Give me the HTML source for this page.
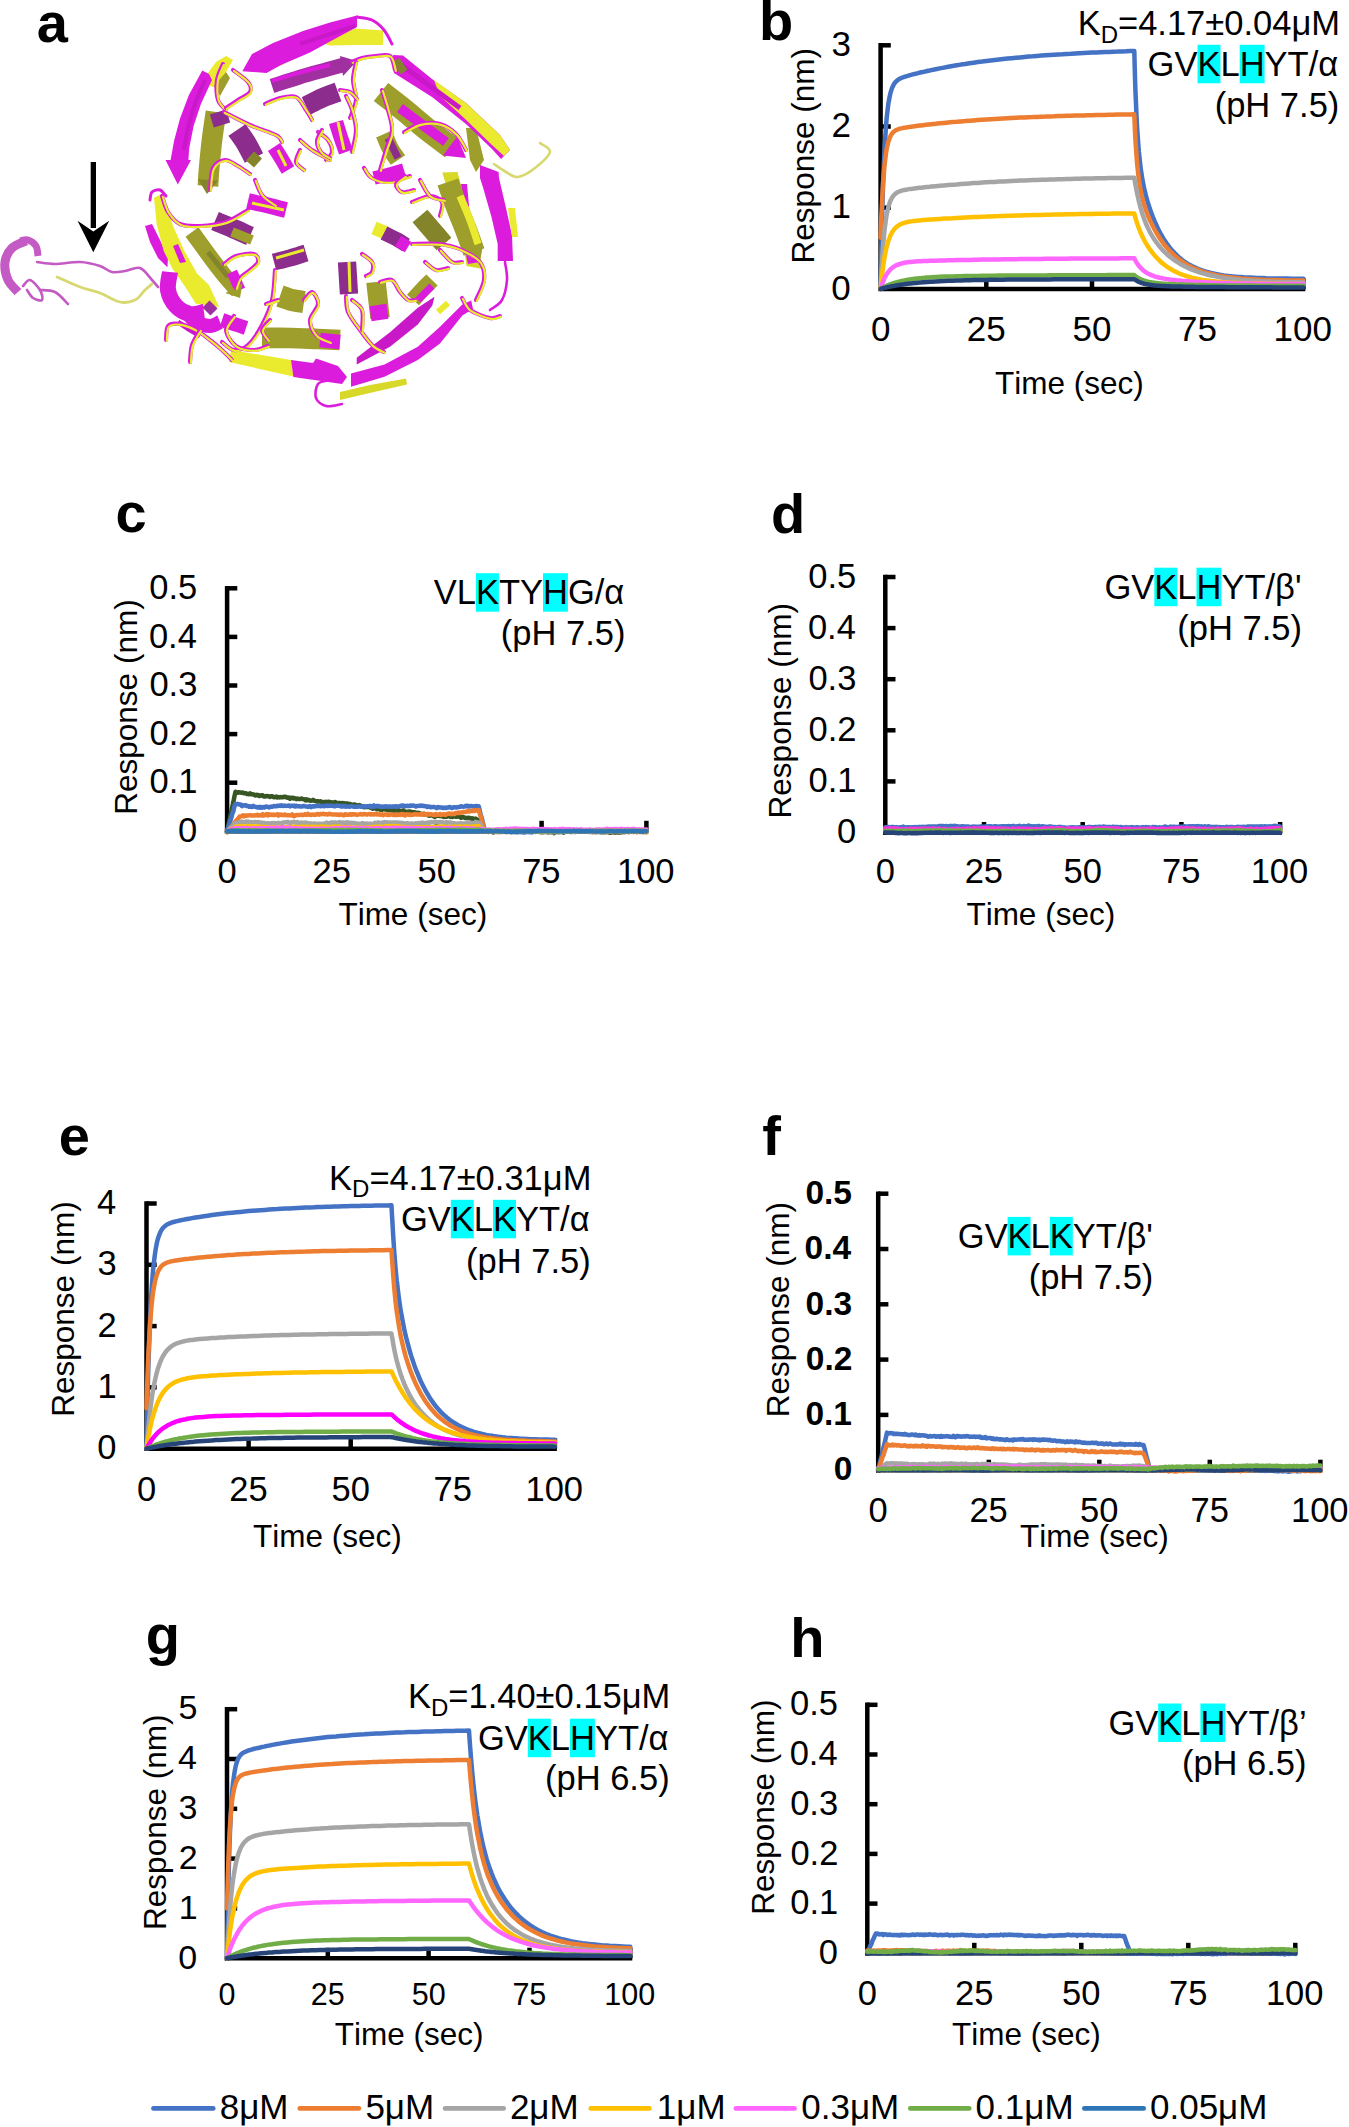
<!DOCTYPE html>
<html><head><meta charset="utf-8"><title>Figure</title>
<style>
html,body{margin:0;padding:0;background:#fff;}
body{width:1349px;height:2127px;overflow:hidden;}
svg{display:block;}
svg text{font-family:"Liberation Sans", sans-serif;font-kerning:none;}
</style></head><body>
<svg width="1349" height="2127" viewBox="0 0 1349 2127">
<rect width="1349" height="2127" fill="#fff"/>
<path d="M26 241 C23.7 242.2 15.5 244.5 12 248 C8.5 251.5 5.7 256.7 5 262 C4.3 267.3 5.8 275 8 280 C10.2 285 16.3 290 18 292" fill="none" stroke="#C45AC4" stroke-width="9" stroke-linecap="butt" stroke-linejoin="round"/>
<path d="M20 241 C21.3 240.8 25.3 239.2 28 240 C30.7 240.8 34.3 243.3 36 246 C37.7 248.7 37.7 254.3 38 256" fill="none" stroke="#C45AC4" stroke-width="7" stroke-linecap="butt" stroke-linejoin="round"/>
<path d="M37 262 C40 262.3 47.8 264 55 264 C62.2 264 72.5 261.7 80 262 C87.5 262.3 94.7 264.3 100 266 C105.3 267.7 107.8 271.2 112 272 C116.2 272.8 120.3 271.7 125 271 C129.7 270.3 135.5 266.5 140 268 C144.5 269.5 149 276.8 152 280 C155 283.2 157 285.8 158 287" fill="none" stroke="#C45AC4" stroke-width="2.6" stroke-linecap="round" stroke-linejoin="round"/>
<path d="M57 277 C60.8 278.7 72.8 284.3 80 287 C87.2 289.7 93.3 290.5 100 293 C106.7 295.5 114.2 300.8 120 302 C125.8 303.2 130.8 302 135 300 C139.2 298 142.2 292.7 145 290 C147.8 287.3 150.8 285 152 284" fill="none" stroke="#D8D870" stroke-width="2.8" stroke-linecap="round" stroke-linejoin="round"/>
<path d="M23 286 C24.2 285 27.2 279.3 30 280 C32.8 280.7 38 286.7 40 290 C42 293.3 43.2 298.7 42 300 C40.8 301.3 35.5 299.7 33 298 C30.5 296.3 28 291.3 27 290" fill="none" stroke="#C45AC4" stroke-width="2.6" stroke-linecap="round" stroke-linejoin="round"/>
<path d="M40 290 C42.5 290.3 50.3 289.7 55 292 C59.7 294.3 65.8 302 68 304" fill="none" stroke="#C45AC4" stroke-width="2.6" stroke-linecap="round" stroke-linejoin="round"/>
<rect x="90.7" y="162" width="5.3" height="66" fill="#000"/>
<polygon points="77.5,220.7 93.3,231.4 109.2,220.7 93.3,252.2" fill="#000"/>
<polygon points="383,30.5 356,28.5 330,36.5 316,41.5 330,45.5 356,45 383,45" fill="#EAEA2E"/>
<polygon points="265,62 281,58 283,65 268,67.5" fill="#EAEA2E"/>
<polygon points="357,15.5 330,22.5 303,31 273,43 252,54 242.3,71.2 266.5,73 281,65 310,52.5 330,41.5 357,27" fill="#DC1CDC"/>
<path d="M300 44 C305 42.3 320.8 37 330 34 C339.2 31 350.8 27.3 355 26" fill="none" stroke="#C818C8" stroke-width="4" stroke-linecap="butt" stroke-linejoin="round"/>
<path d="M357 17 C359.5 17.5 367.5 17.8 372 20 C376.5 22.2 380.7 26 384 30 C387.3 34 390.7 41.7 392 44" fill="none" stroke="#DC1CDC" stroke-width="3" stroke-linecap="round" stroke-linejoin="round"/>
<polygon points="208,73 216,62 226,56 233,60 226,72 216,88 210,86" fill="#EAEA2E"/>
<polygon points="214,86 226,72 230,78 220,96" fill="#9E9E2C"/>
<polygon points="202.3,70.5 188.9,94.9 180,118.6 174.1,140.8 170.6,160.1 165.5,160.1 177.8,184.5 191,160.1 188.4,160.1 189.2,148.3 193.6,126 201,103.8 212,80.1 209,74" fill="#DC1CDC"/>
<path d="M205 80 C203.3 84 197.8 96 195 104 C192.2 112 189.8 120.3 188 128 C186.2 135.7 184.7 146.3 184 150" fill="none" stroke="#C818C8" stroke-width="4" stroke-linecap="butt" stroke-linejoin="round"/>
<polygon points="145,226 152,224 160,240 168,258 167.4,267.2 158,258 150,242" fill="#DC1CDC"/>
<polygon points="154,197.8 156.7,224.5 163.8,251.2 172.7,269 185.2,286.8 195.8,303.7 219,307 209,285 197,273.4 184.5,251.2 173,226 167,205 161,194.2" fill="#EAEA2E"/>
<polygon points="173,246 178,244 186,262 180,263" fill="#DC1CDC"/>
<path d="M150 200 C150.3 198.7 150.3 193.7 152 192 C153.7 190.3 157.7 189.3 160 190 C162.3 190.7 165 195 166 196" fill="none" stroke="#DC1CDC" stroke-width="3" stroke-linecap="round" stroke-linejoin="round"/>
<path d="M170 272 C169.7 275 167 284.3 168 290 C169 295.7 172.3 302 176 306 C179.7 310 185.3 313 190 314 C194.7 315 201.7 312.3 204 312" fill="none" stroke="#DC1CDC" stroke-width="16" stroke-linecap="butt" stroke-linejoin="round"/>
<path d="M184 310 C186 312 191.7 319.3 196 322 C200.3 324.7 206 326 210 326 C214 326 218.3 322.7 220 322" fill="none" stroke="#DC1CDC" stroke-width="14" stroke-linecap="butt" stroke-linejoin="round"/>
<path d="M206 304 L214 312" fill="none" stroke="#A030A0" stroke-width="10" stroke-linecap="butt" stroke-linejoin="round"/>
<path d="M222 320 C224 320.7 230 322.7 234 324 C238 325.3 244 327.3 246 328" fill="none" stroke="#DC1CDC" stroke-width="14" stroke-linecap="butt" stroke-linejoin="round"/>
<path d="M178 322 C180 323.3 186.3 327.7 190 330 C193.7 332.3 198.3 335 200 336" fill="none" stroke="#C818C8" stroke-width="5" stroke-linecap="butt" stroke-linejoin="round"/>
<polygon points="231,350 291,360 293.4,376.5 229,362" fill="#EAEA2E"/>
<polygon points="291,360 313,363 316,358.5 338,366 347,377 342,384 293.4,377" fill="#DC1CDC"/>
<path d="M330 380 C328 380.7 320.3 381 318 384 C315.7 387 314.7 394.3 316 398 C317.3 401.7 321.7 405 326 406 C330.3 407 339.3 404.3 342 404" fill="none" stroke="#DC1CDC" stroke-width="2.6" stroke-linecap="round" stroke-linejoin="round"/>
<polygon points="351,373.4 384.5,364.5 417.8,346.7 440,326.7 462.3,304.5 471.2,300.5 473,309 462.3,315.6 440,343.4 417.8,360 384.5,376.7 351,386.7" fill="#DC1CDC"/>
<polygon points="356.7,357.8 390,332.3 417.8,307.8 434.5,296.7 432.3,305.6 417.8,324.5 390,346.7 356.7,364.5" fill="#C818C8"/>
<polygon points="340,392 370,385 406,378.5 407,384.5 372,392.5 340,400" fill="#D8D828"/>
<path d="M438 312 L448 303" fill="none" stroke="#EAEA2E" stroke-width="6" stroke-linecap="butt" stroke-linejoin="round"/>
<polygon points="442.3,172.6 457.5,172 466,205 476,235 482.6,269 466.5,266 462,236 452,205" fill="#D8D828"/>
<polygon points="461,234 474,232 480,262 468,264" fill="#DC1CDC"/>
<polygon points="461,184 467,184 470,217 465,217" fill="#DC1CDC"/>
<polygon points="466,128 476,128 484,160 476,172 470,160" fill="#9E9E2C"/>
<polygon points="480,165 498.6,172 499,178 506,208 512,235 513,261 497.7,261 497.7,244 491.5,217 482.6,186 480,178" fill="#DC1CDC"/>
<polygon points="508,208 515,208 518,237 512,237" fill="#EAEA2E"/>
<polygon points="393,55 403,55.5 432,79 466,103 500,135 510,150 501,159 492,149 466,124 432,97 394,73" fill="#DC1CDC"/>
<polygon points="434,80 466,103 500,135 510,150 504,156 492,145 463,117 440,96" fill="#EAEA2E"/>
<path d="M400 64 C405 67.7 420 78.7 430 86 C440 93.3 455 104.3 460 108" fill="none" stroke="#C818C8" stroke-width="5" stroke-linecap="butt" stroke-linejoin="round"/>
<path d="M396 60 L404 72" fill="none" stroke="#84842A" stroke-width="8" stroke-linecap="butt" stroke-linejoin="round"/>
<path d="M494 164 C496 165.3 502 169.8 506 172 C510 174.2 513.2 177.7 518 177 C522.8 176.3 529.7 172.2 535 168 C540.3 163.8 549.2 156.2 550 152 C550.8 147.8 541.7 144.5 540 143" fill="none" stroke="#D8D870" stroke-width="2.6" stroke-linecap="round" stroke-linejoin="round"/>
<path d="M505 262 C505.3 265 507.5 273.7 507 280 C506.5 286.3 504.8 295 502 300 C499.2 305 492 308.3 490 310" fill="none" stroke="#DC1CDC" stroke-width="2.6" stroke-linecap="round" stroke-linejoin="round"/>
<path d="M216 112 C215.3 116.7 213.2 130.3 212 140 C210.8 149.7 209.7 162.3 209 170 C208.3 177.7 208.2 183.3 208 186" fill="none" stroke="#9E9E2C" stroke-width="20.7" stroke-linecap="butt" stroke-linejoin="round"/>
<path d="M218 112 L222 125" fill="none" stroke="#8C2C8C" stroke-width="17.1" stroke-linecap="butt" stroke-linejoin="round"/>
<polygon points="198,179.3 207,194 218,180.7" fill="#84842A"/>
<path d="M237 130 C238.5 132.2 243.2 138.3 246 143 C248.8 147.7 252.7 155.5 254 158" fill="none" stroke="#8C2C8C" stroke-width="20.7" stroke-linecap="butt" stroke-linejoin="round"/>
<path d="M250 156 L258 163" fill="none" stroke="#84842A" stroke-width="12.2" stroke-linecap="butt" stroke-linejoin="round"/>
<path d="M274 147 C275.2 148.8 278.7 154.2 281 158 C283.3 161.8 286.8 168 288 170" fill="none" stroke="#DC1CDC" stroke-width="14.6" stroke-linecap="butt" stroke-linejoin="round"/>
<path d="M278 150 L286 166" fill="none" stroke="#EAEA2E" stroke-width="3" stroke-linecap="butt" stroke-linejoin="round"/>
<path d="M223 64 C222 66.7 217.8 74 217 80 C216.2 86 216.5 95 218 100 C219.5 105 224.7 108.3 226 110" fill="none" stroke="#DC1CDC" stroke-width="4.1" stroke-linecap="round" stroke-linejoin="round"/>
<path d="M223.9 64.9 C222.9 67.6 218.7 74.9 217.9 80.9 C217.1 86.9 217.4 95.9 218.9 100.9 C220.4 105.9 225.6 109.2 226.9 110.9" fill="none" stroke="#EAEA2E" stroke-width="2.2" stroke-linecap="round" stroke-linejoin="round"/>
<path d="M224 112 C228.3 114.2 241.3 121.2 250 125 C258.7 128.8 270.7 132.2 276 135 C281.3 137.8 281 140.8 282 142" fill="none" stroke="#DC1CDC" stroke-width="4.1" stroke-linecap="round" stroke-linejoin="round"/>
<path d="M224.9 112.9 C229.2 115.1 242.2 122.1 250.9 125.9 C259.6 129.7 271.6 133.1 276.9 135.9 C282.2 138.7 281.9 141.7 282.9 142.9" fill="none" stroke="#EAEA2E" stroke-width="2.2" stroke-linecap="round" stroke-linejoin="round"/>
<path d="M210 190 C210.5 186.3 210.5 173 213 168 C215.5 163 220.8 160.3 225 160 C229.2 159.7 233.8 163.7 238 166 C242.2 168.3 248 172.7 250 174" fill="none" stroke="#DC1CDC" stroke-width="4.1" stroke-linecap="round" stroke-linejoin="round"/>
<path d="M210.9 190.9 C211.4 187.2 211.4 173.9 213.9 168.9 C216.4 163.9 221.7 161.2 225.9 160.9 C230.1 160.6 234.7 164.6 238.9 166.9 C243.1 169.2 248.9 173.6 250.9 174.9" fill="none" stroke="#EAEA2E" stroke-width="2.2" stroke-linecap="round" stroke-linejoin="round"/>
<path d="M233 70 C235.5 72 245.2 78.3 248 82 C250.8 85.7 251.7 89 250 92 C248.3 95 242 97.3 238 100 C234 102.7 228 106.7 226 108" fill="none" stroke="#DC1CDC" stroke-width="4.1" stroke-linecap="round" stroke-linejoin="round"/>
<path d="M233.9 70.9 C236.4 72.9 246.1 79.2 248.9 82.9 C251.7 86.6 252.6 89.9 250.9 92.9 C249.2 95.9 242.9 98.2 238.9 100.9 C234.9 103.6 228.9 107.6 226.9 108.9" fill="none" stroke="#EAEA2E" stroke-width="2.2" stroke-linecap="round" stroke-linejoin="round"/>
<path d="M272 86 C276.7 84.5 291.2 79.7 300 77 C308.8 74.3 317.8 72 325 70 C332.2 68 340 65.8 343 65" fill="none" stroke="#A030A0" stroke-width="14.6" stroke-linecap="butt" stroke-linejoin="round"/>
<path d="M272 81 C276.7 79.6 290.3 75.2 300 72.5 C309.7 69.8 325 66.2 330 65" fill="none" stroke="#DC1CDC" stroke-width="4" stroke-linecap="butt" stroke-linejoin="round"/>
<polygon points="340,56 357,61 343,76" fill="#A030A0"/>
<path d="M306 106 C308.7 104.7 316.7 100.3 322 98 C327.3 95.7 335.3 93 338 92" fill="none" stroke="#8C2C8C" stroke-width="19.5" stroke-linecap="butt" stroke-linejoin="round"/>
<path d="M336 122 C336.8 124.7 339.3 133 341 138 C342.7 143 345.2 149.7 346 152" fill="none" stroke="#DC1CDC" stroke-width="14.6" stroke-linecap="butt" stroke-linejoin="round"/>
<path d="M338 122 L344 150" fill="none" stroke="#EAEA2E" stroke-width="3" stroke-linecap="butt" stroke-linejoin="round"/>
<path d="M265 104 C267.5 103 274.8 99.2 280 98 C285.2 96.8 291.7 95 296 97 C300.3 99 303.3 106.2 306 110 C308.7 113.8 311 118.3 312 120" fill="none" stroke="#DC1CDC" stroke-width="4.1" stroke-linecap="round" stroke-linejoin="round"/>
<path d="M265.9 104.9 C268.4 103.9 275.7 100.1 280.9 98.9 C286.1 97.7 292.6 95.9 296.9 97.9 C301.2 99.9 304.2 107.1 306.9 110.9 C309.6 114.7 311.9 119.2 312.9 120.9" fill="none" stroke="#EAEA2E" stroke-width="2.2" stroke-linecap="round" stroke-linejoin="round"/>
<path d="M352 62 C353.7 61.3 358 59 362 58 C366 57 371.3 56.3 376 56 C380.7 55.7 386.8 53.7 390 56 C393.2 58.3 394.2 67.7 395 70" fill="none" stroke="#DC1CDC" stroke-width="4.1" stroke-linecap="round" stroke-linejoin="round"/>
<path d="M352.9 62.9 C354.6 62.2 358.9 59.9 362.9 58.9 C366.9 57.9 372.2 57.2 376.9 56.9 C381.6 56.6 387.7 54.6 390.9 56.9 C394.1 59.2 395.1 68.6 395.9 70.9" fill="none" stroke="#EAEA2E" stroke-width="2.2" stroke-linecap="round" stroke-linejoin="round"/>
<path d="M356 62 C355.5 65 353 73.7 353 80 C353 86.3 356.5 93.7 356 100 C355.5 106.3 351 115 350 118" fill="none" stroke="#DC1CDC" stroke-width="4.1" stroke-linecap="round" stroke-linejoin="round"/>
<path d="M356.9 62.9 C356.4 65.9 353.9 74.6 353.9 80.9 C353.9 87.2 357.4 94.6 356.9 100.9 C356.4 107.2 351.9 115.9 350.9 118.9" fill="none" stroke="#EAEA2E" stroke-width="2.2" stroke-linecap="round" stroke-linejoin="round"/>
<path d="M352 152 C352.7 148.3 356 137 356 130 C356 123 353.7 115.7 352 110 C350.3 104.3 347 98.3 346 96" fill="none" stroke="#DC1CDC" stroke-width="4.1" stroke-linecap="round" stroke-linejoin="round"/>
<path d="M352.9 152.9 C353.6 149.2 356.9 137.9 356.9 130.9 C356.9 123.9 354.6 116.6 352.9 110.9 C351.2 105.2 347.9 99.2 346.9 96.9" fill="none" stroke="#EAEA2E" stroke-width="2.2" stroke-linecap="round" stroke-linejoin="round"/>
<path d="M381 92 C384.8 95 396.2 103.7 404 110 C411.8 116.3 420 123.7 428 130 C436 136.3 448 145 452 148" fill="none" stroke="#9E9E2C" stroke-width="23.2" stroke-linecap="butt" stroke-linejoin="round"/>
<path d="M400 108 C404 111 416.3 120.3 424 126 C431.7 131.7 442.3 139.3 446 142" fill="none" stroke="#DC1CDC" stroke-width="9.8" stroke-linecap="butt" stroke-linejoin="round"/>
<polygon points="442.8,155.6 466,158 457.2,136.4" fill="#DC1CDC"/>
<path d="M384 134 C385 136.3 387.7 143.7 390 148 C392.3 152.3 396.7 158 398 160" fill="none" stroke="#9E9E2C" stroke-width="17.1" stroke-linecap="butt" stroke-linejoin="round"/>
<path d="M388 138 L398 158" fill="none" stroke="#8C2C8C" stroke-width="7.3" stroke-linecap="butt" stroke-linejoin="round"/>
<path d="M374 178 C376.7 177.3 385 175.3 390 174 C395 172.7 401.7 170.7 404 170" fill="none" stroke="#DC1CDC" stroke-width="13.4" stroke-linecap="butt" stroke-linejoin="round"/>
<path d="M382 90 C383 93.3 386.3 103.3 388 110 C389.7 116.7 392.3 123.3 392 130 C391.7 136.7 388 143.3 386 150 C384 156.7 381 166.7 380 170" fill="none" stroke="#DC1CDC" stroke-width="4.1" stroke-linecap="round" stroke-linejoin="round"/>
<path d="M382.9 90.9 C383.9 94.2 387.2 104.2 388.9 110.9 C390.6 117.6 393.2 124.2 392.9 130.9 C392.6 137.6 388.9 144.2 386.9 150.9 C384.9 157.6 381.9 167.6 380.9 170.9" fill="none" stroke="#EAEA2E" stroke-width="2.2" stroke-linecap="round" stroke-linejoin="round"/>
<path d="M404 132 C406.7 130.7 414 125.3 420 124 C426 122.7 434 122.3 440 124 C446 125.7 451.7 129.7 456 134 C460.3 138.3 464.3 147.3 466 150" fill="none" stroke="#DC1CDC" stroke-width="4.1" stroke-linecap="round" stroke-linejoin="round"/>
<path d="M404.9 132.9 C407.6 131.6 414.9 126.2 420.9 124.9 C426.9 123.6 434.9 123.2 440.9 124.9 C446.9 126.6 452.6 130.6 456.9 134.9 C461.2 139.2 465.2 148.2 466.9 150.9" fill="none" stroke="#EAEA2E" stroke-width="2.2" stroke-linecap="round" stroke-linejoin="round"/>
<path d="M364 168 C365.3 169.7 367.7 175.7 372 178 C376.3 180.3 383.7 182.3 390 182 C396.3 181.7 406.7 177 410 176" fill="none" stroke="#DC1CDC" stroke-width="4.1" stroke-linecap="round" stroke-linejoin="round"/>
<path d="M364.9 168.9 C366.2 170.6 368.6 176.6 372.9 178.9 C377.2 181.2 384.6 183.2 390.9 182.9 C397.2 182.6 407.6 177.9 410.9 176.9" fill="none" stroke="#EAEA2E" stroke-width="2.2" stroke-linecap="round" stroke-linejoin="round"/>
<path d="M448 182 C449.3 185.8 453 197 456 205 C459 213 463 222.2 466 230 C469 237.8 472.7 248.3 474 252" fill="none" stroke="#9E9E2C" stroke-width="22" stroke-linecap="butt" stroke-linejoin="round"/>
<path d="M460 196 C461.7 200 467 212 470 220 C473 228 476.7 240 478 244" fill="none" stroke="#EAEA2E" stroke-width="7.3" stroke-linecap="butt" stroke-linejoin="round"/>
<polygon points="465.1,254.5 480,262 482.9,245.5" fill="#9E9E2C"/>
<path d="M420 216 C422 218.3 428 225.3 432 230 C436 234.7 442 241.7 444 244" fill="none" stroke="#84842A" stroke-width="19.5" stroke-linecap="butt" stroke-linejoin="round"/>
<path d="M374 228 L386 233" fill="none" stroke="#EAEA2E" stroke-width="13.4" stroke-linecap="butt" stroke-linejoin="round"/>
<path d="M384 233 C386.3 234.2 394.3 238 398 240 C401.7 242 404.7 244.2 406 245" fill="none" stroke="#8C2C8C" stroke-width="14.6" stroke-linecap="butt" stroke-linejoin="round"/>
<path d="M398 241 L408 247" fill="none" stroke="#DC1CDC" stroke-width="12.2" stroke-linecap="butt" stroke-linejoin="round"/>
<path d="M412 244 C416.7 244 431.7 243 440 244 C448.3 245 455.3 247 462 250 C468.7 253 476.3 257 480 262 C483.7 267 484.7 273.7 484 280 C483.3 286.3 477.3 296.7 476 300" fill="none" stroke="#DC1CDC" stroke-width="4.1" stroke-linecap="round" stroke-linejoin="round"/>
<path d="M412.9 244.9 C417.6 244.9 432.6 243.9 440.9 244.9 C449.2 245.9 456.2 247.9 462.9 250.9 C469.6 253.9 477.2 257.9 480.9 262.9 C484.6 267.9 485.6 274.6 484.9 280.9 C484.2 287.2 478.2 297.6 476.9 300.9" fill="none" stroke="#EAEA2E" stroke-width="2.2" stroke-linecap="round" stroke-linejoin="round"/>
<path d="M412 202 C415 201 425 196 430 196 C435 196 440.3 198.7 442 202 C443.7 205.3 440.3 213.7 440 216" fill="none" stroke="#DC1CDC" stroke-width="4.1" stroke-linecap="round" stroke-linejoin="round"/>
<path d="M412.9 202.9 C415.9 201.9 425.9 196.9 430.9 196.9 C435.9 196.9 441.2 199.6 442.9 202.9 C444.6 206.2 441.2 214.6 440.9 216.9" fill="none" stroke="#EAEA2E" stroke-width="2.2" stroke-linecap="round" stroke-linejoin="round"/>
<path d="M347 262 C347.2 264.7 347.7 272.7 348 278 C348.3 283.3 348.8 291.3 349 294" fill="none" stroke="#8C2C8C" stroke-width="18.3" stroke-linecap="butt" stroke-linejoin="round"/>
<path d="M349 262 L350 292" fill="none" stroke="#EAEA2E" stroke-width="3" stroke-linecap="butt" stroke-linejoin="round"/>
<path d="M376 282 C376.3 285 377.3 294 378 300 C378.7 306 379.7 315 380 318" fill="none" stroke="#9E9E2C" stroke-width="19.5" stroke-linecap="butt" stroke-linejoin="round"/>
<path d="M378 305 L380 320" fill="none" stroke="#DC1CDC" stroke-width="17.1" stroke-linecap="butt" stroke-linejoin="round"/>
<path d="M413 300 C414.5 298.3 418.8 293.3 422 290 C425.2 286.7 430.3 281.7 432 280" fill="none" stroke="#9E9E2C" stroke-width="15.9" stroke-linecap="butt" stroke-linejoin="round"/>
<path d="M418 300 L432 286" fill="none" stroke="#DC1CDC" stroke-width="7.3" stroke-linecap="butt" stroke-linejoin="round"/>
<path d="M346 296 C346.3 298.7 345.7 306.3 348 312 C350.3 317.7 356 324.5 360 330 C364 335.5 368 341.3 372 345 C376 348.7 382 350.8 384 352" fill="none" stroke="#DC1CDC" stroke-width="4.1" stroke-linecap="round" stroke-linejoin="round"/>
<path d="M346.9 296.9 C347.2 299.6 346.6 307.2 348.9 312.9 C351.2 318.6 356.9 325.4 360.9 330.9 C364.9 336.4 368.9 342.2 372.9 345.9 C376.9 349.6 382.9 351.7 384.9 352.9" fill="none" stroke="#EAEA2E" stroke-width="2.2" stroke-linecap="round" stroke-linejoin="round"/>
<path d="M380 282 C382 281.7 388.7 278.3 392 280 C395.3 281.7 397.3 288.7 400 292 C402.7 295.3 405.5 298.7 408 300 C410.5 301.3 413.8 300 415 300" fill="none" stroke="#DC1CDC" stroke-width="4.1" stroke-linecap="round" stroke-linejoin="round"/>
<path d="M380.9 282.9 C382.9 282.6 389.6 279.2 392.9 280.9 C396.2 282.6 398.2 289.6 400.9 292.9 C403.6 296.2 406.4 299.6 408.9 300.9 C411.4 302.2 414.7 300.9 415.9 300.9" fill="none" stroke="#EAEA2E" stroke-width="2.2" stroke-linecap="round" stroke-linejoin="round"/>
<path d="M362 254 C363.7 255.3 370.3 259 372 262 C373.7 265 373 269.7 372 272 C371 274.3 367 275.3 366 276" fill="none" stroke="#DC1CDC" stroke-width="4.1" stroke-linecap="round" stroke-linejoin="round"/>
<path d="M362.9 254.9 C364.6 256.2 371.2 259.9 372.9 262.9 C374.6 265.9 373.9 270.6 372.9 272.9 C371.9 275.2 367.9 276.2 366.9 276.9" fill="none" stroke="#EAEA2E" stroke-width="2.2" stroke-linecap="round" stroke-linejoin="round"/>
<path d="M262 338 C266.7 338 280.7 337.8 290 338 C299.3 338.2 309.7 338.7 318 339 C326.3 339.3 336.3 339.8 340 340" fill="none" stroke="#9E9E2C" stroke-width="20.7" stroke-linecap="butt" stroke-linejoin="round"/>
<path d="M320 340 L340 342" fill="none" stroke="#DC1CDC" stroke-width="14.6" stroke-linecap="butt" stroke-linejoin="round"/>
<path d="M280 296 C282 296.7 288 299 292 300 C296 301 302 301.7 304 302" fill="none" stroke="#9E9E2C" stroke-width="22" stroke-linecap="butt" stroke-linejoin="round"/>
<path d="M274 262 C276.7 261.3 284.7 259.5 290 258 C295.3 256.5 303.3 253.8 306 253" fill="none" stroke="#8C2C8C" stroke-width="17.1" stroke-linecap="butt" stroke-linejoin="round"/>
<path d="M276 258 L304 250" fill="none" stroke="#EAEA2E" stroke-width="3" stroke-linecap="butt" stroke-linejoin="round"/>
<path d="M275 270 C274.5 275 274.2 290.8 272 300 C269.8 309.2 266 317.5 262 325 C258 332.5 252.7 340.8 248 345 C243.3 349.2 238.3 350.5 234 350 C229.7 349.5 224 343.3 222 342" fill="none" stroke="#DC1CDC" stroke-width="4.1" stroke-linecap="round" stroke-linejoin="round"/>
<path d="M275.9 270.9 C275.4 275.9 275.1 291.7 272.9 300.9 C270.7 310.1 266.9 318.4 262.9 325.9 C258.9 333.4 253.6 341.7 248.9 345.9 C244.2 350.1 239.2 351.4 234.9 350.9 C230.6 350.4 224.9 344.2 222.9 342.9" fill="none" stroke="#EAEA2E" stroke-width="2.2" stroke-linecap="round" stroke-linejoin="round"/>
<path d="M304 300 C305.3 298.7 309.7 291.3 312 292 C314.3 292.7 318.3 299.3 318 304 C317.7 308.7 310.3 314.8 310 320 C309.7 325.2 312.7 331.3 316 335 C319.3 338.7 327.7 340.8 330 342" fill="none" stroke="#DC1CDC" stroke-width="4.1" stroke-linecap="round" stroke-linejoin="round"/>
<path d="M304.9 300.9 C306.2 299.6 310.6 292.2 312.9 292.9 C315.2 293.6 319.2 300.2 318.9 304.9 C318.6 309.6 311.2 315.7 310.9 320.9 C310.6 326.1 313.6 332.2 316.9 335.9 C320.2 339.6 328.6 341.7 330.9 342.9" fill="none" stroke="#EAEA2E" stroke-width="2.2" stroke-linecap="round" stroke-linejoin="round"/>
<path d="M278 300 L266 304" fill="none" stroke="#DC1CDC" stroke-width="4.1" stroke-linecap="round" stroke-linejoin="round"/>
<path d="M278.9 300.9 L266.9 304.9" fill="none" stroke="#EAEA2E" stroke-width="2.2" stroke-linecap="round" stroke-linejoin="round"/>
<path d="M192 232 C194.7 235.7 202.7 246.8 208 254 C213.3 261.2 219 268.8 224 275 C229 281.2 235.7 288.3 238 291" fill="none" stroke="#9E9E2C" stroke-width="15.9" stroke-linecap="butt" stroke-linejoin="round"/>
<path d="M208 252 L228 277" fill="none" stroke="#84842A" stroke-width="5" stroke-linecap="butt" stroke-linejoin="round"/>
<path d="M232 272 L240 290" fill="none" stroke="#DC1CDC" stroke-width="11" stroke-linecap="butt" stroke-linejoin="round"/>
<polygon points="225.4,293.1 240,298 242.6,282.9" fill="#9E9E2C"/>
<path d="M215 221 C217.8 222.2 226.2 225.5 232 228 C237.8 230.5 247 234.7 250 236" fill="none" stroke="#8C2C8C" stroke-width="19.5" stroke-linecap="butt" stroke-linejoin="round"/>
<path d="M232 232 L252 240" fill="none" stroke="#9E9E2C" stroke-width="9.8" stroke-linecap="butt" stroke-linejoin="round"/>
<path d="M248 201 C251 201.7 259.7 203.5 266 205 C272.3 206.5 282.7 209.2 286 210" fill="none" stroke="#DC1CDC" stroke-width="15.9" stroke-linecap="butt" stroke-linejoin="round"/>
<path d="M252 203 L284 210" fill="none" stroke="#EAEA2E" stroke-width="3" stroke-linecap="butt" stroke-linejoin="round"/>
<path d="M162 196 C163 198.7 165 207.3 168 212 C171 216.7 174.7 221.7 180 224 C185.3 226.3 192.3 226.3 200 226 C207.7 225.7 218 224.7 226 222 C234 219.3 244.3 212 248 210" fill="none" stroke="#DC1CDC" stroke-width="4.1" stroke-linecap="round" stroke-linejoin="round"/>
<path d="M162.9 196.9 C163.9 199.6 165.9 208.2 168.9 212.9 C171.9 217.6 175.6 222.6 180.9 224.9 C186.2 227.2 193.2 227.2 200.9 226.9 C208.6 226.6 218.9 225.6 226.9 222.9 C234.9 220.2 245.2 212.9 248.9 210.9" fill="none" stroke="#EAEA2E" stroke-width="2.2" stroke-linecap="round" stroke-linejoin="round"/>
<path d="M224 264 C226 262.7 231 257.7 236 256 C241 254.3 250.3 253 254 254 C257.7 255 258.7 259.3 258 262 C257.3 264.7 253 267.3 250 270 C247 272.7 242.3 275 240 278 C237.7 281 236.7 286.3 236 288" fill="none" stroke="#DC1CDC" stroke-width="4.1" stroke-linecap="round" stroke-linejoin="round"/>
<path d="M224.9 264.9 C226.9 263.6 231.9 258.6 236.9 256.9 C241.9 255.2 251.2 253.9 254.9 254.9 C258.6 255.9 259.6 260.2 258.9 262.9 C258.2 265.6 253.9 268.2 250.9 270.9 C247.9 273.6 243.2 275.9 240.9 278.9 C238.6 281.9 237.6 287.2 236.9 288.9" fill="none" stroke="#EAEA2E" stroke-width="2.2" stroke-linecap="round" stroke-linejoin="round"/>
<path d="M166 340 C166.3 337.7 165.7 328.7 168 326 C170.3 323.3 175.3 323.3 180 324 C184.7 324.7 191 327.3 196 330 C201 332.7 205.7 336.7 210 340 C214.3 343.3 218.3 346.7 222 350 C225.7 353.3 230.3 358.3 232 360" fill="none" stroke="#DC1CDC" stroke-width="4.1" stroke-linecap="round" stroke-linejoin="round"/>
<path d="M166.9 340.9 C167.2 338.6 166.6 329.6 168.9 326.9 C171.2 324.2 176.2 324.2 180.9 324.9 C185.6 325.6 191.9 328.2 196.9 330.9 C201.9 333.6 206.6 337.6 210.9 340.9 C215.2 344.2 219.2 347.6 222.9 350.9 C226.6 354.2 231.2 359.2 232.9 360.9" fill="none" stroke="#EAEA2E" stroke-width="2.2" stroke-linecap="round" stroke-linejoin="round"/>
<path d="M234 316 C232.7 318.3 225.7 325 226 330 C226.3 335 231.3 342.7 236 346 C240.7 349.3 248.7 350 254 350 C259.3 350 265.7 346.7 268 346" fill="none" stroke="#DC1CDC" stroke-width="4.1" stroke-linecap="round" stroke-linejoin="round"/>
<path d="M234.9 316.9 C233.6 319.2 226.6 325.9 226.9 330.9 C227.2 335.9 232.2 343.6 236.9 346.9 C241.6 350.2 249.6 350.9 254.9 350.9 C260.2 350.9 266.6 347.6 268.9 346.9" fill="none" stroke="#EAEA2E" stroke-width="2.2" stroke-linecap="round" stroke-linejoin="round"/>
<path d="M190 362 C190.3 359.2 190.3 350.3 192 345 C193.7 339.7 198.7 332.5 200 330" fill="none" stroke="#DC1CDC" stroke-width="4.1" stroke-linecap="round" stroke-linejoin="round"/>
<path d="M190.9 362.9 C191.2 360.1 191.2 351.2 192.9 345.9 C194.6 340.6 199.6 333.4 200.9 330.9" fill="none" stroke="#EAEA2E" stroke-width="2.2" stroke-linecap="round" stroke-linejoin="round"/>
<path d="M318 132 C319.7 133.3 325.7 136.7 328 140 C330.3 143.3 332.3 148.7 332 152 C331.7 155.3 327 158.7 326 160" fill="none" stroke="#DC1CDC" stroke-width="4.1" stroke-linecap="round" stroke-linejoin="round"/>
<path d="M318.9 132.9 C320.6 134.2 326.6 137.6 328.9 140.9 C331.2 144.2 333.2 149.6 332.9 152.9 C332.6 156.2 327.9 159.6 326.9 160.9" fill="none" stroke="#EAEA2E" stroke-width="2.2" stroke-linecap="round" stroke-linejoin="round"/>
<path d="M300 140 C302 141.7 307 146.7 312 150 C317 153.3 327 158.3 330 160" fill="none" stroke="#DC1CDC" stroke-width="4.1" stroke-linecap="round" stroke-linejoin="round"/>
<path d="M300.9 140.9 C302.9 142.6 307.9 147.6 312.9 150.9 C317.9 154.2 327.9 159.2 330.9 160.9" fill="none" stroke="#EAEA2E" stroke-width="2.2" stroke-linecap="round" stroke-linejoin="round"/>
<path d="M462 298 C463.3 300 465.3 306.7 470 310 C474.7 313.3 485 317 490 318 C495 319 498.3 316.3 500 316" fill="none" stroke="#DC1CDC" stroke-width="4.1" stroke-linecap="round" stroke-linejoin="round"/>
<path d="M462.9 298.9 C464.2 300.9 466.2 307.6 470.9 310.9 C475.6 314.2 485.9 317.9 490.9 318.9 C495.9 319.9 499.2 317.2 500.9 316.9" fill="none" stroke="#EAEA2E" stroke-width="2.2" stroke-linecap="round" stroke-linejoin="round"/>
<path d="M352 300 C353.7 301.7 360.3 305 362 310 C363.7 315 362 326.7 362 330" fill="none" stroke="#DC1CDC" stroke-width="4.1" stroke-linecap="round" stroke-linejoin="round"/>
<path d="M352.9 300.9 C354.6 302.6 361.2 305.9 362.9 310.9 C364.6 315.9 362.9 327.6 362.9 330.9" fill="none" stroke="#EAEA2E" stroke-width="2.2" stroke-linecap="round" stroke-linejoin="round"/>
<path d="M255 180 C256.2 182.5 258.7 190.8 262 195 C265.3 199.2 272.8 203.3 275 205" fill="none" stroke="#DC1CDC" stroke-width="4.1" stroke-linecap="round" stroke-linejoin="round"/>
<path d="M255.9 180.9 C257.1 183.4 259.6 191.7 262.9 195.9 C266.2 200.1 273.7 204.2 275.9 205.9" fill="none" stroke="#EAEA2E" stroke-width="2.2" stroke-linecap="round" stroke-linejoin="round"/>
<path d="M420 180 C421.7 182.7 426 192.7 430 196 C434 199.3 441.7 199.3 444 200" fill="none" stroke="#DC1CDC" stroke-width="4.1" stroke-linecap="round" stroke-linejoin="round"/>
<path d="M420.9 180.9 C422.6 183.6 426.9 193.6 430.9 196.9 C434.9 200.2 442.6 200.2 444.9 200.9" fill="none" stroke="#EAEA2E" stroke-width="2.2" stroke-linecap="round" stroke-linejoin="round"/>
<path d="M440 250 C442 252 448.3 260 452 262 C455.7 264 460.3 262 462 262" fill="none" stroke="#DC1CDC" stroke-width="4.1" stroke-linecap="round" stroke-linejoin="round"/>
<path d="M440.9 250.9 C442.9 252.9 449.2 260.9 452.9 262.9 C456.6 264.9 461.2 262.9 462.9 262.9" fill="none" stroke="#EAEA2E" stroke-width="2.2" stroke-linecap="round" stroke-linejoin="round"/>
<path d="M322 130 C321.2 131.8 317.2 137.3 317 141 C316.8 144.7 318.8 149.2 321 152 C323.2 154.8 328.5 157 330 158" fill="none" stroke="#DC1CDC" stroke-width="4.1" stroke-linecap="round" stroke-linejoin="round"/>
<path d="M322.9 130.9 C322.1 132.7 318.1 138.2 317.9 141.9 C317.7 145.6 319.7 150.1 321.9 152.9 C324.1 155.7 329.4 157.9 330.9 158.9" fill="none" stroke="#EAEA2E" stroke-width="2.2" stroke-linecap="round" stroke-linejoin="round"/>
<path d="M340 90 C341.7 90.3 347.2 90.5 350 92 C352.8 93.5 355.8 97.8 357 99" fill="none" stroke="#DC1CDC" stroke-width="4.1" stroke-linecap="round" stroke-linejoin="round"/>
<path d="M340.9 90.9 C342.6 91.2 348.1 91.4 350.9 92.9 C353.7 94.4 356.7 98.7 357.9 99.9" fill="none" stroke="#EAEA2E" stroke-width="2.2" stroke-linecap="round" stroke-linejoin="round"/>
<path d="M300 150 C299.3 152 295.3 158.7 296 162 C296.7 165.3 302.7 168.7 304 170" fill="none" stroke="#DC1CDC" stroke-width="4.1" stroke-linecap="round" stroke-linejoin="round"/>
<path d="M300.9 150.9 C300.2 152.9 296.2 159.6 296.9 162.9 C297.6 166.2 303.6 169.6 304.9 170.9" fill="none" stroke="#EAEA2E" stroke-width="2.2" stroke-linecap="round" stroke-linejoin="round"/>
<path d="M405 176 C403.5 177.3 396.5 181.3 396 184 C395.5 186.7 399 191 402 192 C405 193 412 190.3 414 190" fill="none" stroke="#DC1CDC" stroke-width="4.1" stroke-linecap="round" stroke-linejoin="round"/>
<path d="M405.9 176.9 C404.4 178.2 397.4 182.2 396.9 184.9 C396.4 187.6 399.9 191.9 402.9 192.9 C405.9 193.9 412.9 191.2 414.9 190.9" fill="none" stroke="#EAEA2E" stroke-width="2.2" stroke-linecap="round" stroke-linejoin="round"/>
<path d="M425 262 C426.8 263.3 432.2 269 436 270 C439.8 271 446 268.3 448 268" fill="none" stroke="#DC1CDC" stroke-width="4.1" stroke-linecap="round" stroke-linejoin="round"/>
<path d="M425.9 262.9 C427.7 264.2 433.1 269.9 436.9 270.9 C440.7 271.9 446.9 269.2 448.9 268.9" fill="none" stroke="#EAEA2E" stroke-width="2.2" stroke-linecap="round" stroke-linejoin="round"/>
<path d="M270 320 C268.7 321.7 262.3 326.7 262 330 C261.7 333.3 267 338.3 268 340" fill="none" stroke="#DC1CDC" stroke-width="4.1" stroke-linecap="round" stroke-linejoin="round"/>
<path d="M270.9 320.9 C269.6 322.6 263.2 327.6 262.9 330.9 C262.6 334.2 267.9 339.2 268.9 340.9" fill="none" stroke="#EAEA2E" stroke-width="2.2" stroke-linecap="round" stroke-linejoin="round"/>
<text x="36.8" y="42.3" font-size="56" font-weight="bold" fill="#000">a</text>
<text x="759.1" y="40" font-size="56" font-weight="bold" fill="#000">b</text>
<text x="115.6" y="531.6" font-size="56" font-weight="bold" fill="#000">c</text>
<text x="771" y="532.8" font-size="56" font-weight="bold" fill="#000">d</text>
<text x="58.8" y="1155.2" font-size="56" font-weight="bold" fill="#000">e</text>
<text x="762.2" y="1154.5" font-size="56" font-weight="bold" fill="#000">f</text>
<text x="145.8" y="1653.5" font-size="56" font-weight="bold" fill="#000">g</text>
<text x="790.3" y="1656.5" font-size="56" font-weight="bold" fill="#000">h</text>
<line x1="880.6" y1="43.1" x2="880.6" y2="291.1" stroke="#000" stroke-width="4.5" stroke-linecap="butt"/>
<line x1="880.6" y1="207.7" x2="890.8" y2="207.7" stroke="#000" stroke-width="4.5" stroke-linecap="butt"/>
<line x1="880.6" y1="126.5" x2="890.8" y2="126.5" stroke="#000" stroke-width="4.5" stroke-linecap="butt"/>
<line x1="880.6" y1="45.3" x2="890.8" y2="45.3" stroke="#000" stroke-width="4.5" stroke-linecap="butt"/>
<line x1="878.4" y1="288.9" x2="1305.4" y2="288.9" stroke="#000" stroke-width="4.5" stroke-linecap="butt"/>
<line x1="986.3" y1="288.9" x2="986.3" y2="278.4" stroke="#000" stroke-width="4.5" stroke-linecap="butt"/>
<line x1="1092" y1="288.9" x2="1092" y2="278.4" stroke="#000" stroke-width="4.5" stroke-linecap="butt"/>
<line x1="1197.7" y1="288.9" x2="1197.7" y2="278.4" stroke="#000" stroke-width="4.5" stroke-linecap="butt"/>
<line x1="1303.4" y1="288.9" x2="1303.4" y2="278.4" stroke="#000" stroke-width="4.5" stroke-linecap="butt"/>
<path d="M880.6 288.9 L881 265.6 L881.4 244.9 L881.9 226.5 L882.3 210.2 L882.7 195.7 L883.1 182.8 L883.6 171.4 L884 161.2 L884.4 152.2 L884.8 144.2 L885.3 137.1 L885.7 130.8 L886.1 125.1 L886.5 120.1 L886.9 115.7 L887.4 111.7 L887.8 108.2 L888.2 105 L888.6 102.2 L889.1 99.7 L889.5 97.5 L889.9 95.5 L890.3 93.7 L890.7 92.1 L891.2 90.6 L891.6 89.4 L892 88.2 L892.4 87.2 L892.9 86.2 L893.3 85.4 L893.7 84.6 L894.1 83.9 L894.6 83.3 L895 82.7 L895.4 82.2 L895.8 81.8 L896.2 81.3 L896.7 80.9 L897.1 80.6 L897.5 80.2 L899.2 79.1 L900.9 78.2 L902.6 77.5 L904.3 76.9 L906 76.3 L907.7 75.8 L909.4 75.3 L911 74.9 L912.7 74.4 L914.4 74 L916.1 73.6 L917.8 73.2 L919.5 72.7 L921.2 72.3 L922.9 72 L924.6 71.6 L926.3 71.2 L928 70.8 L929.6 70.5 L931.3 70.1 L935.6 69.2 L939.8 68.4 L944 67.6 L948.2 66.8 L952.5 66 L956.7 65.3 L960.9 64.6 L965.2 64 L969.4 63.3 L973.6 62.7 L977.8 62.1 L982.1 61.6 L986.3 61 L990.5 60.5 L994.8 60 L999 59.5 L1003.2 59 L1007.4 58.6 L1011.7 58.2 L1015.9 57.8 L1020.1 57.4 L1024.4 57 L1028.6 56.6 L1032.8 56.3 L1037 55.9 L1041.3 55.6 L1045.5 55.3 L1049.7 55 L1053.9 54.7 L1058.2 54.4 L1062.4 54.2 L1066.6 53.9 L1070.9 53.7 L1075.1 53.4 L1079.3 53.2 L1083.5 53 L1087.8 52.8 L1092 52.6 L1096.2 52.4 L1100.5 52.2 L1104.7 52 L1108.9 51.9 L1113.1 51.7 L1117.4 51.6 L1121.6 51.4 L1125.8 51.3 L1130.1 51.1 L1134.3 51 L1134.7 66.8 L1135.1 80.6 L1135.5 92.8 L1136 103.6 L1136.4 113.1 L1136.8 121.5 L1137.2 129 L1137.7 135.7 L1138.1 141.7 L1138.5 147.1 L1138.9 152 L1139.4 156.5 L1139.8 160.5 L1140.2 164.2 L1140.6 167.6 L1141 170.7 L1141.5 173.6 L1141.9 176.3 L1142.3 178.9 L1142.7 181.3 L1143.2 183.5 L1143.6 185.6 L1144 187.6 L1144.4 189.5 L1144.8 191.4 L1145.3 193.1 L1145.7 194.8 L1146.1 196.4 L1146.5 198 L1147 199.5 L1147.4 201 L1147.8 202.4 L1148.2 203.8 L1148.7 205.2 L1149.1 206.5 L1149.5 207.8 L1149.9 209 L1150.3 210.2 L1150.8 211.4 L1151.2 212.6 L1152.9 217.1 L1154.6 221.2 L1156.3 225 L1158 228.6 L1159.6 231.9 L1161.3 235 L1163 237.9 L1164.7 240.6 L1166.4 243.1 L1168.1 245.4 L1169.8 247.6 L1171.5 249.7 L1173.2 251.6 L1174.9 253.4 L1176.6 255.1 L1178.3 256.7 L1179.9 258.1 L1181.6 259.5 L1183.3 260.8 L1185 262 L1186.7 263.1 L1188.4 264.1 L1190.1 265.1 L1191.8 266 L1193.5 266.8 L1195.2 267.6 L1196.9 268.4 L1198.5 269.1 L1202.8 270.6 L1207 271.9 L1211.2 273 L1215.5 273.9 L1219.7 274.7 L1223.9 275.4 L1228.1 275.9 L1232.4 276.4 L1236.6 276.8 L1240.8 277.1 L1245.1 277.4 L1249.3 277.6 L1253.5 277.8 L1257.7 278 L1262 278.1 L1266.2 278.3 L1270.4 278.4 L1274.6 278.4 L1278.9 278.5 L1283.1 278.6 L1287.3 278.6 L1291.6 278.7 L1295.8 278.7 L1300 278.7 L1303.4 278.8" fill="none" stroke="#4472C4" stroke-width="4.5" stroke-linejoin="round" stroke-linecap="round"/>
<path d="M880.6 237.7 L881 225.6 L881.4 214.9 L881.9 205.4 L882.3 196.9 L882.7 189.4 L883.1 182.7 L883.6 176.8 L884 171.5 L884.4 166.8 L884.8 162.7 L885.3 159 L885.7 155.7 L886.1 152.8 L886.5 150.2 L886.9 147.9 L887.4 145.8 L887.8 144 L888.2 142.3 L888.6 140.9 L889.1 139.6 L889.5 138.4 L889.9 137.4 L890.3 136.5 L890.7 135.6 L891.2 134.9 L891.6 134.2 L892 133.6 L892.4 133.1 L892.9 132.6 L893.3 132.2 L893.7 131.8 L894.1 131.4 L894.6 131.1 L895 130.8 L895.4 130.5 L895.8 130.3 L896.2 130.1 L896.7 129.9 L897.1 129.7 L897.5 129.5 L899.2 128.9 L900.9 128.4 L902.6 128.1 L904.3 127.7 L906 127.5 L907.7 127.2 L909.4 126.9 L911 126.7 L912.7 126.5 L914.4 126.3 L916.1 126 L917.8 125.8 L919.5 125.6 L921.2 125.4 L922.9 125.2 L924.6 125 L926.3 124.8 L928 124.6 L929.6 124.4 L931.3 124.2 L935.6 123.8 L939.8 123.3 L944 122.9 L948.2 122.5 L952.5 122.1 L956.7 121.8 L960.9 121.4 L965.2 121.1 L969.4 120.7 L973.6 120.4 L977.8 120.1 L982.1 119.8 L986.3 119.5 L990.5 119.3 L994.8 119 L999 118.7 L1003.2 118.5 L1007.4 118.3 L1011.7 118 L1015.9 117.8 L1020.1 117.6 L1024.4 117.4 L1028.6 117.2 L1032.8 117.1 L1037 116.9 L1041.3 116.7 L1045.5 116.6 L1049.7 116.4 L1053.9 116.3 L1058.2 116.1 L1062.4 116 L1066.6 115.8 L1070.9 115.7 L1075.1 115.6 L1079.3 115.5 L1083.5 115.4 L1087.8 115.3 L1092 115.2 L1096.2 115.1 L1100.5 115 L1104.7 114.9 L1108.9 114.8 L1113.1 114.7 L1117.4 114.6 L1121.6 114.5 L1125.8 114.5 L1130.1 114.4 L1134.3 114.3 L1134.7 124.4 L1135.1 133.3 L1135.5 141.1 L1136 148 L1136.4 154.2 L1136.8 159.7 L1137.2 164.6 L1137.7 168.9 L1138.1 172.9 L1138.5 176.5 L1138.9 179.7 L1139.4 182.7 L1139.8 185.4 L1140.2 187.9 L1140.6 190.2 L1141 192.4 L1141.5 194.4 L1141.9 196.3 L1142.3 198 L1142.7 199.7 L1143.2 201.3 L1143.6 202.8 L1144 204.3 L1144.4 205.6 L1144.8 207 L1145.3 208.2 L1145.7 209.5 L1146.1 210.7 L1146.5 211.8 L1147 213 L1147.4 214.1 L1147.8 215.1 L1148.2 216.2 L1148.7 217.2 L1149.1 218.2 L1149.5 219.1 L1149.9 220.1 L1150.3 221 L1150.8 221.9 L1151.2 222.8 L1152.9 226.3 L1154.6 229.5 L1156.3 232.5 L1158 235.3 L1159.6 238 L1161.3 240.5 L1163 242.8 L1164.7 245.1 L1166.4 247.1 L1168.1 249.1 L1169.8 251 L1171.5 252.7 L1173.2 254.3 L1174.9 255.9 L1176.6 257.3 L1178.3 258.7 L1179.9 260 L1181.6 261.2 L1183.3 262.4 L1185 263.4 L1186.7 264.5 L1188.4 265.4 L1190.1 266.3 L1191.8 267.2 L1193.5 268 L1195.2 268.7 L1196.9 269.4 L1198.5 270.1 L1202.8 271.6 L1207 272.9 L1211.2 274 L1215.5 275 L1219.7 275.8 L1223.9 276.5 L1228.1 277.1 L1232.4 277.6 L1236.6 278.1 L1240.8 278.5 L1245.1 278.8 L1249.3 279.1 L1253.5 279.3 L1257.7 279.5 L1262 279.7 L1266.2 279.9 L1270.4 280 L1274.6 280.1 L1278.9 280.2 L1283.1 280.3 L1287.3 280.4 L1291.6 280.5 L1295.8 280.5 L1300 280.6 L1303.4 280.6" fill="none" stroke="#ED7D31" stroke-width="4.5" stroke-linejoin="round" stroke-linecap="round"/>
<path d="M880.6 288.9 L881 279.7 L881.4 271.4 L881.9 263.9 L882.3 257 L882.7 250.8 L883.1 245.2 L883.6 240.2 L884 235.6 L884.4 231.4 L884.8 227.6 L885.3 224.2 L885.7 221.1 L886.1 218.3 L886.5 215.8 L886.9 213.4 L887.4 211.3 L887.8 209.4 L888.2 207.7 L888.6 206.1 L889.1 204.7 L889.5 203.4 L889.9 202.2 L890.3 201.2 L890.7 200.2 L891.2 199.3 L891.6 198.5 L892 197.7 L892.4 197.1 L892.9 196.5 L893.3 195.9 L893.7 195.4 L894.1 194.9 L894.6 194.5 L895 194.1 L895.4 193.7 L895.8 193.4 L896.2 193.1 L896.7 192.8 L897.1 192.5 L897.5 192.3 L899.2 191.5 L900.9 190.9 L902.6 190.4 L904.3 190 L906 189.7 L907.7 189.4 L909.4 189.1 L911 188.9 L912.7 188.7 L914.4 188.4 L916.1 188.2 L917.8 188 L919.5 187.8 L921.2 187.7 L922.9 187.5 L924.6 187.3 L926.3 187.1 L928 186.9 L929.6 186.8 L931.3 186.6 L935.6 186.2 L939.8 185.8 L944 185.4 L948.2 185 L952.5 184.7 L956.7 184.4 L960.9 184 L965.2 183.7 L969.4 183.4 L973.6 183.1 L977.8 182.9 L982.1 182.6 L986.3 182.3 L990.5 182.1 L994.8 181.9 L999 181.6 L1003.2 181.4 L1007.4 181.2 L1011.7 181 L1015.9 180.8 L1020.1 180.6 L1024.4 180.5 L1028.6 180.3 L1032.8 180.1 L1037 180 L1041.3 179.8 L1045.5 179.7 L1049.7 179.5 L1053.9 179.4 L1058.2 179.3 L1062.4 179.2 L1066.6 179 L1070.9 178.9 L1075.1 178.8 L1079.3 178.7 L1083.5 178.6 L1087.8 178.5 L1092 178.4 L1096.2 178.3 L1100.5 178.2 L1104.7 178.2 L1108.9 178.1 L1113.1 178 L1117.4 177.9 L1121.6 177.9 L1125.8 177.8 L1130.1 177.7 L1134.3 177.7 L1134.7 180.3 L1135.1 182.8 L1135.5 185.2 L1136 187.5 L1136.4 189.7 L1136.8 191.9 L1137.2 193.9 L1137.7 195.9 L1138.1 197.8 L1138.5 199.6 L1138.9 201.4 L1139.4 203.1 L1139.8 204.7 L1140.2 206.3 L1140.6 207.9 L1141 209.3 L1141.5 210.8 L1141.9 212.2 L1142.3 213.5 L1142.7 214.8 L1143.2 216 L1143.6 217.3 L1144 218.5 L1144.4 219.6 L1144.8 220.7 L1145.3 221.8 L1145.7 222.8 L1146.1 223.9 L1146.5 224.9 L1147 225.8 L1147.4 226.8 L1147.8 227.7 L1148.2 228.6 L1148.7 229.5 L1149.1 230.3 L1149.5 231.2 L1149.9 232 L1150.3 232.8 L1150.8 233.5 L1151.2 234.3 L1152.9 237.2 L1154.6 239.8 L1156.3 242.2 L1158 244.5 L1159.6 246.6 L1161.3 248.5 L1163 250.4 L1164.7 252.1 L1166.4 253.7 L1168.1 255.2 L1169.8 256.7 L1171.5 258 L1173.2 259.3 L1174.9 260.5 L1176.6 261.6 L1178.3 262.7 L1179.9 263.7 L1181.6 264.7 L1183.3 265.6 L1185 266.5 L1186.7 267.3 L1188.4 268.1 L1190.1 268.9 L1191.8 269.6 L1193.5 270.2 L1195.2 270.9 L1196.9 271.5 L1198.5 272.1 L1202.8 273.4 L1207 274.5 L1211.2 275.5 L1215.5 276.4 L1219.7 277.2 L1223.9 277.9 L1228.1 278.5 L1232.4 279 L1236.6 279.5 L1240.8 279.9 L1245.1 280.2 L1249.3 280.5 L1253.5 280.8 L1257.7 281 L1262 281.3 L1266.2 281.4 L1270.4 281.6 L1274.6 281.7 L1278.9 281.9 L1283.1 282 L1287.3 282.1 L1291.6 282.2 L1295.8 282.2 L1300 282.3 L1303.4 282.4" fill="none" stroke="#A5A5A5" stroke-width="4.5" stroke-linejoin="round" stroke-linecap="round"/>
<path d="M880.6 288.9 L881 284.5 L881.4 280.3 L881.9 276.4 L882.3 272.8 L882.7 269.5 L883.1 266.3 L883.6 263.4 L884 260.6 L884.4 258.1 L884.8 255.7 L885.3 253.5 L885.7 251.4 L886.1 249.4 L886.5 247.6 L886.9 245.9 L887.4 244.3 L887.8 242.9 L888.2 241.5 L888.6 240.2 L889.1 239 L889.5 237.9 L889.9 236.8 L890.3 235.8 L890.7 234.9 L891.2 234 L891.6 233.2 L892 232.5 L892.4 231.8 L892.9 231.1 L893.3 230.5 L893.7 229.9 L894.1 229.4 L894.6 228.9 L895 228.4 L895.4 227.9 L895.8 227.5 L896.2 227.1 L896.7 226.8 L897.1 226.4 L897.5 226.1 L899.2 225 L900.9 224.1 L902.6 223.4 L904.3 222.8 L906 222.4 L907.7 222 L909.4 221.6 L911 221.4 L912.7 221.1 L914.4 220.9 L916.1 220.7 L917.8 220.6 L919.5 220.4 L921.2 220.2 L922.9 220.1 L924.6 220 L926.3 219.8 L928 219.7 L929.6 219.6 L931.3 219.5 L935.6 219.2 L939.8 218.9 L944 218.6 L948.2 218.4 L952.5 218.2 L956.7 217.9 L960.9 217.7 L965.2 217.5 L969.4 217.3 L973.6 217.1 L977.8 216.9 L982.1 216.7 L986.3 216.6 L990.5 216.4 L994.8 216.2 L999 216.1 L1003.2 215.9 L1007.4 215.8 L1011.7 215.7 L1015.9 215.5 L1020.1 215.4 L1024.4 215.3 L1028.6 215.2 L1032.8 215.1 L1037 215 L1041.3 214.9 L1045.5 214.8 L1049.7 214.7 L1053.9 214.6 L1058.2 214.5 L1062.4 214.4 L1066.6 214.3 L1070.9 214.2 L1075.1 214.2 L1079.3 214.1 L1083.5 214 L1087.8 214 L1092 213.9 L1096.2 213.8 L1100.5 213.8 L1104.7 213.7 L1108.9 213.7 L1113.1 213.6 L1117.4 213.6 L1121.6 213.5 L1125.8 213.5 L1130.1 213.4 L1134.3 213.4 L1134.7 215 L1135.1 216.6 L1135.5 218.2 L1136 219.6 L1136.4 221 L1136.8 222.4 L1137.2 223.7 L1137.7 224.9 L1138.1 226.1 L1138.5 227.3 L1138.9 228.4 L1139.4 229.5 L1139.8 230.6 L1140.2 231.6 L1140.6 232.6 L1141 233.6 L1141.5 234.5 L1141.9 235.4 L1142.3 236.3 L1142.7 237.2 L1143.2 238.1 L1143.6 238.9 L1144 239.7 L1144.4 240.5 L1144.8 241.3 L1145.3 242 L1145.7 242.8 L1146.1 243.5 L1146.5 244.2 L1147 244.9 L1147.4 245.6 L1147.8 246.3 L1148.2 246.9 L1148.7 247.6 L1149.1 248.2 L1149.5 248.8 L1149.9 249.4 L1150.3 250 L1150.8 250.6 L1151.2 251.2 L1152.9 253.4 L1154.6 255.4 L1156.3 257.3 L1158 259 L1159.6 260.7 L1161.3 262.2 L1163 263.7 L1164.7 265 L1166.4 266.3 L1168.1 267.4 L1169.8 268.5 L1171.5 269.5 L1173.2 270.5 L1174.9 271.4 L1176.6 272.2 L1178.3 273 L1179.9 273.7 L1181.6 274.4 L1183.3 275 L1185 275.6 L1186.7 276.1 L1188.4 276.7 L1190.1 277.1 L1191.8 277.6 L1193.5 278 L1195.2 278.4 L1196.9 278.8 L1198.5 279.1 L1202.8 279.9 L1207 280.5 L1211.2 281.1 L1215.5 281.5 L1219.7 281.9 L1223.9 282.2 L1228.1 282.5 L1232.4 282.7 L1236.6 282.9 L1240.8 283.1 L1245.1 283.2 L1249.3 283.4 L1253.5 283.5 L1257.7 283.5 L1262 283.6 L1266.2 283.7 L1270.4 283.7 L1274.6 283.8 L1278.9 283.8 L1283.1 283.8 L1287.3 283.9 L1291.6 283.9 L1295.8 283.9 L1300 283.9 L1303.4 283.9" fill="none" stroke="#FFC000" stroke-width="4.5" stroke-linejoin="round" stroke-linecap="round"/>
<path d="M880.6 288.9 L881 287.5 L881.4 286.1 L881.9 284.8 L882.3 283.6 L882.7 282.5 L883.1 281.4 L883.6 280.3 L884 279.4 L884.4 278.4 L884.8 277.6 L885.3 276.7 L885.7 275.9 L886.1 275.2 L886.5 274.5 L886.9 273.8 L887.4 273.2 L887.8 272.6 L888.2 272 L888.6 271.5 L889.1 270.9 L889.5 270.5 L889.9 270 L890.3 269.6 L890.7 269.1 L891.2 268.7 L891.6 268.4 L892 268 L892.4 267.7 L892.9 267.4 L893.3 267.1 L893.7 266.8 L894.1 266.5 L894.6 266.2 L895 266 L895.4 265.8 L895.8 265.5 L896.2 265.3 L896.7 265.1 L897.1 264.9 L897.5 264.8 L899.2 264.1 L900.9 263.6 L902.6 263.2 L904.3 262.8 L906 262.5 L907.7 262.2 L909.4 262 L911 261.9 L912.7 261.7 L914.4 261.6 L916.1 261.5 L917.8 261.3 L919.5 261.3 L921.2 261.2 L922.9 261.1 L924.6 261 L926.3 261 L928 260.9 L929.6 260.8 L931.3 260.8 L935.6 260.7 L939.8 260.5 L944 260.4 L948.2 260.3 L952.5 260.2 L956.7 260.1 L960.9 260 L965.2 260 L969.4 259.9 L973.6 259.8 L977.8 259.7 L982.1 259.6 L986.3 259.6 L990.5 259.5 L994.8 259.4 L999 259.4 L1003.2 259.3 L1007.4 259.3 L1011.7 259.2 L1015.9 259.2 L1020.1 259.1 L1024.4 259.1 L1028.6 259 L1032.8 259 L1037 258.9 L1041.3 258.9 L1045.5 258.8 L1049.7 258.8 L1053.9 258.8 L1058.2 258.7 L1062.4 258.7 L1066.6 258.7 L1070.9 258.6 L1075.1 258.6 L1079.3 258.6 L1083.5 258.5 L1087.8 258.5 L1092 258.5 L1096.2 258.5 L1100.5 258.4 L1104.7 258.4 L1108.9 258.4 L1113.1 258.4 L1117.4 258.4 L1121.6 258.3 L1125.8 258.3 L1130.1 258.3 L1134.3 258.3 L1134.7 259.1 L1135.1 260 L1135.5 260.7 L1136 261.5 L1136.4 262.2 L1136.8 262.9 L1137.2 263.5 L1137.7 264.2 L1138.1 264.8 L1138.5 265.3 L1138.9 265.9 L1139.4 266.4 L1139.8 266.9 L1140.2 267.4 L1140.6 267.9 L1141 268.3 L1141.5 268.7 L1141.9 269.1 L1142.3 269.5 L1142.7 269.9 L1143.2 270.3 L1143.6 270.6 L1144 270.9 L1144.4 271.3 L1144.8 271.6 L1145.3 271.9 L1145.7 272.2 L1146.1 272.4 L1146.5 272.7 L1147 273 L1147.4 273.2 L1147.8 273.4 L1148.2 273.7 L1148.7 273.9 L1149.1 274.1 L1149.5 274.3 L1149.9 274.5 L1150.3 274.7 L1150.8 274.9 L1151.2 275.1 L1152.9 275.7 L1154.6 276.3 L1156.3 276.8 L1158 277.3 L1159.6 277.7 L1161.3 278 L1163 278.4 L1164.7 278.7 L1166.4 279 L1168.1 279.2 L1169.8 279.5 L1171.5 279.7 L1173.2 279.9 L1174.9 280.1 L1176.6 280.3 L1178.3 280.4 L1179.9 280.6 L1181.6 280.8 L1183.3 280.9 L1185 281 L1186.7 281.2 L1188.4 281.3 L1190.1 281.4 L1191.8 281.5 L1193.5 281.7 L1195.2 281.8 L1196.9 281.9 L1198.5 282 L1202.8 282.2 L1207 282.4 L1211.2 282.6 L1215.5 282.7 L1219.7 282.9 L1223.9 283 L1228.1 283.1 L1232.4 283.3 L1236.6 283.4 L1240.8 283.4 L1245.1 283.5 L1249.3 283.6 L1253.5 283.7 L1257.7 283.7 L1262 283.8 L1266.2 283.8 L1270.4 283.9 L1274.6 283.9 L1278.9 284 L1283.1 284 L1287.3 284 L1291.6 284 L1295.8 284.1 L1300 284.1 L1303.4 284.1" fill="none" stroke="#FF66FF" stroke-width="4.5" stroke-linejoin="round" stroke-linecap="round"/>
<path d="M880.6 288.9 L881 288.7 L881.4 288.4 L881.9 288.2 L882.3 288 L882.7 287.7 L883.1 287.5 L883.6 287.3 L884 287.1 L884.4 286.9 L884.8 286.7 L885.3 286.5 L885.7 286.3 L886.1 286.1 L886.5 285.9 L886.9 285.7 L887.4 285.5 L887.8 285.3 L888.2 285.2 L888.6 285 L889.1 284.8 L889.5 284.7 L889.9 284.5 L890.3 284.3 L890.7 284.2 L891.2 284 L891.6 283.9 L892 283.7 L892.4 283.6 L892.9 283.4 L893.3 283.3 L893.7 283.2 L894.1 283 L894.6 282.9 L895 282.8 L895.4 282.6 L895.8 282.5 L896.2 282.4 L896.7 282.3 L897.1 282.2 L897.5 282 L899.2 281.6 L900.9 281.2 L902.6 280.8 L904.3 280.5 L906 280.1 L907.7 279.8 L909.4 279.6 L911 279.3 L912.7 279.1 L914.4 278.8 L916.1 278.6 L917.8 278.4 L919.5 278.2 L921.2 278.1 L922.9 277.9 L924.6 277.8 L926.3 277.6 L928 277.5 L929.6 277.4 L931.3 277.3 L935.6 277 L939.8 276.8 L944 276.6 L948.2 276.5 L952.5 276.4 L956.7 276.3 L960.9 276.2 L965.2 276.1 L969.4 276 L973.6 275.9 L977.8 275.9 L982.1 275.8 L986.3 275.8 L990.5 275.7 L994.8 275.7 L999 275.6 L1003.2 275.6 L1007.4 275.6 L1011.7 275.5 L1015.9 275.5 L1020.1 275.5 L1024.4 275.5 L1028.6 275.4 L1032.8 275.4 L1037 275.4 L1041.3 275.4 L1045.5 275.4 L1049.7 275.3 L1053.9 275.3 L1058.2 275.3 L1062.4 275.3 L1066.6 275.3 L1070.9 275.3 L1075.1 275.2 L1079.3 275.2 L1083.5 275.2 L1087.8 275.2 L1092 275.2 L1096.2 275.2 L1100.5 275.2 L1104.7 275.2 L1108.9 275.1 L1113.1 275.1 L1117.4 275.1 L1121.6 275.1 L1125.8 275.1 L1130.1 275.1 L1134.3 275.1 L1134.7 275.5 L1135.1 275.8 L1135.5 276.2 L1136 276.5 L1136.4 276.8 L1136.8 277.1 L1137.2 277.4 L1137.7 277.7 L1138.1 277.9 L1138.5 278.2 L1138.9 278.4 L1139.4 278.6 L1139.8 278.9 L1140.2 279.1 L1140.6 279.3 L1141 279.5 L1141.5 279.7 L1141.9 279.8 L1142.3 280 L1142.7 280.2 L1143.2 280.3 L1143.6 280.5 L1144 280.6 L1144.4 280.7 L1144.8 280.9 L1145.3 281 L1145.7 281.1 L1146.1 281.2 L1146.5 281.4 L1147 281.5 L1147.4 281.6 L1147.8 281.7 L1148.2 281.8 L1148.7 281.9 L1149.1 281.9 L1149.5 282 L1149.9 282.1 L1150.3 282.2 L1150.8 282.3 L1151.2 282.3 L1152.9 282.6 L1154.6 282.8 L1156.3 283.1 L1158 283.2 L1159.6 283.4 L1161.3 283.5 L1163 283.7 L1164.7 283.8 L1166.4 283.9 L1168.1 284 L1169.8 284.1 L1171.5 284.2 L1173.2 284.3 L1174.9 284.3 L1176.6 284.4 L1178.3 284.5 L1179.9 284.5 L1181.6 284.6 L1183.3 284.6 L1185 284.7 L1186.7 284.7 L1188.4 284.8 L1190.1 284.8 L1191.8 284.9 L1193.5 284.9 L1195.2 284.9 L1196.9 285 L1198.5 285 L1202.8 285.1 L1207 285.2 L1211.2 285.2 L1215.5 285.3 L1219.7 285.4 L1223.9 285.4 L1228.1 285.4 L1232.4 285.5 L1236.6 285.5 L1240.8 285.6 L1245.1 285.6 L1249.3 285.6 L1253.5 285.6 L1257.7 285.7 L1262 285.7 L1266.2 285.7 L1270.4 285.7 L1274.6 285.7 L1278.9 285.7 L1283.1 285.7 L1287.3 285.8 L1291.6 285.8 L1295.8 285.8 L1300 285.8 L1303.4 285.8" fill="none" stroke="#70AD47" stroke-width="4.5" stroke-linejoin="round" stroke-linecap="round"/>
<path d="M880.6 288.9 L881 288.8 L881.4 288.7 L881.9 288.6 L882.3 288.5 L882.7 288.3 L883.1 288.2 L883.6 288.1 L884 288 L884.4 287.9 L884.8 287.8 L885.3 287.7 L885.7 287.6 L886.1 287.5 L886.5 287.4 L886.9 287.3 L887.4 287.2 L887.8 287.1 L888.2 287 L888.6 287 L889.1 286.9 L889.5 286.8 L889.9 286.7 L890.3 286.6 L890.7 286.5 L891.2 286.4 L891.6 286.3 L892 286.3 L892.4 286.2 L892.9 286.1 L893.3 286 L893.7 285.9 L894.1 285.9 L894.6 285.8 L895 285.7 L895.4 285.6 L895.8 285.6 L896.2 285.5 L896.7 285.4 L897.1 285.3 L897.5 285.3 L899.2 285 L900.9 284.7 L902.6 284.5 L904.3 284.3 L906 284 L907.7 283.8 L909.4 283.6 L911 283.4 L912.7 283.2 L914.4 283.1 L916.1 282.9 L917.8 282.7 L919.5 282.6 L921.2 282.4 L922.9 282.3 L924.6 282.2 L926.3 282 L928 281.9 L929.6 281.8 L931.3 281.7 L935.6 281.4 L939.8 281.2 L944 281 L948.2 280.8 L952.5 280.7 L956.7 280.5 L960.9 280.4 L965.2 280.3 L969.4 280.2 L973.6 280.1 L977.8 280 L982.1 280 L986.3 279.9 L990.5 279.8 L994.8 279.8 L999 279.7 L1003.2 279.7 L1007.4 279.6 L1011.7 279.6 L1015.9 279.6 L1020.1 279.5 L1024.4 279.5 L1028.6 279.5 L1032.8 279.4 L1037 279.4 L1041.3 279.4 L1045.5 279.4 L1049.7 279.4 L1053.9 279.3 L1058.2 279.3 L1062.4 279.3 L1066.6 279.3 L1070.9 279.3 L1075.1 279.3 L1079.3 279.3 L1083.5 279.3 L1087.8 279.2 L1092 279.2 L1096.2 279.2 L1100.5 279.2 L1104.7 279.2 L1108.9 279.2 L1113.1 279.2 L1117.4 279.2 L1121.6 279.2 L1125.8 279.2 L1130.1 279.2 L1134.3 279.2 L1134.7 279.5 L1135.1 279.8 L1135.5 280 L1136 280.3 L1136.4 280.6 L1136.8 280.8 L1137.2 281 L1137.7 281.3 L1138.1 281.5 L1138.5 281.7 L1138.9 281.9 L1139.4 282.1 L1139.8 282.2 L1140.2 282.4 L1140.6 282.6 L1141 282.7 L1141.5 282.9 L1141.9 283 L1142.3 283.2 L1142.7 283.3 L1143.2 283.4 L1143.6 283.5 L1144 283.7 L1144.4 283.8 L1144.8 283.9 L1145.3 284 L1145.7 284.1 L1146.1 284.2 L1146.5 284.2 L1147 284.3 L1147.4 284.4 L1147.8 284.5 L1148.2 284.6 L1148.7 284.6 L1149.1 284.7 L1149.5 284.8 L1149.9 284.8 L1150.3 284.9 L1150.8 285 L1151.2 285 L1152.9 285.2 L1154.6 285.4 L1156.3 285.6 L1158 285.7 L1159.6 285.8 L1161.3 285.9 L1163 286 L1164.7 286.1 L1166.4 286.2 L1168.1 286.2 L1169.8 286.3 L1171.5 286.4 L1173.2 286.4 L1174.9 286.5 L1176.6 286.5 L1178.3 286.5 L1179.9 286.6 L1181.6 286.6 L1183.3 286.7 L1185 286.7 L1186.7 286.7 L1188.4 286.8 L1190.1 286.8 L1191.8 286.8 L1193.5 286.8 L1195.2 286.9 L1196.9 286.9 L1198.5 286.9 L1202.8 287 L1207 287 L1211.2 287 L1215.5 287.1 L1219.7 287.1 L1223.9 287.1 L1228.1 287.2 L1232.4 287.2 L1236.6 287.2 L1240.8 287.2 L1245.1 287.3 L1249.3 287.3 L1253.5 287.3 L1257.7 287.3 L1262 287.3 L1266.2 287.3 L1270.4 287.3 L1274.6 287.4 L1278.9 287.4 L1283.1 287.4 L1287.3 287.4 L1291.6 287.4 L1295.8 287.4 L1300 287.4 L1303.4 287.4" fill="none" stroke="#264478" stroke-width="4.5" stroke-linejoin="round" stroke-linecap="round"/>
<text x="831.2" y="299.6" font-size="35" fill="#000">0</text>
<text x="831.5" y="218.4" font-size="35" fill="#000">1</text>
<text x="831.6" y="137.4" font-size="35" fill="#000">2</text>
<text x="831.4" y="56" font-size="35" fill="#000">3</text>
<text x="870.9" y="340.6" font-size="35" fill="#000">0</text>
<text x="966.7" y="340.6" font-size="35" fill="#000">25</text>
<text x="1072.5" y="340.6" font-size="35" fill="#000">50</text>
<text x="1178.1" y="340.6" font-size="35" fill="#000">75</text>
<text x="1273.6" y="340.6" font-size="35" fill="#000">100</text>
<text x="995.1" y="393.6" font-size="31.5" fill="#000">Time (sec)</text>
<text transform="translate(814.3,155.4) rotate(-90)" x="-108" y="0" font-size="31.5">Response (nm)</text>
<text x="1077.7" y="35.3" font-size="34.5" fill="#000">K</text>
<text x="1100.7" y="42.8" font-size="24" fill="#000">D</text>
<text x="1118" y="35.3" font-size="34.5" fill="#000">=4.17±0.04μM</text>
<rect x="1197.5" y="44.8" width="23" height="38.5" fill="#00FFFF"/>
<rect x="1239.7" y="44.8" width="24.9" height="38.5" fill="#00FFFF"/>
<text x="1147.6" y="76" font-size="34.5" fill="#000">GV</text>
<text x="1197.5" y="76" font-size="34.5" fill="#000">K</text>
<text x="1220.5" y="76" font-size="34.5" fill="#000">L</text>
<text x="1239.7" y="76" font-size="34.5" fill="#000">H</text>
<text x="1264.6" y="76" font-size="34.5" fill="#000">YT/α</text>
<text x="1214.7" y="116.8" font-size="34.5" fill="#000">(pH 7.5)</text>
<line x1="227.1" y1="586" x2="227.1" y2="833.5" stroke="#000" stroke-width="4.5" stroke-linecap="butt"/>
<line x1="227.1" y1="782.7" x2="237.3" y2="782.7" stroke="#000" stroke-width="4.5" stroke-linecap="butt"/>
<line x1="227.1" y1="734.1" x2="237.3" y2="734.1" stroke="#000" stroke-width="4.5" stroke-linecap="butt"/>
<line x1="227.1" y1="685.5" x2="237.3" y2="685.5" stroke="#000" stroke-width="4.5" stroke-linecap="butt"/>
<line x1="227.1" y1="636.9" x2="237.3" y2="636.9" stroke="#000" stroke-width="4.5" stroke-linecap="butt"/>
<line x1="227.1" y1="588.3" x2="237.3" y2="588.3" stroke="#000" stroke-width="4.5" stroke-linecap="butt"/>
<line x1="224.9" y1="831.3" x2="648.4" y2="831.3" stroke="#000" stroke-width="4.5" stroke-linecap="butt"/>
<line x1="331.9" y1="831.3" x2="331.9" y2="820.8" stroke="#000" stroke-width="4.5" stroke-linecap="butt"/>
<line x1="436.8" y1="831.3" x2="436.8" y2="820.8" stroke="#000" stroke-width="4.5" stroke-linecap="butt"/>
<line x1="541.6" y1="831.3" x2="541.6" y2="820.8" stroke="#000" stroke-width="4.5" stroke-linecap="butt"/>
<line x1="646.4" y1="831.3" x2="646.4" y2="820.8" stroke="#000" stroke-width="4.5" stroke-linecap="butt"/>
<path d="M227.1 831.5 L228.1 826.6 L229.2 821.2 L230.2 816.6 L231.3 811.4 L232.3 806.9 L233.4 801.8 L234.4 796.6 L235.5 791.8 L236.5 792.1 L237.6 792.7 L238.6 792.2 L239.7 792.5 L240.7 792.4 L241.8 792.8 L242.8 792.6 L243.9 793.2 L244.9 793.2 L246 793.2 L247 794.1 L248.1 794 L249.1 794.2 L250.2 793.4 L251.2 794.3 L252.3 794.2 L253.3 794.4 L254.4 794.9 L255.4 795.5 L256.5 794.7 L257.5 795.4 L258.5 795.1 L259.6 796 L260.6 795.8 L261.7 795.3 L262.7 795.3 L263.8 796.5 L264.8 796.6 L265.9 796.2 L266.9 796 L268 796.3 L269 796.3 L270.1 796.9 L271.1 796.3 L272.2 796.2 L273.2 796.9 L274.3 797.3 L275.3 797.1 L276.4 796.6 L277.4 797.5 L278.5 797 L279.5 797.4 L280.6 797.1 L281.6 797.2 L282.7 797.2 L283.7 796.7 L284.8 797.1 L285.8 796.8 L286.9 797.5 L287.9 797.7 L288.9 797.4 L290 798.7 L291 797.8 L292.1 797.8 L293.1 798.4 L294.2 797.9 L295.2 798.4 L296.3 799.2 L297.3 798.5 L298.4 798.9 L299.4 798.9 L300.5 798.9 L301.5 798.5 L302.6 799.1 L303.6 799.3 L304.7 799.3 L305.7 800.3 L306.8 799.3 L307.8 800.3 L308.9 799.9 L309.9 800.6 L311 800.7 L312 800.6 L313.1 799.9 L314.1 800.5 L315.2 801.1 L316.2 801.2 L317.2 801.6 L318.3 801.3 L319.3 801.6 L320.4 801.3 L321.4 802.2 L322.5 801.9 L323.5 802.2 L324.6 802.2 L325.6 801.8 L326.7 802.1 L327.7 802 L328.8 801.8 L329.8 801.9 L330.9 802.9 L331.9 802.3 L333 803.2 L334 802.7 L335.1 802 L336.1 802.9 L337.2 803 L338.2 802.9 L339.3 803 L340.3 803.1 L341.4 803.5 L342.4 802.9 L343.5 803.1 L344.5 803.6 L345.6 803.5 L346.6 803.5 L347.6 803.5 L348.7 803.9 L349.7 803.9 L350.8 804.4 L351.8 804.9 L352.9 804.8 L353.9 804.4 L355 804.6 L356 805.1 L357.1 805.6 L358.1 805.4 L359.2 805.1 L360.2 805.4 L361.3 806.4 L362.3 806.4 L363.4 807.1 L364.4 807.2 L365.5 806.9 L366.5 807.1 L367.6 807 L368.6 807.1 L369.7 807.4 L370.7 807.4 L371.8 808.3 L372.8 808.7 L373.9 808.2 L374.9 807.6 L376 808.6 L377 809.3 L378 808.9 L379.1 808.6 L380.1 809.6 L381.2 809.1 L382.2 809.7 L383.3 809.1 L384.3 809.4 L385.4 809.6 L386.4 809.1 L387.5 810.1 L388.5 810.2 L389.6 809.4 L390.6 810.4 L391.7 809.4 L392.7 810.3 L393.8 810.7 L394.8 810.4 L395.9 810.4 L396.9 810.5 L398 810.7 L399 810.3 L400.1 811.7 L401.1 811.1 L402.2 811.1 L403.2 810.4 L404.3 812 L405.3 811.5 L406.4 811.9 L407.4 811.9 L408.4 811.5 L409.5 811.8 L410.5 811.5 L411.6 812.5 L412.6 812.3 L413.7 812.1 L414.7 812.4 L415.8 813.1 L416.8 812.7 L417.9 813.6 L418.9 812.8 L420 813.6 L421 813.9 L422.1 813.9 L423.1 813.9 L424.2 813.7 L425.2 814.6 L426.3 814.9 L427.3 814.7 L428.4 815.4 L429.4 815.8 L430.5 815 L431.5 815.6 L432.6 815.2 L433.6 816.1 L434.7 816.9 L435.7 815.8 L436.8 815.9 L437.8 815.5 L438.8 815.9 L439.9 816.1 L440.9 816 L442 816.4 L443 816.3 L444.1 816.9 L445.1 816.2 L446.2 816.8 L447.2 816.6 L448.3 816.2 L449.3 816.2 L450.4 816.9 L451.4 815.8 L452.5 816.9 L453.5 816.4 L454.6 816.4 L455.6 816.7 L456.7 816.8 L457.7 816.2 L458.8 816.6 L459.8 816.9 L460.9 817.8 L461.9 817.5 L463 816.9 L464 817.4 L465.1 817.9 L466.1 817.9 L467.1 818 L468.2 817.7 L469.2 818 L470.3 817.9 L471.3 818.8 L472.4 818.3 L473.4 819.1 L474.5 819.2 L475.5 818.6 L476.6 819.4 L477.6 819.7 L478.7 819.9 L479.7 821.9 L480.8 823.2 L481.8 825.2 L482.9 827.3 L483.9 829.5 L485 831.1 L486 831.6 L487.1 831.4 L488.1 831.5 L489.2 831.6 L490.2 831.1 L491.3 831 L492.3 831.2 L493.4 832.4 L494.4 831 L495.5 831.4 L496.5 831.8 L497.5 831.6 L498.6 831.2 L499.6 831.1 L500.7 831.2 L501.7 831.4 L502.8 831.3 L503.8 831 L504.9 831.2 L505.9 831.5 L507 831.3 L508 831 L509.1 830.8 L510.1 830 L511.2 831.3 L512.2 830.5 L513.3 830.7 L514.3 830.5 L515.4 830 L516.4 830 L517.5 830.5 L518.5 830.7 L519.6 830.9 L520.6 830.5 L521.7 830 L522.7 830.6 L523.8 830.2 L524.8 830.3 L525.9 830.4 L526.9 830.2 L527.9 830.7 L529 831.1 L530 831.3 L531.1 830.6 L532.1 831.2 L533.2 831.2 L534.2 830.9 L535.3 831.6 L536.3 830.7 L537.4 831.3 L538.4 831.8 L539.5 831.9 L540.5 831.4 L541.6 832.3 L542.6 832.2 L543.7 832 L544.7 832 L545.8 832.1 L546.8 832 L547.9 832.4 L548.9 832.3 L550 831.8 L551 832 L552.1 832.4 L553.1 831.6 L554.2 833 L555.2 832.2 L556.3 831.9 L557.3 831.7 L558.3 832 L559.4 832.1 L560.4 831.7 L561.5 831.9 L562.5 831.6 L563.6 832.7 L564.6 831.4 L565.7 831.8 L566.7 831 L567.8 831 L568.8 830.9 L569.9 831.3 L570.9 830.9 L572 831.1 L573 830.8 L574.1 830.9 L575.1 831.1 L576.2 830 L577.2 830.5 L578.3 831.5 L579.3 830.4 L580.4 831.2 L581.4 830.8 L582.5 830.9 L583.5 830.9 L584.6 830.7 L585.6 830.9 L586.6 831.4 L587.7 830.9 L588.7 830.9 L589.8 830.4 L590.8 831.3 L591.9 831.7 L592.9 831.5 L594 831.2 L595 831.8 L596.1 831.9 L597.1 831.5 L598.2 831.8 L599.2 831.8 L600.3 832.2 L601.3 832.3 L602.4 832.2 L603.4 832.2 L604.5 832.3 L605.5 832.1 L606.6 832.1 L607.6 832.1 L608.7 832.2 L609.7 832.7 L610.8 832.8 L611.8 832.1 L612.9 832.3 L613.9 832.3 L615 832.7 L616 832.3 L617 832.4 L618.1 832.4 L619.1 832.3 L620.2 832.6 L621.2 831.9 L622.3 831.4 L623.3 832 L624.4 831.7 L625.4 832 L626.5 831.3 L627.5 830.8 L628.6 831.9 L629.6 831.4 L630.7 830.7 L631.7 831.1 L632.8 831.1 L633.8 831.9 L634.9 831.1 L635.9 830.7 L637 830.5 L638 830.8 L639.1 831.3 L640.1 831.3 L641.2 831.7 L642.2 831.5 L643.3 830.7 L644.3 831.2 L645.4 831.7 L646.4 830.8" fill="none" stroke="#375623" stroke-width="4.5" stroke-linejoin="round" stroke-linecap="round"/>
<path d="M227.1 831.6 L228.1 827.8 L229.2 824.3 L230.2 820.9 L231.3 817.7 L232.3 813.9 L233.4 811 L234.4 806.5 L235.5 804 L236.5 803.9 L237.6 804 L238.6 804.2 L239.7 804.6 L240.7 804.5 L241.8 806.1 L242.8 805.2 L243.9 805.4 L244.9 805.6 L246 805.2 L247 806.1 L248.1 806 L249.1 806.8 L250.2 806.2 L251.2 806.9 L252.3 807.1 L253.3 805.9 L254.4 806.5 L255.4 806.9 L256.5 806.9 L257.5 807.5 L258.5 807.4 L259.6 806.9 L260.6 807.8 L261.7 807 L262.7 807.7 L263.8 807 L264.8 807.4 L265.9 806.4 L266.9 806.6 L268 807 L269 807.4 L270.1 806.9 L271.1 806.6 L272.2 806.8 L273.2 806.3 L274.3 806 L275.3 806.2 L276.4 806.3 L277.4 805.8 L278.5 806 L279.5 805.6 L280.6 805.9 L281.6 805.2 L282.7 805.8 L283.7 806 L284.8 805.6 L285.8 805.8 L286.9 805.9 L287.9 805.7 L288.9 805.4 L290 806.4 L291 805.7 L292.1 805.8 L293.1 805.9 L294.2 805.6 L295.2 806.4 L296.3 805.8 L297.3 806.2 L298.4 806.2 L299.4 806.3 L300.5 806.5 L301.5 806.6 L302.6 806.3 L303.6 805.9 L304.7 806.2 L305.7 806.4 L306.8 806.5 L307.8 806.9 L308.9 806.5 L309.9 806 L311 807.1 L312 806.4 L313.1 806.3 L314.1 806.5 L315.2 806.3 L316.2 806.1 L317.2 805.8 L318.3 806 L319.3 805.8 L320.4 806.2 L321.4 806 L322.5 806.1 L323.5 806 L324.6 806.2 L325.6 805.8 L326.7 805.5 L327.7 806 L328.8 805.8 L329.8 805.7 L330.9 805.9 L331.9 805.6 L333 805.8 L334 806.3 L335.1 806.2 L336.1 805.7 L337.2 805.7 L338.2 805.6 L339.3 805.9 L340.3 806 L341.4 806.6 L342.4 805.7 L343.5 806.5 L344.5 805.9 L345.6 806.7 L346.6 806.6 L347.6 806.4 L348.7 806.6 L349.7 806.7 L350.8 806.2 L351.8 806.3 L352.9 806.4 L353.9 806.7 L355 806.9 L356 806.7 L357.1 806.8 L358.1 806.6 L359.2 806.3 L360.2 806.6 L361.3 806.8 L362.3 806.7 L363.4 806.1 L364.4 806.4 L365.5 806.4 L366.5 806.3 L367.6 806.2 L368.6 806.3 L369.7 806 L370.7 806.1 L371.8 807.2 L372.8 806.4 L373.9 805.4 L374.9 806.7 L376 806.3 L377 806 L378 806.3 L379.1 805.9 L380.1 806.8 L381.2 806.8 L382.2 806.5 L383.3 806.7 L384.3 806.8 L385.4 806.3 L386.4 806.4 L387.5 806.5 L388.5 806.7 L389.6 806.5 L390.6 806.6 L391.7 806.8 L392.7 806.4 L393.8 806.4 L394.8 806.5 L395.9 806.2 L396.9 806.8 L398 806.4 L399 806.5 L400.1 805.9 L401.1 806.1 L402.2 805.5 L403.2 805.6 L404.3 806.2 L405.3 806.3 L406.4 805.8 L407.4 806 L408.4 805.9 L409.5 806.1 L410.5 805.6 L411.6 805.7 L412.6 805.6 L413.7 805.6 L414.7 806 L415.8 806.5 L416.8 805.9 L417.9 806 L418.9 806 L420 805.6 L421 806 L422.1 805.6 L423.1 806.1 L424.2 806.1 L425.2 806.2 L426.3 806.2 L427.3 807 L428.4 806.4 L429.4 806.8 L430.5 807.3 L431.5 806.9 L432.6 807.1 L433.6 806.9 L434.7 807.2 L435.7 807.4 L436.8 808.1 L437.8 807.1 L438.8 807.2 L439.9 807.5 L440.9 807.6 L442 807.4 L443 808.1 L444.1 807.6 L445.1 807.8 L446.2 808.1 L447.2 807.6 L448.3 807.5 L449.3 807 L450.4 807.2 L451.4 807.9 L452.5 808 L453.5 807.3 L454.6 807.2 L455.6 807.4 L456.7 807.4 L457.7 806.9 L458.8 807.1 L459.8 806.9 L460.9 806.3 L461.9 806.4 L463 806.7 L464 806.7 L465.1 806.4 L466.1 805.7 L467.1 806.4 L468.2 805.7 L469.2 806.5 L470.3 806.3 L471.3 806 L472.4 806.4 L473.4 806.2 L474.5 806.7 L475.5 806 L476.6 805.9 L477.6 806.5 L478.7 806.3 L479.7 810.6 L480.8 815.4 L481.8 818 L482.9 822.8 L483.9 826.9 L485 831.2 L486 831.3 L487.1 830.6 L488.1 832 L489.2 831.5 L490.2 831.6 L491.3 831.5 L492.3 831.2 L493.4 831.7 L494.4 831.9 L495.5 831.8 L496.5 831.3 L497.5 831.2 L498.6 831.2 L499.6 831 L500.7 831.6 L501.7 831.2 L502.8 831.3 L503.8 831.5 L504.9 831.7 L505.9 831.2 L507 831.8 L508 831.6 L509.1 831.9 L510.1 831 L511.2 831.6 L512.2 831.8 L513.3 831.8 L514.3 831.8 L515.4 831.7 L516.4 832.3 L517.5 832.2 L518.5 831.7 L519.6 831.5 L520.6 832.2 L521.7 831.8 L522.7 832.1 L523.8 832.6 L524.8 832 L525.9 832.2 L526.9 831.6 L527.9 831.9 L529 831.9 L530 832.3 L531.1 831.7 L532.1 832.4 L533.2 831.6 L534.2 831.2 L535.3 832 L536.3 831.2 L537.4 831 L538.4 831.5 L539.5 831 L540.5 831.2 L541.6 831.4 L542.6 831.8 L543.7 831.4 L544.7 831.5 L545.8 830.2 L546.8 830.9 L547.9 831 L548.9 831.3 L550 830.3 L551 831.3 L552.1 830.4 L553.1 830.6 L554.2 830.9 L555.2 831.2 L556.3 831 L557.3 831.4 L558.3 830.8 L559.4 830.5 L560.4 830.8 L561.5 830.8 L562.5 831.4 L563.6 831.2 L564.6 831.6 L565.7 831.5 L566.7 831.2 L567.8 830.6 L568.8 831.4 L569.9 831.5 L570.9 832.1 L572 831.4 L573 831.8 L574.1 831.9 L575.1 831.9 L576.2 831.4 L577.2 831.5 L578.3 831.1 L579.3 831.4 L580.4 831.2 L581.4 830.7 L582.5 830.9 L583.5 830.8 L584.6 830.5 L585.6 830.8 L586.6 831.2 L587.7 831 L588.7 831.2 L589.8 830.5 L590.8 830.7 L591.9 830.4 L592.9 830.2 L594 830.7 L595 830.4 L596.1 830 L597.1 830.4 L598.2 830.1 L599.2 830.4 L600.3 830.7 L601.3 830.5 L602.4 831.1 L603.4 830.3 L604.5 830.7 L605.5 830.2 L606.6 831 L607.6 830.7 L608.7 830.7 L609.7 830.9 L610.8 830.8 L611.8 831.2 L612.9 831.4 L613.9 831.6 L615 831.4 L616 831.5 L617 831.2 L618.1 831.5 L619.1 831.6 L620.2 831.7 L621.2 832.1 L622.3 831.6 L623.3 831.4 L624.4 832 L625.4 831.6 L626.5 831.3 L627.5 831.8 L628.6 831.5 L629.6 831.7 L630.7 830.7 L631.7 831.1 L632.8 831.1 L633.8 831.7 L634.9 831.2 L635.9 831.5 L637 831.3 L638 831.6 L639.1 831.3 L640.1 831.6 L641.2 831.2 L642.2 830.7 L643.3 831.7 L644.3 831.7 L645.4 831.1 L646.4 830.9" fill="none" stroke="#4472C4" stroke-width="4.5" stroke-linejoin="round" stroke-linecap="round"/>
<path d="M227.1 832.4 L228.1 830.6 L229.2 829.3 L230.2 828.1 L231.3 826.7 L232.3 825.8 L233.4 824.1 L234.4 822.7 L235.5 821.3 L236.5 820.5 L237.6 819 L238.6 818.2 L239.7 816.4 L240.7 816.4 L241.8 816.2 L242.8 815.3 L243.9 816.4 L244.9 815.4 L246 815.5 L247 815.7 L248.1 815.4 L249.1 815.3 L250.2 815.1 L251.2 815.5 L252.3 815.5 L253.3 815.5 L254.4 815.5 L255.4 815.2 L256.5 815.4 L257.5 814.7 L258.5 815.6 L259.6 815.3 L260.6 815.2 L261.7 815.5 L262.7 814.2 L263.8 815.5 L264.8 814.8 L265.9 814.9 L266.9 814.2 L268 815.3 L269 814.3 L270.1 814.9 L271.1 814.7 L272.2 814.9 L273.2 814.5 L274.3 815.1 L275.3 814.8 L276.4 814.7 L277.4 814.2 L278.5 815.6 L279.5 814.4 L280.6 814.6 L281.6 815.1 L282.7 814.9 L283.7 815.2 L284.8 814.5 L285.8 815 L286.9 815.2 L287.9 815.2 L288.9 815.2 L290 815.2 L291 815.4 L292.1 814.5 L293.1 815.8 L294.2 816.3 L295.2 815.2 L296.3 815.2 L297.3 815 L298.4 815.1 L299.4 815.1 L300.5 814.9 L301.5 814.7 L302.6 815.1 L303.6 815 L304.7 814.2 L305.7 814.6 L306.8 815 L307.8 813.9 L308.9 814.4 L309.9 814.8 L311 814.9 L312 814.4 L313.1 814.7 L314.1 814.7 L315.2 814.8 L316.2 814.5 L317.2 813.9 L318.3 814.4 L319.3 814.7 L320.4 814 L321.4 814.2 L322.5 813.9 L323.5 813.8 L324.6 814.2 L325.6 814.2 L326.7 814.2 L327.7 814.6 L328.8 814 L329.8 813.8 L330.9 814.2 L331.9 814.4 L333 814.4 L334 814.6 L335.1 814.6 L336.1 814.5 L337.2 814.7 L338.2 814.6 L339.3 815 L340.3 814.4 L341.4 814.5 L342.4 814.9 L343.5 815.3 L344.5 814.6 L345.6 814.2 L346.6 814.8 L347.6 814.7 L348.7 814.7 L349.7 814.3 L350.8 814.8 L351.8 814.2 L352.9 814.6 L353.9 814.2 L355 814.4 L356 814.5 L357.1 814.9 L358.1 814.6 L359.2 814.4 L360.2 814.1 L361.3 814.2 L362.3 814.5 L363.4 814.2 L364.4 814 L365.5 814.3 L366.5 814.4 L367.6 814.4 L368.6 814 L369.7 814.1 L370.7 814.6 L371.8 814.2 L372.8 814.4 L373.9 814.6 L374.9 813.9 L376 814.1 L377 814.6 L378 814.4 L379.1 814.3 L380.1 814.7 L381.2 814.6 L382.2 814.3 L383.3 815.2 L384.3 814.5 L385.4 814.4 L386.4 814.5 L387.5 815.1 L388.5 814.6 L389.6 815 L390.6 814.6 L391.7 814.6 L392.7 814.7 L393.8 815.1 L394.8 815 L395.9 814.5 L396.9 815.1 L398 814.6 L399 814.6 L400.1 814.9 L401.1 814 L402.2 814.7 L403.2 814 L404.3 815.3 L405.3 815.4 L406.4 814.3 L407.4 814.4 L408.4 814.7 L409.5 814.5 L410.5 815.1 L411.6 814.7 L412.6 814.8 L413.7 814.5 L414.7 814.1 L415.8 814.4 L416.8 814.3 L417.9 814.6 L418.9 814.5 L420 814.3 L421 814.5 L422.1 814 L423.1 814.7 L424.2 813.8 L425.2 814.7 L426.3 814.1 L427.3 814.7 L428.4 813.9 L429.4 814.4 L430.5 814.3 L431.5 814.2 L432.6 814.7 L433.6 814.8 L434.7 815.2 L435.7 814.1 L436.8 814.7 L437.8 814.7 L438.8 814.5 L439.9 813.9 L440.9 815 L442 814.4 L443 814.5 L444.1 814.2 L445.1 814.9 L446.2 814.4 L447.2 813.9 L448.3 813.6 L449.3 813.5 L450.4 814.2 L451.4 813.8 L452.5 813.8 L453.5 814.1 L454.6 814 L455.6 813.1 L456.7 813.1 L457.7 813.1 L458.8 812.5 L459.8 813.1 L460.9 812.5 L461.9 812.5 L463 812.3 L464 812 L465.1 811.9 L466.1 811.8 L467.1 811.6 L468.2 810.9 L469.2 811.5 L470.3 810.9 L471.3 810.9 L472.4 811 L473.4 810.5 L474.5 810.9 L475.5 810.1 L476.6 810.6 L477.6 810.4 L478.7 810 L479.7 813.4 L480.8 816.8 L481.8 820.4 L482.9 824.2 L483.9 828 L485 831 L486 831.2 L487.1 831.6 L488.1 831 L489.2 831.3 L490.2 831.7 L491.3 831.3 L492.3 831.9 L493.4 831.8 L494.4 831.4 L495.5 832.1 L496.5 831.6 L497.5 832.1 L498.6 831.4 L499.6 831.9 L500.7 831.6 L501.7 832.1 L502.8 831.7 L503.8 831.3 L504.9 831.5 L505.9 832.2 L507 831.3 L508 831.2 L509.1 831.6 L510.1 831 L511.2 831.7 L512.2 831.4 L513.3 830.9 L514.3 830.8 L515.4 830.8 L516.4 831.5 L517.5 831.7 L518.5 830.9 L519.6 831.5 L520.6 831 L521.7 831.3 L522.7 830.6 L523.8 830.6 L524.8 830.7 L525.9 830.8 L526.9 830.8 L527.9 830.9 L529 830.7 L530 830.7 L531.1 830.7 L532.1 830.9 L533.2 830.2 L534.2 830.7 L535.3 830.4 L536.3 830.4 L537.4 831.2 L538.4 831.5 L539.5 830.5 L540.5 831.1 L541.6 831 L542.6 831.1 L543.7 831 L544.7 831.4 L545.8 831.1 L546.8 831.3 L547.9 831.1 L548.9 831.9 L550 830.9 L551 831 L552.1 831.7 L553.1 831.4 L554.2 831.1 L555.2 830.9 L556.3 831.1 L557.3 830.7 L558.3 831.1 L559.4 831.4 L560.4 831.3 L561.5 830.8 L562.5 831.2 L563.6 830.7 L564.6 830.7 L565.7 830.8 L566.7 830.6 L567.8 831 L568.8 830.9 L569.9 831.1 L570.9 831.1 L572 831.4 L573 831.1 L574.1 831.2 L575.1 831.4 L576.2 830.9 L577.2 830.8 L578.3 831.1 L579.3 830.5 L580.4 830.7 L581.4 830.7 L582.5 831.2 L583.5 831.6 L584.6 830.9 L585.6 831.1 L586.6 831 L587.7 831.1 L588.7 830.9 L589.8 831.4 L590.8 831.2 L591.9 831.7 L592.9 832.2 L594 831.6 L595 831 L596.1 832.1 L597.1 831.3 L598.2 831.8 L599.2 831.8 L600.3 831.6 L601.3 831.6 L602.4 832 L603.4 831.6 L604.5 831.5 L605.5 831.4 L606.6 831.9 L607.6 831.2 L608.7 831 L609.7 830.9 L610.8 832 L611.8 831.5 L612.9 832.2 L613.9 831.4 L615 831.3 L616 831.9 L617 832 L618.1 831.4 L619.1 831.2 L620.2 831.7 L621.2 831.5 L622.3 832.2 L623.3 831.6 L624.4 831.4 L625.4 831.4 L626.5 830.9 L627.5 831.8 L628.6 832.2 L629.6 831.4 L630.7 831.7 L631.7 831.5 L632.8 831.4 L633.8 831.5 L634.9 831.2 L635.9 831.3 L637 832.3 L638 831.9 L639.1 831.3 L640.1 832.1 L641.2 831.7 L642.2 832.1 L643.3 832.3 L644.3 831.7 L645.4 831.9 L646.4 832.3" fill="none" stroke="#ED7D31" stroke-width="4.5" stroke-linejoin="round" stroke-linecap="round"/>
<path d="M227.1 831.5 L228.1 830.7 L229.2 829.6 L230.2 827.9 L231.3 827.3 L232.3 826.7 L233.4 824.9 L234.4 823.9 L235.5 823.1 L236.5 822.9 L237.6 822.7 L238.6 822.4 L239.7 822.5 L240.7 822.2 L241.8 821.6 L242.8 822.4 L243.9 822.3 L244.9 822.1 L246 821.6 L247 822.2 L248.1 821.5 L249.1 822.4 L250.2 822.3 L251.2 822.1 L252.3 822.4 L253.3 822.3 L254.4 822.1 L255.4 822.1 L256.5 822.3 L257.5 822.5 L258.5 822.1 L259.6 822.5 L260.6 822.8 L261.7 822.4 L262.7 823.2 L263.8 823 L264.8 822.9 L265.9 823.2 L266.9 823.4 L268 823.2 L269 823.5 L270.1 823.5 L271.1 823.7 L272.2 823 L273.2 823.5 L274.3 823 L275.3 823.2 L276.4 823.4 L277.4 823 L278.5 823.1 L279.5 823.1 L280.6 823.5 L281.6 822.9 L282.7 822.6 L283.7 822.7 L284.8 822.4 L285.8 822.2 L286.9 822.5 L287.9 821.9 L288.9 823 L290 822.5 L291 823.2 L292.1 822.1 L293.1 822.3 L294.2 821.8 L295.2 822.5 L296.3 823 L297.3 822 L298.4 822.9 L299.4 822.9 L300.5 822.7 L301.5 822.5 L302.6 822.9 L303.6 822.8 L304.7 823.6 L305.7 822.5 L306.8 823.2 L307.8 823.2 L308.9 823.2 L309.9 823.4 L311 823.5 L312 823.9 L313.1 823.7 L314.1 823.6 L315.2 823.5 L316.2 823.9 L317.2 823.9 L318.3 823.8 L319.3 823.7 L320.4 823.8 L321.4 824 L322.5 824 L323.5 823.5 L324.6 823.7 L325.6 823.7 L326.7 822.5 L327.7 823.3 L328.8 823.2 L329.8 823.3 L330.9 823.6 L331.9 822.8 L333 823.2 L334 823 L335.1 822.6 L336.1 822.6 L337.2 822.8 L338.2 822.8 L339.3 822.1 L340.3 822.5 L341.4 823 L342.4 822.5 L343.5 822.7 L344.5 822.7 L345.6 822.6 L346.6 822.7 L347.6 822.2 L348.7 822.9 L349.7 822.9 L350.8 822.7 L351.8 823.3 L352.9 822.9 L353.9 823.3 L355 823 L356 823.8 L357.1 823.4 L358.1 824.1 L359.2 823.8 L360.2 823.8 L361.3 823.6 L362.3 823.2 L363.4 823.3 L364.4 824.3 L365.5 824.1 L366.5 823.5 L367.6 823.7 L368.6 824.3 L369.7 823.6 L370.7 824.1 L371.8 823.9 L372.8 824 L373.9 823.6 L374.9 822.7 L376 823.2 L377 823.2 L378 822.3 L379.1 823.2 L380.1 823 L381.2 822.9 L382.2 822.6 L383.3 822.8 L384.3 822.1 L385.4 822.6 L386.4 822.3 L387.5 822.4 L388.5 822.7 L389.6 822.7 L390.6 822.4 L391.7 823.2 L392.7 822.5 L393.8 822.5 L394.8 822.5 L395.9 822.6 L396.9 822.5 L398 822.8 L399 822.6 L400.1 823.4 L401.1 822.7 L402.2 823.3 L403.2 823 L404.3 823.4 L405.3 823.4 L406.4 823.6 L407.4 823 L408.4 823.8 L409.5 823.9 L410.5 823.5 L411.6 823.5 L412.6 823.5 L413.7 823.9 L414.7 823.7 L415.8 823.2 L416.8 823.8 L417.9 823.2 L418.9 823.1 L420 823.2 L421 823.6 L422.1 822.5 L423.1 823 L424.2 822.9 L425.2 823 L426.3 823.1 L427.3 822.7 L428.4 822.5 L429.4 822.8 L430.5 822.4 L431.5 822 L432.6 822.2 L433.6 822.3 L434.7 821.9 L435.7 821.9 L436.8 821.9 L437.8 822.5 L438.8 822.8 L439.9 822 L440.9 822.3 L442 822.5 L443 822.3 L444.1 822.6 L445.1 822.8 L446.2 822.1 L447.2 823.2 L448.3 822.5 L449.3 822.6 L450.4 822.4 L451.4 823 L452.5 823 L453.5 823.5 L454.6 823.3 L455.6 824 L456.7 823.6 L457.7 823.4 L458.8 823.5 L459.8 823.6 L460.9 823.1 L461.9 824 L463 823.4 L464 823.5 L465.1 823.4 L466.1 823.3 L467.1 822.6 L468.2 823.5 L469.2 822.7 L470.3 822.6 L471.3 823 L472.4 823 L473.4 823.2 L474.5 823 L475.5 821.9 L476.6 823.2 L477.6 822.3 L478.7 822.6 L479.7 823.1 L480.8 825 L481.8 826.8 L482.9 827.9 L483.9 829.1 L485 830.5 L486 830.9 L487.1 830.7 L488.1 830.8 L489.2 830.5 L490.2 830.7 L491.3 830.8 L492.3 831.1 L493.4 830.8 L494.4 831.3 L495.5 831.5 L496.5 831.4 L497.5 831.5 L498.6 831.6 L499.6 832.2 L500.7 831.2 L501.7 831.5 L502.8 831.3 L503.8 831.9 L504.9 831.6 L505.9 831.8 L507 831.9 L508 831.3 L509.1 832.1 L510.1 831.7 L511.2 832.4 L512.2 831.6 L513.3 831.8 L514.3 832 L515.4 831.8 L516.4 832.3 L517.5 831.9 L518.5 831.4 L519.6 832.2 L520.6 830.9 L521.7 830.9 L522.7 831.4 L523.8 831.5 L524.8 831.4 L525.9 831.3 L526.9 831.1 L527.9 830.2 L529 831.2 L530 830.6 L531.1 830.4 L532.1 831.1 L533.2 831 L534.2 830.7 L535.3 831.2 L536.3 830.6 L537.4 830.4 L538.4 831.2 L539.5 831.5 L540.5 831.1 L541.6 831.3 L542.6 831.7 L543.7 831.6 L544.7 831.7 L545.8 831.6 L546.8 831.5 L547.9 832.1 L548.9 832.4 L550 832.6 L551 831.5 L552.1 832.3 L553.1 832.3 L554.2 831.4 L555.2 831.9 L556.3 831.5 L557.3 832.3 L558.3 832.4 L559.4 832.3 L560.4 831.9 L561.5 831.9 L562.5 831.8 L563.6 831.1 L564.6 831.3 L565.7 832 L566.7 831.5 L567.8 831.3 L568.8 831.7 L569.9 830.6 L570.9 831 L572 830.7 L573 831.3 L574.1 831.5 L575.1 830.8 L576.2 831.1 L577.2 831.2 L578.3 831 L579.3 830.9 L580.4 830.9 L581.4 831.1 L582.5 830.9 L583.5 830.1 L584.6 830.7 L585.6 831.3 L586.6 830.6 L587.7 831.5 L588.7 831.9 L589.8 831.9 L590.8 832.2 L591.9 831.2 L592.9 832 L594 832.2 L595 832 L596.1 831.9 L597.1 832.3 L598.2 832.1 L599.2 832 L600.3 831.8 L601.3 832.3 L602.4 831.8 L603.4 831.9 L604.5 831.7 L605.5 832.1 L606.6 832.2 L607.6 831.4 L608.7 831.5 L609.7 831.8 L610.8 831.8 L611.8 831.2 L612.9 830.7 L613.9 831.1 L615 830.3 L616 830.9 L617 830.8 L618.1 830.7 L619.1 830.4 L620.2 831.1 L621.2 830.5 L622.3 830.1 L623.3 831 L624.4 830.4 L625.4 830.2 L626.5 829.9 L627.5 829.9 L628.6 830.4 L629.6 829.8 L630.7 830.9 L631.7 831 L632.8 830.2 L633.8 830.4 L634.9 831.1 L635.9 830.4 L637 830.6 L638 830.7 L639.1 831.2 L640.1 831.5 L641.2 831.7 L642.2 831.3 L643.3 831.3 L644.3 831.5 L645.4 831.6 L646.4 831.1" fill="none" stroke="#A5A5A5" stroke-width="4.5" stroke-linejoin="round" stroke-linecap="round"/>
<path d="M227.1 831.6 L228.1 830.5 L229.2 830.4 L230.2 830 L231.3 829.2 L232.3 828.8 L233.4 828.2 L234.4 827.6 L235.5 826.5 L236.5 826.9 L237.6 826.8 L238.6 826.7 L239.7 826.3 L240.7 826.8 L241.8 826.8 L242.8 826.1 L243.9 826.9 L244.9 826.6 L246 826.4 L247 826 L248.1 826.7 L249.1 827 L250.2 826.3 L251.2 826.6 L252.3 826.6 L253.3 826.4 L254.4 826.5 L255.4 826.5 L256.5 826.7 L257.5 826.4 L258.5 826.4 L259.6 826.7 L260.6 826.9 L261.7 826.7 L262.7 826.8 L263.8 827.2 L264.8 827.1 L265.9 826.9 L266.9 827.2 L268 827.3 L269 827.2 L270.1 827.3 L271.1 827.4 L272.2 827.8 L273.2 827.1 L274.3 827.4 L275.3 827.7 L276.4 827.3 L277.4 827.5 L278.5 827.5 L279.5 827.3 L280.6 827.1 L281.6 827.4 L282.7 827.2 L283.7 827 L284.8 827.7 L285.8 827.5 L286.9 827.2 L287.9 827.7 L288.9 827.4 L290 827 L291 827 L292.1 827.1 L293.1 827.6 L294.2 826.6 L295.2 827 L296.3 826.9 L297.3 826.9 L298.4 827.4 L299.4 827.3 L300.5 827.2 L301.5 826.5 L302.6 827.1 L303.6 826.9 L304.7 826.9 L305.7 826.8 L306.8 826.8 L307.8 826.8 L308.9 827.1 L309.9 827.5 L311 826.8 L312 826.8 L313.1 826.6 L314.1 826.9 L315.2 827 L316.2 826.8 L317.2 827.2 L318.3 827.1 L319.3 827.1 L320.4 826.8 L321.4 826.5 L322.5 826.7 L323.5 826.7 L324.6 826.9 L325.6 826.8 L326.7 827 L327.7 827 L328.8 827.4 L329.8 827.2 L330.9 827.2 L331.9 826.7 L333 826.8 L334 826.7 L335.1 826.6 L336.1 827 L337.2 826.8 L338.2 826.6 L339.3 827 L340.3 826.8 L341.4 827.1 L342.4 827.5 L343.5 827.1 L344.5 827.4 L345.6 827.2 L346.6 827.4 L347.6 827.2 L348.7 827.8 L349.7 827 L350.8 827.2 L351.8 827.6 L352.9 827.7 L353.9 827.6 L355 827.5 L356 827.5 L357.1 827.6 L358.1 828.1 L359.2 827.9 L360.2 827.4 L361.3 827.7 L362.3 828 L363.4 827.9 L364.4 828 L365.5 827.9 L366.5 827.4 L367.6 827.6 L368.6 827.3 L369.7 827.5 L370.7 827.8 L371.8 827.5 L372.8 826.8 L373.9 827.4 L374.9 827.4 L376 826.8 L377 827 L378 827 L379.1 826.6 L380.1 827.2 L381.2 826.7 L382.2 826.9 L383.3 826.9 L384.3 826.8 L385.4 826.3 L386.4 826.5 L387.5 826.9 L388.5 826.7 L389.6 826.1 L390.6 826.2 L391.7 826.7 L392.7 825.9 L393.8 826.5 L394.8 826.7 L395.9 826.5 L396.9 826.3 L398 826.2 L399 826.4 L400.1 826.8 L401.1 826.8 L402.2 827.1 L403.2 826.9 L404.3 827 L405.3 826.9 L406.4 827.3 L407.4 827.2 L408.4 827.3 L409.5 827.4 L410.5 827.5 L411.6 827.5 L412.6 827.6 L413.7 827.2 L414.7 827.3 L415.8 827.7 L416.8 827.3 L417.9 827.3 L418.9 827.1 L420 827.4 L421 827.4 L422.1 827.5 L423.1 827.3 L424.2 827.2 L425.2 827.3 L426.3 827.4 L427.3 827.1 L428.4 827.2 L429.4 827.2 L430.5 827.4 L431.5 827.1 L432.6 827.3 L433.6 827.3 L434.7 827 L435.7 826.6 L436.8 826.8 L437.8 827 L438.8 827 L439.9 826.7 L440.9 826.6 L442 826.6 L443 826.9 L444.1 826.8 L445.1 827 L446.2 826.9 L447.2 827.1 L448.3 826.9 L449.3 827.3 L450.4 827.1 L451.4 826.8 L452.5 827.1 L453.5 826.7 L454.6 827.1 L455.6 826.9 L456.7 826.8 L457.7 827.1 L458.8 827 L459.8 826.3 L460.9 826.9 L461.9 826.9 L463 826.9 L464 826.7 L465.1 826.7 L466.1 826.5 L467.1 826.5 L468.2 826.8 L469.2 826.7 L470.3 826.9 L471.3 826.9 L472.4 826.8 L473.4 826.4 L474.5 826.5 L475.5 826.4 L476.6 826.3 L477.6 826.6 L478.7 826.1 L479.7 827.4 L480.8 828.2 L481.8 828.9 L482.9 829.3 L483.9 830.3 L485 831.2 L486 830.9 L487.1 830.8 L488.1 831.1 L489.2 831.2 L490.2 830.9 L491.3 831 L492.3 831 L493.4 831.4 L494.4 831.2 L495.5 831.3 L496.5 831.8 L497.5 831.1 L498.6 831.4 L499.6 831.5 L500.7 831 L501.7 831.4 L502.8 831.6 L503.8 831.5 L504.9 831.3 L505.9 831.3 L507 831.4 L508 831.6 L509.1 831.5 L510.1 831.5 L511.2 831.5 L512.2 831.3 L513.3 831.3 L514.3 831.2 L515.4 831.3 L516.4 831.3 L517.5 831.1 L518.5 831.1 L519.6 830.7 L520.6 831.1 L521.7 830.8 L522.7 830.9 L523.8 831.1 L524.8 830.6 L525.9 830.7 L526.9 831.2 L527.9 830.6 L529 830.6 L530 830.9 L531.1 830.4 L532.1 830.8 L533.2 831.1 L534.2 830.7 L535.3 831 L536.3 831.2 L537.4 831.4 L538.4 830.9 L539.5 831.2 L540.5 830.9 L541.6 831 L542.6 831.3 L543.7 831.3 L544.7 830.9 L545.8 830.9 L546.8 831.1 L547.9 831.4 L548.9 831.6 L550 831.5 L551 831 L552.1 831.3 L553.1 831.5 L554.2 831.7 L555.2 831.4 L556.3 831.6 L557.3 831.4 L558.3 831.2 L559.4 831.1 L560.4 831.3 L561.5 831.3 L562.5 831.2 L563.6 830.8 L564.6 831.1 L565.7 831.4 L566.7 830.7 L567.8 831 L568.8 830.2 L569.9 831.1 L570.9 831 L572 831 L573 830.8 L574.1 831 L575.1 831.2 L576.2 831.2 L577.2 830.8 L578.3 830.9 L579.3 830.9 L580.4 830.4 L581.4 830.7 L582.5 830.6 L583.5 831 L584.6 830.8 L585.6 831 L586.6 831 L587.7 830.8 L588.7 830.9 L589.8 831 L590.8 831 L591.9 831.4 L592.9 831.3 L594 831.1 L595 831.3 L596.1 831.4 L597.1 831.1 L598.2 831.4 L599.2 831.4 L600.3 831.1 L601.3 831.4 L602.4 831 L603.4 831.2 L604.5 831.1 L605.5 831.1 L606.6 831.8 L607.6 831.3 L608.7 831.6 L609.7 831.4 L610.8 831.3 L611.8 831 L612.9 831.3 L613.9 830.9 L615 831.4 L616 831.3 L617 831.2 L618.1 831 L619.1 831.3 L620.2 831.4 L621.2 831.3 L622.3 831.6 L623.3 831 L624.4 831.1 L625.4 831.2 L626.5 831.3 L627.5 831.5 L628.6 831.5 L629.6 831.2 L630.7 831.6 L631.7 831.6 L632.8 831.1 L633.8 831.1 L634.9 831.4 L635.9 831.4 L637 831.5 L638 831.2 L639.1 831.6 L640.1 831.5 L641.2 831.4 L642.2 831.2 L643.3 831.6 L644.3 831.4 L645.4 831.6 L646.4 831.6" fill="none" stroke="#FFC000" stroke-width="4.5" stroke-linejoin="round" stroke-linecap="round"/>
<path d="M227.1 831.1 L228.1 830.9 L229.2 830.3 L230.2 830.3 L231.3 829.6 L232.3 829.5 L233.4 828.6 L234.4 828.4 L235.5 828.2 L236.5 828.5 L237.6 828.2 L238.6 828.2 L239.7 828.4 L240.7 828.5 L241.8 828.1 L242.8 828.5 L243.9 828.3 L244.9 828.1 L246 828.7 L247 828 L248.1 828.2 L249.1 828.6 L250.2 828.7 L251.2 828.7 L252.3 828.3 L253.3 829 L254.4 828.2 L255.4 828.4 L256.5 828.6 L257.5 828.5 L258.5 828.5 L259.6 828.4 L260.6 828.2 L261.7 828.5 L262.7 828.1 L263.8 828.1 L264.8 828.3 L265.9 828.1 L266.9 828.3 L268 828.2 L269 828 L270.1 827.7 L271.1 828.1 L272.2 828.1 L273.2 828 L274.3 828 L275.3 828.2 L276.4 827.6 L277.4 828.1 L278.5 828.1 L279.5 828.1 L280.6 827.8 L281.6 827.3 L282.7 827.3 L283.7 827.7 L284.8 827.9 L285.8 828 L286.9 828.2 L287.9 827.9 L288.9 828.1 L290 827.6 L291 828.2 L292.1 828.4 L293.1 828.6 L294.2 828.6 L295.2 828.1 L296.3 828.3 L297.3 828.6 L298.4 828.8 L299.4 828.4 L300.5 828.6 L301.5 828.5 L302.6 828.6 L303.6 828.8 L304.7 829.1 L305.7 828.7 L306.8 828.8 L307.8 828.8 L308.9 828.6 L309.9 828.7 L311 829 L312 828.8 L313.1 829.4 L314.1 828.8 L315.2 828.9 L316.2 828.7 L317.2 828.7 L318.3 829.1 L319.3 828.9 L320.4 828.7 L321.4 829 L322.5 828.8 L323.5 828.9 L324.6 828.7 L325.6 828.7 L326.7 828.9 L327.7 829 L328.8 829.1 L329.8 828.4 L330.9 828.6 L331.9 828.7 L333 828.6 L334 828.6 L335.1 828.2 L336.1 828.2 L337.2 828.8 L338.2 828.3 L339.3 828.2 L340.3 828.3 L341.4 828.2 L342.4 827.8 L343.5 828.1 L344.5 827.9 L345.6 827.9 L346.6 828.5 L347.6 827.7 L348.7 828.1 L349.7 828.2 L350.8 828 L351.8 827.7 L352.9 828.3 L353.9 828.3 L355 828.1 L356 828.6 L357.1 828.5 L358.1 828.3 L359.2 828.1 L360.2 828.2 L361.3 828.2 L362.3 828.1 L363.4 828.5 L364.4 828.5 L365.5 828.5 L366.5 828.5 L367.6 828.2 L368.6 828.3 L369.7 829 L370.7 828.4 L371.8 828.8 L372.8 828.8 L373.9 828.3 L374.9 828.3 L376 828.3 L377 828.4 L378 828.1 L379.1 828.8 L380.1 828.3 L381.2 828.6 L382.2 828.6 L383.3 828.8 L384.3 828.1 L385.4 828 L386.4 828.2 L387.5 828.5 L388.5 828.3 L389.6 828.5 L390.6 828.3 L391.7 827.9 L392.7 827.8 L393.8 828 L394.8 828 L395.9 828.2 L396.9 828 L398 828.1 L399 828 L400.1 828.2 L401.1 827.9 L402.2 828.1 L403.2 828 L404.3 828.1 L405.3 827.8 L406.4 827.9 L407.4 828.3 L408.4 828.3 L409.5 828 L410.5 828.2 L411.6 828.2 L412.6 828.2 L413.7 827.9 L414.7 828.3 L415.8 828 L416.8 828.4 L417.9 828.4 L418.9 828.3 L420 828.4 L421 828.5 L422.1 828.7 L423.1 828.5 L424.2 828.5 L425.2 828.5 L426.3 828.3 L427.3 828.4 L428.4 828.2 L429.4 828.5 L430.5 828.4 L431.5 828.4 L432.6 828.3 L433.6 828.3 L434.7 828.6 L435.7 828.4 L436.8 828.4 L437.8 828.2 L438.8 828.2 L439.9 828.5 L440.9 828.3 L442 828.2 L443 828.3 L444.1 828.1 L445.1 828.3 L446.2 828.6 L447.2 828.2 L448.3 828.1 L449.3 828.5 L450.4 828.1 L451.4 828.9 L452.5 827.8 L453.5 828.6 L454.6 828.4 L455.6 828.4 L456.7 828.6 L457.7 828.2 L458.8 828.5 L459.8 828.6 L460.9 828.9 L461.9 828.2 L463 828.2 L464 828.5 L465.1 828.4 L466.1 828.2 L467.1 828.4 L468.2 828.3 L469.2 828.4 L470.3 828.5 L471.3 828.5 L472.4 828.4 L473.4 828.7 L474.5 828.7 L475.5 828.9 L476.6 829.2 L477.6 829 L478.7 828.9 L479.7 828.7 L480.8 829.2 L481.8 829.7 L482.9 829.3 L483.9 829.4 L485 829.7 L486 829.7 L487.1 829.7 L488.1 829.7 L489.2 829.4 L490.2 829.9 L491.3 829.8 L492.3 829.9 L493.4 829.7 L494.4 829.7 L495.5 829.6 L496.5 829.4 L497.5 829.2 L498.6 829.7 L499.6 829.3 L500.7 829.4 L501.7 829.4 L502.8 829.3 L503.8 829.1 L504.9 829.5 L505.9 828.8 L507 829.1 L508 829.2 L509.1 829.4 L510.1 828.8 L511.2 828.8 L512.2 828.8 L513.3 828.9 L514.3 828.6 L515.4 828.6 L516.4 828.5 L517.5 828.9 L518.5 828.8 L519.6 829.1 L520.6 829 L521.7 829.1 L522.7 829 L523.8 829 L524.8 829.1 L525.9 829.1 L526.9 829.1 L527.9 829.2 L529 829.3 L530 829.3 L531.1 829.1 L532.1 829.1 L533.2 829 L534.2 828.7 L535.3 829.5 L536.3 829.1 L537.4 829.6 L538.4 829.4 L539.5 829.5 L540.5 829.3 L541.6 829 L542.6 829 L543.7 829.2 L544.7 829.1 L545.8 829.2 L546.8 829.6 L547.9 828.9 L548.9 829.4 L550 829.4 L551 829.3 L552.1 829.5 L553.1 829.4 L554.2 829.1 L555.2 829.4 L556.3 829.3 L557.3 829.6 L558.3 829.6 L559.4 829.1 L560.4 829.1 L561.5 829.3 L562.5 828.8 L563.6 829.4 L564.6 829.1 L565.7 829.4 L566.7 829.3 L567.8 829.2 L568.8 829.6 L569.9 829 L570.9 829.4 L572 829.4 L573 829.4 L574.1 829.3 L575.1 829.7 L576.2 829.7 L577.2 829.4 L578.3 829.6 L579.3 829.7 L580.4 829.5 L581.4 829.3 L582.5 829.9 L583.5 830.2 L584.6 829.8 L585.6 830.1 L586.6 829.8 L587.7 830 L588.7 829.8 L589.8 829.4 L590.8 829.8 L591.9 830.1 L592.9 830 L594 830 L595 830 L596.1 829.6 L597.1 829.6 L598.2 829.4 L599.2 829.4 L600.3 829.6 L601.3 829.7 L602.4 829.6 L603.4 829.5 L604.5 829.6 L605.5 829.7 L606.6 828.8 L607.6 829 L608.7 829.3 L609.7 829.3 L610.8 829.3 L611.8 829.1 L612.9 829.2 L613.9 829.6 L615 829 L616 828.9 L617 829.3 L618.1 829.3 L619.1 829.1 L620.2 829.3 L621.2 828.8 L622.3 828.9 L623.3 829.4 L624.4 829 L625.4 829.4 L626.5 829.3 L627.5 828.9 L628.6 829.3 L629.6 829.1 L630.7 829.4 L631.7 828.9 L632.8 829.4 L633.8 828.7 L634.9 829.3 L635.9 829.6 L637 829.5 L638 829.6 L639.1 829.3 L640.1 829.9 L641.2 829.5 L642.2 829.4 L643.3 829.5 L644.3 830 L645.4 829.5 L646.4 829.6" fill="none" stroke="#FF66FF" stroke-width="4.5" stroke-linejoin="round" stroke-linecap="round"/>
<path d="M227.1 831.5 L228.1 831.3 L229.2 831.1 L230.2 831 L231.3 830.8 L232.3 830.9 L233.4 830.6 L234.4 830.5 L235.5 830.5 L236.5 830.1 L237.6 830.3 L238.6 830.2 L239.7 830.5 L240.7 830.5 L241.8 830.4 L242.8 830.4 L243.9 830.3 L244.9 830.4 L246 830.5 L247 830.5 L248.1 830.5 L249.1 830.2 L250.2 830.5 L251.2 830.4 L252.3 830.3 L253.3 830.7 L254.4 830.4 L255.4 830.2 L256.5 830.8 L257.5 830.5 L258.5 830.5 L259.6 830.6 L260.6 830.4 L261.7 830.5 L262.7 830.7 L263.8 830.4 L264.8 830.4 L265.9 830.4 L266.9 830.3 L268 830.5 L269 830.5 L270.1 830.8 L271.1 830.5 L272.2 830.7 L273.2 830.7 L274.3 830.8 L275.3 830.8 L276.4 830.7 L277.4 830.4 L278.5 831 L279.5 830.9 L280.6 830.6 L281.6 830.4 L282.7 830.6 L283.7 831 L284.8 831.1 L285.8 830.6 L286.9 830.8 L287.9 830.9 L288.9 830.5 L290 830.5 L291 830.7 L292.1 830.7 L293.1 830.6 L294.2 830.4 L295.2 830.6 L296.3 830.6 L297.3 830.6 L298.4 830.9 L299.4 830.5 L300.5 830.5 L301.5 830.6 L302.6 831 L303.6 830.7 L304.7 830.5 L305.7 830.9 L306.8 830.6 L307.8 830.4 L308.9 830.8 L309.9 830.3 L311 830.4 L312 830.5 L313.1 830.4 L314.1 830.4 L315.2 830.4 L316.2 830.2 L317.2 830.5 L318.3 830.5 L319.3 830.2 L320.4 830.4 L321.4 830.5 L322.5 830.2 L323.5 830.1 L324.6 830.4 L325.6 830.5 L326.7 830.3 L327.7 830.2 L328.8 830.3 L329.8 830 L330.9 830.3 L331.9 830 L333 830.3 L334 830.3 L335.1 830 L336.1 829.9 L337.2 830 L338.2 830 L339.3 830.1 L340.3 830 L341.4 830 L342.4 830.1 L343.5 830 L344.5 830 L345.6 830 L346.6 829.9 L347.6 830 L348.7 829.7 L349.7 830 L350.8 830.1 L351.8 830.1 L352.9 830.1 L353.9 829.9 L355 830.1 L356 830 L357.1 829.8 L358.1 830.5 L359.2 830.3 L360.2 830.1 L361.3 830.1 L362.3 830.1 L363.4 830.3 L364.4 830.1 L365.5 830.2 L366.5 830.3 L367.6 829.9 L368.6 830.2 L369.7 830.4 L370.7 830.3 L371.8 830.4 L372.8 830.4 L373.9 830.8 L374.9 830.5 L376 830.3 L377 830.6 L378 830.5 L379.1 830.3 L380.1 830.3 L381.2 830.3 L382.2 830.8 L383.3 830.6 L384.3 830.6 L385.4 830.5 L386.4 830.4 L387.5 831 L388.5 830.4 L389.6 830.8 L390.6 830.5 L391.7 830.9 L392.7 830.6 L393.8 830.5 L394.8 830.7 L395.9 830.6 L396.9 830.5 L398 830.6 L399 830.7 L400.1 830.4 L401.1 830.5 L402.2 830.7 L403.2 830.2 L404.3 830.8 L405.3 830.5 L406.4 830.7 L407.4 830.6 L408.4 830.5 L409.5 830.6 L410.5 830.5 L411.6 830.8 L412.6 830.8 L413.7 830.4 L414.7 830.7 L415.8 830.7 L416.8 830.7 L417.9 830.3 L418.9 830.3 L420 830.2 L421 830.6 L422.1 830.4 L423.1 830.5 L424.2 830.2 L425.2 830.1 L426.3 830.4 L427.3 830 L428.4 830.1 L429.4 830.3 L430.5 830.5 L431.5 830 L432.6 830.2 L433.6 830.2 L434.7 830.1 L435.7 830 L436.8 829.8 L437.8 830.2 L438.8 829.9 L439.9 829.8 L440.9 829.8 L442 830 L443 830.1 L444.1 829.8 L445.1 829.9 L446.2 829.9 L447.2 829.7 L448.3 829.9 L449.3 830.3 L450.4 829.9 L451.4 830.2 L452.5 829.7 L453.5 829.8 L454.6 829.9 L455.6 829.8 L456.7 829.7 L457.7 829.8 L458.8 829.6 L459.8 829.8 L460.9 829.6 L461.9 829.6 L463 829.6 L464 829.9 L465.1 829.7 L466.1 830.1 L467.1 830 L468.2 830.1 L469.2 829.7 L470.3 830 L471.3 829.9 L472.4 829.9 L473.4 829.9 L474.5 830 L475.5 829.9 L476.6 829.6 L477.6 829.9 L478.7 829.8 L479.7 829.9 L480.8 830.1 L481.8 830.4 L482.9 830.4 L483.9 830.2 L485 830.7 L486 830.6 L487.1 830.4 L488.1 830.4 L489.2 830.5 L490.2 830.4 L491.3 830.5 L492.3 830.8 L493.4 830.9 L494.4 830.7 L495.5 830.5 L496.5 830.7 L497.5 830.8 L498.6 830.8 L499.6 830.9 L500.7 830.7 L501.7 830.9 L502.8 830.7 L503.8 831.1 L504.9 830.7 L505.9 830.9 L507 831.1 L508 830.7 L509.1 830.9 L510.1 831.2 L511.2 831 L512.2 830.8 L513.3 830.9 L514.3 830.8 L515.4 830.8 L516.4 830.8 L517.5 830.9 L518.5 830.7 L519.6 830.8 L520.6 830.9 L521.7 831.3 L522.7 830.8 L523.8 830.8 L524.8 831 L525.9 831.1 L526.9 830.7 L527.9 831.3 L529 831 L530 830.7 L531.1 831.2 L532.1 831 L533.2 830.8 L534.2 831.1 L535.3 831 L536.3 830.9 L537.4 831.2 L538.4 831.1 L539.5 831.1 L540.5 831 L541.6 831.1 L542.6 831.2 L543.7 831.3 L544.7 831.2 L545.8 831 L546.8 831.1 L547.9 831.3 L548.9 831.3 L550 830.7 L551 831 L552.1 831 L553.1 831.6 L554.2 831 L555.2 831.1 L556.3 830.9 L557.3 831.1 L558.3 831.1 L559.4 831 L560.4 831.4 L561.5 831 L562.5 831.1 L563.6 831.2 L564.6 830.9 L565.7 830.8 L566.7 831.3 L567.8 831.2 L568.8 831 L569.9 831 L570.9 831.1 L572 831.2 L573 830.7 L574.1 830.9 L575.1 831.2 L576.2 831.2 L577.2 830.7 L578.3 830.8 L579.3 830.7 L580.4 830.9 L581.4 831.1 L582.5 830.9 L583.5 831.3 L584.6 831.1 L585.6 830.9 L586.6 830.8 L587.7 831 L588.7 830.9 L589.8 830.8 L590.8 830.8 L591.9 830.8 L592.9 830.8 L594 830.9 L595 830.7 L596.1 830.8 L597.1 830.9 L598.2 830.9 L599.2 830.8 L600.3 830.8 L601.3 830.8 L602.4 830.8 L603.4 830.7 L604.5 830.8 L605.5 831 L606.6 830.7 L607.6 830.6 L608.7 830.7 L609.7 830.8 L610.8 830.7 L611.8 830.9 L612.9 831 L613.9 830.7 L615 830.9 L616 830.6 L617 830.9 L618.1 831.2 L619.1 830.9 L620.2 830.5 L621.2 830.8 L622.3 831 L623.3 830.9 L624.4 830.7 L625.4 830.7 L626.5 830.7 L627.5 830.5 L628.6 830.7 L629.6 830.8 L630.7 830.7 L631.7 830.5 L632.8 830.7 L633.8 830.7 L634.9 831 L635.9 830.9 L637 830.7 L638 830.9 L639.1 830.7 L640.1 830.8 L641.2 830.7 L642.2 830.9 L643.3 830.5 L644.3 830.7 L645.4 830.9 L646.4 830.9" fill="none" stroke="#70AD47" stroke-width="4.5" stroke-linejoin="round" stroke-linecap="round"/>
<path d="M227.1 831.4 L228.1 831 L229.2 831.2 L230.2 831.1 L231.3 831.1 L232.3 830.7 L233.4 831 L234.4 831.1 L235.5 831.3 L236.5 831 L237.6 831.3 L238.6 831.1 L239.7 831.4 L240.7 831.3 L241.8 831.2 L242.8 831.4 L243.9 831.3 L244.9 831.3 L246 831.2 L247 831.4 L248.1 831.3 L249.1 831.1 L250.2 831.6 L251.2 831.5 L252.3 831.4 L253.3 831.5 L254.4 831.6 L255.4 831.2 L256.5 831.3 L257.5 831.2 L258.5 831.2 L259.6 831.2 L260.6 831.4 L261.7 831.6 L262.7 831.2 L263.8 831.4 L264.8 831.2 L265.9 831.1 L266.9 831.3 L268 831.2 L269 830.9 L270.1 831 L271.1 831.3 L272.2 831.1 L273.2 831 L274.3 830.9 L275.3 830.9 L276.4 831 L277.4 831 L278.5 830.9 L279.5 831.2 L280.6 830.9 L281.6 831 L282.7 831.1 L283.7 831.1 L284.8 831 L285.8 831.2 L286.9 831.4 L287.9 831 L288.9 830.9 L290 831.1 L291 831.1 L292.1 831.1 L293.1 831.2 L294.2 831 L295.2 831 L296.3 831.1 L297.3 831 L298.4 831.2 L299.4 831.1 L300.5 831.2 L301.5 831.2 L302.6 831.1 L303.6 831.1 L304.7 831 L305.7 831 L306.8 831.3 L307.8 830.9 L308.9 831.3 L309.9 831.1 L311 831.1 L312 831.1 L313.1 831.1 L314.1 831.2 L315.2 831.3 L316.2 831.1 L317.2 831.2 L318.3 831.4 L319.3 831.3 L320.4 831.3 L321.4 831.3 L322.5 831.5 L323.5 831.4 L324.6 831.5 L325.6 831.3 L326.7 831.6 L327.7 831.4 L328.8 831.6 L329.8 831.5 L330.9 831.4 L331.9 831.7 L333 831.7 L334 831.8 L335.1 831.8 L336.1 831.8 L337.2 831.7 L338.2 831.6 L339.3 831.6 L340.3 831.8 L341.4 831.7 L342.4 831.9 L343.5 831.6 L344.5 831.7 L345.6 831.8 L346.6 831.7 L347.6 831.5 L348.7 831.5 L349.7 831.4 L350.8 831.5 L351.8 831.4 L352.9 831.4 L353.9 831.6 L355 831.4 L356 831.3 L357.1 831.4 L358.1 831.2 L359.2 831 L360.2 831.1 L361.3 831.2 L362.3 831.4 L363.4 831.2 L364.4 831.3 L365.5 831.2 L366.5 831.1 L367.6 831.3 L368.6 831.4 L369.7 831.1 L370.7 831.3 L371.8 831.1 L372.8 831.4 L373.9 831 L374.9 831.5 L376 831.4 L377 831.3 L378 831.7 L379.1 831.5 L380.1 831.6 L381.2 831.2 L382.2 831.3 L383.3 831.5 L384.3 831.6 L385.4 831.6 L386.4 831.4 L387.5 831.5 L388.5 831.3 L389.6 831.4 L390.6 831.5 L391.7 831.1 L392.7 831.2 L393.8 831.3 L394.8 831.3 L395.9 831 L396.9 831 L398 831.3 L399 830.9 L400.1 831.2 L401.1 831 L402.2 831.2 L403.2 831.1 L404.3 830.9 L405.3 831.2 L406.4 831 L407.4 831 L408.4 831.1 L409.5 830.9 L410.5 831 L411.6 831.1 L412.6 831 L413.7 830.9 L414.7 831 L415.8 831.2 L416.8 831.1 L417.9 831.2 L418.9 831.4 L420 831.3 L421 831 L422.1 831.4 L423.1 831.3 L424.2 831.1 L425.2 831.4 L426.3 831.4 L427.3 831.5 L428.4 831.3 L429.4 831.5 L430.5 831.3 L431.5 831.5 L432.6 831.3 L433.6 831.6 L434.7 831.5 L435.7 831.2 L436.8 831.3 L437.8 831.7 L438.8 831.1 L439.9 831.4 L440.9 831.1 L442 831.1 L443 831.3 L444.1 831.3 L445.1 831.5 L446.2 831.1 L447.2 830.9 L448.3 831.3 L449.3 831 L450.4 831.1 L451.4 831.1 L452.5 831.3 L453.5 831.2 L454.6 831.2 L455.6 831 L456.7 831.3 L457.7 831.3 L458.8 831.3 L459.8 831.1 L460.9 831.5 L461.9 831.3 L463 831.4 L464 831.3 L465.1 831.2 L466.1 831.4 L467.1 831.2 L468.2 831.4 L469.2 831.3 L470.3 831.3 L471.3 831.4 L472.4 831.2 L473.4 831.2 L474.5 831.4 L475.5 831.2 L476.6 831.3 L477.6 831.3 L478.7 831.2 L479.7 831.1 L480.8 831.1 L481.8 831 L482.9 831.2 L483.9 831.2 L485 831.4 L486 831.3 L487.1 831.1 L488.1 831.4 L489.2 831.3 L490.2 831 L491.3 831.3 L492.3 831.4 L493.4 831.6 L494.4 831.4 L495.5 831 L496.5 831.4 L497.5 831.3 L498.6 831.3 L499.6 831.5 L500.7 831.4 L501.7 831.5 L502.8 831.6 L503.8 831.5 L504.9 831.7 L505.9 831.7 L507 831.8 L508 831.5 L509.1 831.8 L510.1 831.5 L511.2 831.9 L512.2 831.9 L513.3 832.1 L514.3 831.8 L515.4 831.7 L516.4 831.6 L517.5 831.8 L518.5 831.7 L519.6 831.4 L520.6 831.6 L521.7 831.5 L522.7 831.4 L523.8 831.6 L524.8 831.3 L525.9 831.4 L526.9 831.2 L527.9 831.3 L529 831.2 L530 831.1 L531.1 831.2 L532.1 831.4 L533.2 831.2 L534.2 831.2 L535.3 831.1 L536.3 831 L537.4 831.3 L538.4 830.8 L539.5 831.1 L540.5 830.9 L541.6 831.1 L542.6 831.1 L543.7 831.1 L544.7 831.1 L545.8 831 L546.8 830.9 L547.9 830.9 L548.9 830.9 L550 831.3 L551 831.1 L552.1 831.1 L553.1 831.2 L554.2 831.2 L555.2 831.2 L556.3 831.4 L557.3 831.4 L558.3 831.2 L559.4 831.3 L560.4 831.1 L561.5 831.3 L562.5 831.4 L563.6 831.3 L564.6 831.3 L565.7 831.1 L566.7 831.3 L567.8 831.1 L568.8 831.2 L569.9 831.3 L570.9 831.2 L572 831.2 L573 831 L574.1 831 L575.1 831.1 L576.2 831.2 L577.2 831 L578.3 831.1 L579.3 831.2 L580.4 831 L581.4 831.2 L582.5 831.2 L583.5 831.3 L584.6 831.3 L585.6 831.1 L586.6 831.4 L587.7 831.3 L588.7 831.3 L589.8 831.2 L590.8 831.4 L591.9 831.2 L592.9 831.4 L594 831.4 L595 831.5 L596.1 831.4 L597.1 831.5 L598.2 831.6 L599.2 831.5 L600.3 831.6 L601.3 831.3 L602.4 831.6 L603.4 831.4 L604.5 831.6 L605.5 831.4 L606.6 831.5 L607.6 831.6 L608.7 831.3 L609.7 831.3 L610.8 831.3 L611.8 831.3 L612.9 831.4 L613.9 831.5 L615 831.5 L616 831.5 L617 831.3 L618.1 831.4 L619.1 831.3 L620.2 831.3 L621.2 831.3 L622.3 831.4 L623.3 831.4 L624.4 831 L625.4 831.3 L626.5 831.5 L627.5 831.5 L628.6 831.4 L629.6 831.1 L630.7 831.3 L631.7 831.4 L632.8 831.1 L633.8 831.6 L634.9 831.2 L635.9 831 L637 831.4 L638 831.2 L639.1 831.3 L640.1 831.8 L641.2 831.3 L642.2 831.5 L643.3 831.7 L644.3 831.3 L645.4 831.5 L646.4 831.3" fill="none" stroke="#2E75B6" stroke-width="4.5" stroke-linejoin="round" stroke-linecap="round"/>
<text x="178" y="841.9" font-size="34.5" fill="#000">0</text>
<text x="149.5" y="793.3" font-size="34.5" fill="#000">0.1</text>
<text x="149.6" y="744.7" font-size="34.5" fill="#000">0.2</text>
<text x="149.4" y="696.1" font-size="34.5" fill="#000">0.3</text>
<text x="148.9" y="647.5" font-size="34.5" fill="#000">0.4</text>
<text x="149.3" y="598.9" font-size="34.5" fill="#000">0.5</text>
<text x="217.5" y="882.8" font-size="34.5" fill="#000">0</text>
<text x="312.6" y="882.8" font-size="34.5" fill="#000">25</text>
<text x="417.5" y="882.8" font-size="34.5" fill="#000">50</text>
<text x="522.2" y="882.8" font-size="34.5" fill="#000">75</text>
<text x="617" y="882.8" font-size="34.5" fill="#000">100</text>
<text x="338.4" y="924.7" font-size="31.5" fill="#000">Time (sec)</text>
<text transform="translate(136.5,706.7) rotate(-90)" x="-108" y="0" font-size="31.5">Response (nm)</text>
<rect x="475.9" y="573.2" width="23" height="38.5" fill="#00FFFF"/>
<rect x="543" y="573.2" width="24.9" height="38.5" fill="#00FFFF"/>
<text x="433.7" y="604.4" font-size="34.5" fill="#000">VL</text>
<text x="475.9" y="604.4" font-size="34.5" fill="#000">K</text>
<text x="498.9" y="604.4" font-size="34.5" fill="#000">TY</text>
<text x="543" y="604.4" font-size="34.5" fill="#000">H</text>
<text x="567.9" y="604.4" font-size="34.5" fill="#000">G/α</text>
<text x="500.8" y="645.1" font-size="34.5" fill="#000">(pH 7.5)</text>
<line x1="885.3" y1="574.8" x2="885.3" y2="834.7" stroke="#000" stroke-width="4.5" stroke-linecap="butt"/>
<line x1="885.3" y1="781.4" x2="895.5" y2="781.4" stroke="#000" stroke-width="4.5" stroke-linecap="butt"/>
<line x1="885.3" y1="730.3" x2="895.5" y2="730.3" stroke="#000" stroke-width="4.5" stroke-linecap="butt"/>
<line x1="885.3" y1="679.2" x2="895.5" y2="679.2" stroke="#000" stroke-width="4.5" stroke-linecap="butt"/>
<line x1="885.3" y1="628.1" x2="895.5" y2="628.1" stroke="#000" stroke-width="4.5" stroke-linecap="butt"/>
<line x1="885.3" y1="577" x2="895.5" y2="577" stroke="#000" stroke-width="4.5" stroke-linecap="butt"/>
<line x1="883.1" y1="832.5" x2="1282.1" y2="832.5" stroke="#000" stroke-width="4.5" stroke-linecap="butt"/>
<line x1="984" y1="832.5" x2="984" y2="822" stroke="#000" stroke-width="4.5" stroke-linecap="butt"/>
<line x1="1082.7" y1="832.5" x2="1082.7" y2="822" stroke="#000" stroke-width="4.5" stroke-linecap="butt"/>
<line x1="1181.4" y1="832.5" x2="1181.4" y2="822" stroke="#000" stroke-width="4.5" stroke-linecap="butt"/>
<line x1="1280.1" y1="832.5" x2="1280.1" y2="822" stroke="#000" stroke-width="4.5" stroke-linecap="butt"/>
<path d="M885.3 827.3 L886.3 827.4 L887.3 827.1 L888.3 827.1 L889.2 827.2 L890.2 827.2 L891.2 827.1 L892.2 827.1 L893.2 827 L894.2 827.2 L895.2 827.7 L896.2 827.1 L897.1 827.6 L898.1 827.4 L899.1 827.7 L900.1 827.3 L901.1 827.5 L902.1 827.3 L903.1 826.6 L904.1 827.4 L905 827.2 L906 827.7 L907 827.5 L908 827.3 L909 827.4 L910 827.3 L911 827.4 L911.9 827.6 L912.9 827.2 L913.9 827.5 L914.9 826.9 L915.9 827.4 L916.9 827.1 L917.9 827.3 L918.9 827 L919.8 827.3 L920.8 826.9 L921.8 827.1 L922.8 826.8 L923.8 826.9 L924.8 827 L925.8 827.1 L926.8 826.7 L927.7 826.8 L928.7 826.4 L929.7 826.9 L930.7 826.6 L931.7 826.6 L932.7 826.6 L933.7 826.5 L934.6 826.5 L935.6 826.6 L936.6 826.7 L937.6 826.5 L938.6 826.3 L939.6 826 L940.6 826.1 L941.6 826.1 L942.5 826.1 L943.5 826.1 L944.5 826.3 L945.5 826.1 L946.5 825.9 L947.5 826.4 L948.5 826.4 L949.5 825.9 L950.4 826.2 L951.4 826.1 L952.4 826.1 L953.4 826.6 L954.4 825.8 L955.4 826 L956.4 826.4 L957.4 826.3 L958.3 826.4 L959.3 826.7 L960.3 826.6 L961.3 826.5 L962.3 826.3 L963.3 826.5 L964.3 826.6 L965.2 826.4 L966.2 826.9 L967.2 826.5 L968.2 826.5 L969.2 826.8 L970.2 827.2 L971.2 827 L972.2 826.7 L973.1 826.7 L974.1 826.5 L975.1 827 L976.1 826.8 L977.1 826.7 L978.1 826.8 L979.1 827.3 L980.1 826.6 L981 826.3 L982 826.5 L983 827 L984 826.8 L985 826.7 L986 826.1 L987 826.5 L987.9 826.6 L988.9 826.3 L989.9 826.6 L990.9 826.2 L991.9 826.7 L992.9 826.7 L993.9 826.4 L994.9 826.2 L995.8 826.3 L996.8 826.4 L997.8 826.9 L998.8 826.6 L999.8 826.6 L1000.8 826.5 L1001.8 826.3 L1002.8 826.4 L1003.7 826.2 L1004.7 826.3 L1005.7 826.4 L1006.7 826.3 L1007.7 826.2 L1008.7 826.1 L1009.7 826.4 L1010.6 826.3 L1011.6 826.6 L1012.6 825.9 L1013.6 825.9 L1014.6 826.3 L1015.6 826.4 L1016.6 826.5 L1017.6 826.2 L1018.5 826.2 L1019.5 825.8 L1020.5 826.2 L1021.5 826.4 L1022.5 826.8 L1023.5 825.9 L1024.5 826.2 L1025.5 826.6 L1026.4 826.2 L1027.4 826.6 L1028.4 825.5 L1029.4 826 L1030.4 826.1 L1031.4 826.3 L1032.4 826.8 L1033.3 826.3 L1034.3 826.7 L1035.3 826.2 L1036.3 826.8 L1037.3 826.6 L1038.3 826.1 L1039.3 826 L1040.3 826.7 L1041.2 826.8 L1042.2 826.3 L1043.2 826.3 L1044.2 826.8 L1045.2 826.8 L1046.2 826.8 L1047.2 827 L1048.2 826.9 L1049.1 826.5 L1050.1 826.7 L1051.1 826.4 L1052.1 826.9 L1053.1 827 L1054.1 827.2 L1055.1 827.1 L1056.1 827.4 L1057 827.6 L1058 827 L1059 826.9 L1060 827.1 L1061 827 L1062 827.3 L1063 827.6 L1063.9 827.4 L1064.9 827.5 L1065.9 827.7 L1066.9 827.9 L1067.9 827.9 L1068.9 827.5 L1069.9 827.5 L1070.9 827.7 L1071.8 827.2 L1072.8 827.5 L1073.8 827.4 L1074.8 827.3 L1075.8 827.7 L1076.8 828 L1077.8 827.3 L1078.8 827.6 L1079.7 827.2 L1080.7 827.4 L1081.7 827.2 L1082.7 827.2 L1083.7 827.8 L1084.7 827.2 L1085.7 827.4 L1086.6 827.4 L1087.6 827.3 L1088.6 827 L1089.6 827 L1090.6 826.9 L1091.6 827.5 L1092.6 827.2 L1093.6 827.6 L1094.5 827 L1095.5 826.9 L1096.5 827.1 L1097.5 826.9 L1098.5 826.9 L1099.5 826.7 L1100.5 827.1 L1101.5 827.1 L1102.4 827.1 L1103.4 826.5 L1104.4 826.7 L1105.4 826.9 L1106.4 826.9 L1107.4 826.9 L1108.4 826.9 L1109.3 827 L1110.3 827 L1111.3 827.3 L1112.3 827.1 L1113.3 826.7 L1114.3 826.9 L1115.3 827.1 L1116.3 827.1 L1117.2 827.1 L1118.2 827.1 L1119.2 827.3 L1120.2 827.1 L1121.2 827.1 L1122.2 827.4 L1123.2 827.4 L1124.2 827.5 L1125.1 827.5 L1126.1 827.1 L1127.1 827.8 L1128.1 827.4 L1129.1 827.5 L1130.1 827.5 L1131.1 827.3 L1132 827.1 L1133 827.4 L1134 827.4 L1135 827.5 L1136 827.4 L1137 827.2 L1138 827.5 L1139 827.6 L1139.9 827.7 L1140.9 827.6 L1141.9 827.7 L1142.9 827.1 L1143.9 827.3 L1144.9 827.4 L1145.9 827 L1146.9 827.5 L1147.8 827.2 L1148.8 827.2 L1149.8 827.7 L1150.8 827.7 L1151.8 827.5 L1152.8 827.1 L1153.8 827 L1154.8 827.6 L1155.7 827.1 L1156.7 827.4 L1157.7 827.4 L1158.7 827.4 L1159.7 827.3 L1160.7 827.7 L1161.7 827.5 L1162.6 827.5 L1163.6 827.1 L1164.6 826.7 L1165.6 826.5 L1166.6 827.2 L1167.6 827.5 L1168.6 827.2 L1169.6 827.3 L1170.5 826.6 L1171.5 826.9 L1172.5 827.1 L1173.5 826.7 L1174.5 826.8 L1175.5 827.3 L1176.5 827 L1177.5 826.9 L1178.4 826.8 L1179.4 826.7 L1180.4 826.8 L1181.4 826.6 L1182.4 826.8 L1183.4 826.8 L1184.4 826.3 L1185.3 826.5 L1186.3 826.4 L1187.3 826.9 L1188.3 826.5 L1189.3 826.3 L1190.3 826.8 L1191.3 826.2 L1192.3 826.5 L1193.2 826.3 L1194.2 826.5 L1195.2 826.4 L1196.2 826.2 L1197.2 826.5 L1198.2 826.1 L1199.2 826.6 L1200.2 826.7 L1201.1 826.3 L1202.1 826.8 L1203.1 826.6 L1204.1 826.4 L1205.1 826.3 L1206.1 827 L1207.1 826.6 L1208 826.3 L1209 826.5 L1210 826.8 L1211 827 L1212 826.9 L1213 827.2 L1214 827 L1215 827 L1215.9 827.1 L1216.9 826.8 L1217.9 827.1 L1218.9 827.5 L1219.9 826.9 L1220.9 827.4 L1221.9 827.3 L1222.9 827.3 L1223.8 827.3 L1224.8 827.5 L1225.8 827.3 L1226.8 826.8 L1227.8 827.4 L1228.8 827.3 L1229.8 827 L1230.8 827.1 L1231.7 827.1 L1232.7 827.1 L1233.7 827.7 L1234.7 827.4 L1235.7 827.2 L1236.7 827.1 L1237.7 826.8 L1238.6 827 L1239.6 827.1 L1240.6 827 L1241.6 827.1 L1242.6 826.9 L1243.6 826.8 L1244.6 827 L1245.6 827.1 L1246.5 827 L1247.5 826.6 L1248.5 826.5 L1249.5 826.5 L1250.5 826.5 L1251.5 826.5 L1252.5 826.7 L1253.5 826.5 L1254.4 826.9 L1255.4 826.6 L1256.4 826.7 L1257.4 826.4 L1258.4 826.7 L1259.4 826.6 L1260.4 826.4 L1261.3 826.2 L1262.3 826.7 L1263.3 826.7 L1264.3 826.3 L1265.3 826.7 L1266.3 826.4 L1267.3 826.6 L1268.3 826.5 L1269.2 826.9 L1270.2 826.3 L1271.2 826.6 L1272.2 826.7 L1273.2 826 L1274.2 826.3 L1275.2 825.7 L1276.2 826.4 L1277.1 826.6 L1278.1 826.5 L1279.1 826.1 L1280.1 826.5" fill="none" stroke="#4472C4" stroke-width="4.5" stroke-linejoin="round" stroke-linecap="round"/>
<path d="M885.3 829.4 L886.3 829.5 L887.3 829.8 L888.3 829.5 L889.2 829.7 L890.2 829.7 L891.2 829.2 L892.2 829.5 L893.2 829.8 L894.2 829.7 L895.2 829.1 L896.2 829.7 L897.1 829.5 L898.1 829.5 L899.1 829.5 L900.1 829.5 L901.1 829.8 L902.1 829.7 L903.1 829.7 L904.1 829.7 L905 829.5 L906 829.3 L907 829.8 L908 829.5 L909 829.8 L910 829.7 L911 829.6 L911.9 829.5 L912.9 829.6 L913.9 830.1 L914.9 829.1 L915.9 829.5 L916.9 829.5 L917.9 829.2 L918.9 829.4 L919.8 829.6 L920.8 829.1 L921.8 829.1 L922.8 829.3 L923.8 828.9 L924.8 830.5 L925.8 830.7 L926.8 830 L927.7 830.3 L928.7 830.6 L929.7 830.2 L930.7 830.3 L931.7 830 L932.7 830.5 L933.7 830 L934.6 830 L935.6 830 L936.6 830.1 L937.6 829.9 L938.6 830.1 L939.6 830.2 L940.6 830.5 L941.6 830 L942.5 830.1 L943.5 830.3 L944.5 830.4 L945.5 830.3 L946.5 831.1 L947.5 830.5 L948.5 831.2 L949.5 830.7 L950.4 830.6 L951.4 830.4 L952.4 831.1 L953.4 830.9 L954.4 831.1 L955.4 831.6 L956.4 831 L957.4 831.2 L958.3 831.3 L959.3 831.5 L960.3 831.4 L961.3 831.4 L962.3 831.1 L963.3 831.4 L964.3 830.7 L965.2 831.5 L966.2 831.5 L967.2 831.5 L968.2 831.6 L969.2 831.1 L970.2 831.2 L971.2 831.7 L972.2 831.3 L973.1 831 L974.1 831.6 L975.1 831.2 L976.1 831.2 L977.1 830.6 L978.1 831 L979.1 831.2 L980.1 831.2 L981 830.6 L982 831.1 L983 830.4 L984 831.3 L985 831 L986 831 L987 831.1 L987.9 830.9 L988.9 830.7 L989.9 831 L990.9 831.2 L991.9 830.6 L992.9 830.6 L993.9 831.1 L994.9 830.9 L995.8 831.5 L996.8 830.7 L997.8 831.3 L998.8 831.2 L999.8 830.6 L1000.8 831.4 L1001.8 831.1 L1002.8 831.3 L1003.7 831.5 L1004.7 831.4 L1005.7 831.1 L1006.7 831.5 L1007.7 831.3 L1008.7 831 L1009.7 831.2 L1010.6 831.5 L1011.6 830.8 L1012.6 831.1 L1013.6 830.8 L1014.6 831.4 L1015.6 830.7 L1016.6 831.4 L1017.6 831.5 L1018.5 831.2 L1019.5 831.1 L1020.5 831 L1021.5 831.2 L1022.5 830.9 L1023.5 830.7 L1024.5 831.1 L1025.5 831.3 L1026.4 831.1 L1027.4 830.8 L1028.4 830.8 L1029.4 831 L1030.4 831.2 L1031.4 831 L1032.4 830.7 L1033.3 831.1 L1034.3 830.7 L1035.3 830.9 L1036.3 830.9 L1037.3 831.2 L1038.3 830.7 L1039.3 831 L1040.3 831.4 L1041.2 830.9 L1042.2 831.2 L1043.2 830.9 L1044.2 831.1 L1045.2 831.3 L1046.2 831.1 L1047.2 831.2 L1048.2 831.3 L1049.1 831.1 L1050.1 830.9 L1051.1 831.1 L1052.1 831.1 L1053.1 831.2 L1054.1 830.9 L1055.1 830.9 L1056.1 830.8 L1057 830.9 L1058 830.4 L1059 831.2 L1060 830.8 L1061 830.7 L1062 830.5 L1063 831.1 L1063.9 831 L1064.9 830.6 L1065.9 830.4 L1066.9 830.3 L1067.9 830.9 L1068.9 830.5 L1069.9 830.2 L1070.9 830.5 L1071.8 830.7 L1072.8 830.6 L1073.8 830.8 L1074.8 830.2 L1075.8 830.5 L1076.8 830.6 L1077.8 830.7 L1078.8 830.6 L1079.7 830.8 L1080.7 830.8 L1081.7 830.6 L1082.7 830.7 L1083.7 830.6 L1084.7 830.7 L1085.7 830.5 L1086.6 830.8 L1087.6 830.8 L1088.6 830.9 L1089.6 831.1 L1090.6 830.7 L1091.6 831.1 L1092.6 831.4 L1093.6 830.8 L1094.5 831 L1095.5 831.3 L1096.5 830.9 L1097.5 830.9 L1098.5 831 L1099.5 831.4 L1100.5 831.1 L1101.5 831.4 L1102.4 831.3 L1103.4 831.2 L1104.4 831.3 L1105.4 831 L1106.4 831.2 L1107.4 830.9 L1108.4 831 L1109.3 831.1 L1110.3 830.9 L1111.3 830.8 L1112.3 830.7 L1113.3 831 L1114.3 830.5 L1115.3 830.7 L1116.3 830.6 L1117.2 831.1 L1118.2 831.1 L1119.2 830.6 L1120.2 830.9 L1121.2 830.7 L1122.2 830.6 L1123.2 831.2 L1124.2 830.8 L1125.1 830.5 L1126.1 830.8 L1127.1 831 L1128.1 830.9 L1129.1 831 L1130.1 830.9 L1131.1 830.8 L1132 831.2 L1133 831.1 L1134 831.2 L1135 831.1 L1136 831.1 L1137 831.6 L1138 831.1 L1139 831.2 L1139.9 831.6 L1140.9 831.5 L1141.9 831.7 L1142.9 831.5 L1143.9 831.3 L1144.9 831.7 L1145.9 831.6 L1146.9 831.6 L1147.8 831.5 L1148.8 831.5 L1149.8 831.5 L1150.8 831.1 L1151.8 831.3 L1152.8 831.4 L1153.8 830.9 L1154.8 831.2 L1155.7 830.8 L1156.7 831.3 L1157.7 830.6 L1158.7 831 L1159.7 831.1 L1160.7 830.7 L1161.7 831.1 L1162.6 831 L1163.6 830.7 L1164.6 830.8 L1165.6 830.6 L1166.6 830.6 L1167.6 830.6 L1168.6 830.6 L1169.6 830.4 L1170.5 830.6 L1171.5 830.3 L1172.5 830.4 L1173.5 831 L1174.5 831 L1175.5 830.2 L1176.5 830.7 L1177.5 830.6 L1178.4 830.7 L1179.4 830.6 L1180.4 830.2 L1181.4 830.9 L1182.4 830.7 L1183.4 830.7 L1184.4 831 L1185.3 831 L1186.3 830.8 L1187.3 830.8 L1188.3 830.7 L1189.3 831.3 L1190.3 831.2 L1191.3 830.4 L1192.3 830.9 L1193.2 830.6 L1194.2 830.9 L1195.2 831 L1196.2 830.4 L1197.2 831.1 L1198.2 831 L1199.2 830.7 L1200.2 830.8 L1201.1 831.2 L1202.1 830.8 L1203.1 830.7 L1204.1 831.2 L1205.1 831 L1206.1 830.7 L1207.1 830.5 L1208 831.4 L1209 831.1 L1210 831 L1211 831.2 L1212 831.2 L1213 831.2 L1214 831 L1215 831.4 L1215.9 831 L1216.9 831 L1217.9 831 L1218.9 830.9 L1219.9 831.4 L1220.9 831.3 L1221.9 831.1 L1222.9 831.1 L1223.8 831.2 L1224.8 831.5 L1225.8 831.6 L1226.8 831.8 L1227.8 831.6 L1228.8 831.7 L1229.8 831.6 L1230.8 831.6 L1231.7 831.3 L1232.7 831.2 L1233.7 831.4 L1234.7 831.6 L1235.7 831.4 L1236.7 831.2 L1237.7 831.1 L1238.6 831.2 L1239.6 831 L1240.6 831.3 L1241.6 830.9 L1242.6 830.9 L1243.6 831 L1244.6 831.1 L1245.6 830.6 L1246.5 831 L1247.5 830.6 L1248.5 830.8 L1249.5 830.8 L1250.5 830.7 L1251.5 830.7 L1252.5 830.6 L1253.5 830.2 L1254.4 830.2 L1255.4 830.6 L1256.4 830.4 L1257.4 830.4 L1258.4 830.7 L1259.4 830.2 L1260.4 830.6 L1261.3 830.5 L1262.3 830.9 L1263.3 831 L1264.3 831 L1265.3 830.9 L1266.3 830.6 L1267.3 831 L1268.3 830.7 L1269.2 831.1 L1270.2 831.3 L1271.2 831.1 L1272.2 831.2 L1273.2 831.6 L1274.2 831.2 L1275.2 831 L1276.2 831.3 L1277.1 831.6 L1278.1 831.5 L1279.1 831.6 L1280.1 831.4" fill="none" stroke="#ED7D31" stroke-width="4.5" stroke-linejoin="round" stroke-linecap="round"/>
<path d="M885.3 830 L886.3 829.9 L887.3 830.1 L888.3 830.6 L889.2 830.1 L890.2 830.6 L891.2 829.9 L892.2 830.4 L893.2 830.3 L894.2 829.9 L895.2 830.7 L896.2 830.3 L897.1 830.6 L898.1 830.5 L899.1 830.6 L900.1 830.3 L901.1 830.5 L902.1 830.4 L903.1 830.4 L904.1 831 L905 830.3 L906 830.7 L907 831 L908 830.8 L909 830.5 L910 830.5 L911 830.9 L911.9 830.7 L912.9 830.7 L913.9 830.6 L914.9 830.8 L915.9 830.6 L916.9 831 L917.9 831 L918.9 830.7 L919.8 830.7 L920.8 830.8 L921.8 830.7 L922.8 830.8 L923.8 830.6 L924.8 830.5 L925.8 830.7 L926.8 830.6 L927.7 830.8 L928.7 830.9 L929.7 831.3 L930.7 830.6 L931.7 830.7 L932.7 830.5 L933.7 831.1 L934.6 830.7 L935.6 830.8 L936.6 831 L937.6 830.4 L938.6 830.3 L939.6 830.9 L940.6 830.5 L941.6 830.1 L942.5 830.8 L943.5 830.3 L944.5 830.1 L945.5 830.1 L946.5 830.8 L947.5 830.7 L948.5 830.4 L949.5 830.2 L950.4 830.7 L951.4 830.6 L952.4 830.7 L953.4 830.2 L954.4 830.5 L955.4 830.3 L956.4 830.2 L957.4 830.1 L958.3 830.3 L959.3 830.3 L960.3 830.1 L961.3 830.2 L962.3 830.6 L963.3 830.4 L964.3 830.1 L965.2 830.2 L966.2 830.3 L967.2 830.2 L968.2 829.5 L969.2 830.2 L970.2 830.1 L971.2 830.1 L972.2 830.3 L973.1 829.9 L974.1 830 L975.1 830.1 L976.1 830.5 L977.1 829.9 L978.1 830 L979.1 830.2 L980.1 830.8 L981 830.2 L982 830.5 L983 830.3 L984 830.4 L985 830.5 L986 830.1 L987 830.3 L987.9 830.1 L988.9 830.6 L989.9 830.4 L990.9 830.1 L991.9 830.4 L992.9 830.7 L993.9 830.7 L994.9 830.7 L995.8 830.6 L996.8 830.5 L997.8 830.6 L998.8 830.5 L999.8 830.5 L1000.8 830.7 L1001.8 830.4 L1002.8 830.6 L1003.7 830.8 L1004.7 830.8 L1005.7 830.8 L1006.7 831 L1007.7 831.1 L1008.7 830.8 L1009.7 830.9 L1010.6 830.7 L1011.6 830.9 L1012.6 830.8 L1013.6 830.7 L1014.6 830.9 L1015.6 830.7 L1016.6 830.9 L1017.6 830.8 L1018.5 830.5 L1019.5 830.6 L1020.5 830.6 L1021.5 830.8 L1022.5 830.4 L1023.5 830.1 L1024.5 831.1 L1025.5 830.3 L1026.4 830.5 L1027.4 830.3 L1028.4 830.2 L1029.4 830.7 L1030.4 830.1 L1031.4 830.6 L1032.4 830.5 L1033.3 830.3 L1034.3 830.5 L1035.3 830.4 L1036.3 830.6 L1037.3 830.7 L1038.3 830.5 L1039.3 830.7 L1040.3 830.2 L1041.2 830.5 L1042.2 830.2 L1043.2 830.8 L1044.2 831 L1045.2 831.1 L1046.2 830.7 L1047.2 830.9 L1048.2 830.5 L1049.1 830.9 L1050.1 830.9 L1051.1 830.5 L1052.1 830.7 L1053.1 830.4 L1054.1 830.4 L1055.1 830.5 L1056.1 830.8 L1057 830.7 L1058 830 L1059 830.6 L1060 830.4 L1061 830.4 L1062 830.4 L1063 830.4 L1063.9 830.5 L1064.9 830.4 L1065.9 830.7 L1066.9 829.8 L1067.9 830.2 L1068.9 830.4 L1069.9 830 L1070.9 829.9 L1071.8 830.3 L1072.8 830.1 L1073.8 829.6 L1074.8 829.8 L1075.8 829.8 L1076.8 829.6 L1077.8 829.8 L1078.8 829.8 L1079.7 829.4 L1080.7 829.8 L1081.7 829.7 L1082.7 829.5 L1083.7 829.7 L1084.7 830 L1085.7 829.2 L1086.6 829.7 L1087.6 829.3 L1088.6 829.6 L1089.6 829.9 L1090.6 829.3 L1091.6 829.7 L1092.6 829.9 L1093.6 829.8 L1094.5 830.3 L1095.5 829.7 L1096.5 830 L1097.5 829.9 L1098.5 830.1 L1099.5 829.8 L1100.5 829.9 L1101.5 829.7 L1102.4 829.6 L1103.4 830 L1104.4 830 L1105.4 830 L1106.4 830.3 L1107.4 830.3 L1108.4 830 L1109.3 830.4 L1110.3 830.7 L1111.3 830.3 L1112.3 830.2 L1113.3 830 L1114.3 830.5 L1115.3 830.6 L1116.3 830.4 L1117.2 830.4 L1118.2 830.4 L1119.2 830.6 L1120.2 830.4 L1121.2 830.6 L1122.2 830.3 L1123.2 830.5 L1124.2 830.4 L1125.1 830.7 L1126.1 830.9 L1127.1 830.6 L1128.1 830.7 L1129.1 830.4 L1130.1 830.5 L1131.1 830.8 L1132 830.8 L1133 831 L1134 830.8 L1135 830.8 L1136 831 L1137 831.2 L1138 830.6 L1139 831.2 L1139.9 830.6 L1140.9 830.7 L1141.9 830.7 L1142.9 831.2 L1143.9 830.9 L1144.9 831.4 L1145.9 831.2 L1146.9 831.5 L1147.8 831.3 L1148.8 831.2 L1149.8 830.9 L1150.8 830.9 L1151.8 831.2 L1152.8 831.2 L1153.8 831.4 L1154.8 831.4 L1155.7 831.5 L1156.7 831.2 L1157.7 831 L1158.7 831.3 L1159.7 831 L1160.7 831.3 L1161.7 831.3 L1162.6 831.1 L1163.6 830.8 L1164.6 831.1 L1165.6 830.8 L1166.6 831 L1167.6 831.2 L1168.6 831.3 L1169.6 831 L1170.5 831.1 L1171.5 830.6 L1172.5 830.7 L1173.5 831.2 L1174.5 830.6 L1175.5 830.7 L1176.5 831.4 L1177.5 831 L1178.4 830.7 L1179.4 831.1 L1180.4 830.9 L1181.4 830.6 L1182.4 830.7 L1183.4 830.6 L1184.4 830.6 L1185.3 830.9 L1186.3 830.1 L1187.3 830.6 L1188.3 830.2 L1189.3 830.7 L1190.3 830.5 L1191.3 830.6 L1192.3 830.6 L1193.2 830.5 L1194.2 830.5 L1195.2 830.4 L1196.2 830.5 L1197.2 830.5 L1198.2 830.4 L1199.2 830.1 L1200.2 830.4 L1201.1 830.2 L1202.1 830.3 L1203.1 830.7 L1204.1 830.5 L1205.1 830.4 L1206.1 830.5 L1207.1 830.3 L1208 830.5 L1209 830 L1210 830.1 L1211 829.7 L1212 829.8 L1213 830.2 L1214 829.9 L1215 829.8 L1215.9 829.9 L1216.9 829.8 L1217.9 830 L1218.9 829.9 L1219.9 829.6 L1220.9 829.8 L1221.9 829.4 L1222.9 830.1 L1223.8 829.8 L1224.8 829.8 L1225.8 829.3 L1226.8 829.4 L1227.8 829.5 L1228.8 829.5 L1229.8 829.4 L1230.8 829.6 L1231.7 829.9 L1232.7 829.8 L1233.7 830 L1234.7 830 L1235.7 829.9 L1236.7 830.1 L1237.7 830 L1238.6 830.2 L1239.6 830.4 L1240.6 830.5 L1241.6 830.1 L1242.6 830.2 L1243.6 830.1 L1244.6 830.3 L1245.6 830.4 L1246.5 830.3 L1247.5 830.5 L1248.5 830.1 L1249.5 830.2 L1250.5 830.4 L1251.5 830.7 L1252.5 830.6 L1253.5 830.5 L1254.4 830.3 L1255.4 830.6 L1256.4 830.6 L1257.4 830.4 L1258.4 830.5 L1259.4 830.6 L1260.4 830.8 L1261.3 830.3 L1262.3 830.6 L1263.3 830.7 L1264.3 830.6 L1265.3 830.8 L1266.3 830.9 L1267.3 830.9 L1268.3 830.4 L1269.2 830.8 L1270.2 830.5 L1271.2 830.7 L1272.2 830.9 L1273.2 830.6 L1274.2 830.6 L1275.2 830.6 L1276.2 830.1 L1277.1 830.4 L1278.1 830.6 L1279.1 830.3 L1280.1 830.6" fill="none" stroke="#FFC000" stroke-width="4.5" stroke-linejoin="round" stroke-linecap="round"/>
<path d="M885.3 828.5 L886.3 828.5 L887.3 828.9 L888.3 828.7 L889.2 828.3 L890.2 828.2 L891.2 828.4 L892.2 828.5 L893.2 828.6 L894.2 828.7 L895.2 828.6 L896.2 829 L897.1 828.6 L898.1 829.1 L899.1 829.6 L900.1 829.6 L901.1 829.2 L902.1 829.3 L903.1 829.6 L904.1 829.5 L905 829.2 L906 829.1 L907 829 L908 829.5 L909 829.1 L910 828.9 L911 829.1 L911.9 828.6 L912.9 829.3 L913.9 829.1 L914.9 829 L915.9 829.2 L916.9 829 L917.9 828.9 L918.9 828.9 L919.8 829 L920.8 829 L921.8 828.8 L922.8 829.3 L923.8 828.7 L924.8 829.1 L925.8 828.8 L926.8 829.1 L927.7 828.7 L928.7 828.9 L929.7 828.9 L930.7 829 L931.7 828.8 L932.7 828.3 L933.7 829.5 L934.6 828.8 L935.6 828.9 L936.6 829.1 L937.6 829.5 L938.6 828.6 L939.6 829.1 L940.6 828.9 L941.6 829.4 L942.5 829.5 L943.5 829 L944.5 829.1 L945.5 829.5 L946.5 829.5 L947.5 829.3 L948.5 829.7 L949.5 829.8 L950.4 829.5 L951.4 829.2 L952.4 829.2 L953.4 829.4 L954.4 829 L955.4 829.5 L956.4 829.6 L957.4 828.6 L958.3 829.5 L959.3 829.1 L960.3 829.1 L961.3 829.2 L962.3 829.1 L963.3 828.9 L964.3 828.9 L965.2 829.2 L966.2 828.9 L967.2 828.4 L968.2 828.6 L969.2 828.9 L970.2 828.7 L971.2 829 L972.2 829.1 L973.1 828.8 L974.1 828.1 L975.1 828.8 L976.1 829.2 L977.1 828.6 L978.1 828.7 L979.1 828.3 L980.1 828.1 L981 828.6 L982 828.5 L983 828.8 L984 828.1 L985 828.8 L986 828.6 L987 827.8 L987.9 828.9 L988.9 828.6 L989.9 828.7 L990.9 828.5 L991.9 828.6 L992.9 828.3 L993.9 828.6 L994.9 828.6 L995.8 829.2 L996.8 828.7 L997.8 829.3 L998.8 828.5 L999.8 828.9 L1000.8 828.6 L1001.8 829.1 L1002.8 828.8 L1003.7 828.9 L1004.7 828.8 L1005.7 829 L1006.7 829.1 L1007.7 829.1 L1008.7 829.2 L1009.7 829.3 L1010.6 829.4 L1011.6 829.5 L1012.6 828.4 L1013.6 829.3 L1014.6 829.4 L1015.6 828.7 L1016.6 829 L1017.6 829.1 L1018.5 828.7 L1019.5 828.5 L1020.5 829.4 L1021.5 828.7 L1022.5 829 L1023.5 828.8 L1024.5 829.4 L1025.5 828.7 L1026.4 828.9 L1027.4 830.1 L1028.4 828.9 L1029.4 828.8 L1030.4 829.7 L1031.4 829.2 L1032.4 829.4 L1033.3 829.2 L1034.3 829.6 L1035.3 829.1 L1036.3 829 L1037.3 829.3 L1038.3 829.2 L1039.3 829.8 L1040.3 829 L1041.2 829.6 L1042.2 829.1 L1043.2 829.3 L1044.2 828.2 L1045.2 829 L1046.2 828.5 L1047.2 828.9 L1048.2 828.9 L1049.1 828.6 L1050.1 828.8 L1051.1 828 L1052.1 828.8 L1053.1 828.2 L1054.1 829.1 L1055.1 829 L1056.1 828.4 L1057 829.1 L1058 828 L1059 828.4 L1060 828.6 L1061 828 L1062 828.8 L1063 828.8 L1063.9 829.5 L1064.9 829.3 L1065.9 828.7 L1066.9 829.3 L1067.9 828.4 L1068.9 828.3 L1069.9 828.5 L1070.9 829.2 L1071.8 829 L1072.8 829.2 L1073.8 828.5 L1074.8 828.4 L1075.8 828.8 L1076.8 828.8 L1077.8 828.7 L1078.8 828.5 L1079.7 829.1 L1080.7 829.1 L1081.7 828.5 L1082.7 828.6 L1083.7 828.6 L1084.7 828.7 L1085.7 828.4 L1086.6 828.5 L1087.6 828.9 L1088.6 828.1 L1089.6 828.2 L1090.6 828.7 L1091.6 828.6 L1092.6 828.8 L1093.6 829 L1094.5 828.8 L1095.5 828.9 L1096.5 828.7 L1097.5 828.3 L1098.5 828.4 L1099.5 828.9 L1100.5 828.5 L1101.5 828.6 L1102.4 828.8 L1103.4 828.1 L1104.4 828.8 L1105.4 828.2 L1106.4 829.1 L1107.4 828.4 L1108.4 828.8 L1109.3 828.3 L1110.3 828.5 L1111.3 828.9 L1112.3 828.5 L1113.3 828.4 L1114.3 828.4 L1115.3 828.4 L1116.3 829 L1117.2 828.3 L1118.2 829.2 L1119.2 829.1 L1120.2 829.6 L1121.2 829.2 L1122.2 829.7 L1123.2 829.2 L1124.2 829.9 L1125.1 828.7 L1126.1 829.1 L1127.1 828.8 L1128.1 829 L1129.1 829.3 L1130.1 829.2 L1131.1 829.3 L1132 830 L1133 829.8 L1134 829.5 L1135 829.1 L1136 829.8 L1137 829.3 L1138 829.5 L1139 829.1 L1139.9 829 L1140.9 829.6 L1141.9 829.6 L1142.9 828.8 L1143.9 828.9 L1144.9 829.2 L1145.9 828.9 L1146.9 829.2 L1147.8 829 L1148.8 829.3 L1149.8 829 L1150.8 828.6 L1151.8 828.7 L1152.8 828.7 L1153.8 829.1 L1154.8 828.8 L1155.7 829.3 L1156.7 829.2 L1157.7 829.1 L1158.7 829.5 L1159.7 829 L1160.7 829.7 L1161.7 828.5 L1162.6 828.8 L1163.6 828.9 L1164.6 829.3 L1165.6 829.2 L1166.6 829.1 L1167.6 829.5 L1168.6 829.1 L1169.6 829.2 L1170.5 828.6 L1171.5 828.4 L1172.5 828.4 L1173.5 829.3 L1174.5 829.3 L1175.5 828.3 L1176.5 828.5 L1177.5 828.4 L1178.4 828.5 L1179.4 828.6 L1180.4 828 L1181.4 828.4 L1182.4 828.4 L1183.4 829 L1184.4 828.6 L1185.3 828.2 L1186.3 828.4 L1187.3 828.3 L1188.3 828.7 L1189.3 828.4 L1190.3 828.9 L1191.3 828.8 L1192.3 828.4 L1193.2 828.2 L1194.2 828.9 L1195.2 828.9 L1196.2 829 L1197.2 829 L1198.2 829 L1199.2 828.7 L1200.2 828.9 L1201.1 829.1 L1202.1 829 L1203.1 829.8 L1204.1 829.3 L1205.1 828.6 L1206.1 829.6 L1207.1 829.5 L1208 829.2 L1209 829 L1210 829.4 L1211 829.7 L1212 828.8 L1213 830.1 L1214 829.6 L1215 829.6 L1215.9 830.1 L1216.9 828.8 L1217.9 828.6 L1218.9 829.7 L1219.9 829.3 L1220.9 829.2 L1221.9 828.9 L1222.9 829.2 L1223.8 828.9 L1224.8 828.9 L1225.8 829 L1226.8 828.9 L1227.8 828.5 L1228.8 828.8 L1229.8 828.7 L1230.8 828.9 L1231.7 828.6 L1232.7 828.3 L1233.7 828.8 L1234.7 829 L1235.7 829.1 L1236.7 828.5 L1237.7 829.1 L1238.6 828.7 L1239.6 828.1 L1240.6 828.9 L1241.6 828.4 L1242.6 829 L1243.6 829.1 L1244.6 828.9 L1245.6 829.4 L1246.5 829.9 L1247.5 829.2 L1248.5 829.4 L1249.5 829.1 L1250.5 828.6 L1251.5 829 L1252.5 829.8 L1253.5 829.1 L1254.4 829.9 L1255.4 830 L1256.4 828.6 L1257.4 829.6 L1258.4 830 L1259.4 829.2 L1260.4 829.3 L1261.3 829 L1262.3 829.2 L1263.3 829.1 L1264.3 828.7 L1265.3 829 L1266.3 829.1 L1267.3 828.7 L1268.3 829 L1269.2 828.3 L1270.2 828.6 L1271.2 828.6 L1272.2 828.7 L1273.2 828.2 L1274.2 828 L1275.2 828.4 L1276.2 829 L1277.1 828 L1278.1 828.4 L1279.1 827.9 L1280.1 828.3" fill="none" stroke="#FF33DD" stroke-width="4.5" stroke-linejoin="round" stroke-linecap="round"/>
<path d="M885.3 831 L886.3 831.2 L887.3 830.8 L888.3 831.1 L889.2 831 L890.2 830.7 L891.2 831 L892.2 830.9 L893.2 831.1 L894.2 831 L895.2 831.4 L896.2 831.1 L897.1 831.1 L898.1 831.1 L899.1 830.5 L900.1 831.5 L901.1 831.5 L902.1 830.9 L903.1 830.8 L904.1 831 L905 830.7 L906 830.5 L907 831.1 L908 831.3 L909 831.1 L910 830.7 L911 830.9 L911.9 831.1 L912.9 830.9 L913.9 830.9 L914.9 831.4 L915.9 830.9 L916.9 831.1 L917.9 831 L918.9 831 L919.8 830.9 L920.8 830.6 L921.8 830.9 L922.8 830.8 L923.8 830.6 L924.8 830.6 L925.8 830.9 L926.8 830.5 L927.7 830.8 L928.7 830.7 L929.7 830.6 L930.7 830.3 L931.7 830.8 L932.7 830.7 L933.7 830.5 L934.6 830.8 L935.6 830.5 L936.6 830.3 L937.6 831 L938.6 830.6 L939.6 830.7 L940.6 830.1 L941.6 830.5 L942.5 830.5 L943.5 830.6 L944.5 830.9 L945.5 830.6 L946.5 830.6 L947.5 830.7 L948.5 830.3 L949.5 830.5 L950.4 830.9 L951.4 830.8 L952.4 830.7 L953.4 831 L954.4 830.8 L955.4 830.9 L956.4 830.7 L957.4 830.8 L958.3 830.9 L959.3 830.5 L960.3 830.9 L961.3 830.7 L962.3 831.1 L963.3 831 L964.3 831 L965.2 830.9 L966.2 830.7 L967.2 831.2 L968.2 830.5 L969.2 831.2 L970.2 830.6 L971.2 830.9 L972.2 831 L973.1 830.8 L974.1 831.1 L975.1 831 L976.1 831 L977.1 830.4 L978.1 831.3 L979.1 830.6 L980.1 831.2 L981 831.3 L982 831.3 L983 830.9 L984 831.2 L985 831.4 L986 831.1 L987 831.2 L987.9 831 L988.9 831.5 L989.9 830.9 L990.9 831 L991.9 831.4 L992.9 831.3 L993.9 831.1 L994.9 831.3 L995.8 831 L996.8 831 L997.8 831.2 L998.8 831.4 L999.8 831.6 L1000.8 831.1 L1001.8 831.4 L1002.8 830.8 L1003.7 830.7 L1004.7 831 L1005.7 830.9 L1006.7 830.8 L1007.7 830.9 L1008.7 831.3 L1009.7 831.3 L1010.6 831.2 L1011.6 831.1 L1012.6 831.3 L1013.6 831.1 L1014.6 830.8 L1015.6 831.3 L1016.6 831.2 L1017.6 831.5 L1018.5 831.3 L1019.5 831.1 L1020.5 831 L1021.5 831.3 L1022.5 831.6 L1023.5 831 L1024.5 831.9 L1025.5 831.6 L1026.4 831.7 L1027.4 831.5 L1028.4 831.4 L1029.4 831.7 L1030.4 830.7 L1031.4 831.1 L1032.4 831.3 L1033.3 831.6 L1034.3 831.9 L1035.3 831.2 L1036.3 831.2 L1037.3 831.3 L1038.3 831 L1039.3 831.2 L1040.3 831.6 L1041.2 831.6 L1042.2 831.2 L1043.2 831 L1044.2 830.9 L1045.2 830.9 L1046.2 830.9 L1047.2 831 L1048.2 830.6 L1049.1 830.5 L1050.1 830.8 L1051.1 830.8 L1052.1 830.7 L1053.1 830.8 L1054.1 830.5 L1055.1 830.8 L1056.1 830.4 L1057 830.7 L1058 830.4 L1059 830 L1060 830.8 L1061 830.5 L1062 830 L1063 830.4 L1063.9 830.6 L1064.9 830.6 L1065.9 830.8 L1066.9 831.2 L1067.9 831.5 L1068.9 831.1 L1069.9 831.1 L1070.9 830.7 L1071.8 831 L1072.8 831.4 L1073.8 831 L1074.8 831.4 L1075.8 830.9 L1076.8 831.4 L1077.8 831 L1078.8 831.1 L1079.7 831.3 L1080.7 830.9 L1081.7 831.2 L1082.7 831.7 L1083.7 831 L1084.7 831.2 L1085.7 831.1 L1086.6 830.9 L1087.6 830.7 L1088.6 830.8 L1089.6 831 L1090.6 830.9 L1091.6 830.9 L1092.6 830.7 L1093.6 830.7 L1094.5 830.3 L1095.5 830.6 L1096.5 830.2 L1097.5 830 L1098.5 830.3 L1099.5 830.4 L1100.5 830.1 L1101.5 830.6 L1102.4 830.4 L1103.4 830.1 L1104.4 830.3 L1105.4 830.5 L1106.4 830.5 L1107.4 830.6 L1108.4 830.2 L1109.3 830.1 L1110.3 830.3 L1111.3 830.7 L1112.3 830.7 L1113.3 831 L1114.3 831.2 L1115.3 830.8 L1116.3 830.9 L1117.2 831.4 L1118.2 831.4 L1119.2 831.1 L1120.2 831.5 L1121.2 831 L1122.2 831 L1123.2 831.6 L1124.2 831.4 L1125.1 831.1 L1126.1 831.1 L1127.1 831.3 L1128.1 831.4 L1129.1 831.4 L1130.1 831.2 L1131.1 831.1 L1132 831.3 L1133 831.3 L1134 831.2 L1135 831.2 L1136 831.2 L1137 831.4 L1138 831.1 L1139 830.9 L1139.9 831 L1140.9 830.7 L1141.9 830.9 L1142.9 830.8 L1143.9 830.7 L1144.9 831.4 L1145.9 830.8 L1146.9 830.7 L1147.8 831.2 L1148.8 831.4 L1149.8 831.2 L1150.8 831.1 L1151.8 830.9 L1152.8 831.4 L1153.8 831.1 L1154.8 831.4 L1155.7 831.1 L1156.7 831.2 L1157.7 831.1 L1158.7 831.4 L1159.7 831.4 L1160.7 831.1 L1161.7 831.6 L1162.6 831.3 L1163.6 831.5 L1164.6 831.4 L1165.6 831.6 L1166.6 831.1 L1167.6 831.2 L1168.6 831.5 L1169.6 830.9 L1170.5 831.3 L1171.5 831 L1172.5 831.6 L1173.5 831.4 L1174.5 831.4 L1175.5 830.8 L1176.5 831 L1177.5 831.3 L1178.4 831.1 L1179.4 831.1 L1180.4 831.1 L1181.4 831.3 L1182.4 830.8 L1183.4 830.9 L1184.4 831.1 L1185.3 830.8 L1186.3 830.7 L1187.3 830.8 L1188.3 830.9 L1189.3 830.7 L1190.3 830.7 L1191.3 830.4 L1192.3 830.9 L1193.2 830.7 L1194.2 830.8 L1195.2 831 L1196.2 830.8 L1197.2 831.2 L1198.2 831.1 L1199.2 831.2 L1200.2 830.9 L1201.1 831.1 L1202.1 831.2 L1203.1 831.1 L1204.1 830.9 L1205.1 831.2 L1206.1 831.7 L1207.1 830.6 L1208 831.2 L1209 830.9 L1210 831.4 L1211 831.2 L1212 831.1 L1213 831 L1214 831.2 L1215 830.6 L1215.9 831.2 L1216.9 831.1 L1217.9 830.5 L1218.9 830.9 L1219.9 831.3 L1220.9 830.7 L1221.9 830.7 L1222.9 830.5 L1223.8 830.3 L1224.8 830.7 L1225.8 830.4 L1226.8 830.6 L1227.8 830.8 L1228.8 830.8 L1229.8 830.8 L1230.8 830.9 L1231.7 830.2 L1232.7 830.7 L1233.7 830.8 L1234.7 830.5 L1235.7 830.8 L1236.7 830.3 L1237.7 830.1 L1238.6 830.5 L1239.6 830.6 L1240.6 830.7 L1241.6 830.5 L1242.6 830.5 L1243.6 830.5 L1244.6 830.9 L1245.6 830.8 L1246.5 831.2 L1247.5 830.9 L1248.5 830.8 L1249.5 830.8 L1250.5 831.3 L1251.5 831.5 L1252.5 830.7 L1253.5 831.2 L1254.4 831.3 L1255.4 831.2 L1256.4 831.4 L1257.4 831.2 L1258.4 831.2 L1259.4 831.5 L1260.4 831.7 L1261.3 831.4 L1262.3 832.1 L1263.3 831.1 L1264.3 831.4 L1265.3 831.5 L1266.3 831.1 L1267.3 831 L1268.3 831.2 L1269.2 831.3 L1270.2 831.4 L1271.2 831.2 L1272.2 831.1 L1273.2 831.3 L1274.2 830.9 L1275.2 830.7 L1276.2 830.9 L1277.1 830.3 L1278.1 830.7 L1279.1 830.6 L1280.1 829.8" fill="none" stroke="#70AD47" stroke-width="4.5" stroke-linejoin="round" stroke-linecap="round"/>
<path d="M885.3 832.4 L886.3 832.6 L887.3 832.4 L888.3 832.5 L889.2 832.6 L890.2 832.7 L891.2 832.6 L892.2 832.6 L893.2 832.7 L894.2 832.6 L895.2 832.9 L896.2 832.8 L897.1 833.1 L898.1 833.2 L899.1 833 L900.1 833 L901.1 832.8 L902.1 833.1 L903.1 833.1 L904.1 833.3 L905 833.2 L906 833.1 L907 833.2 L908 833.1 L909 833 L910 833.1 L911 833.2 L911.9 833.2 L912.9 833.1 L913.9 833.3 L914.9 833 L915.9 833.2 L916.9 833 L917.9 833.2 L918.9 833.1 L919.8 833.1 L920.8 832.9 L921.8 832.9 L922.8 832.9 L923.8 832.7 L924.8 832.9 L925.8 832.7 L926.8 832.8 L927.7 832.8 L928.7 832.8 L929.7 832.6 L930.7 832.5 L931.7 832.7 L932.7 832.8 L933.7 832.8 L934.6 832.6 L935.6 832.6 L936.6 832.6 L937.6 832.6 L938.6 832.5 L939.6 832.6 L940.6 832.6 L941.6 832.7 L942.5 832.8 L943.5 832.9 L944.5 832.7 L945.5 832.8 L946.5 832.8 L947.5 832.8 L948.5 832.7 L949.5 832.7 L950.4 833 L951.4 832.8 L952.4 832.7 L953.4 832.7 L954.4 832.7 L955.4 832.7 L956.4 832.9 L957.4 832.7 L958.3 832.7 L959.3 832.7 L960.3 832.6 L961.3 832.6 L962.3 832.8 L963.3 832.8 L964.3 832.6 L965.2 832.6 L966.2 832.5 L967.2 832.4 L968.2 832.5 L969.2 832.5 L970.2 832.7 L971.2 832.4 L972.2 832.5 L973.1 832.3 L974.1 832.4 L975.1 832.6 L976.1 832.5 L977.1 832.5 L978.1 832.7 L979.1 832.8 L980.1 832.5 L981 832.7 L982 832.6 L983 832.6 L984 832.7 L985 832.6 L986 832.7 L987 832.7 L987.9 832.7 L988.9 832.8 L989.9 832.9 L990.9 832.8 L991.9 833 L992.9 832.8 L993.9 833 L994.9 832.9 L995.8 832.7 L996.8 832.8 L997.8 833 L998.8 833 L999.8 832.9 L1000.8 832.8 L1001.8 832.8 L1002.8 833.1 L1003.7 832.8 L1004.7 832.9 L1005.7 832.8 L1006.7 832.7 L1007.7 833 L1008.7 832.8 L1009.7 832.9 L1010.6 832.7 L1011.6 832.9 L1012.6 833 L1013.6 832.8 L1014.6 832.8 L1015.6 832.9 L1016.6 832.9 L1017.6 832.9 L1018.5 832.9 L1019.5 832.9 L1020.5 832.9 L1021.5 832.7 L1022.5 832.9 L1023.5 832.9 L1024.5 832.8 L1025.5 832.8 L1026.4 833.1 L1027.4 833 L1028.4 833 L1029.4 832.9 L1030.4 833.1 L1031.4 833 L1032.4 832.9 L1033.3 832.8 L1034.3 833 L1035.3 832.8 L1036.3 832.7 L1037.3 832.9 L1038.3 832.6 L1039.3 832.7 L1040.3 833 L1041.2 832.7 L1042.2 832.7 L1043.2 832.5 L1044.2 832.7 L1045.2 832.4 L1046.2 832.6 L1047.2 832.5 L1048.2 832.6 L1049.1 832.5 L1050.1 832.4 L1051.1 832.5 L1052.1 832.6 L1053.1 832.5 L1054.1 832.6 L1055.1 832.5 L1056.1 832.4 L1057 832.6 L1058 832.5 L1059 832.6 L1060 832.6 L1061 832.6 L1062 832.5 L1063 832.7 L1063.9 832.9 L1064.9 832.9 L1065.9 832.7 L1066.9 832.6 L1067.9 832.7 L1068.9 832.9 L1069.9 832.9 L1070.9 833 L1071.8 832.9 L1072.8 833 L1073.8 833.1 L1074.8 832.9 L1075.8 833 L1076.8 832.7 L1077.8 832.8 L1078.8 833.1 L1079.7 832.9 L1080.7 833 L1081.7 833 L1082.7 832.9 L1083.7 833 L1084.7 832.5 L1085.7 832.7 L1086.6 832.9 L1087.6 832.6 L1088.6 833 L1089.6 832.6 L1090.6 832.7 L1091.6 832.6 L1092.6 832.5 L1093.6 832.6 L1094.5 832.5 L1095.5 832.7 L1096.5 832.5 L1097.5 832.6 L1098.5 832.5 L1099.5 832.5 L1100.5 832.5 L1101.5 832.6 L1102.4 832.6 L1103.4 832.6 L1104.4 832.4 L1105.4 832.6 L1106.4 832.5 L1107.4 832.6 L1108.4 832.5 L1109.3 832.7 L1110.3 833 L1111.3 832.8 L1112.3 832.8 L1113.3 832.6 L1114.3 832.9 L1115.3 832.8 L1116.3 832.7 L1117.2 832.7 L1118.2 832.9 L1119.2 832.7 L1120.2 832.9 L1121.2 832.9 L1122.2 833 L1123.2 833.1 L1124.2 833 L1125.1 833 L1126.1 833 L1127.1 832.6 L1128.1 833 L1129.1 832.8 L1130.1 832.7 L1131.1 832.7 L1132 832.7 L1133 832.8 L1134 832.8 L1135 832.6 L1136 832.5 L1137 832.7 L1138 832.6 L1139 832.6 L1139.9 832.5 L1140.9 832.7 L1141.9 832.5 L1142.9 832.6 L1143.9 832.5 L1144.9 832.7 L1145.9 832.5 L1146.9 832.6 L1147.8 832.5 L1148.8 832.6 L1149.8 832.5 L1150.8 832.6 L1151.8 832.4 L1152.8 832.8 L1153.8 832.6 L1154.8 832.8 L1155.7 832.7 L1156.7 833 L1157.7 832.7 L1158.7 833.1 L1159.7 832.8 L1160.7 833.1 L1161.7 832.9 L1162.6 832.9 L1163.6 833 L1164.6 832.9 L1165.6 833 L1166.6 833.1 L1167.6 833 L1168.6 832.8 L1169.6 833 L1170.5 833 L1171.5 833 L1172.5 833 L1173.5 832.8 L1174.5 832.9 L1175.5 833 L1176.5 832.9 L1177.5 833 L1178.4 832.9 L1179.4 832.8 L1180.4 832.9 L1181.4 832.8 L1182.4 832.7 L1183.4 832.7 L1184.4 832.7 L1185.3 833 L1186.3 832.7 L1187.3 832.8 L1188.3 832.8 L1189.3 832.7 L1190.3 832.6 L1191.3 832.9 L1192.3 832.5 L1193.2 832.6 L1194.2 832.7 L1195.2 832.8 L1196.2 832.8 L1197.2 832.5 L1198.2 832.7 L1199.2 832.7 L1200.2 832.7 L1201.1 832.7 L1202.1 832.4 L1203.1 832.5 L1204.1 832.8 L1205.1 832.8 L1206.1 832.5 L1207.1 832.6 L1208 832.8 L1209 832.7 L1210 832.6 L1211 832.7 L1212 832.7 L1213 832.2 L1214 832.6 L1215 832.8 L1215.9 832.6 L1216.9 832.8 L1217.9 832.7 L1218.9 832.7 L1219.9 832.8 L1220.9 832.6 L1221.9 832.6 L1222.9 832.7 L1223.8 832.5 L1224.8 832.5 L1225.8 832.7 L1226.8 832.5 L1227.8 832.5 L1228.8 832.7 L1229.8 832.6 L1230.8 832.8 L1231.7 832.8 L1232.7 832.7 L1233.7 832.6 L1234.7 832.5 L1235.7 832.8 L1236.7 832.6 L1237.7 832.9 L1238.6 832.8 L1239.6 832.7 L1240.6 832.9 L1241.6 832.8 L1242.6 832.8 L1243.6 832.7 L1244.6 833 L1245.6 833 L1246.5 832.8 L1247.5 832.8 L1248.5 832.8 L1249.5 832.9 L1250.5 832.8 L1251.5 832.6 L1252.5 832.9 L1253.5 832.7 L1254.4 832.7 L1255.4 832.9 L1256.4 832.8 L1257.4 832.7 L1258.4 832.7 L1259.4 832.7 L1260.4 832.8 L1261.3 832.7 L1262.3 832.7 L1263.3 832.4 L1264.3 832.6 L1265.3 832.6 L1266.3 832.5 L1267.3 832.6 L1268.3 832.6 L1269.2 832.5 L1270.2 832.8 L1271.2 832.6 L1272.2 832.6 L1273.2 832.6 L1274.2 832.7 L1275.2 832.6 L1276.2 832.8 L1277.1 832.6 L1278.1 832.8 L1279.1 832.6 L1280.1 832.9" fill="none" stroke="#264478" stroke-width="4.5" stroke-linejoin="round" stroke-linecap="round"/>
<text x="837" y="843.1" font-size="34.5" fill="#000">0</text>
<text x="808.5" y="792" font-size="34.5" fill="#000">0.1</text>
<text x="808.6" y="740.9" font-size="34.5" fill="#000">0.2</text>
<text x="808.4" y="689.8" font-size="34.5" fill="#000">0.3</text>
<text x="807.9" y="638.7" font-size="34.5" fill="#000">0.4</text>
<text x="808.3" y="587.6" font-size="34.5" fill="#000">0.5</text>
<text x="875.7" y="883.2" font-size="34.5" fill="#000">0</text>
<text x="964.7" y="883.2" font-size="34.5" fill="#000">25</text>
<text x="1063.5" y="883.2" font-size="34.5" fill="#000">50</text>
<text x="1162.1" y="883.2" font-size="34.5" fill="#000">75</text>
<text x="1250.7" y="883.2" font-size="34.5" fill="#000">100</text>
<text x="966.4" y="925" font-size="31.5" fill="#000">Time (sec)</text>
<text transform="translate(790.7,710.4) rotate(-90)" x="-108" y="0" font-size="31.5">Response (nm)</text>
<rect x="1154.3" y="567.7" width="23" height="38.5" fill="#00FFFF"/>
<rect x="1196.5" y="567.7" width="24.9" height="38.5" fill="#00FFFF"/>
<text x="1104.5" y="598.9" font-size="34.5" fill="#000">GV</text>
<text x="1154.3" y="598.9" font-size="34.5" fill="#000">K</text>
<text x="1177.3" y="598.9" font-size="34.5" fill="#000">L</text>
<text x="1196.5" y="598.9" font-size="34.5" fill="#000">H</text>
<text x="1221.4" y="598.9" font-size="34.5" fill="#000">YT/β'</text>
<text x="1177.3" y="640.1" font-size="34.5" fill="#000">(pH 7.5)</text>
<line x1="146.5" y1="1201.3" x2="146.5" y2="1450.9" stroke="#000" stroke-width="4.5" stroke-linecap="butt"/>
<line x1="146.5" y1="1387.4" x2="156.7" y2="1387.4" stroke="#000" stroke-width="4.5" stroke-linecap="butt"/>
<line x1="146.5" y1="1326.1" x2="156.7" y2="1326.1" stroke="#000" stroke-width="4.5" stroke-linecap="butt"/>
<line x1="146.5" y1="1264.8" x2="156.7" y2="1264.8" stroke="#000" stroke-width="4.5" stroke-linecap="butt"/>
<line x1="146.5" y1="1203.5" x2="156.7" y2="1203.5" stroke="#000" stroke-width="4.5" stroke-linecap="butt"/>
<line x1="144.3" y1="1448.7" x2="556.9" y2="1448.7" stroke="#000" stroke-width="4.5" stroke-linecap="butt"/>
<line x1="248.6" y1="1448.7" x2="248.6" y2="1438.2" stroke="#000" stroke-width="4.5" stroke-linecap="butt"/>
<line x1="350.7" y1="1448.7" x2="350.7" y2="1438.2" stroke="#000" stroke-width="4.5" stroke-linecap="butt"/>
<line x1="452.8" y1="1448.7" x2="452.8" y2="1438.2" stroke="#000" stroke-width="4.5" stroke-linecap="butt"/>
<line x1="554.9" y1="1448.7" x2="554.9" y2="1438.2" stroke="#000" stroke-width="4.5" stroke-linecap="butt"/>
<path d="M146.5 1448.7 L146.9 1427.6 L147.3 1408.6 L147.7 1391.3 L148.1 1375.6 L148.5 1361.5 L149 1348.7 L149.4 1337 L149.8 1326.5 L150.2 1317 L150.6 1308.4 L151 1300.5 L151.4 1293.5 L151.8 1287 L152.2 1281.2 L152.6 1275.9 L153 1271.1 L153.4 1266.8 L153.9 1262.9 L154.3 1259.3 L154.7 1256 L155.1 1253.1 L155.5 1250.4 L155.9 1248 L156.3 1245.8 L156.7 1243.8 L157.1 1241.9 L157.5 1240.3 L157.9 1238.8 L158.3 1237.4 L158.8 1236.1 L159.2 1235 L159.6 1233.9 L160 1233 L160.4 1232.1 L160.8 1231.3 L161.2 1230.6 L161.6 1229.9 L162 1229.3 L162.4 1228.7 L162.8 1228.2 L164.5 1226.5 L166.1 1225.2 L167.7 1224.2 L169.4 1223.4 L171 1222.8 L172.6 1222.2 L174.3 1221.8 L175.9 1221.3 L177.5 1221 L179.2 1220.6 L180.8 1220.2 L182.4 1219.9 L184.1 1219.6 L185.7 1219.3 L187.3 1219 L189 1218.7 L190.6 1218.4 L192.2 1218.1 L193.9 1217.8 L195.5 1217.5 L199.6 1216.9 L203.7 1216.3 L207.8 1215.7 L211.8 1215.1 L215.9 1214.6 L220 1214.1 L224.1 1213.6 L228.2 1213.1 L232.3 1212.7 L236.3 1212.3 L240.4 1211.9 L244.5 1211.5 L248.6 1211.1 L252.7 1210.8 L256.8 1210.5 L260.9 1210.2 L264.9 1209.9 L269 1209.6 L273.1 1209.3 L277.2 1209.1 L281.3 1208.8 L285.4 1208.6 L289.4 1208.4 L293.5 1208.2 L297.6 1208 L301.7 1207.8 L305.8 1207.6 L309.9 1207.4 L313.9 1207.3 L318 1207.1 L322.1 1207 L326.2 1206.8 L330.3 1206.7 L334.4 1206.6 L338.4 1206.5 L342.5 1206.3 L346.6 1206.2 L350.7 1206.1 L354.8 1206 L358.9 1205.9 L363 1205.8 L367 1205.8 L371.1 1205.7 L375.2 1205.6 L379.3 1205.5 L383.4 1205.5 L387.5 1205.4 L391.5 1205.3 L391.9 1213.8 L392.4 1221.7 L392.8 1229 L393.2 1235.9 L393.6 1242.2 L394 1248.2 L394.4 1253.8 L394.8 1259.1 L395.2 1264 L395.6 1268.6 L396 1273 L396.4 1277.2 L396.8 1281.1 L397.3 1284.8 L397.7 1288.4 L398.1 1291.7 L398.5 1295 L398.9 1298 L399.3 1301 L399.7 1303.8 L400.1 1306.5 L400.5 1309.1 L400.9 1311.6 L401.3 1314 L401.8 1316.3 L402.2 1318.6 L402.6 1320.8 L403 1322.9 L403.4 1324.9 L403.8 1326.9 L404.2 1328.9 L404.6 1330.7 L405 1332.6 L405.4 1334.4 L405.8 1336.1 L406.2 1337.8 L406.7 1339.5 L407.1 1341.1 L407.5 1342.7 L407.9 1344.2 L409.5 1350.1 L411.1 1355.6 L412.8 1360.6 L414.4 1365.4 L416 1369.8 L417.7 1373.9 L419.3 1377.8 L420.9 1381.5 L422.6 1384.9 L424.2 1388.1 L425.8 1391.2 L427.5 1394 L429.1 1396.7 L430.7 1399.2 L432.4 1401.6 L434 1403.9 L435.6 1406 L437.3 1408 L438.9 1409.9 L440.5 1411.6 L442.2 1413.3 L443.8 1414.9 L445.4 1416.3 L447.1 1417.7 L448.7 1419 L450.3 1420.3 L452 1421.4 L453.6 1422.5 L457.7 1425 L461.8 1427.1 L465.9 1428.9 L470 1430.5 L474 1431.8 L478.1 1433 L482.2 1434 L486.3 1434.9 L490.4 1435.6 L494.5 1436.2 L498.5 1436.8 L502.6 1437.3 L506.7 1437.7 L510.8 1438 L514.9 1438.3 L519 1438.6 L523 1438.8 L527.1 1439 L531.2 1439.2 L535.3 1439.3 L539.4 1439.4 L543.5 1439.5 L547.5 1439.6 L551.6 1439.7 L554.9 1439.8" fill="none" stroke="#4472C4" stroke-width="4.5" stroke-linejoin="round" stroke-linecap="round"/>
<path d="M146.5 1408.2 L146.9 1394.5 L147.3 1382.2 L147.7 1370.9 L148.1 1360.8 L148.5 1351.6 L149 1343.2 L149.4 1335.7 L149.8 1328.8 L150.2 1322.7 L150.6 1317 L151 1312 L151.4 1307.4 L151.8 1303.2 L152.2 1299.4 L152.6 1296 L153 1292.9 L153.4 1290 L153.9 1287.5 L154.3 1285.1 L154.7 1283 L155.1 1281.1 L155.5 1279.4 L155.9 1277.8 L156.3 1276.4 L156.7 1275.1 L157.1 1273.9 L157.5 1272.8 L157.9 1271.8 L158.3 1270.9 L158.8 1270.1 L159.2 1269.4 L159.6 1268.7 L160 1268 L160.4 1267.5 L160.8 1267 L161.2 1266.5 L161.6 1266 L162 1265.6 L162.4 1265.3 L162.8 1264.9 L164.5 1263.8 L166.1 1263 L167.7 1262.3 L169.4 1261.8 L171 1261.4 L172.6 1261.1 L174.3 1260.8 L175.9 1260.5 L177.5 1260.2 L179.2 1260 L180.8 1259.8 L182.4 1259.6 L184.1 1259.3 L185.7 1259.1 L187.3 1258.9 L189 1258.8 L190.6 1258.6 L192.2 1258.4 L193.9 1258.2 L195.5 1258 L199.6 1257.6 L203.7 1257.2 L207.8 1256.8 L211.8 1256.4 L215.9 1256.1 L220 1255.8 L224.1 1255.4 L228.2 1255.1 L232.3 1254.9 L236.3 1254.6 L240.4 1254.3 L244.5 1254.1 L248.6 1253.9 L252.7 1253.6 L256.8 1253.4 L260.9 1253.2 L264.9 1253 L269 1252.8 L273.1 1252.7 L277.2 1252.5 L281.3 1252.3 L285.4 1252.2 L289.4 1252.1 L293.5 1251.9 L297.6 1251.8 L301.7 1251.7 L305.8 1251.6 L309.9 1251.4 L313.9 1251.3 L318 1251.2 L322.1 1251.1 L326.2 1251.1 L330.3 1251 L334.4 1250.9 L338.4 1250.8 L342.5 1250.7 L346.6 1250.7 L350.7 1250.6 L354.8 1250.5 L358.9 1250.5 L363 1250.4 L367 1250.4 L371.1 1250.3 L375.2 1250.3 L379.3 1250.2 L383.4 1250.2 L387.5 1250.1 L391.5 1250.1 L391.9 1257 L392.4 1263.4 L392.8 1269.4 L393.2 1275 L393.6 1280.2 L394 1285.1 L394.4 1289.6 L394.8 1293.9 L395.2 1298 L395.6 1301.7 L396 1305.3 L396.4 1308.7 L396.8 1311.9 L397.3 1315 L397.7 1317.8 L398.1 1320.6 L398.5 1323.2 L398.9 1325.7 L399.3 1328.1 L399.7 1330.4 L400.1 1332.6 L400.5 1334.8 L400.9 1336.8 L401.3 1338.8 L401.8 1340.7 L402.2 1342.5 L402.6 1344.3 L403 1346 L403.4 1347.7 L403.8 1349.3 L404.2 1350.9 L404.6 1352.4 L405 1353.9 L405.4 1355.4 L405.8 1356.8 L406.2 1358.2 L406.7 1359.5 L407.1 1360.9 L407.5 1362.2 L407.9 1363.4 L409.5 1368.2 L411.1 1372.7 L412.8 1376.8 L414.4 1380.7 L416 1384.3 L417.7 1387.7 L419.3 1390.8 L420.9 1393.8 L422.6 1396.6 L424.2 1399.3 L425.8 1401.7 L427.5 1404.1 L429.1 1406.3 L430.7 1408.3 L432.4 1410.3 L434 1412.1 L435.6 1413.8 L437.3 1415.5 L438.9 1417 L440.5 1418.4 L442.2 1419.8 L443.8 1421.1 L445.4 1422.3 L447.1 1423.4 L448.7 1424.5 L450.3 1425.5 L452 1426.4 L453.6 1427.3 L457.7 1429.3 L461.8 1431.1 L465.9 1432.6 L470 1433.8 L474 1434.9 L478.1 1435.9 L482.2 1436.7 L486.3 1437.4 L490.4 1438 L494.5 1438.5 L498.5 1439 L502.6 1439.4 L506.7 1439.7 L510.8 1440 L514.9 1440.2 L519 1440.4 L523 1440.6 L527.1 1440.8 L531.2 1440.9 L535.3 1441 L539.4 1441.1 L543.5 1441.2 L547.5 1441.3 L551.6 1441.4 L554.9 1441.4" fill="none" stroke="#ED7D31" stroke-width="4.5" stroke-linejoin="round" stroke-linecap="round"/>
<path d="M146.5 1448.7 L146.9 1443.6 L147.3 1438.7 L147.7 1434 L148.1 1429.6 L148.5 1425.4 L149 1421.3 L149.4 1417.5 L149.8 1413.9 L150.2 1410.4 L150.6 1407.1 L151 1404 L151.4 1401 L151.8 1398.1 L152.2 1395.4 L152.6 1392.9 L153 1390.4 L153.4 1388.1 L153.9 1385.8 L154.3 1383.7 L154.7 1381.7 L155.1 1379.8 L155.5 1378 L155.9 1376.2 L156.3 1374.5 L156.7 1373 L157.1 1371.5 L157.5 1370 L157.9 1368.7 L158.3 1367.3 L158.8 1366.1 L159.2 1364.9 L159.6 1363.8 L160 1362.7 L160.4 1361.7 L160.8 1360.7 L161.2 1359.8 L161.6 1358.9 L162 1358 L162.4 1357.2 L162.8 1356.5 L164.5 1353.7 L166.1 1351.4 L167.7 1349.6 L169.4 1348 L171 1346.6 L172.6 1345.5 L174.3 1344.6 L175.9 1343.8 L177.5 1343.1 L179.2 1342.6 L180.8 1342.1 L182.4 1341.6 L184.1 1341.2 L185.7 1340.9 L187.3 1340.6 L189 1340.3 L190.6 1340.1 L192.2 1339.9 L193.9 1339.7 L195.5 1339.5 L199.6 1339.1 L203.7 1338.7 L207.8 1338.4 L211.8 1338.1 L215.9 1337.9 L220 1337.6 L224.1 1337.4 L228.2 1337.1 L232.3 1336.9 L236.3 1336.7 L240.4 1336.5 L244.5 1336.4 L248.6 1336.2 L252.7 1336 L256.8 1335.9 L260.9 1335.7 L264.9 1335.6 L269 1335.5 L273.1 1335.3 L277.2 1335.2 L281.3 1335.1 L285.4 1335 L289.4 1334.9 L293.5 1334.8 L297.6 1334.7 L301.7 1334.6 L305.8 1334.5 L309.9 1334.4 L313.9 1334.4 L318 1334.3 L322.1 1334.2 L326.2 1334.2 L330.3 1334.1 L334.4 1334 L338.4 1334 L342.5 1333.9 L346.6 1333.9 L350.7 1333.8 L354.8 1333.8 L358.9 1333.7 L363 1333.7 L367 1333.7 L371.1 1333.6 L375.2 1333.6 L379.3 1333.5 L383.4 1333.5 L387.5 1333.5 L391.5 1333.5 L391.9 1336.2 L392.4 1338.7 L392.8 1341.2 L393.2 1343.6 L393.6 1345.8 L394 1348 L394.4 1350.1 L394.8 1352.1 L395.2 1354 L395.6 1355.8 L396 1357.6 L396.4 1359.3 L396.8 1361 L397.3 1362.6 L397.7 1364.1 L398.1 1365.6 L398.5 1367.1 L398.9 1368.5 L399.3 1369.8 L399.7 1371.1 L400.1 1372.4 L400.5 1373.7 L400.9 1374.9 L401.3 1376.1 L401.8 1377.2 L402.2 1378.4 L402.6 1379.5 L403 1380.5 L403.4 1381.6 L403.8 1382.6 L404.2 1383.6 L404.6 1384.6 L405 1385.5 L405.4 1386.4 L405.8 1387.3 L406.2 1388.2 L406.7 1389.1 L407.1 1390 L407.5 1390.8 L407.9 1391.6 L409.5 1394.8 L411.1 1397.7 L412.8 1400.4 L414.4 1402.9 L416 1405.3 L417.7 1407.5 L419.3 1409.6 L420.9 1411.6 L422.6 1413.4 L424.2 1415.1 L425.8 1416.8 L427.5 1418.3 L429.1 1419.7 L430.7 1421.1 L432.4 1422.4 L434 1423.6 L435.6 1424.7 L437.3 1425.8 L438.9 1426.8 L440.5 1427.7 L442.2 1428.6 L443.8 1429.4 L445.4 1430.2 L447.1 1430.9 L448.7 1431.6 L450.3 1432.3 L452 1432.9 L453.6 1433.5 L457.7 1434.8 L461.8 1436 L465.9 1436.9 L470 1437.8 L474 1438.5 L478.1 1439.1 L482.2 1439.6 L486.3 1440.1 L490.4 1440.5 L494.5 1440.8 L498.5 1441.1 L502.6 1441.4 L506.7 1441.6 L510.8 1441.8 L514.9 1441.9 L519 1442.1 L523 1442.2 L527.1 1442.3 L531.2 1442.4 L535.3 1442.5 L539.4 1442.5 L543.5 1442.6 L547.5 1442.6 L551.6 1442.7 L554.9 1442.7" fill="none" stroke="#A5A5A5" stroke-width="4.5" stroke-linejoin="round" stroke-linecap="round"/>
<path d="M146.5 1448.7 L146.9 1446 L147.3 1443.4 L147.7 1440.9 L148.1 1438.5 L148.5 1436.2 L149 1434 L149.4 1431.8 L149.8 1429.8 L150.2 1427.8 L150.6 1425.9 L151 1424.1 L151.4 1422.3 L151.8 1420.6 L152.2 1419 L152.6 1417.5 L153 1416 L153.4 1414.5 L153.9 1413.1 L154.3 1411.8 L154.7 1410.5 L155.1 1409.3 L155.5 1408.1 L155.9 1406.9 L156.3 1405.8 L156.7 1404.8 L157.1 1403.7 L157.5 1402.8 L157.9 1401.8 L158.3 1400.9 L158.8 1400 L159.2 1399.2 L159.6 1398.4 L160 1397.6 L160.4 1396.8 L160.8 1396.1 L161.2 1395.4 L161.6 1394.8 L162 1394.1 L162.4 1393.5 L162.8 1392.9 L164.5 1390.7 L166.1 1388.8 L167.7 1387.2 L169.4 1385.8 L171 1384.6 L172.6 1383.5 L174.3 1382.6 L175.9 1381.8 L177.5 1381.1 L179.2 1380.5 L180.8 1379.9 L182.4 1379.5 L184.1 1379 L185.7 1378.7 L187.3 1378.3 L189 1378 L190.6 1377.7 L192.2 1377.5 L193.9 1377.3 L195.5 1377.1 L199.6 1376.6 L203.7 1376.2 L207.8 1375.9 L211.8 1375.6 L215.9 1375.4 L220 1375.1 L224.1 1374.9 L228.2 1374.7 L232.3 1374.5 L236.3 1374.3 L240.4 1374.2 L244.5 1374 L248.6 1373.9 L252.7 1373.7 L256.8 1373.6 L260.9 1373.5 L264.9 1373.3 L269 1373.2 L273.1 1373.1 L277.2 1373 L281.3 1372.9 L285.4 1372.8 L289.4 1372.7 L293.5 1372.6 L297.6 1372.5 L301.7 1372.5 L305.8 1372.4 L309.9 1372.3 L313.9 1372.3 L318 1372.2 L322.1 1372.1 L326.2 1372.1 L330.3 1372 L334.4 1372 L338.4 1371.9 L342.5 1371.9 L346.6 1371.8 L350.7 1371.8 L354.8 1371.7 L358.9 1371.7 L363 1371.7 L367 1371.6 L371.1 1371.6 L375.2 1371.6 L379.3 1371.5 L383.4 1371.5 L387.5 1371.5 L391.5 1371.5 L391.9 1372.4 L392.4 1373.3 L392.8 1374.2 L393.2 1375.1 L393.6 1376 L394 1376.8 L394.4 1377.7 L394.8 1378.5 L395.2 1379.4 L395.6 1380.2 L396 1381 L396.4 1381.8 L396.8 1382.6 L397.3 1383.4 L397.7 1384.1 L398.1 1384.9 L398.5 1385.6 L398.9 1386.4 L399.3 1387.1 L399.7 1387.8 L400.1 1388.5 L400.5 1389.2 L400.9 1389.9 L401.3 1390.6 L401.8 1391.3 L402.2 1392 L402.6 1392.6 L403 1393.3 L403.4 1393.9 L403.8 1394.5 L404.2 1395.2 L404.6 1395.8 L405 1396.4 L405.4 1397 L405.8 1397.6 L406.2 1398.2 L406.7 1398.7 L407.1 1399.3 L407.5 1399.9 L407.9 1400.4 L409.5 1402.6 L411.1 1404.6 L412.8 1406.6 L414.4 1408.4 L416 1410.2 L417.7 1411.8 L419.3 1413.4 L420.9 1414.9 L422.6 1416.3 L424.2 1417.7 L425.8 1418.9 L427.5 1420.1 L429.1 1421.3 L430.7 1422.4 L432.4 1423.4 L434 1424.4 L435.6 1425.4 L437.3 1426.2 L438.9 1427.1 L440.5 1427.9 L442.2 1428.7 L443.8 1429.4 L445.4 1430.1 L447.1 1430.7 L448.7 1431.3 L450.3 1431.9 L452 1432.5 L453.6 1433 L457.7 1434.2 L461.8 1435.3 L465.9 1436.2 L470 1437 L474 1437.7 L478.1 1438.4 L482.2 1438.9 L486.3 1439.4 L490.4 1439.8 L494.5 1440.2 L498.5 1440.5 L502.6 1440.8 L506.7 1441.1 L510.8 1441.3 L514.9 1441.5 L519 1441.7 L523 1441.8 L527.1 1442 L531.2 1442.1 L535.3 1442.2 L539.4 1442.3 L543.5 1442.3 L547.5 1442.4 L551.6 1442.5 L554.9 1442.5" fill="none" stroke="#FFC000" stroke-width="4.5" stroke-linejoin="round" stroke-linecap="round"/>
<path d="M146.5 1448.7 L146.9 1447.9 L147.3 1447.2 L147.7 1446.4 L148.1 1445.7 L148.5 1445 L149 1444.3 L149.4 1443.6 L149.8 1442.9 L150.2 1442.3 L150.6 1441.7 L151 1441.1 L151.4 1440.5 L151.8 1439.9 L152.2 1439.3 L152.6 1438.7 L153 1438.2 L153.4 1437.7 L153.9 1437.2 L154.3 1436.6 L154.7 1436.2 L155.1 1435.7 L155.5 1435.2 L155.9 1434.7 L156.3 1434.3 L156.7 1433.9 L157.1 1433.4 L157.5 1433 L157.9 1432.6 L158.3 1432.2 L158.8 1431.8 L159.2 1431.5 L159.6 1431.1 L160 1430.7 L160.4 1430.4 L160.8 1430 L161.2 1429.7 L161.6 1429.4 L162 1429.1 L162.4 1428.8 L162.8 1428.4 L164.5 1427.3 L166.1 1426.3 L167.7 1425.3 L169.4 1424.5 L171 1423.7 L172.6 1423 L174.3 1422.3 L175.9 1421.7 L177.5 1421.2 L179.2 1420.7 L180.8 1420.3 L182.4 1419.9 L184.1 1419.5 L185.7 1419.2 L187.3 1418.8 L189 1418.6 L190.6 1418.3 L192.2 1418.1 L193.9 1417.8 L195.5 1417.6 L199.6 1417.2 L203.7 1416.9 L207.8 1416.6 L211.8 1416.3 L215.9 1416.1 L220 1415.9 L224.1 1415.8 L228.2 1415.7 L232.3 1415.6 L236.3 1415.5 L240.4 1415.4 L244.5 1415.3 L248.6 1415.2 L252.7 1415.2 L256.8 1415.1 L260.9 1415.1 L264.9 1415 L269 1415 L273.1 1414.9 L277.2 1414.9 L281.3 1414.9 L285.4 1414.8 L289.4 1414.8 L293.5 1414.8 L297.6 1414.7 L301.7 1414.7 L305.8 1414.7 L309.9 1414.7 L313.9 1414.6 L318 1414.6 L322.1 1414.6 L326.2 1414.6 L330.3 1414.6 L334.4 1414.5 L338.4 1414.5 L342.5 1414.5 L346.6 1414.5 L350.7 1414.5 L354.8 1414.5 L358.9 1414.5 L363 1414.4 L367 1414.4 L371.1 1414.4 L375.2 1414.4 L379.3 1414.4 L383.4 1414.4 L387.5 1414.4 L391.5 1414.4 L391.9 1414.8 L392.4 1415.2 L392.8 1415.6 L393.2 1416 L393.6 1416.3 L394 1416.7 L394.4 1417.1 L394.8 1417.5 L395.2 1417.8 L395.6 1418.2 L396 1418.5 L396.4 1418.9 L396.8 1419.2 L397.3 1419.6 L397.7 1419.9 L398.1 1420.2 L398.5 1420.6 L398.9 1420.9 L399.3 1421.2 L399.7 1421.5 L400.1 1421.8 L400.5 1422.1 L400.9 1422.4 L401.3 1422.7 L401.8 1423 L402.2 1423.3 L402.6 1423.6 L403 1423.8 L403.4 1424.1 L403.8 1424.4 L404.2 1424.6 L404.6 1424.9 L405 1425.2 L405.4 1425.4 L405.8 1425.7 L406.2 1425.9 L406.7 1426.2 L407.1 1426.4 L407.5 1426.6 L407.9 1426.9 L409.5 1427.8 L411.1 1428.6 L412.8 1429.5 L414.4 1430.2 L416 1431 L417.7 1431.6 L419.3 1432.3 L420.9 1432.9 L422.6 1433.5 L424.2 1434 L425.8 1434.5 L427.5 1435 L429.1 1435.5 L430.7 1435.9 L432.4 1436.4 L434 1436.7 L435.6 1437.1 L437.3 1437.5 L438.9 1437.8 L440.5 1438.1 L442.2 1438.4 L443.8 1438.7 L445.4 1439 L447.1 1439.2 L448.7 1439.4 L450.3 1439.7 L452 1439.9 L453.6 1440.1 L457.7 1440.5 L461.8 1440.9 L465.9 1441.3 L470 1441.6 L474 1441.8 L478.1 1442.1 L482.2 1442.2 L486.3 1442.4 L490.4 1442.6 L494.5 1442.7 L498.5 1442.8 L502.6 1442.9 L506.7 1443 L510.8 1443.1 L514.9 1443.1 L519 1443.2 L523 1443.2 L527.1 1443.3 L531.2 1443.3 L535.3 1443.3 L539.4 1443.4 L543.5 1443.4 L547.5 1443.4 L551.6 1443.4 L554.9 1443.4" fill="none" stroke="#FF00FF" stroke-width="4.5" stroke-linejoin="round" stroke-linecap="round"/>
<path d="M146.5 1448.7 L146.9 1448.5 L147.3 1448.3 L147.7 1448.1 L148.1 1447.9 L148.5 1447.8 L149 1447.6 L149.4 1447.4 L149.8 1447.2 L150.2 1447 L150.6 1446.9 L151 1446.7 L151.4 1446.5 L151.8 1446.3 L152.2 1446.2 L152.6 1446 L153 1445.9 L153.4 1445.7 L153.9 1445.5 L154.3 1445.4 L154.7 1445.2 L155.1 1445.1 L155.5 1444.9 L155.9 1444.8 L156.3 1444.6 L156.7 1444.5 L157.1 1444.3 L157.5 1444.2 L157.9 1444 L158.3 1443.9 L158.8 1443.8 L159.2 1443.6 L159.6 1443.5 L160 1443.4 L160.4 1443.2 L160.8 1443.1 L161.2 1443 L161.6 1442.8 L162 1442.7 L162.4 1442.6 L162.8 1442.5 L164.5 1442 L166.1 1441.5 L167.7 1441.1 L169.4 1440.7 L171 1440.3 L172.6 1439.9 L174.3 1439.5 L175.9 1439.2 L177.5 1438.9 L179.2 1438.5 L180.8 1438.2 L182.4 1438 L184.1 1437.7 L185.7 1437.4 L187.3 1437.2 L189 1436.9 L190.6 1436.7 L192.2 1436.5 L193.9 1436.3 L195.5 1436.1 L199.6 1435.6 L203.7 1435.2 L207.8 1434.8 L211.8 1434.5 L215.9 1434.2 L220 1433.9 L224.1 1433.7 L228.2 1433.5 L232.3 1433.3 L236.3 1433.1 L240.4 1433 L244.5 1432.8 L248.6 1432.7 L252.7 1432.6 L256.8 1432.5 L260.9 1432.4 L264.9 1432.3 L269 1432.2 L273.1 1432.2 L277.2 1432.1 L281.3 1432.1 L285.4 1432 L289.4 1432 L293.5 1431.9 L297.6 1431.9 L301.7 1431.9 L305.8 1431.8 L309.9 1431.8 L313.9 1431.8 L318 1431.8 L322.1 1431.7 L326.2 1431.7 L330.3 1431.7 L334.4 1431.7 L338.4 1431.7 L342.5 1431.6 L346.6 1431.6 L350.7 1431.6 L354.8 1431.6 L358.9 1431.6 L363 1431.6 L367 1431.6 L371.1 1431.6 L375.2 1431.6 L379.3 1431.6 L383.4 1431.5 L387.5 1431.5 L391.5 1431.5 L391.9 1431.7 L392.4 1431.9 L392.8 1432 L393.2 1432.2 L393.6 1432.4 L394 1432.5 L394.4 1432.7 L394.8 1432.8 L395.2 1433 L395.6 1433.1 L396 1433.3 L396.4 1433.4 L396.8 1433.6 L397.3 1433.7 L397.7 1433.9 L398.1 1434 L398.5 1434.1 L398.9 1434.3 L399.3 1434.4 L399.7 1434.5 L400.1 1434.7 L400.5 1434.8 L400.9 1434.9 L401.3 1435.1 L401.8 1435.2 L402.2 1435.3 L402.6 1435.4 L403 1435.6 L403.4 1435.7 L403.8 1435.8 L404.2 1435.9 L404.6 1436 L405 1436.1 L405.4 1436.3 L405.8 1436.4 L406.2 1436.5 L406.7 1436.6 L407.1 1436.7 L407.5 1436.8 L407.9 1436.9 L409.5 1437.3 L411.1 1437.7 L412.8 1438.1 L414.4 1438.4 L416 1438.8 L417.7 1439.1 L419.3 1439.4 L420.9 1439.7 L422.6 1440 L424.2 1440.2 L425.8 1440.5 L427.5 1440.7 L429.1 1440.9 L430.7 1441.2 L432.4 1441.4 L434 1441.6 L435.6 1441.8 L437.3 1441.9 L438.9 1442.1 L440.5 1442.3 L442.2 1442.4 L443.8 1442.6 L445.4 1442.7 L447.1 1442.9 L448.7 1443 L450.3 1443.1 L452 1443.2 L453.6 1443.3 L457.7 1443.6 L461.8 1443.8 L465.9 1444 L470 1444.2 L474 1444.4 L478.1 1444.5 L482.2 1444.6 L486.3 1444.7 L490.4 1444.8 L494.5 1444.9 L498.5 1445 L502.6 1445.1 L506.7 1445.1 L510.8 1445.2 L514.9 1445.2 L519 1445.3 L523 1445.3 L527.1 1445.3 L531.2 1445.4 L535.3 1445.4 L539.4 1445.4 L543.5 1445.4 L547.5 1445.5 L551.6 1445.5 L554.9 1445.5" fill="none" stroke="#70AD47" stroke-width="4.5" stroke-linejoin="round" stroke-linecap="round"/>
<path d="M146.5 1448.7 L146.9 1448.6 L147.3 1448.5 L147.7 1448.4 L148.1 1448.3 L148.5 1448.3 L149 1448.2 L149.4 1448.1 L149.8 1448 L150.2 1447.9 L150.6 1447.8 L151 1447.7 L151.4 1447.7 L151.8 1447.6 L152.2 1447.5 L152.6 1447.4 L153 1447.3 L153.4 1447.3 L153.9 1447.2 L154.3 1447.1 L154.7 1447 L155.1 1446.9 L155.5 1446.9 L155.9 1446.8 L156.3 1446.7 L156.7 1446.6 L157.1 1446.6 L157.5 1446.5 L157.9 1446.4 L158.3 1446.3 L158.8 1446.3 L159.2 1446.2 L159.6 1446.1 L160 1446.1 L160.4 1446 L160.8 1445.9 L161.2 1445.8 L161.6 1445.8 L162 1445.7 L162.4 1445.6 L162.8 1445.6 L164.5 1445.3 L166.1 1445.1 L167.7 1444.8 L169.4 1444.6 L171 1444.3 L172.6 1444.1 L174.3 1443.9 L175.9 1443.7 L177.5 1443.5 L179.2 1443.3 L180.8 1443.1 L182.4 1442.9 L184.1 1442.7 L185.7 1442.6 L187.3 1442.4 L189 1442.2 L190.6 1442.1 L192.2 1441.9 L193.9 1441.8 L195.5 1441.6 L199.6 1441.3 L203.7 1441 L207.8 1440.7 L211.8 1440.4 L215.9 1440.1 L220 1439.9 L224.1 1439.7 L228.2 1439.5 L232.3 1439.3 L236.3 1439.1 L240.4 1439 L244.5 1438.8 L248.6 1438.7 L252.7 1438.6 L256.8 1438.4 L260.9 1438.3 L264.9 1438.2 L269 1438.1 L273.1 1438 L277.2 1438 L281.3 1437.9 L285.4 1437.8 L289.4 1437.8 L293.5 1437.7 L297.6 1437.6 L301.7 1437.6 L305.8 1437.5 L309.9 1437.5 L313.9 1437.5 L318 1437.4 L322.1 1437.4 L326.2 1437.4 L330.3 1437.3 L334.4 1437.3 L338.4 1437.3 L342.5 1437.2 L346.6 1437.2 L350.7 1437.2 L354.8 1437.2 L358.9 1437.2 L363 1437.1 L367 1437.1 L371.1 1437.1 L375.2 1437.1 L379.3 1437.1 L383.4 1437.1 L387.5 1437.1 L391.5 1437.1 L391.9 1437.2 L392.4 1437.2 L392.8 1437.3 L393.2 1437.4 L393.6 1437.5 L394 1437.6 L394.4 1437.7 L394.8 1437.8 L395.2 1437.9 L395.6 1438 L396 1438.1 L396.4 1438.2 L396.8 1438.2 L397.3 1438.3 L397.7 1438.4 L398.1 1438.5 L398.5 1438.6 L398.9 1438.7 L399.3 1438.7 L399.7 1438.8 L400.1 1438.9 L400.5 1439 L400.9 1439.1 L401.3 1439.1 L401.8 1439.2 L402.2 1439.3 L402.6 1439.4 L403 1439.4 L403.4 1439.5 L403.8 1439.6 L404.2 1439.7 L404.6 1439.7 L405 1439.8 L405.4 1439.9 L405.8 1439.9 L406.2 1440 L406.7 1440.1 L407.1 1440.1 L407.5 1440.2 L407.9 1440.3 L409.5 1440.5 L411.1 1440.8 L412.8 1441 L414.4 1441.2 L416 1441.5 L417.7 1441.7 L419.3 1441.9 L420.9 1442.1 L422.6 1442.3 L424.2 1442.4 L425.8 1442.6 L427.5 1442.8 L429.1 1442.9 L430.7 1443.1 L432.4 1443.2 L434 1443.4 L435.6 1443.5 L437.3 1443.6 L438.9 1443.8 L440.5 1443.9 L442.2 1444 L443.8 1444.1 L445.4 1444.2 L447.1 1444.3 L448.7 1444.4 L450.3 1444.5 L452 1444.6 L453.6 1444.7 L457.7 1444.9 L461.8 1445.1 L465.9 1445.3 L470 1445.4 L474 1445.5 L478.1 1445.7 L482.2 1445.8 L486.3 1445.9 L490.4 1446 L494.5 1446 L498.5 1446.1 L502.6 1446.2 L506.7 1446.3 L510.8 1446.3 L514.9 1446.4 L519 1446.4 L523 1446.4 L527.1 1446.5 L531.2 1446.5 L535.3 1446.5 L539.4 1446.6 L543.5 1446.6 L547.5 1446.6 L551.6 1446.6 L554.9 1446.7" fill="none" stroke="#264478" stroke-width="4.5" stroke-linejoin="round" stroke-linecap="round"/>
<text x="97.3" y="1459.3" font-size="34.5" fill="#000">0</text>
<text x="97.6" y="1398" font-size="34.5" fill="#000">1</text>
<text x="97.6" y="1336.8" font-size="34.5" fill="#000">2</text>
<text x="97.4" y="1275.4" font-size="34.5" fill="#000">3</text>
<text x="96.9" y="1214.1" font-size="34.5" fill="#000">4</text>
<text x="136.9" y="1500.6" font-size="34.5" fill="#000">0</text>
<text x="229.3" y="1500.6" font-size="34.5" fill="#000">25</text>
<text x="331.5" y="1500.6" font-size="34.5" fill="#000">50</text>
<text x="433.5" y="1500.6" font-size="34.5" fill="#000">75</text>
<text x="525.5" y="1500.6" font-size="34.5" fill="#000">100</text>
<text x="253" y="1546.7" font-size="31.5" fill="#000">Time (sec)</text>
<text transform="translate(74.3,1308.7) rotate(-90)" x="-108" y="0" font-size="31.5">Response (nm)</text>
<text x="329.1" y="1189.9" font-size="34.5" fill="#000">K</text>
<text x="352.1" y="1197.4" font-size="24" fill="#000">D</text>
<text x="369.4" y="1189.9" font-size="34.5" fill="#000">=4.17±0.31μM</text>
<rect x="450.8" y="1199.8" width="23" height="38.5" fill="#00FFFF"/>
<rect x="493" y="1199.8" width="23" height="38.5" fill="#00FFFF"/>
<text x="400.9" y="1231" font-size="34.5" fill="#000">GV</text>
<text x="450.8" y="1231" font-size="34.5" fill="#000">K</text>
<text x="473.8" y="1231" font-size="34.5" fill="#000">L</text>
<text x="493" y="1231" font-size="34.5" fill="#000">K</text>
<text x="516" y="1231" font-size="34.5" fill="#000">YT/α</text>
<text x="466.1" y="1272.5" font-size="34.5" fill="#000">(pH 7.5)</text>
<line x1="878.2" y1="1191.6" x2="878.2" y2="1472.4" stroke="#000" stroke-width="4.5" stroke-linecap="butt"/>
<line x1="878.2" y1="1414.9" x2="888.4" y2="1414.9" stroke="#000" stroke-width="4.5" stroke-linecap="butt"/>
<line x1="878.2" y1="1359.6" x2="888.4" y2="1359.6" stroke="#000" stroke-width="4.5" stroke-linecap="butt"/>
<line x1="878.2" y1="1304.3" x2="888.4" y2="1304.3" stroke="#000" stroke-width="4.5" stroke-linecap="butt"/>
<line x1="878.2" y1="1249" x2="888.4" y2="1249" stroke="#000" stroke-width="4.5" stroke-linecap="butt"/>
<line x1="878.2" y1="1193.7" x2="888.4" y2="1193.7" stroke="#000" stroke-width="4.5" stroke-linecap="butt"/>
<line x1="876" y1="1470.2" x2="1322.4" y2="1470.2" stroke="#000" stroke-width="4.5" stroke-linecap="butt"/>
<line x1="988.8" y1="1470.2" x2="988.8" y2="1459.7" stroke="#000" stroke-width="4.5" stroke-linecap="butt"/>
<line x1="1099.3" y1="1470.2" x2="1099.3" y2="1459.7" stroke="#000" stroke-width="4.5" stroke-linecap="butt"/>
<line x1="1209.8" y1="1470.2" x2="1209.8" y2="1459.7" stroke="#000" stroke-width="4.5" stroke-linecap="butt"/>
<line x1="1320.4" y1="1470.2" x2="1320.4" y2="1459.7" stroke="#000" stroke-width="4.5" stroke-linecap="butt"/>
<path d="M878.2 1469.4 L879.3 1465.3 L880.4 1460.4 L881.5 1456.3 L882.6 1451.1 L883.7 1446.7 L884.8 1442.3 L885.9 1437.5 L887 1432.6 L888.1 1433.6 L889.3 1433.2 L890.4 1433.1 L891.5 1433.2 L892.6 1433.2 L893.7 1434.1 L894.8 1433.7 L895.9 1434.1 L897 1433.7 L898.1 1434 L899.2 1434 L900.3 1434 L901.4 1434.4 L902.5 1434.2 L903.6 1434.5 L904.7 1433.8 L905.8 1434.6 L906.9 1434.5 L908 1435.1 L909.2 1435.1 L910.3 1435 L911.4 1434.5 L912.5 1434.6 L913.6 1434.8 L914.7 1435.2 L915.8 1434.5 L916.9 1435.4 L918 1435.5 L919.1 1435.1 L920.2 1435.7 L921.3 1435.4 L922.4 1435.2 L923.5 1435.6 L924.6 1435.5 L925.7 1435.7 L926.8 1436 L927.9 1436.8 L929.1 1436.3 L930.2 1436 L931.3 1436.6 L932.4 1436.3 L933.5 1436.1 L934.6 1435.9 L935.7 1436.7 L936.8 1436.5 L937.9 1436.3 L939 1436.3 L940.1 1436.9 L941.2 1435.9 L942.3 1436.8 L943.4 1436.2 L944.5 1436.6 L945.6 1436.4 L946.7 1436.1 L947.8 1436.3 L949 1436.5 L950.1 1436.8 L951.2 1436.7 L952.3 1437 L953.4 1435.9 L954.5 1437 L955.6 1437.3 L956.7 1436 L957.8 1436.1 L958.9 1436.6 L960 1436.2 L961.1 1436.7 L962.2 1436.6 L963.3 1436.3 L964.4 1436.3 L965.5 1436.6 L966.6 1436 L967.7 1436.3 L968.9 1436.5 L970 1436.9 L971.1 1436.6 L972.2 1436.8 L973.3 1436.7 L974.4 1436.5 L975.5 1437 L976.6 1436.8 L977.7 1436.8 L978.8 1437 L979.9 1436.5 L981 1437.8 L982.1 1437.4 L983.2 1437.9 L984.3 1437.7 L985.4 1437 L986.5 1438.4 L987.6 1438.1 L988.8 1437.9 L989.9 1438.2 L991 1438.1 L992.1 1438.9 L993.2 1438.3 L994.3 1439 L995.4 1439.2 L996.5 1438.7 L997.6 1438.9 L998.7 1439.3 L999.8 1439.5 L1000.9 1439.3 L1002 1439.4 L1003.1 1439.5 L1004.2 1439.8 L1005.3 1440.2 L1006.4 1439.2 L1007.5 1439.6 L1008.6 1440 L1009.8 1440.2 L1010.9 1439.9 L1012 1439.8 L1013.1 1440.4 L1014.2 1439.3 L1015.3 1439.6 L1016.4 1439.8 L1017.5 1439.6 L1018.6 1439.6 L1019.7 1439.3 L1020.8 1439.6 L1021.9 1439.2 L1023 1439.1 L1024.1 1439.7 L1025.2 1439.7 L1026.3 1439.8 L1027.4 1439.6 L1028.5 1439.8 L1029.7 1439.5 L1030.8 1439.4 L1031.9 1439.4 L1033 1439.9 L1034.1 1439.2 L1035.2 1439.7 L1036.3 1439.6 L1037.4 1439.8 L1038.5 1440.3 L1039.6 1439.6 L1040.7 1440.3 L1041.8 1439.5 L1042.9 1439.8 L1044 1439.5 L1045.1 1439.8 L1046.2 1439.8 L1047.3 1439.7 L1048.4 1440.2 L1049.6 1439.8 L1050.7 1440.4 L1051.8 1440.4 L1052.9 1440.8 L1054 1440.5 L1055.1 1440.5 L1056.2 1441 L1057.3 1441.3 L1058.4 1441 L1059.5 1441 L1060.6 1441.2 L1061.7 1441.6 L1062.8 1441.6 L1063.9 1441.5 L1065 1442.3 L1066.1 1441.8 L1067.2 1441.2 L1068.3 1442.1 L1069.5 1441.9 L1070.6 1441.4 L1071.7 1441.7 L1072.8 1441.7 L1073.9 1442.1 L1075 1442.5 L1076.1 1441.3 L1077.2 1442.1 L1078.3 1442.2 L1079.4 1441.8 L1080.5 1442.2 L1081.6 1442.4 L1082.7 1442.8 L1083.8 1442.6 L1084.9 1442.7 L1086 1442.9 L1087.1 1443 L1088.2 1443.1 L1089.4 1442.9 L1090.5 1443.1 L1091.6 1442.8 L1092.7 1442.7 L1093.8 1443 L1094.9 1443.1 L1096 1442.7 L1097.1 1443.1 L1098.2 1443.8 L1099.3 1443.6 L1100.4 1443.4 L1101.5 1443.8 L1102.6 1443.4 L1103.7 1444.2 L1104.8 1444.3 L1105.9 1443.5 L1107 1443.6 L1108.1 1444.3 L1109.2 1443.9 L1110.4 1443.5 L1111.5 1444.3 L1112.6 1444.4 L1113.7 1444.4 L1114.8 1444.4 L1115.9 1444.7 L1117 1444.3 L1118.1 1444.6 L1119.2 1444.2 L1120.3 1443.6 L1121.4 1444.6 L1122.5 1444 L1123.6 1444 L1124.7 1445 L1125.8 1444.3 L1126.9 1444.4 L1128 1444.5 L1129.1 1444.2 L1130.3 1444.6 L1131.4 1444.3 L1132.5 1444.6 L1133.6 1444.5 L1134.7 1444.8 L1135.8 1443.9 L1136.9 1444.6 L1138 1444.9 L1139.1 1444 L1140.2 1444.2 L1141.3 1444.8 L1142.4 1445 L1143.5 1445 L1144.6 1448.6 L1145.7 1453.3 L1146.8 1457.7 L1147.9 1461.4 L1149 1466 L1150.2 1470.1 L1151.3 1469.6 L1152.4 1469.9 L1153.5 1469.8 L1154.6 1470.1 L1155.7 1469.8 L1156.8 1470.3 L1157.9 1470 L1159 1469.9 L1160.1 1470.4 L1161.2 1470.7 L1162.3 1470.1 L1163.4 1470.4 L1164.5 1470.1 L1165.6 1470.5 L1166.7 1470.2 L1167.8 1470 L1168.9 1469.6 L1170.1 1469.8 L1171.2 1470.2 L1172.3 1469.8 L1173.4 1470.4 L1174.5 1469.9 L1175.6 1470.2 L1176.7 1469.8 L1177.8 1470 L1178.9 1470.2 L1180 1470.3 L1181.1 1469.7 L1182.2 1470 L1183.3 1469.7 L1184.4 1469.8 L1185.5 1470.5 L1186.6 1469.6 L1187.7 1469.9 L1188.8 1469.6 L1190 1469.6 L1191.1 1470.2 L1192.2 1469.8 L1193.3 1469.7 L1194.4 1469.5 L1195.5 1469.3 L1196.6 1469.8 L1197.7 1469.6 L1198.8 1469.4 L1199.9 1470.1 L1201 1469 L1202.1 1469.9 L1203.2 1469.2 L1204.3 1469.6 L1205.4 1469.1 L1206.5 1469.3 L1207.6 1469.7 L1208.7 1470.2 L1209.8 1469.7 L1211 1469.7 L1212.1 1469.6 L1213.2 1470.2 L1214.3 1470.1 L1215.4 1470.2 L1216.5 1469.9 L1217.6 1470.3 L1218.7 1470.1 L1219.8 1469.8 L1220.9 1470.2 L1222 1469.7 L1223.1 1470 L1224.2 1470.2 L1225.3 1469.8 L1226.4 1470 L1227.5 1470.3 L1228.6 1470.4 L1229.7 1470.2 L1230.9 1470.1 L1232 1469.8 L1233.1 1470.1 L1234.2 1470.3 L1235.3 1470.5 L1236.4 1470 L1237.5 1470 L1238.6 1469.7 L1239.7 1470.2 L1240.8 1470.4 L1241.9 1469.8 L1243 1470 L1244.1 1470.3 L1245.2 1469.4 L1246.3 1469.7 L1247.4 1469.9 L1248.5 1469.8 L1249.6 1470.1 L1250.8 1469.6 L1251.9 1470 L1253 1470 L1254.1 1470 L1255.2 1470.2 L1256.3 1469.6 L1257.4 1469.4 L1258.5 1469.7 L1259.6 1470.6 L1260.7 1470.1 L1261.8 1470.3 L1262.9 1470 L1264 1470.8 L1265.1 1470.9 L1266.2 1470.4 L1267.3 1470.1 L1268.4 1470.5 L1269.5 1469.8 L1270.7 1470.8 L1271.8 1470.6 L1272.9 1470.7 L1274 1471 L1275.1 1470.5 L1276.2 1471.3 L1277.3 1471.3 L1278.4 1471.1 L1279.5 1471.2 L1280.6 1470.8 L1281.7 1471.3 L1282.8 1471 L1283.9 1471.3 L1285 1470.8 L1286.1 1471.3 L1287.2 1471.2 L1288.3 1471.8 L1289.4 1471.1 L1290.6 1471.5 L1291.7 1471 L1292.8 1471.1 L1293.9 1471 L1295 1470.8 L1296.1 1471 L1297.2 1471.4 L1298.3 1471 L1299.4 1471 L1300.5 1471.3 L1301.6 1470.7 L1302.7 1470.4 L1303.8 1470.7 L1304.9 1470.7 L1306 1470.5 L1307.1 1470.3 L1308.2 1470.7 L1309.3 1470.2 L1310.5 1470.6 L1311.6 1470.2 L1312.7 1470.1 L1313.8 1470.6 L1314.9 1470 L1316 1470.1 L1317.1 1470.6 L1318.2 1470.2 L1319.3 1470.2 L1320.4 1470.3" fill="none" stroke="#4472C4" stroke-width="4.5" stroke-linejoin="round" stroke-linecap="round"/>
<path d="M878.2 1469.7 L879.3 1467 L880.4 1463.6 L881.5 1460.2 L882.6 1456.9 L883.7 1454.3 L884.8 1450.3 L885.9 1447.8 L887 1444 L888.1 1445.1 L889.3 1445.2 L890.4 1445.5 L891.5 1445.2 L892.6 1444.5 L893.7 1445.5 L894.8 1444.9 L895.9 1445 L897 1445.6 L898.1 1445.2 L899.2 1445.2 L900.3 1445.8 L901.4 1445.9 L902.5 1445.5 L903.6 1445.7 L904.7 1445.2 L905.8 1445.8 L906.9 1446.3 L908 1446 L909.2 1446.4 L910.3 1445.8 L911.4 1445.9 L912.5 1446.2 L913.6 1446.4 L914.7 1445.8 L915.8 1446.2 L916.9 1445.7 L918 1446.4 L919.1 1446.2 L920.2 1446.3 L921.3 1446.5 L922.4 1445.3 L923.5 1445.6 L924.6 1446.4 L925.7 1445.9 L926.8 1446.8 L927.9 1445.8 L929.1 1445.9 L930.2 1446.4 L931.3 1446.4 L932.4 1446.2 L933.5 1446.2 L934.6 1446.5 L935.7 1446.7 L936.8 1446.6 L937.9 1446.7 L939 1446.4 L940.1 1446.6 L941.2 1446.6 L942.3 1447.3 L943.4 1447 L944.5 1447 L945.6 1447.1 L946.7 1447.1 L947.8 1447.2 L949 1447.6 L950.1 1446.9 L951.2 1446.9 L952.3 1447.4 L953.4 1447.1 L954.5 1447.7 L955.6 1447.8 L956.7 1447.5 L957.8 1447 L958.9 1447.5 L960 1448 L961.1 1447.5 L962.2 1447.8 L963.3 1447.8 L964.4 1447.5 L965.5 1448.2 L966.6 1448.3 L967.7 1448.2 L968.9 1447.4 L970 1447.8 L971.1 1448 L972.2 1448.1 L973.3 1447.7 L974.4 1447.5 L975.5 1448.2 L976.6 1447.9 L977.7 1447.3 L978.8 1447.9 L979.9 1448.3 L981 1448.1 L982.1 1448.2 L983.2 1448.1 L984.3 1448.3 L985.4 1448.6 L986.5 1448.5 L987.6 1448.4 L988.8 1448.8 L989.9 1448.6 L991 1449 L992.1 1448.3 L993.2 1448.3 L994.3 1449.1 L995.4 1448.6 L996.5 1448.8 L997.6 1448.9 L998.7 1449 L999.8 1448.9 L1000.9 1448.7 L1002 1449.4 L1003.1 1448.7 L1004.2 1449.1 L1005.3 1449.4 L1006.4 1449.1 L1007.5 1448.9 L1008.6 1449.1 L1009.8 1449 L1010.9 1449.2 L1012 1449.3 L1013.1 1448.8 L1014.2 1449.5 L1015.3 1448.9 L1016.4 1449.1 L1017.5 1449.3 L1018.6 1449.4 L1019.7 1449.4 L1020.8 1449.4 L1021.9 1449.4 L1023 1449.5 L1024.1 1450.1 L1025.2 1450.2 L1026.3 1449.5 L1027.4 1449.9 L1028.5 1449.9 L1029.7 1449.8 L1030.8 1450.2 L1031.9 1449.4 L1033 1450 L1034.1 1450.1 L1035.2 1450.4 L1036.3 1449.8 L1037.4 1449.9 L1038.5 1449.7 L1039.6 1449.9 L1040.7 1450.5 L1041.8 1450.6 L1042.9 1449.8 L1044 1450.5 L1045.1 1450.3 L1046.2 1450.3 L1047.3 1450.1 L1048.4 1450 L1049.6 1450.5 L1050.7 1450.4 L1051.8 1450.7 L1052.9 1450 L1054 1450.2 L1055.1 1450.6 L1056.2 1449.7 L1057.3 1450 L1058.4 1450.3 L1059.5 1450.1 L1060.6 1450.2 L1061.7 1450 L1062.8 1449.9 L1063.9 1450.2 L1065 1449.9 L1066.1 1450.9 L1067.2 1450.2 L1068.3 1449.9 L1069.5 1449.9 L1070.6 1450 L1071.7 1450.6 L1072.8 1450.9 L1073.9 1450.5 L1075 1449.8 L1076.1 1450.5 L1077.2 1450.9 L1078.3 1451.3 L1079.4 1450.8 L1080.5 1451.1 L1081.6 1450.9 L1082.7 1451 L1083.8 1451.9 L1084.9 1451.3 L1086 1451.1 L1087.1 1451.6 L1088.2 1451.9 L1089.4 1451.9 L1090.5 1452 L1091.6 1451 L1092.7 1451.3 L1093.8 1452 L1094.9 1451.4 L1096 1452.2 L1097.1 1452 L1098.2 1452.1 L1099.3 1451.9 L1100.4 1451.7 L1101.5 1451.3 L1102.6 1451.7 L1103.7 1451.9 L1104.8 1451.8 L1105.9 1452 L1107 1451.8 L1108.1 1452.1 L1109.2 1451.8 L1110.4 1451.7 L1111.5 1451.6 L1112.6 1452.1 L1113.7 1451.8 L1114.8 1451.8 L1115.9 1452.2 L1117 1452.6 L1118.1 1452.2 L1119.2 1451.7 L1120.3 1452.1 L1121.4 1451.4 L1122.5 1452 L1123.6 1452.4 L1124.7 1452.3 L1125.8 1452.1 L1126.9 1452.2 L1128 1452.5 L1129.1 1452.3 L1130.3 1451.6 L1131.4 1452.3 L1132.5 1452.6 L1133.6 1452.8 L1134.7 1453.3 L1135.8 1452.7 L1136.9 1453 L1138 1452.9 L1139.1 1453.1 L1140.2 1452.7 L1141.3 1452.7 L1142.4 1453.3 L1143.5 1453.5 L1144.6 1455.9 L1145.7 1458.4 L1146.8 1461.6 L1147.9 1464.4 L1149 1467.9 L1150.2 1470.5 L1151.3 1470.1 L1152.4 1470.2 L1153.5 1470.3 L1154.6 1470.2 L1155.7 1470.1 L1156.8 1470.3 L1157.9 1470.6 L1159 1470.8 L1160.1 1470.4 L1161.2 1470.5 L1162.3 1470.6 L1163.4 1470.2 L1164.5 1470.8 L1165.6 1470.7 L1166.7 1470.4 L1167.8 1470.9 L1168.9 1471.4 L1170.1 1470.9 L1171.2 1470.5 L1172.3 1471 L1173.4 1470.9 L1174.5 1471.4 L1175.6 1470.5 L1176.7 1471.4 L1177.8 1471 L1178.9 1470.9 L1180 1470.2 L1181.1 1470.7 L1182.2 1471 L1183.3 1471.2 L1184.4 1470.8 L1185.5 1471 L1186.6 1470.7 L1187.7 1470.5 L1188.8 1470 L1190 1470.7 L1191.1 1469.8 L1192.2 1470.8 L1193.3 1469.5 L1194.4 1470.2 L1195.5 1470 L1196.6 1470 L1197.7 1469.7 L1198.8 1469.7 L1199.9 1469.7 L1201 1469.8 L1202.1 1469.7 L1203.2 1469.4 L1204.3 1469.6 L1205.4 1469.6 L1206.5 1469.8 L1207.6 1469.4 L1208.7 1469.2 L1209.8 1469.7 L1211 1469.1 L1212.1 1469.5 L1213.2 1469.5 L1214.3 1470.1 L1215.4 1469.4 L1216.5 1469.3 L1217.6 1469.2 L1218.7 1470 L1219.8 1469.9 L1220.9 1469.8 L1222 1469.9 L1223.1 1470.4 L1224.2 1470.2 L1225.3 1470 L1226.4 1470.2 L1227.5 1470.5 L1228.6 1470.2 L1229.7 1471 L1230.9 1470.5 L1232 1470.9 L1233.1 1470.8 L1234.2 1470.5 L1235.3 1470.2 L1236.4 1470.6 L1237.5 1470.7 L1238.6 1470.2 L1239.7 1470.4 L1240.8 1471.3 L1241.9 1470.8 L1243 1470.7 L1244.1 1470.7 L1245.2 1470.9 L1246.3 1470.2 L1247.4 1470.2 L1248.5 1469.7 L1249.6 1470.2 L1250.8 1470 L1251.9 1470.2 L1253 1469.6 L1254.1 1469.5 L1255.2 1469.3 L1256.3 1469.5 L1257.4 1469.9 L1258.5 1469.3 L1259.6 1469.9 L1260.7 1469.8 L1261.8 1469.7 L1262.9 1469 L1264 1469.8 L1265.1 1469.9 L1266.2 1469.5 L1267.3 1469.2 L1268.4 1469.4 L1269.5 1469.5 L1270.7 1469.9 L1271.8 1469.8 L1272.9 1469.3 L1274 1469.7 L1275.1 1470 L1276.2 1469.9 L1277.3 1469.4 L1278.4 1469.4 L1279.5 1469.8 L1280.6 1470.2 L1281.7 1469.5 L1282.8 1470.2 L1283.9 1470.1 L1285 1470 L1286.1 1470.2 L1287.2 1470.3 L1288.3 1469.7 L1289.4 1470.2 L1290.6 1470.7 L1291.7 1470.5 L1292.8 1470 L1293.9 1470.5 L1295 1470.7 L1296.1 1470.2 L1297.2 1470.3 L1298.3 1470.5 L1299.4 1470.4 L1300.5 1470.7 L1301.6 1470.6 L1302.7 1470.5 L1303.8 1470.9 L1304.9 1470.3 L1306 1471.1 L1307.1 1470.2 L1308.2 1470.8 L1309.3 1470.7 L1310.5 1471.2 L1311.6 1470.6 L1312.7 1471.1 L1313.8 1470.8 L1314.9 1470.9 L1316 1471.2 L1317.1 1470.4 L1318.2 1470.8 L1319.3 1471 L1320.4 1471" fill="none" stroke="#ED7D31" stroke-width="4.5" stroke-linejoin="round" stroke-linecap="round"/>
<path d="M878.2 1470.1 L879.3 1469.1 L880.4 1468.3 L881.5 1467.8 L882.6 1466.8 L883.7 1466 L884.8 1464.7 L885.9 1464.1 L887 1463.2 L888.1 1463.5 L889.3 1463.6 L890.4 1463.4 L891.5 1463.3 L892.6 1463.2 L893.7 1463.7 L894.8 1463.3 L895.9 1463.6 L897 1463.6 L898.1 1463.6 L899.2 1463.7 L900.3 1463.5 L901.4 1463.5 L902.5 1463.7 L903.6 1464 L904.7 1463.8 L905.8 1463.9 L906.9 1463.8 L908 1464 L909.2 1464.5 L910.3 1464.4 L911.4 1464.3 L912.5 1464.1 L913.6 1464.4 L914.7 1464.1 L915.8 1464.3 L916.9 1464.7 L918 1464.4 L919.1 1464.3 L920.2 1464.3 L921.3 1464.8 L922.4 1464.3 L923.5 1464.5 L924.6 1464.9 L925.7 1464.5 L926.8 1464.8 L927.9 1464.6 L929.1 1463.9 L930.2 1463.6 L931.3 1463.9 L932.4 1464 L933.5 1463.6 L934.6 1463.9 L935.7 1464.2 L936.8 1464.5 L937.9 1463.7 L939 1464.4 L940.1 1464.5 L941.2 1464 L942.3 1463.8 L943.4 1464 L944.5 1463.5 L945.6 1463.8 L946.7 1463.7 L947.8 1463.6 L949 1463.9 L950.1 1463.7 L951.2 1463.2 L952.3 1464 L953.4 1463.8 L954.5 1463.7 L955.6 1464 L956.7 1463.9 L957.8 1464.4 L958.9 1464.1 L960 1464 L961.1 1463.8 L962.2 1463.8 L963.3 1464.2 L964.4 1464.4 L965.5 1463.7 L966.6 1463.9 L967.7 1464.6 L968.9 1464.3 L970 1464.4 L971.1 1464.3 L972.2 1464.6 L973.3 1464.3 L974.4 1464.3 L975.5 1464.3 L976.6 1464 L977.7 1464.2 L978.8 1464.5 L979.9 1464.6 L981 1464.3 L982.1 1463.9 L983.2 1464 L984.3 1464.4 L985.4 1463.9 L986.5 1464.1 L987.6 1464.4 L988.8 1464.2 L989.9 1464.3 L991 1464.6 L992.1 1464.5 L993.2 1464.4 L994.3 1464.1 L995.4 1464.7 L996.5 1464.5 L997.6 1464.6 L998.7 1464.6 L999.8 1465 L1000.9 1464.4 L1002 1464.5 L1003.1 1464.5 L1004.2 1464.8 L1005.3 1464.6 L1006.4 1464.9 L1007.5 1464.8 L1008.6 1465.2 L1009.8 1465.1 L1010.9 1465.3 L1012 1465.5 L1013.1 1465.4 L1014.2 1465.5 L1015.3 1465.5 L1016.4 1465.4 L1017.5 1465.4 L1018.6 1464.8 L1019.7 1464.8 L1020.8 1465 L1021.9 1465 L1023 1465.4 L1024.1 1465.1 L1025.2 1465.5 L1026.3 1465.2 L1027.4 1465.1 L1028.5 1465 L1029.7 1464.7 L1030.8 1465 L1031.9 1464.2 L1033 1464.9 L1034.1 1464.5 L1035.2 1465 L1036.3 1464.4 L1037.4 1464.9 L1038.5 1464.5 L1039.6 1464.5 L1040.7 1464.3 L1041.8 1464.3 L1042.9 1464.3 L1044 1464.5 L1045.1 1464 L1046.2 1464.6 L1047.3 1464.5 L1048.4 1464.6 L1049.6 1464.5 L1050.7 1464.8 L1051.8 1464.7 L1052.9 1464.5 L1054 1464.8 L1055.1 1464.6 L1056.2 1464.9 L1057.3 1464.4 L1058.4 1464.9 L1059.5 1464.5 L1060.6 1464.8 L1061.7 1465 L1062.8 1464.8 L1063.9 1464.8 L1065 1464.7 L1066.1 1464.8 L1067.2 1465 L1068.3 1465.5 L1069.5 1465 L1070.6 1465.3 L1071.7 1465.2 L1072.8 1465 L1073.9 1465.5 L1075 1465 L1076.1 1464.8 L1077.2 1465.3 L1078.3 1465.5 L1079.4 1465.1 L1080.5 1465.4 L1081.6 1465.2 L1082.7 1465.1 L1083.8 1465.8 L1084.9 1465.4 L1086 1465.9 L1087.1 1465.7 L1088.2 1465.4 L1089.4 1465.9 L1090.5 1465.8 L1091.6 1465.7 L1092.7 1465.6 L1093.8 1465.6 L1094.9 1465.6 L1096 1465.9 L1097.1 1466 L1098.2 1465.8 L1099.3 1466.1 L1100.4 1466.2 L1101.5 1465.8 L1102.6 1466.2 L1103.7 1466.3 L1104.8 1465.9 L1105.9 1466.2 L1107 1466.8 L1108.1 1466.5 L1109.2 1465.8 L1110.4 1465.6 L1111.5 1466.4 L1112.6 1466.2 L1113.7 1466.2 L1114.8 1466.3 L1115.9 1466.8 L1117 1466.2 L1118.1 1466.3 L1119.2 1466.4 L1120.3 1466.8 L1121.4 1466.5 L1122.5 1466.3 L1123.6 1466.3 L1124.7 1466.2 L1125.8 1466.3 L1126.9 1465.9 L1128 1466 L1129.1 1466.3 L1130.3 1466.2 L1131.4 1465.9 L1132.5 1466.1 L1133.6 1465.6 L1134.7 1466 L1135.8 1465.8 L1136.9 1465.7 L1138 1466.1 L1139.1 1465.5 L1140.2 1465.8 L1141.3 1466 L1142.4 1466 L1143.5 1466.2 L1144.6 1466.6 L1145.7 1466.4 L1146.8 1467.3 L1147.9 1467.9 L1149 1468.3 L1150.2 1468.7 L1151.3 1469.1 L1152.4 1469 L1153.5 1468.9 L1154.6 1468.8 L1155.7 1469 L1156.8 1468.7 L1157.9 1469.3 L1159 1469.3 L1160.1 1469.6 L1161.2 1469.3 L1162.3 1469.2 L1163.4 1469.5 L1164.5 1469.5 L1165.6 1469.7 L1166.7 1469.6 L1167.8 1469.6 L1168.9 1469.6 L1170.1 1469.3 L1171.2 1469.4 L1172.3 1469.3 L1173.4 1469.3 L1174.5 1469.7 L1175.6 1469.2 L1176.7 1469.5 L1177.8 1469.9 L1178.9 1469.7 L1180 1469.5 L1181.1 1469.9 L1182.2 1468.9 L1183.3 1469.5 L1184.4 1469.3 L1185.5 1469.8 L1186.6 1469.4 L1187.7 1469.4 L1188.8 1469.6 L1190 1469.4 L1191.1 1469.5 L1192.2 1469.4 L1193.3 1469.8 L1194.4 1469.4 L1195.5 1469.6 L1196.6 1469.7 L1197.7 1470.1 L1198.8 1469.6 L1199.9 1469.7 L1201 1469 L1202.1 1469.9 L1203.2 1469.3 L1204.3 1469.4 L1205.4 1469.6 L1206.5 1469.7 L1207.6 1469.7 L1208.7 1470.2 L1209.8 1469.5 L1211 1469.9 L1212.1 1470 L1213.2 1469.8 L1214.3 1470.5 L1215.4 1470.1 L1216.5 1470.1 L1217.6 1470.2 L1218.7 1469.6 L1219.8 1469.3 L1220.9 1469.7 L1222 1469.7 L1223.1 1469.5 L1224.2 1469.7 L1225.3 1469.5 L1226.4 1469.3 L1227.5 1469.4 L1228.6 1469.4 L1229.7 1469.3 L1230.9 1469.2 L1232 1469 L1233.1 1469.5 L1234.2 1469.4 L1235.3 1469.2 L1236.4 1468.9 L1237.5 1469.3 L1238.6 1468.6 L1239.7 1468.6 L1240.8 1469.1 L1241.9 1468.6 L1243 1469.4 L1244.1 1468.9 L1245.2 1469.3 L1246.3 1468.6 L1247.4 1468.7 L1248.5 1468.8 L1249.6 1469.1 L1250.8 1469.2 L1251.9 1468.9 L1253 1469.2 L1254.1 1468.9 L1255.2 1469.5 L1256.3 1469 L1257.4 1469 L1258.5 1469.7 L1259.6 1469.5 L1260.7 1469.4 L1261.8 1469.4 L1262.9 1469.7 L1264 1469.3 L1265.1 1469.6 L1266.2 1469.3 L1267.3 1469.8 L1268.4 1469.6 L1269.5 1469.1 L1270.7 1469.7 L1271.8 1469.3 L1272.9 1468.9 L1274 1469.1 L1275.1 1469.6 L1276.2 1468.7 L1277.3 1469.3 L1278.4 1468.9 L1279.5 1468.9 L1280.6 1469.2 L1281.7 1468.9 L1282.8 1469.7 L1283.9 1469 L1285 1469 L1286.1 1469.1 L1287.2 1469 L1288.3 1468.7 L1289.4 1468.8 L1290.6 1469.2 L1291.7 1468.8 L1292.8 1468.7 L1293.9 1469 L1295 1469 L1296.1 1469.7 L1297.2 1469.5 L1298.3 1469 L1299.4 1469.5 L1300.5 1469 L1301.6 1468.9 L1302.7 1469.5 L1303.8 1469.5 L1304.9 1469.3 L1306 1469.3 L1307.1 1469.1 L1308.2 1469.4 L1309.3 1469.4 L1310.5 1469.6 L1311.6 1469.3 L1312.7 1469.6 L1313.8 1469.1 L1314.9 1469.2 L1316 1469.8 L1317.1 1469.3 L1318.2 1469.6 L1319.3 1469 L1320.4 1469.5" fill="none" stroke="#A5A5A5" stroke-width="4.5" stroke-linejoin="round" stroke-linecap="round"/>
<path d="M878.2 1469.4 L879.3 1469.6 L880.4 1469.5 L881.5 1469 L882.6 1469.1 L883.7 1469.2 L884.8 1469.3 L885.9 1469.4 L887 1469.4 L888.1 1469.2 L889.3 1469.5 L890.4 1469.3 L891.5 1468.9 L892.6 1469.5 L893.7 1469.4 L894.8 1468.9 L895.9 1469.1 L897 1469.2 L898.1 1469.3 L899.2 1469.4 L900.3 1468.9 L901.4 1469.6 L902.5 1469 L903.6 1469.2 L904.7 1469.1 L905.8 1469.5 L906.9 1468.9 L908 1468.9 L909.2 1468.9 L910.3 1468.9 L911.4 1469.2 L912.5 1468.9 L913.6 1468.9 L914.7 1469 L915.8 1469.6 L916.9 1469 L918 1468.9 L919.1 1469.2 L920.2 1468.9 L921.3 1468.7 L922.4 1469 L923.5 1468.7 L924.6 1469.1 L925.7 1469.2 L926.8 1469 L927.9 1469.3 L929.1 1469.5 L930.2 1469.1 L931.3 1469.2 L932.4 1469.2 L933.5 1469.5 L934.6 1469.4 L935.7 1469.3 L936.8 1469.5 L937.9 1469.5 L939 1469.5 L940.1 1469.7 L941.2 1469.5 L942.3 1469.9 L943.4 1469.5 L944.5 1469.1 L945.6 1469.5 L946.7 1469.8 L947.8 1470 L949 1469.9 L950.1 1469.7 L951.2 1469.8 L952.3 1469.5 L953.4 1469.6 L954.5 1469.4 L955.6 1469.6 L956.7 1469.3 L957.8 1469.2 L958.9 1469.6 L960 1469.4 L961.1 1469.3 L962.2 1469.3 L963.3 1469 L964.4 1469.2 L965.5 1469.3 L966.6 1469.4 L967.7 1469.3 L968.9 1469 L970 1468.8 L971.1 1469 L972.2 1469.1 L973.3 1469 L974.4 1469.1 L975.5 1468.7 L976.6 1468.9 L977.7 1468.6 L978.8 1468.8 L979.9 1468.8 L981 1469.1 L982.1 1468.9 L983.2 1469.1 L984.3 1469.1 L985.4 1469 L986.5 1468.7 L987.6 1469 L988.8 1468.7 L989.9 1469 L991 1469.4 L992.1 1469.3 L993.2 1468.8 L994.3 1469.1 L995.4 1469.2 L996.5 1469.3 L997.6 1469.2 L998.7 1469.1 L999.8 1469.3 L1000.9 1469.2 L1002 1469.1 L1003.1 1469.3 L1004.2 1469.1 L1005.3 1469.2 L1006.4 1469.2 L1007.5 1469.2 L1008.6 1469.1 L1009.8 1469.1 L1010.9 1468.5 L1012 1468.9 L1013.1 1468.7 L1014.2 1468.9 L1015.3 1468.7 L1016.4 1468.6 L1017.5 1468.3 L1018.6 1468.3 L1019.7 1468.7 L1020.8 1468.2 L1021.9 1468.6 L1023 1468.3 L1024.1 1468.6 L1025.2 1468.4 L1026.3 1468.6 L1027.4 1468.8 L1028.5 1468.5 L1029.7 1468.7 L1030.8 1468.6 L1031.9 1468.6 L1033 1468.6 L1034.1 1468.2 L1035.2 1468.9 L1036.3 1468.9 L1037.4 1469 L1038.5 1468.6 L1039.6 1468.9 L1040.7 1469 L1041.8 1468.8 L1042.9 1468.9 L1044 1468.9 L1045.1 1469.3 L1046.2 1469 L1047.3 1468.9 L1048.4 1469.2 L1049.6 1468.8 L1050.7 1469.1 L1051.8 1469.2 L1052.9 1469.2 L1054 1469 L1055.1 1468.9 L1056.2 1469.2 L1057.3 1469 L1058.4 1469.2 L1059.5 1469.3 L1060.6 1469.3 L1061.7 1469 L1062.8 1469.2 L1063.9 1469.1 L1065 1468.8 L1066.1 1468.9 L1067.2 1469.2 L1068.3 1469.1 L1069.5 1469 L1070.6 1469.5 L1071.7 1469 L1072.8 1469.2 L1073.9 1468.9 L1075 1469.2 L1076.1 1469.1 L1077.2 1468.9 L1078.3 1468.9 L1079.4 1468.7 L1080.5 1469.1 L1081.6 1469.1 L1082.7 1468.7 L1083.8 1468.9 L1084.9 1469.2 L1086 1469 L1087.1 1468.8 L1088.2 1469 L1089.4 1469.2 L1090.5 1468.8 L1091.6 1468.7 L1092.7 1468.6 L1093.8 1468.6 L1094.9 1468.6 L1096 1468.9 L1097.1 1468.9 L1098.2 1468.9 L1099.3 1468.6 L1100.4 1468.5 L1101.5 1469 L1102.6 1468.5 L1103.7 1468.4 L1104.8 1468.3 L1105.9 1468.5 L1107 1468.4 L1108.1 1468.6 L1109.2 1468.7 L1110.4 1468.7 L1111.5 1468.7 L1112.6 1469 L1113.7 1468.8 L1114.8 1468.6 L1115.9 1468.9 L1117 1468.7 L1118.1 1469.2 L1119.2 1469 L1120.3 1469.3 L1121.4 1469 L1122.5 1469.1 L1123.6 1469.1 L1124.7 1469.2 L1125.8 1469.3 L1126.9 1469.2 L1128 1469.4 L1129.1 1470 L1130.3 1469.5 L1131.4 1469.5 L1132.5 1470.1 L1133.6 1469.4 L1134.7 1469.7 L1135.8 1469.5 L1136.9 1469.7 L1138 1469.6 L1139.1 1469.8 L1140.2 1469.7 L1141.3 1469.9 L1142.4 1469.5 L1143.5 1469.6 L1144.6 1469.7 L1145.7 1469.6 L1146.8 1469.6 L1147.9 1469.4 L1149 1469.4 L1150.2 1469.4 L1151.3 1469 L1152.4 1469.5 L1153.5 1469.3 L1154.6 1469.5 L1155.7 1469.2 L1156.8 1469.2 L1157.9 1469.5 L1159 1469.1 L1160.1 1469.5 L1161.2 1469.2 L1162.3 1469.2 L1163.4 1469.4 L1164.5 1468.9 L1165.6 1469.1 L1166.7 1469.4 L1167.8 1469.1 L1168.9 1469.1 L1170.1 1469.4 L1171.2 1469.4 L1172.3 1469.1 L1173.4 1468.9 L1174.5 1469.3 L1175.6 1469 L1176.7 1469.7 L1177.8 1469.8 L1178.9 1469.4 L1180 1469.6 L1181.1 1469.4 L1182.2 1469.1 L1183.3 1469.7 L1184.4 1469.4 L1185.5 1469.5 L1186.6 1469.7 L1187.7 1469.5 L1188.8 1469.7 L1190 1469.5 L1191.1 1469.1 L1192.2 1469.2 L1193.3 1469.2 L1194.4 1469.3 L1195.5 1469.4 L1196.6 1468.9 L1197.7 1469.2 L1198.8 1469.1 L1199.9 1469 L1201 1469.2 L1202.1 1469 L1203.2 1469.1 L1204.3 1469 L1205.4 1468.9 L1206.5 1469.3 L1207.6 1469 L1208.7 1469.1 L1209.8 1469 L1211 1468.9 L1212.1 1468.7 L1213.2 1469.4 L1214.3 1468.6 L1215.4 1469.1 L1216.5 1469.1 L1217.6 1469.1 L1218.7 1469 L1219.8 1469 L1220.9 1469.4 L1222 1469.4 L1223.1 1468.9 L1224.2 1469.1 L1225.3 1469.5 L1226.4 1469.2 L1227.5 1469.2 L1228.6 1468.9 L1229.7 1469.3 L1230.9 1469.3 L1232 1469.3 L1233.1 1469.1 L1234.2 1469.1 L1235.3 1469.1 L1236.4 1468.9 L1237.5 1469.2 L1238.6 1468.9 L1239.7 1469.2 L1240.8 1469.1 L1241.9 1469 L1243 1468.9 L1244.1 1469.4 L1245.2 1468.8 L1246.3 1469.6 L1247.4 1469.2 L1248.5 1469.3 L1249.6 1469.2 L1250.8 1468.9 L1251.9 1469.5 L1253 1469.4 L1254.1 1469 L1255.2 1468.9 L1256.3 1469.4 L1257.4 1469.3 L1258.5 1469.1 L1259.6 1469.1 L1260.7 1469.5 L1261.8 1469.2 L1262.9 1469.3 L1264 1469.4 L1265.1 1469.2 L1266.2 1469.3 L1267.3 1469.4 L1268.4 1468.7 L1269.5 1469.2 L1270.7 1469.3 L1271.8 1468.7 L1272.9 1469.1 L1274 1469 L1275.1 1469.4 L1276.2 1469.2 L1277.3 1468.6 L1278.4 1469 L1279.5 1468.8 L1280.6 1468.7 L1281.7 1468.6 L1282.8 1468.2 L1283.9 1468.9 L1285 1468.8 L1286.1 1468.2 L1287.2 1468.3 L1288.3 1468.3 L1289.4 1468.1 L1290.6 1468.4 L1291.7 1468.2 L1292.8 1468.1 L1293.9 1468.1 L1295 1468.3 L1296.1 1468.6 L1297.2 1468.5 L1298.3 1468.4 L1299.4 1468.5 L1300.5 1468.2 L1301.6 1468.7 L1302.7 1468.4 L1303.8 1468.7 L1304.9 1468.6 L1306 1468.4 L1307.1 1468.5 L1308.2 1468.9 L1309.3 1468.8 L1310.5 1468.7 L1311.6 1468.9 L1312.7 1468.8 L1313.8 1468.8 L1314.9 1469.2 L1316 1469 L1317.1 1468.8 L1318.2 1469.1 L1319.3 1469.4 L1320.4 1469" fill="none" stroke="#FFC000" stroke-width="4.5" stroke-linejoin="round" stroke-linecap="round"/>
<path d="M878.2 1468.1 L879.3 1468.3 L880.4 1468.3 L881.5 1467.8 L882.6 1467.4 L883.7 1467.5 L884.8 1468.1 L885.9 1468.1 L887 1468.2 L888.1 1468.1 L889.3 1467.8 L890.4 1467.7 L891.5 1467.9 L892.6 1467.7 L893.7 1468.1 L894.8 1467.8 L895.9 1467.2 L897 1467.2 L898.1 1467.4 L899.2 1467.5 L900.3 1467.4 L901.4 1467.7 L902.5 1467.8 L903.6 1467.3 L904.7 1467.7 L905.8 1467.2 L906.9 1467.7 L908 1467.3 L909.2 1466.8 L910.3 1467.1 L911.4 1467.3 L912.5 1467.1 L913.6 1467.7 L914.7 1466.9 L915.8 1467.4 L916.9 1467.4 L918 1467.4 L919.1 1467.1 L920.2 1467.4 L921.3 1467.4 L922.4 1467 L923.5 1467.1 L924.6 1466.8 L925.7 1466.9 L926.8 1466.8 L927.9 1467.5 L929.1 1467.2 L930.2 1467 L931.3 1466.9 L932.4 1467.3 L933.5 1467.1 L934.6 1466.9 L935.7 1467.6 L936.8 1467.6 L937.9 1467.6 L939 1467.3 L940.1 1467.7 L941.2 1467.4 L942.3 1467.5 L943.4 1467.7 L944.5 1468 L945.6 1466.7 L946.7 1467 L947.8 1467.1 L949 1467.9 L950.1 1467.2 L951.2 1467.6 L952.3 1467.9 L953.4 1467.7 L954.5 1467.6 L955.6 1467 L956.7 1467.4 L957.8 1467.5 L958.9 1467.3 L960 1467.3 L961.1 1467.8 L962.2 1467.1 L963.3 1467.4 L964.4 1467.1 L965.5 1466.9 L966.6 1467.5 L967.7 1466.6 L968.9 1467.4 L970 1467.4 L971.1 1467.9 L972.2 1466.8 L973.3 1467.3 L974.4 1467.4 L975.5 1467.3 L976.6 1467 L977.7 1466.8 L978.8 1466.9 L979.9 1467.1 L981 1467.2 L982.1 1467.6 L983.2 1467.2 L984.3 1466.8 L985.4 1467 L986.5 1466.3 L987.6 1466.6 L988.8 1466.9 L989.9 1466.6 L991 1466.7 L992.1 1467 L993.2 1466.8 L994.3 1467.2 L995.4 1466.8 L996.5 1466.4 L997.6 1466.8 L998.7 1466.2 L999.8 1466.7 L1000.9 1466.5 L1002 1466.5 L1003.1 1466.9 L1004.2 1467 L1005.3 1466.6 L1006.4 1466.5 L1007.5 1466.7 L1008.6 1466.8 L1009.8 1467.6 L1010.9 1467 L1012 1466.5 L1013.1 1466.5 L1014.2 1466.7 L1015.3 1467.1 L1016.4 1466.6 L1017.5 1467 L1018.6 1466.7 L1019.7 1466.6 L1020.8 1467.3 L1021.9 1467.2 L1023 1467 L1024.1 1467 L1025.2 1467.2 L1026.3 1467 L1027.4 1467 L1028.5 1467.5 L1029.7 1467.4 L1030.8 1467.1 L1031.9 1467.7 L1033 1467.6 L1034.1 1468.1 L1035.2 1467.8 L1036.3 1466.9 L1037.4 1466.9 L1038.5 1467.7 L1039.6 1467.1 L1040.7 1467.5 L1041.8 1467.5 L1042.9 1467.7 L1044 1467.3 L1045.1 1468.2 L1046.2 1467.3 L1047.3 1467.7 L1048.4 1467.7 L1049.6 1468.3 L1050.7 1467 L1051.8 1467.5 L1052.9 1467.7 L1054 1467.7 L1055.1 1467.5 L1056.2 1467.9 L1057.3 1467.6 L1058.4 1467.5 L1059.5 1467.9 L1060.6 1467.9 L1061.7 1467.3 L1062.8 1468 L1063.9 1467.9 L1065 1467.5 L1066.1 1467 L1067.2 1467.1 L1068.3 1467.9 L1069.5 1466.9 L1070.6 1468 L1071.7 1467.7 L1072.8 1467.4 L1073.9 1467.2 L1075 1467.2 L1076.1 1467.3 L1077.2 1468 L1078.3 1467.9 L1079.4 1467.4 L1080.5 1467.2 L1081.6 1467.3 L1082.7 1467.5 L1083.8 1467.2 L1084.9 1467 L1086 1468.2 L1087.1 1466.9 L1088.2 1466.7 L1089.4 1467 L1090.5 1467.4 L1091.6 1467.2 L1092.7 1467.2 L1093.8 1466.6 L1094.9 1467.1 L1096 1466.9 L1097.1 1466.9 L1098.2 1467.1 L1099.3 1467.4 L1100.4 1467.7 L1101.5 1467.4 L1102.6 1466.9 L1103.7 1466.9 L1104.8 1467.8 L1105.9 1467.3 L1107 1467.2 L1108.1 1467 L1109.2 1467.3 L1110.4 1467.3 L1111.5 1467.2 L1112.6 1467.1 L1113.7 1467.3 L1114.8 1467.5 L1115.9 1467.4 L1117 1467.3 L1118.1 1467.5 L1119.2 1467.4 L1120.3 1467.4 L1121.4 1467.8 L1122.5 1466.8 L1123.6 1467.4 L1124.7 1467.1 L1125.8 1466.8 L1126.9 1467.3 L1128 1467.7 L1129.1 1467.5 L1130.3 1467.7 L1131.4 1467.6 L1132.5 1467.3 L1133.6 1467.7 L1134.7 1467.3 L1135.8 1467.5 L1136.9 1467.1 L1138 1467.4 L1139.1 1467.3 L1140.2 1467.4 L1141.3 1467.7 L1142.4 1467.7 L1143.5 1467.9 L1144.6 1468 L1145.7 1467 L1146.8 1468 L1147.9 1467.3 L1149 1467.8 L1150.2 1468.1 L1151.3 1467.7 L1152.4 1467.5 L1153.5 1467.5 L1154.6 1467.4 L1155.7 1467.8 L1156.8 1467.7 L1157.9 1468 L1159 1468.1 L1160.1 1467.7 L1161.2 1467.6 L1162.3 1468 L1163.4 1467.9 L1164.5 1468.1 L1165.6 1468 L1166.7 1468.4 L1167.8 1468 L1168.9 1468 L1170.1 1468.1 L1171.2 1467.4 L1172.3 1468.3 L1173.4 1468 L1174.5 1467.9 L1175.6 1468.4 L1176.7 1467.9 L1177.8 1468.4 L1178.9 1468.1 L1180 1468.1 L1181.1 1467.8 L1182.2 1468.7 L1183.3 1467.7 L1184.4 1467.4 L1185.5 1468 L1186.6 1468.6 L1187.7 1468.2 L1188.8 1468.6 L1190 1468 L1191.1 1468.2 L1192.2 1468.6 L1193.3 1467.7 L1194.4 1468.3 L1195.5 1467.7 L1196.6 1468.3 L1197.7 1468.2 L1198.8 1468.5 L1199.9 1468 L1201 1468.1 L1202.1 1468.3 L1203.2 1467.5 L1204.3 1468 L1205.4 1467.3 L1206.5 1467.8 L1207.6 1468.4 L1208.7 1468.3 L1209.8 1467.7 L1211 1467.2 L1212.1 1467.7 L1213.2 1467.9 L1214.3 1467.8 L1215.4 1467.2 L1216.5 1467 L1217.6 1467.5 L1218.7 1467.7 L1219.8 1467.7 L1220.9 1467 L1222 1467.5 L1223.1 1467.2 L1224.2 1467.2 L1225.3 1466.5 L1226.4 1467.6 L1227.5 1467.3 L1228.6 1467.1 L1229.7 1466.5 L1230.9 1467 L1232 1466.5 L1233.1 1467 L1234.2 1467.3 L1235.3 1466.9 L1236.4 1466.2 L1237.5 1466.8 L1238.6 1466.9 L1239.7 1466.6 L1240.8 1466.8 L1241.9 1466.4 L1243 1466.4 L1244.1 1466.2 L1245.2 1466.3 L1246.3 1465.7 L1247.4 1467 L1248.5 1466.1 L1249.6 1467.5 L1250.8 1466.3 L1251.9 1466.7 L1253 1466.6 L1254.1 1466.7 L1255.2 1466.4 L1256.3 1466.7 L1257.4 1466.4 L1258.5 1466.7 L1259.6 1466.4 L1260.7 1466 L1261.8 1466.6 L1262.9 1466.7 L1264 1467.1 L1265.1 1466.8 L1266.2 1467 L1267.3 1467.2 L1268.4 1467.3 L1269.5 1466.4 L1270.7 1467.7 L1271.8 1467.6 L1272.9 1467.5 L1274 1467.3 L1275.1 1467.4 L1276.2 1467.2 L1277.3 1467.3 L1278.4 1467.4 L1279.5 1467.8 L1280.6 1467.7 L1281.7 1467.3 L1282.8 1467.3 L1283.9 1467.8 L1285 1467.5 L1286.1 1468 L1287.2 1468 L1288.3 1468.2 L1289.4 1467.5 L1290.6 1467.2 L1291.7 1467.8 L1292.8 1467.7 L1293.9 1467.6 L1295 1467.9 L1296.1 1468.5 L1297.2 1467.6 L1298.3 1467.8 L1299.4 1467.5 L1300.5 1467.9 L1301.6 1468 L1302.7 1467.2 L1303.8 1467.3 L1304.9 1467.6 L1306 1468.2 L1307.1 1468.1 L1308.2 1468.1 L1309.3 1467.7 L1310.5 1467.8 L1311.6 1467.8 L1312.7 1467.5 L1313.8 1468.1 L1314.9 1468.2 L1316 1467.6 L1317.1 1467.4 L1318.2 1467.5 L1319.3 1466.9 L1320.4 1467.6" fill="none" stroke="#FF66FF" stroke-width="4.5" stroke-linejoin="round" stroke-linecap="round"/>
<path d="M878.2 1469.8 L879.3 1469.9 L880.4 1469.7 L881.5 1469.7 L882.6 1469.7 L883.7 1470.1 L884.8 1470 L885.9 1469.7 L887 1469.5 L888.1 1469.8 L889.3 1469.9 L890.4 1469.7 L891.5 1469.9 L892.6 1469.9 L893.7 1469.7 L894.8 1469.9 L895.9 1470.1 L897 1470 L898.1 1469.8 L899.2 1470 L900.3 1469.9 L901.4 1470 L902.5 1469.9 L903.6 1470 L904.7 1469.8 L905.8 1470 L906.9 1470.1 L908 1469.9 L909.2 1469.9 L910.3 1469.9 L911.4 1470.1 L912.5 1470 L913.6 1469.8 L914.7 1469.9 L915.8 1470.1 L916.9 1469.8 L918 1469.9 L919.1 1470 L920.2 1470 L921.3 1470 L922.4 1469.9 L923.5 1470.3 L924.6 1470 L925.7 1470.1 L926.8 1469.9 L927.9 1470 L929.1 1470 L930.2 1469.9 L931.3 1469.8 L932.4 1469.7 L933.5 1470.1 L934.6 1469.7 L935.7 1469.9 L936.8 1470.1 L937.9 1469.7 L939 1470 L940.1 1470 L941.2 1469.8 L942.3 1469.9 L943.4 1469.8 L944.5 1469.7 L945.6 1469.8 L946.7 1470.1 L947.8 1469.8 L949 1469.9 L950.1 1469.9 L951.2 1469.9 L952.3 1469.7 L953.4 1469.7 L954.5 1469.7 L955.6 1469.6 L956.7 1469.7 L957.8 1469.8 L958.9 1469.6 L960 1469.7 L961.1 1469.7 L962.2 1469.7 L963.3 1469.7 L964.4 1469.8 L965.5 1469.9 L966.6 1469.9 L967.7 1470 L968.9 1469.7 L970 1469.9 L971.1 1470.3 L972.2 1470 L973.3 1470.2 L974.4 1470.2 L975.5 1470.2 L976.6 1470.1 L977.7 1470.1 L978.8 1470.2 L979.9 1470.3 L981 1470.2 L982.1 1470.5 L983.2 1470.5 L984.3 1470.4 L985.4 1470.1 L986.5 1470.3 L987.6 1470.4 L988.8 1470.3 L989.9 1470.3 L991 1470.1 L992.1 1470.1 L993.2 1470 L994.3 1470 L995.4 1469.9 L996.5 1469.9 L997.6 1470 L998.7 1469.8 L999.8 1469.9 L1000.9 1469.8 L1002 1469.6 L1003.1 1469.8 L1004.2 1469.6 L1005.3 1469.6 L1006.4 1469.6 L1007.5 1469.7 L1008.6 1469.6 L1009.8 1469.6 L1010.9 1469.7 L1012 1469.7 L1013.1 1469.8 L1014.2 1469.7 L1015.3 1469.3 L1016.4 1469.8 L1017.5 1469.5 L1018.6 1469.6 L1019.7 1469.6 L1020.8 1469.6 L1021.9 1469.8 L1023 1469.7 L1024.1 1469.8 L1025.2 1469.9 L1026.3 1469.9 L1027.4 1469.9 L1028.5 1470.2 L1029.7 1470 L1030.8 1470.1 L1031.9 1470.2 L1033 1470.1 L1034.1 1469.9 L1035.2 1470.1 L1036.3 1469.9 L1037.4 1470 L1038.5 1470.1 L1039.6 1470.2 L1040.7 1470.1 L1041.8 1470.1 L1042.9 1469.8 L1044 1470 L1045.1 1470 L1046.2 1470.1 L1047.3 1470.1 L1048.4 1470 L1049.6 1470 L1050.7 1469.9 L1051.8 1469.8 L1052.9 1469.9 L1054 1470 L1055.1 1469.7 L1056.2 1469.8 L1057.3 1469.8 L1058.4 1470 L1059.5 1469.8 L1060.6 1469.8 L1061.7 1469.8 L1062.8 1469.8 L1063.9 1469.8 L1065 1469.8 L1066.1 1469.5 L1067.2 1470.1 L1068.3 1469.9 L1069.5 1470.2 L1070.6 1469.9 L1071.7 1470 L1072.8 1470.1 L1073.9 1469.9 L1075 1470.1 L1076.1 1470.2 L1077.2 1470.1 L1078.3 1470.2 L1079.4 1470.3 L1080.5 1469.9 L1081.6 1470.2 L1082.7 1470.2 L1083.8 1470.4 L1084.9 1470 L1086 1470.1 L1087.1 1470.1 L1088.2 1470 L1089.4 1470.3 L1090.5 1470.2 L1091.6 1469.9 L1092.7 1470 L1093.8 1469.8 L1094.9 1470 L1096 1469.8 L1097.1 1469.7 L1098.2 1470 L1099.3 1469.9 L1100.4 1469.8 L1101.5 1469.8 L1102.6 1469.8 L1103.7 1469.7 L1104.8 1469.8 L1105.9 1469.8 L1107 1469.6 L1108.1 1469.7 L1109.2 1469.8 L1110.4 1469.7 L1111.5 1469.6 L1112.6 1469.6 L1113.7 1469.6 L1114.8 1469.6 L1115.9 1469.4 L1117 1469.7 L1118.1 1469.7 L1119.2 1469.6 L1120.3 1469.7 L1121.4 1469.8 L1122.5 1469.8 L1123.6 1469.8 L1124.7 1469.8 L1125.8 1469.8 L1126.9 1470 L1128 1470.2 L1129.1 1469.8 L1130.3 1470 L1131.4 1470 L1132.5 1470.1 L1133.6 1470.3 L1134.7 1470.2 L1135.8 1470.3 L1136.9 1470.2 L1138 1470.1 L1139.1 1470.2 L1140.2 1470.2 L1141.3 1470 L1142.4 1470.2 L1143.5 1470.1 L1144.6 1470.2 L1145.7 1470.4 L1146.8 1470.4 L1147.9 1470.1 L1149 1470.3 L1150.2 1470.1 L1151.3 1470.3 L1152.4 1470.4 L1153.5 1470.3 L1154.6 1470.2 L1155.7 1470.3 L1156.8 1470.1 L1157.9 1470.1 L1159 1470.1 L1160.1 1470.3 L1161.2 1469.9 L1162.3 1470.1 L1163.4 1470.2 L1164.5 1469.9 L1165.6 1470.1 L1166.7 1469.9 L1167.8 1470.1 L1168.9 1470 L1170.1 1469.8 L1171.2 1470 L1172.3 1469.9 L1173.4 1469.7 L1174.5 1469.8 L1175.6 1469.9 L1176.7 1469.6 L1177.8 1469.7 L1178.9 1469.5 L1180 1469.7 L1181.1 1469.6 L1182.2 1469.5 L1183.3 1469.8 L1184.4 1469.6 L1185.5 1469.5 L1186.6 1469.6 L1187.7 1469.4 L1188.8 1469.5 L1190 1469.6 L1191.1 1469.6 L1192.2 1469.6 L1193.3 1469.5 L1194.4 1469.6 L1195.5 1469.6 L1196.6 1469.7 L1197.7 1469.7 L1198.8 1469.5 L1199.9 1469.5 L1201 1469.7 L1202.1 1469.8 L1203.2 1469.9 L1204.3 1469.9 L1205.4 1470.1 L1206.5 1469.8 L1207.6 1470.1 L1208.7 1470.2 L1209.8 1470.3 L1211 1470.2 L1212.1 1470.2 L1213.2 1470.4 L1214.3 1470.3 L1215.4 1470.7 L1216.5 1470.4 L1217.6 1470.2 L1218.7 1470.3 L1219.8 1470.5 L1220.9 1470.3 L1222 1470.4 L1223.1 1470.5 L1224.2 1470.3 L1225.3 1470.4 L1226.4 1470 L1227.5 1470.1 L1228.6 1470.2 L1229.7 1470.1 L1230.9 1470.1 L1232 1470.2 L1233.1 1470.2 L1234.2 1470 L1235.3 1469.8 L1236.4 1469.9 L1237.5 1469.9 L1238.6 1470 L1239.7 1469.9 L1240.8 1469.5 L1241.9 1469.8 L1243 1469.9 L1244.1 1469.6 L1245.2 1469.4 L1246.3 1469.6 L1247.4 1469.6 L1248.5 1469.4 L1249.6 1469.7 L1250.8 1469.6 L1251.9 1469.5 L1253 1469.4 L1254.1 1469.7 L1255.2 1469.7 L1256.3 1469.7 L1257.4 1469.7 L1258.5 1470 L1259.6 1469.9 L1260.7 1469.9 L1261.8 1469.8 L1262.9 1470 L1264 1469.8 L1265.1 1469.9 L1266.2 1470 L1267.3 1470.1 L1268.4 1470.3 L1269.5 1470.1 L1270.7 1470.1 L1271.8 1470.2 L1272.9 1470.1 L1274 1470.2 L1275.1 1470.1 L1276.2 1470.1 L1277.3 1469.7 L1278.4 1470.1 L1279.5 1469.9 L1280.6 1469.9 L1281.7 1470 L1282.8 1470 L1283.9 1469.9 L1285 1469.8 L1286.1 1469.7 L1287.2 1469.7 L1288.3 1469.9 L1289.4 1469.9 L1290.6 1469.9 L1291.7 1469.7 L1292.8 1469.8 L1293.9 1469.6 L1295 1469.7 L1296.1 1469.9 L1297.2 1470 L1298.3 1469.9 L1299.4 1469.7 L1300.5 1469.7 L1301.6 1469.8 L1302.7 1469.8 L1303.8 1469.9 L1304.9 1470 L1306 1470 L1307.1 1469.9 L1308.2 1469.9 L1309.3 1469.8 L1310.5 1469.9 L1311.6 1469.9 L1312.7 1470.2 L1313.8 1470.1 L1314.9 1470.1 L1316 1470 L1317.1 1470.1 L1318.2 1470 L1319.3 1470 L1320.4 1470.2" fill="none" stroke="#264478" stroke-width="4.5" stroke-linejoin="round" stroke-linecap="round"/>
<path d="M878.2 1468.9 L879.3 1469.2 L880.4 1468.8 L881.5 1468.8 L882.6 1468.5 L883.7 1468.9 L884.8 1468.8 L885.9 1468.4 L887 1469 L888.1 1468.4 L889.3 1468.8 L890.4 1469 L891.5 1468.5 L892.6 1468.5 L893.7 1468.8 L894.8 1468.2 L895.9 1468.2 L897 1468.7 L898.1 1468.7 L899.2 1468.5 L900.3 1468.5 L901.4 1468.6 L902.5 1468.3 L903.6 1468.4 L904.7 1468.3 L905.8 1468.4 L906.9 1468.3 L908 1468.5 L909.2 1468.5 L910.3 1468.4 L911.4 1468.4 L912.5 1468 L913.6 1468.1 L914.7 1468.4 L915.8 1468.5 L916.9 1467.9 L918 1468.1 L919.1 1468 L920.2 1468.5 L921.3 1468.2 L922.4 1468 L923.5 1467.9 L924.6 1468.3 L925.7 1468.2 L926.8 1468.3 L927.9 1468.2 L929.1 1468.3 L930.2 1468.2 L931.3 1468.3 L932.4 1468 L933.5 1468.4 L934.6 1468.5 L935.7 1468.6 L936.8 1468.3 L937.9 1468.8 L939 1468.7 L940.1 1468.3 L941.2 1468 L942.3 1468.9 L943.4 1468.6 L944.5 1468.4 L945.6 1468.4 L946.7 1468 L947.8 1468.3 L949 1468.5 L950.1 1468.1 L951.2 1468.1 L952.3 1468.2 L953.4 1468.6 L954.5 1468.2 L955.6 1467.8 L956.7 1468.3 L957.8 1468.1 L958.9 1468.6 L960 1468.4 L961.1 1468.4 L962.2 1468 L963.3 1467.8 L964.4 1468.3 L965.5 1467.9 L966.6 1468 L967.7 1468.2 L968.9 1467.9 L970 1468.1 L971.1 1467.9 L972.2 1468.2 L973.3 1467.8 L974.4 1467.8 L975.5 1467.9 L976.6 1468.1 L977.7 1468.3 L978.8 1468.2 L979.9 1467.7 L981 1467.9 L982.1 1468 L983.2 1467.7 L984.3 1467.8 L985.4 1468.2 L986.5 1468 L987.6 1467.8 L988.8 1468 L989.9 1468.2 L991 1468.2 L992.1 1468.9 L993.2 1468.3 L994.3 1468.6 L995.4 1467.9 L996.5 1468 L997.6 1468.3 L998.7 1468.3 L999.8 1468.5 L1000.9 1468.3 L1002 1468.2 L1003.1 1468.2 L1004.2 1468 L1005.3 1468.2 L1006.4 1468.4 L1007.5 1468.3 L1008.6 1468.6 L1009.8 1468.7 L1010.9 1468.2 L1012 1468.9 L1013.1 1469 L1014.2 1468.9 L1015.3 1468.6 L1016.4 1469 L1017.5 1468.7 L1018.6 1468.3 L1019.7 1468.7 L1020.8 1468.5 L1021.9 1469.2 L1023 1468.9 L1024.1 1469.1 L1025.2 1468.6 L1026.3 1468.7 L1027.4 1468.4 L1028.5 1468.7 L1029.7 1468.6 L1030.8 1469.2 L1031.9 1468.8 L1033 1468.2 L1034.1 1469.1 L1035.2 1468.8 L1036.3 1468.7 L1037.4 1468.9 L1038.5 1468.8 L1039.6 1468.6 L1040.7 1468.7 L1041.8 1468.5 L1042.9 1468.7 L1044 1468.2 L1045.1 1469.1 L1046.2 1468.8 L1047.3 1468.6 L1048.4 1468.5 L1049.6 1468.6 L1050.7 1468.7 L1051.8 1468.8 L1052.9 1468.1 L1054 1468.6 L1055.1 1468.5 L1056.2 1469 L1057.3 1468.6 L1058.4 1468.3 L1059.5 1468.3 L1060.6 1468.4 L1061.7 1468.6 L1062.8 1468.1 L1063.9 1468 L1065 1468.6 L1066.1 1468.3 L1067.2 1468 L1068.3 1468.4 L1069.5 1468.2 L1070.6 1469 L1071.7 1468.9 L1072.8 1468.5 L1073.9 1468.3 L1075 1468.6 L1076.1 1468.3 L1077.2 1468.4 L1078.3 1468.3 L1079.4 1468.5 L1080.5 1468.3 L1081.6 1468.5 L1082.7 1468.6 L1083.8 1468.6 L1084.9 1468.5 L1086 1468.1 L1087.1 1468.3 L1088.2 1468.4 L1089.4 1469 L1090.5 1468.2 L1091.6 1468.2 L1092.7 1468.6 L1093.8 1468 L1094.9 1468.7 L1096 1468.5 L1097.1 1468.5 L1098.2 1468.5 L1099.3 1468.8 L1100.4 1468.5 L1101.5 1468.6 L1102.6 1468.6 L1103.7 1468.2 L1104.8 1468.3 L1105.9 1468.2 L1107 1468.9 L1108.1 1468.5 L1109.2 1468.3 L1110.4 1468.3 L1111.5 1468.3 L1112.6 1468.2 L1113.7 1468.6 L1114.8 1467.9 L1115.9 1468.2 L1117 1468.7 L1118.1 1468.3 L1119.2 1468.4 L1120.3 1468.3 L1121.4 1468.1 L1122.5 1468.3 L1123.6 1468.2 L1124.7 1468.3 L1125.8 1468.8 L1126.9 1468.8 L1128 1468.4 L1129.1 1468.3 L1130.3 1468.9 L1131.4 1468.6 L1132.5 1468.4 L1133.6 1468.8 L1134.7 1469 L1135.8 1468.9 L1136.9 1468.7 L1138 1468.7 L1139.1 1468.5 L1140.2 1469 L1141.3 1468.9 L1142.4 1468.8 L1143.5 1469 L1144.6 1468.8 L1145.7 1469.1 L1146.8 1468.8 L1147.9 1469.4 L1149 1468.4 L1150.2 1468.9 L1151.3 1468.3 L1152.4 1468.2 L1153.5 1468.4 L1154.6 1468.4 L1155.7 1467.9 L1156.8 1468 L1157.9 1467.9 L1159 1467.6 L1160.1 1467.4 L1161.2 1467.5 L1162.3 1467.9 L1163.4 1467.2 L1164.5 1467.1 L1165.6 1466.8 L1166.7 1467.3 L1167.8 1467.4 L1168.9 1466.8 L1170.1 1467 L1171.2 1466.9 L1172.3 1466.6 L1173.4 1467.2 L1174.5 1467.2 L1175.6 1466.9 L1176.7 1466.6 L1177.8 1467 L1178.9 1466.8 L1180 1466.8 L1181.1 1466.9 L1182.2 1466.9 L1183.3 1466.8 L1184.4 1467.2 L1185.5 1466.3 L1186.6 1466.6 L1187.7 1466.5 L1188.8 1466.9 L1190 1466.4 L1191.1 1466.4 L1192.2 1466.7 L1193.3 1466.8 L1194.4 1466.7 L1195.5 1466.6 L1196.6 1466.6 L1197.7 1466.4 L1198.8 1466.5 L1199.9 1466.5 L1201 1466.8 L1202.1 1466.7 L1203.2 1466.7 L1204.3 1466.4 L1205.4 1466.5 L1206.5 1466.8 L1207.6 1466.1 L1208.7 1466.4 L1209.8 1465.8 L1211 1466.6 L1212.1 1466.5 L1213.2 1466.6 L1214.3 1466.7 L1215.4 1466.6 L1216.5 1466.4 L1217.6 1466.6 L1218.7 1467 L1219.8 1466.5 L1220.9 1466.3 L1222 1466.1 L1223.1 1466.2 L1224.2 1466.5 L1225.3 1466.5 L1226.4 1466.4 L1227.5 1466.2 L1228.6 1466.4 L1229.7 1466.3 L1230.9 1466.7 L1232 1466.4 L1233.1 1465.6 L1234.2 1465.9 L1235.3 1466.3 L1236.4 1466.4 L1237.5 1466 L1238.6 1466.4 L1239.7 1465.9 L1240.8 1465.9 L1241.9 1466 L1243 1466 L1244.1 1465.7 L1245.2 1466.2 L1246.3 1466.2 L1247.4 1465.5 L1248.5 1466.1 L1249.6 1466 L1250.8 1465.6 L1251.9 1466.3 L1253 1466 L1254.1 1465.8 L1255.2 1465.6 L1256.3 1465.9 L1257.4 1465.4 L1258.5 1465.9 L1259.6 1466 L1260.7 1466.1 L1261.8 1465.8 L1262.9 1465.8 L1264 1465.9 L1265.1 1465.9 L1266.2 1465.8 L1267.3 1465.8 L1268.4 1466.1 L1269.5 1465.6 L1270.7 1466.1 L1271.8 1465.9 L1272.9 1466.2 L1274 1465.9 L1275.1 1466.2 L1276.2 1465.8 L1277.3 1465.7 L1278.4 1466.3 L1279.5 1466.1 L1280.6 1466 L1281.7 1466.4 L1282.8 1466.3 L1283.9 1466.4 L1285 1466.5 L1286.1 1465.9 L1287.2 1466.3 L1288.3 1466.4 L1289.4 1465.9 L1290.6 1466.4 L1291.7 1466.3 L1292.8 1466.1 L1293.9 1465.8 L1295 1466.6 L1296.1 1466.4 L1297.2 1465.9 L1298.3 1466.4 L1299.4 1466.3 L1300.5 1466.4 L1301.6 1466.1 L1302.7 1466 L1303.8 1466.2 L1304.9 1466.1 L1306 1466.4 L1307.1 1466.4 L1308.2 1466.2 L1309.3 1465.7 L1310.5 1465.9 L1311.6 1466.3 L1312.7 1465.5 L1313.8 1465.7 L1314.9 1465.9 L1316 1465.7 L1317.1 1465.6 L1318.2 1465.6 L1319.3 1465.7 L1320.4 1465.5" fill="none" stroke="#70AD47" stroke-width="4.5" stroke-linejoin="round" stroke-linecap="round"/>
<text x="833.7" y="1480.4" font-size="33.5" font-weight="bold" fill="#000">0</text>
<text x="805.4" y="1425.1" font-size="33.5" font-weight="bold" fill="#000">0.1</text>
<text x="805.8" y="1369.8" font-size="33.5" font-weight="bold" fill="#000">0.2</text>
<text x="805.6" y="1314.5" font-size="33.5" font-weight="bold" fill="#000">0.3</text>
<text x="804.6" y="1259.2" font-size="33.5" font-weight="bold" fill="#000">0.4</text>
<text x="805.4" y="1203.9" font-size="33.5" font-weight="bold" fill="#000">0.5</text>
<text x="868.6" y="1521.8" font-size="34.5" fill="#000">0</text>
<text x="969.4" y="1521.8" font-size="34.5" fill="#000">25</text>
<text x="1080.1" y="1521.8" font-size="34.5" fill="#000">50</text>
<text x="1190.5" y="1521.8" font-size="34.5" fill="#000">75</text>
<text x="1291" y="1521.8" font-size="34.5" fill="#000">100</text>
<text x="1020" y="1547.2" font-size="31.5" fill="#000">Time (sec)</text>
<text transform="translate(788.5,1309.3) rotate(-90)" x="-108" y="0" font-size="31.5">Response (nm)</text>
<rect x="1007.6" y="1216.9" width="23" height="38.5" fill="#00FFFF"/>
<rect x="1049.8" y="1216.9" width="23" height="38.5" fill="#00FFFF"/>
<text x="957.8" y="1248.1" font-size="34.5" fill="#000">GV</text>
<text x="1007.6" y="1248.1" font-size="34.5" fill="#000">K</text>
<text x="1030.6" y="1248.1" font-size="34.5" fill="#000">L</text>
<text x="1049.8" y="1248.1" font-size="34.5" fill="#000">K</text>
<text x="1072.8" y="1248.1" font-size="34.5" fill="#000">YT/β'</text>
<text x="1028.7" y="1289" font-size="34.5" fill="#000">(pH 7.5)</text>
<line x1="227" y1="1707" x2="227" y2="1960.4" stroke="#000" stroke-width="4.5" stroke-linecap="butt"/>
<line x1="227" y1="1908.4" x2="237.2" y2="1908.4" stroke="#000" stroke-width="4.5" stroke-linecap="butt"/>
<line x1="227" y1="1858.6" x2="237.2" y2="1858.6" stroke="#000" stroke-width="4.5" stroke-linecap="butt"/>
<line x1="227" y1="1808.8" x2="237.2" y2="1808.8" stroke="#000" stroke-width="4.5" stroke-linecap="butt"/>
<line x1="227" y1="1759" x2="237.2" y2="1759" stroke="#000" stroke-width="4.5" stroke-linecap="butt"/>
<line x1="227" y1="1709.2" x2="237.2" y2="1709.2" stroke="#000" stroke-width="4.5" stroke-linecap="butt"/>
<line x1="224.8" y1="1958.2" x2="632.3" y2="1958.2" stroke="#000" stroke-width="4.5" stroke-linecap="butt"/>
<line x1="327.8" y1="1958.2" x2="327.8" y2="1947.7" stroke="#000" stroke-width="4.5" stroke-linecap="butt"/>
<line x1="428.6" y1="1958.2" x2="428.6" y2="1947.7" stroke="#000" stroke-width="4.5" stroke-linecap="butt"/>
<line x1="529.5" y1="1958.2" x2="529.5" y2="1947.7" stroke="#000" stroke-width="4.5" stroke-linecap="butt"/>
<line x1="630.3" y1="1958.2" x2="630.3" y2="1947.7" stroke="#000" stroke-width="4.5" stroke-linecap="butt"/>
<path d="M227 1958.2 L227.4 1933.5 L227.8 1911.8 L228.2 1892.7 L228.6 1876 L229 1861.2 L229.4 1848.3 L229.8 1836.9 L230.2 1826.9 L230.6 1818 L231 1810.3 L231.4 1803.5 L231.8 1797.5 L232.2 1792.2 L232.6 1787.5 L233 1783.4 L233.5 1779.8 L233.9 1776.6 L234.3 1773.8 L234.7 1771.3 L235.1 1769.1 L235.5 1767.1 L235.9 1765.4 L236.3 1763.9 L236.7 1762.5 L237.1 1761.3 L237.5 1760.2 L237.9 1759.3 L238.3 1758.4 L238.7 1757.7 L239.1 1757 L239.5 1756.4 L239.9 1755.8 L240.3 1755.3 L240.7 1754.9 L241.1 1754.4 L241.5 1754.1 L241.9 1753.7 L242.3 1753.4 L242.7 1753.1 L243.1 1752.9 L244.7 1752 L246.4 1751.3 L248 1750.7 L249.6 1750.1 L251.2 1749.7 L252.8 1749.2 L254.4 1748.8 L256 1748.4 L257.7 1748 L259.3 1747.7 L260.9 1747.3 L262.5 1746.9 L264.1 1746.6 L265.7 1746.2 L267.3 1745.9 L268.9 1745.6 L270.6 1745.3 L272.2 1744.9 L273.8 1744.6 L275.4 1744.3 L279.4 1743.6 L283.5 1742.9 L287.5 1742.2 L291.5 1741.6 L295.6 1741 L299.6 1740.4 L303.6 1739.9 L307.7 1739.4 L311.7 1738.9 L315.7 1738.4 L319.8 1737.9 L323.8 1737.5 L327.8 1737.1 L331.9 1736.7 L335.9 1736.4 L339.9 1736 L344 1735.7 L348 1735.4 L352 1735.1 L356.1 1734.8 L360.1 1734.5 L364.1 1734.3 L368.2 1734 L372.2 1733.8 L376.2 1733.6 L380.3 1733.4 L384.3 1733.2 L388.3 1733 L392.4 1732.8 L396.4 1732.6 L400.4 1732.4 L404.5 1732.3 L408.5 1732.1 L412.5 1732 L416.6 1731.9 L420.6 1731.7 L424.6 1731.6 L428.6 1731.5 L432.7 1731.4 L436.7 1731.3 L440.7 1731.2 L444.8 1731.1 L448.8 1731 L452.8 1730.9 L456.9 1730.8 L460.9 1730.8 L464.9 1730.7 L469 1730.6 L469.4 1736.6 L469.8 1742.3 L470.2 1747.7 L470.6 1752.9 L471 1758 L471.4 1762.8 L471.8 1767.3 L472.2 1771.8 L472.6 1776 L473 1780.1 L473.4 1784 L473.8 1787.7 L474.2 1791.3 L474.6 1794.8 L475 1798.1 L475.4 1801.4 L475.8 1804.5 L476.2 1807.4 L476.6 1810.3 L477 1813.1 L477.4 1815.8 L477.9 1818.4 L478.3 1820.9 L478.7 1823.3 L479.1 1825.7 L479.5 1827.9 L479.9 1830.1 L480.3 1832.3 L480.7 1834.3 L481.1 1836.3 L481.5 1838.3 L481.9 1840.1 L482.3 1842 L482.7 1843.7 L483.1 1845.5 L483.5 1847.2 L483.9 1848.8 L484.3 1850.4 L484.7 1851.9 L485.1 1853.4 L486.7 1859.1 L488.3 1864.3 L490 1869 L491.6 1873.3 L493.2 1877.3 L494.8 1881 L496.4 1884.5 L498 1887.7 L499.6 1890.7 L501.2 1893.6 L502.9 1896.2 L504.5 1898.8 L506.1 1901.1 L507.7 1903.4 L509.3 1905.5 L510.9 1907.6 L512.5 1909.5 L514.1 1911.3 L515.8 1913.1 L517.4 1914.7 L519 1916.3 L520.6 1917.8 L522.2 1919.2 L523.8 1920.6 L525.4 1921.8 L527.1 1923.1 L528.7 1924.2 L530.3 1925.4 L534.3 1927.9 L538.3 1930.2 L542.4 1932.2 L546.4 1934 L550.4 1935.6 L554.5 1937 L558.5 1938.2 L562.5 1939.3 L566.6 1940.3 L570.6 1941.2 L574.6 1941.9 L578.7 1942.6 L582.7 1943.2 L586.7 1943.7 L590.8 1944.2 L594.8 1944.6 L598.8 1945 L602.9 1945.4 L606.9 1945.6 L610.9 1945.9 L615 1946.1 L619 1946.3 L623 1946.5 L627.1 1946.7 L630.3 1946.8" fill="none" stroke="#4472C4" stroke-width="4.5" stroke-linejoin="round" stroke-linecap="round"/>
<path d="M227 1908.4 L227.4 1892.3 L227.8 1878.1 L228.2 1865.7 L228.6 1854.8 L229 1845.2 L229.4 1836.7 L229.8 1829.3 L230.2 1822.8 L230.6 1817 L231 1812 L231.4 1807.5 L231.8 1803.6 L232.2 1800.1 L232.6 1797.1 L233 1794.4 L233.5 1792.1 L233.9 1790 L234.3 1788.1 L234.7 1786.5 L235.1 1785.1 L235.5 1783.8 L235.9 1782.7 L236.3 1781.7 L236.7 1780.8 L237.1 1780 L237.5 1779.3 L237.9 1778.7 L238.3 1778.1 L238.7 1777.6 L239.1 1777.2 L239.5 1776.8 L239.9 1776.4 L240.3 1776.1 L240.7 1775.8 L241.1 1775.5 L241.5 1775.3 L241.9 1775.1 L242.3 1774.9 L242.7 1774.7 L243.1 1774.5 L244.7 1773.9 L246.4 1773.5 L248 1773.1 L249.6 1772.7 L251.2 1772.4 L252.8 1772.1 L254.4 1771.9 L256 1771.6 L257.7 1771.4 L259.3 1771.1 L260.9 1770.9 L262.5 1770.6 L264.1 1770.4 L265.7 1770.2 L267.3 1770 L268.9 1769.8 L270.6 1769.5 L272.2 1769.3 L273.8 1769.1 L275.4 1768.9 L279.4 1768.5 L283.5 1768 L287.5 1767.6 L291.5 1767.2 L295.6 1766.8 L299.6 1766.4 L303.6 1766 L307.7 1765.7 L311.7 1765.4 L315.7 1765.1 L319.8 1764.8 L323.8 1764.5 L327.8 1764.2 L331.9 1764 L335.9 1763.7 L339.9 1763.5 L344 1763.3 L348 1763.1 L352 1762.9 L356.1 1762.7 L360.1 1762.5 L364.1 1762.4 L368.2 1762.2 L372.2 1762.1 L376.2 1761.9 L380.3 1761.8 L384.3 1761.7 L388.3 1761.5 L392.4 1761.4 L396.4 1761.3 L400.4 1761.2 L404.5 1761.1 L408.5 1761 L412.5 1760.9 L416.6 1760.8 L420.6 1760.7 L424.6 1760.7 L428.6 1760.6 L432.7 1760.5 L436.7 1760.4 L440.7 1760.4 L444.8 1760.3 L448.8 1760.2 L452.8 1760.2 L456.9 1760.1 L460.9 1760.1 L464.9 1760 L469 1760 L469.4 1765.2 L469.8 1770.1 L470.2 1774.9 L470.6 1779.4 L471 1783.8 L471.4 1788 L471.8 1792 L472.2 1795.8 L472.6 1799.5 L473 1803.1 L473.4 1806.5 L473.8 1809.7 L474.2 1812.9 L474.6 1815.9 L475 1818.8 L475.4 1821.6 L475.8 1824.3 L476.2 1826.9 L476.6 1829.4 L477 1831.8 L477.4 1834.2 L477.9 1836.4 L478.3 1838.6 L478.7 1840.7 L479.1 1842.8 L479.5 1844.7 L479.9 1846.7 L480.3 1848.5 L480.7 1850.3 L481.1 1852 L481.5 1853.7 L481.9 1855.4 L482.3 1857 L482.7 1858.5 L483.1 1860 L483.5 1861.5 L483.9 1862.9 L484.3 1864.3 L484.7 1865.6 L485.1 1867 L486.7 1871.9 L488.3 1876.4 L490 1880.5 L491.6 1884.3 L493.2 1887.7 L494.8 1891 L496.4 1894 L498 1896.8 L499.6 1899.4 L501.2 1901.9 L502.9 1904.2 L504.5 1906.4 L506.1 1908.5 L507.7 1910.5 L509.3 1912.3 L510.9 1914.1 L512.5 1915.8 L514.1 1917.4 L515.8 1918.9 L517.4 1920.3 L519 1921.7 L520.6 1923 L522.2 1924.2 L523.8 1925.4 L525.4 1926.5 L527.1 1927.6 L528.7 1928.6 L530.3 1929.6 L534.3 1931.8 L538.3 1933.8 L542.4 1935.6 L546.4 1937.1 L550.4 1938.5 L554.5 1939.7 L558.5 1940.8 L562.5 1941.7 L566.6 1942.6 L570.6 1943.4 L574.6 1944 L578.7 1944.6 L582.7 1945.1 L586.7 1945.6 L590.8 1946 L594.8 1946.4 L598.8 1946.7 L602.9 1947 L606.9 1947.3 L610.9 1947.5 L615 1947.7 L619 1947.9 L623 1948 L627.1 1948.2 L630.3 1948.3" fill="none" stroke="#ED7D31" stroke-width="4.5" stroke-linejoin="round" stroke-linecap="round"/>
<path d="M227 1958.2 L227.4 1950.1 L227.8 1942.5 L228.2 1935.5 L228.6 1928.9 L229 1922.8 L229.4 1917 L229.8 1911.7 L230.2 1906.7 L230.6 1902.1 L231 1897.7 L231.4 1893.7 L231.8 1889.9 L232.2 1886.3 L232.6 1883 L233 1879.9 L233.5 1877.1 L233.9 1874.4 L234.3 1871.9 L234.7 1869.5 L235.1 1867.3 L235.5 1865.3 L235.9 1863.3 L236.3 1861.6 L236.7 1859.9 L237.1 1858.3 L237.5 1856.8 L237.9 1855.5 L238.3 1854.2 L238.7 1853 L239.1 1851.9 L239.5 1850.8 L239.9 1849.8 L240.3 1848.9 L240.7 1848.1 L241.1 1847.2 L241.5 1846.5 L241.9 1845.8 L242.3 1845.1 L242.7 1844.5 L243.1 1843.9 L244.7 1841.9 L246.4 1840.3 L248 1839 L249.6 1838 L251.2 1837.2 L252.8 1836.5 L254.4 1836 L256 1835.5 L257.7 1835.1 L259.3 1834.7 L260.9 1834.4 L262.5 1834.1 L264.1 1833.8 L265.7 1833.6 L267.3 1833.3 L268.9 1833.1 L270.6 1832.9 L272.2 1832.7 L273.8 1832.5 L275.4 1832.3 L279.4 1831.9 L283.5 1831.5 L287.5 1831.1 L291.5 1830.7 L295.6 1830.3 L299.6 1830 L303.6 1829.7 L307.7 1829.4 L311.7 1829.1 L315.7 1828.8 L319.8 1828.6 L323.8 1828.3 L327.8 1828.1 L331.9 1827.8 L335.9 1827.6 L339.9 1827.4 L344 1827.2 L348 1827 L352 1826.9 L356.1 1826.7 L360.1 1826.5 L364.1 1826.4 L368.2 1826.2 L372.2 1826.1 L376.2 1826 L380.3 1825.9 L384.3 1825.7 L388.3 1825.6 L392.4 1825.5 L396.4 1825.4 L400.4 1825.3 L404.5 1825.2 L408.5 1825.1 L412.5 1825.1 L416.6 1825 L420.6 1824.9 L424.6 1824.8 L428.6 1824.8 L432.7 1824.7 L436.7 1824.6 L440.7 1824.6 L444.8 1824.5 L448.8 1824.5 L452.8 1824.4 L456.9 1824.4 L460.9 1824.3 L464.9 1824.3 L469 1824.2 L469.4 1827.1 L469.8 1829.8 L470.2 1832.5 L470.6 1835.1 L471 1837.5 L471.4 1840 L471.8 1842.3 L472.2 1844.5 L472.6 1846.7 L473 1848.8 L473.4 1850.9 L473.8 1852.9 L474.2 1854.8 L474.6 1856.7 L475 1858.5 L475.4 1860.3 L475.8 1862 L476.2 1863.7 L476.6 1865.3 L477 1866.9 L477.4 1868.4 L477.9 1869.9 L478.3 1871.4 L478.7 1872.8 L479.1 1874.2 L479.5 1875.5 L479.9 1876.8 L480.3 1878.1 L480.7 1879.3 L481.1 1880.5 L481.5 1881.7 L481.9 1882.9 L482.3 1884 L482.7 1885.1 L483.1 1886.2 L483.5 1887.2 L483.9 1888.3 L484.3 1889.3 L484.7 1890.3 L485.1 1891.2 L486.7 1894.9 L488.3 1898.2 L490 1901.3 L491.6 1904.2 L493.2 1906.8 L494.8 1909.3 L496.4 1911.6 L498 1913.8 L499.6 1915.8 L501.2 1917.7 L502.9 1919.5 L504.5 1921.2 L506.1 1922.8 L507.7 1924.3 L509.3 1925.7 L510.9 1927.1 L512.5 1928.3 L514.1 1929.5 L515.8 1930.6 L517.4 1931.7 L519 1932.7 L520.6 1933.7 L522.2 1934.6 L523.8 1935.5 L525.4 1936.3 L527.1 1937.1 L528.7 1937.8 L530.3 1938.5 L534.3 1940.1 L538.3 1941.5 L542.4 1942.7 L546.4 1943.8 L550.4 1944.7 L554.5 1945.5 L558.5 1946.3 L562.5 1946.9 L566.6 1947.5 L570.6 1948 L574.6 1948.4 L578.7 1948.8 L582.7 1949.1 L586.7 1949.4 L590.8 1949.7 L594.8 1949.9 L598.8 1950.1 L602.9 1950.2 L606.9 1950.4 L610.9 1950.5 L615 1950.7 L619 1950.8 L623 1950.8 L627.1 1950.9 L630.3 1951" fill="none" stroke="#A5A5A5" stroke-width="4.5" stroke-linejoin="round" stroke-linecap="round"/>
<path d="M227 1958.2 L227.4 1954.1 L227.8 1950.1 L228.2 1946.4 L228.6 1942.8 L229 1939.4 L229.4 1936.2 L229.8 1933.1 L230.2 1930.1 L230.6 1927.3 L231 1924.7 L231.4 1922.2 L231.8 1919.7 L232.2 1917.4 L232.6 1915.3 L233 1913.2 L233.5 1911.2 L233.9 1909.3 L234.3 1907.5 L234.7 1905.8 L235.1 1904.2 L235.5 1902.6 L235.9 1901.1 L236.3 1899.7 L236.7 1898.4 L237.1 1897.1 L237.5 1895.9 L237.9 1894.7 L238.3 1893.6 L238.7 1892.5 L239.1 1891.5 L239.5 1890.6 L239.9 1889.7 L240.3 1888.8 L240.7 1888 L241.1 1887.2 L241.5 1886.4 L241.9 1885.7 L242.3 1885 L242.7 1884.3 L243.1 1883.7 L244.7 1881.5 L246.4 1879.6 L248 1878 L249.6 1876.7 L251.2 1875.6 L252.8 1874.7 L254.4 1873.9 L256 1873.3 L257.7 1872.7 L259.3 1872.2 L260.9 1871.8 L262.5 1871.4 L264.1 1871.1 L265.7 1870.8 L267.3 1870.5 L268.9 1870.3 L270.6 1870 L272.2 1869.8 L273.8 1869.7 L275.4 1869.5 L279.4 1869.1 L283.5 1868.8 L287.5 1868.5 L291.5 1868.2 L295.6 1867.9 L299.6 1867.7 L303.6 1867.4 L307.7 1867.2 L311.7 1867 L315.7 1866.8 L319.8 1866.6 L323.8 1866.5 L327.8 1866.3 L331.9 1866.1 L335.9 1866 L339.9 1865.8 L344 1865.7 L348 1865.6 L352 1865.4 L356.1 1865.3 L360.1 1865.2 L364.1 1865.1 L368.2 1865 L372.2 1864.9 L376.2 1864.8 L380.3 1864.7 L384.3 1864.6 L388.3 1864.6 L392.4 1864.5 L396.4 1864.4 L400.4 1864.3 L404.5 1864.3 L408.5 1864.2 L412.5 1864.2 L416.6 1864.1 L420.6 1864 L424.6 1864 L428.6 1863.9 L432.7 1863.9 L436.7 1863.9 L440.7 1863.8 L444.8 1863.8 L448.8 1863.7 L452.8 1863.7 L456.9 1863.7 L460.9 1863.6 L464.9 1863.6 L469 1863.6 L469.4 1865.1 L469.8 1866.7 L470.2 1868.2 L470.6 1869.6 L471 1871 L471.4 1872.4 L471.8 1873.8 L472.2 1875.1 L472.6 1876.4 L473 1877.7 L473.4 1878.9 L473.8 1880.1 L474.2 1881.3 L474.6 1882.5 L475 1883.6 L475.4 1884.7 L475.8 1885.8 L476.2 1886.9 L476.6 1887.9 L477 1889 L477.4 1890 L477.9 1891 L478.3 1891.9 L478.7 1892.9 L479.1 1893.8 L479.5 1894.7 L479.9 1895.6 L480.3 1896.5 L480.7 1897.3 L481.1 1898.2 L481.5 1899 L481.9 1899.8 L482.3 1900.6 L482.7 1901.4 L483.1 1902.2 L483.5 1902.9 L483.9 1903.7 L484.3 1904.4 L484.7 1905.1 L485.1 1905.8 L486.7 1908.5 L488.3 1911.1 L490 1913.4 L491.6 1915.7 L493.2 1917.7 L494.8 1919.7 L496.4 1921.5 L498 1923.3 L499.6 1924.9 L501.2 1926.4 L502.9 1927.9 L504.5 1929.2 L506.1 1930.5 L507.7 1931.7 L509.3 1932.9 L510.9 1933.9 L512.5 1935 L514.1 1935.9 L515.8 1936.8 L517.4 1937.7 L519 1938.5 L520.6 1939.3 L522.2 1940 L523.8 1940.7 L525.4 1941.3 L527.1 1941.9 L528.7 1942.5 L530.3 1943.1 L534.3 1944.3 L538.3 1945.4 L542.4 1946.3 L546.4 1947.1 L550.4 1947.8 L554.5 1948.4 L558.5 1949 L562.5 1949.4 L566.6 1949.8 L570.6 1950.2 L574.6 1950.5 L578.7 1950.8 L582.7 1951 L586.7 1951.2 L590.8 1951.4 L594.8 1951.5 L598.8 1951.6 L602.9 1951.8 L606.9 1951.9 L610.9 1951.9 L615 1952 L619 1952.1 L623 1952.1 L627.1 1952.2 L630.3 1952.2" fill="none" stroke="#FFC000" stroke-width="4.5" stroke-linejoin="round" stroke-linecap="round"/>
<path d="M227 1958.2 L227.4 1956.9 L227.8 1955.6 L228.2 1954.4 L228.6 1953.2 L229 1952 L229.4 1950.9 L229.8 1949.7 L230.2 1948.7 L230.6 1947.6 L231 1946.5 L231.4 1945.5 L231.8 1944.5 L232.2 1943.6 L232.6 1942.6 L233 1941.7 L233.5 1940.8 L233.9 1939.9 L234.3 1939.1 L234.7 1938.2 L235.1 1937.4 L235.5 1936.6 L235.9 1935.8 L236.3 1935.1 L236.7 1934.3 L237.1 1933.6 L237.5 1932.9 L237.9 1932.2 L238.3 1931.5 L238.7 1930.9 L239.1 1930.2 L239.5 1929.6 L239.9 1929 L240.3 1928.4 L240.7 1927.8 L241.1 1927.3 L241.5 1926.7 L241.9 1926.2 L242.3 1925.6 L242.7 1925.1 L243.1 1924.6 L244.7 1922.7 L246.4 1921 L248 1919.4 L249.6 1918 L251.2 1916.7 L252.8 1915.5 L254.4 1914.4 L256 1913.4 L257.7 1912.5 L259.3 1911.7 L260.9 1910.9 L262.5 1910.2 L264.1 1909.6 L265.7 1909 L267.3 1908.5 L268.9 1908 L270.6 1907.6 L272.2 1907.2 L273.8 1906.8 L275.4 1906.5 L279.4 1905.7 L283.5 1905.1 L287.5 1904.6 L291.5 1904.2 L295.6 1903.8 L299.6 1903.5 L303.6 1903.2 L307.7 1903 L311.7 1902.8 L315.7 1902.6 L319.8 1902.5 L323.8 1902.3 L327.8 1902.2 L331.9 1902.1 L335.9 1902 L339.9 1901.9 L344 1901.8 L348 1901.7 L352 1901.6 L356.1 1901.5 L360.1 1901.4 L364.1 1901.4 L368.2 1901.3 L372.2 1901.2 L376.2 1901.2 L380.3 1901.1 L384.3 1901.1 L388.3 1901 L392.4 1901 L396.4 1900.9 L400.4 1900.9 L404.5 1900.9 L408.5 1900.8 L412.5 1900.8 L416.6 1900.8 L420.6 1900.7 L424.6 1900.7 L428.6 1900.7 L432.7 1900.6 L436.7 1900.6 L440.7 1900.6 L444.8 1900.6 L448.8 1900.5 L452.8 1900.5 L456.9 1900.5 L460.9 1900.5 L464.9 1900.4 L469 1900.4 L469.4 1901.1 L469.8 1901.7 L470.2 1902.3 L470.6 1902.9 L471 1903.5 L471.4 1904.1 L471.8 1904.7 L472.2 1905.2 L472.6 1905.8 L473 1906.4 L473.4 1906.9 L473.8 1907.5 L474.2 1908 L474.6 1908.6 L475 1909.1 L475.4 1909.6 L475.8 1910.1 L476.2 1910.6 L476.6 1911.1 L477 1911.6 L477.4 1912.1 L477.9 1912.6 L478.3 1913.1 L478.7 1913.6 L479.1 1914.1 L479.5 1914.5 L479.9 1915 L480.3 1915.4 L480.7 1915.9 L481.1 1916.3 L481.5 1916.8 L481.9 1917.2 L482.3 1917.6 L482.7 1918 L483.1 1918.5 L483.5 1918.9 L483.9 1919.3 L484.3 1919.7 L484.7 1920.1 L485.1 1920.5 L486.7 1922 L488.3 1923.4 L490 1924.8 L491.6 1926.2 L493.2 1927.4 L494.8 1928.6 L496.4 1929.8 L498 1930.8 L499.6 1931.9 L501.2 1932.9 L502.9 1933.8 L504.5 1934.7 L506.1 1935.6 L507.7 1936.4 L509.3 1937.2 L510.9 1937.9 L512.5 1938.6 L514.1 1939.3 L515.8 1939.9 L517.4 1940.5 L519 1941.1 L520.6 1941.7 L522.2 1942.2 L523.8 1942.7 L525.4 1943.2 L527.1 1943.7 L528.7 1944.1 L530.3 1944.5 L534.3 1945.5 L538.3 1946.3 L542.4 1947.1 L546.4 1947.8 L550.4 1948.3 L554.5 1948.9 L558.5 1949.3 L562.5 1949.8 L566.6 1950.1 L570.6 1950.4 L574.6 1950.7 L578.7 1951 L582.7 1951.2 L586.7 1951.4 L590.8 1951.6 L594.8 1951.8 L598.8 1951.9 L602.9 1952 L606.9 1952.1 L610.9 1952.2 L615 1952.3 L619 1952.4 L623 1952.5 L627.1 1952.5 L630.3 1952.6" fill="none" stroke="#FF66FF" stroke-width="4.5" stroke-linejoin="round" stroke-linecap="round"/>
<path d="M227 1958.2 L227.4 1958 L227.8 1957.7 L228.2 1957.5 L228.6 1957.3 L229 1957.1 L229.4 1956.9 L229.8 1956.6 L230.2 1956.4 L230.6 1956.2 L231 1956 L231.4 1955.8 L231.8 1955.6 L232.2 1955.4 L232.6 1955.2 L233 1955 L233.5 1954.8 L233.9 1954.6 L234.3 1954.4 L234.7 1954.3 L235.1 1954.1 L235.5 1953.9 L235.9 1953.7 L236.3 1953.5 L236.7 1953.4 L237.1 1953.2 L237.5 1953 L237.9 1952.9 L238.3 1952.7 L238.7 1952.5 L239.1 1952.4 L239.5 1952.2 L239.9 1952.1 L240.3 1951.9 L240.7 1951.8 L241.1 1951.6 L241.5 1951.5 L241.9 1951.3 L242.3 1951.2 L242.7 1951 L243.1 1950.9 L244.7 1950.3 L246.4 1949.8 L248 1949.3 L249.6 1948.8 L251.2 1948.4 L252.8 1947.9 L254.4 1947.5 L256 1947.2 L257.7 1946.8 L259.3 1946.4 L260.9 1946.1 L262.5 1945.8 L264.1 1945.5 L265.7 1945.2 L267.3 1944.9 L268.9 1944.6 L270.6 1944.4 L272.2 1944.2 L273.8 1943.9 L275.4 1943.7 L279.4 1943.2 L283.5 1942.8 L287.5 1942.4 L291.5 1942 L295.6 1941.7 L299.6 1941.4 L303.6 1941.2 L307.7 1941 L311.7 1940.8 L315.7 1940.6 L319.8 1940.4 L323.8 1940.3 L327.8 1940.2 L331.9 1940.1 L335.9 1940 L339.9 1939.9 L344 1939.8 L348 1939.7 L352 1939.6 L356.1 1939.6 L360.1 1939.5 L364.1 1939.5 L368.2 1939.4 L372.2 1939.4 L376.2 1939.4 L380.3 1939.3 L384.3 1939.3 L388.3 1939.3 L392.4 1939.2 L396.4 1939.2 L400.4 1939.2 L404.5 1939.2 L408.5 1939.1 L412.5 1939.1 L416.6 1939.1 L420.6 1939.1 L424.6 1939.1 L428.6 1939.1 L432.7 1939.1 L436.7 1939 L440.7 1939 L444.8 1939 L448.8 1939 L452.8 1939 L456.9 1939 L460.9 1939 L464.9 1939 L469 1939 L469.4 1939.2 L469.8 1939.4 L470.2 1939.6 L470.6 1939.7 L471 1939.9 L471.4 1940.1 L471.8 1940.3 L472.2 1940.5 L472.6 1940.6 L473 1940.8 L473.4 1941 L473.8 1941.2 L474.2 1941.3 L474.6 1941.5 L475 1941.7 L475.4 1941.8 L475.8 1942 L476.2 1942.2 L476.6 1942.3 L477 1942.5 L477.4 1942.6 L477.9 1942.8 L478.3 1942.9 L478.7 1943.1 L479.1 1943.2 L479.5 1943.4 L479.9 1943.5 L480.3 1943.6 L480.7 1943.8 L481.1 1943.9 L481.5 1944.1 L481.9 1944.2 L482.3 1944.3 L482.7 1944.5 L483.1 1944.6 L483.5 1944.7 L483.9 1944.8 L484.3 1945 L484.7 1945.1 L485.1 1945.2 L486.7 1945.7 L488.3 1946.1 L490 1946.6 L491.6 1947 L493.2 1947.4 L494.8 1947.7 L496.4 1948.1 L498 1948.4 L499.6 1948.8 L501.2 1949.1 L502.9 1949.4 L504.5 1949.6 L506.1 1949.9 L507.7 1950.2 L509.3 1950.4 L510.9 1950.6 L512.5 1950.8 L514.1 1951.1 L515.8 1951.3 L517.4 1951.4 L519 1951.6 L520.6 1951.8 L522.2 1952 L523.8 1952.1 L525.4 1952.3 L527.1 1952.4 L528.7 1952.6 L530.3 1952.7 L534.3 1953 L538.3 1953.2 L542.4 1953.5 L546.4 1953.7 L550.4 1953.9 L554.5 1954 L558.5 1954.2 L562.5 1954.3 L566.6 1954.4 L570.6 1954.5 L574.6 1954.6 L578.7 1954.7 L582.7 1954.8 L586.7 1954.8 L590.8 1954.9 L594.8 1954.9 L598.8 1955 L602.9 1955 L606.9 1955 L610.9 1955.1 L615 1955.1 L619 1955.1 L623 1955.1 L627.1 1955.2 L630.3 1955.2" fill="none" stroke="#70AD47" stroke-width="4.5" stroke-linejoin="round" stroke-linecap="round"/>
<path d="M227 1958.2 L227.4 1958.1 L227.8 1958 L228.2 1958 L228.6 1957.9 L229 1957.8 L229.4 1957.7 L229.8 1957.6 L230.2 1957.6 L230.6 1957.5 L231 1957.4 L231.4 1957.3 L231.8 1957.3 L232.2 1957.2 L232.6 1957.1 L233 1957.1 L233.5 1957 L233.9 1956.9 L234.3 1956.8 L234.7 1956.8 L235.1 1956.7 L235.5 1956.6 L235.9 1956.6 L236.3 1956.5 L236.7 1956.4 L237.1 1956.4 L237.5 1956.3 L237.9 1956.2 L238.3 1956.2 L238.7 1956.1 L239.1 1956.1 L239.5 1956 L239.9 1955.9 L240.3 1955.9 L240.7 1955.8 L241.1 1955.7 L241.5 1955.7 L241.9 1955.6 L242.3 1955.6 L242.7 1955.5 L243.1 1955.4 L244.7 1955.2 L246.4 1955 L248 1954.8 L249.6 1954.6 L251.2 1954.4 L252.8 1954.2 L254.4 1954 L256 1953.8 L257.7 1953.7 L259.3 1953.5 L260.9 1953.3 L262.5 1953.2 L264.1 1953 L265.7 1952.9 L267.3 1952.8 L268.9 1952.6 L270.6 1952.5 L272.2 1952.4 L273.8 1952.2 L275.4 1952.1 L279.4 1951.9 L283.5 1951.6 L287.5 1951.4 L291.5 1951.2 L295.6 1951 L299.6 1950.8 L303.6 1950.6 L307.7 1950.5 L311.7 1950.3 L315.7 1950.2 L319.8 1950.1 L323.8 1950 L327.8 1949.9 L331.9 1949.8 L335.9 1949.7 L339.9 1949.6 L344 1949.5 L348 1949.5 L352 1949.4 L356.1 1949.3 L360.1 1949.3 L364.1 1949.2 L368.2 1949.2 L372.2 1949.2 L376.2 1949.1 L380.3 1949.1 L384.3 1949.1 L388.3 1949 L392.4 1949 L396.4 1949 L400.4 1949 L404.5 1948.9 L408.5 1948.9 L412.5 1948.9 L416.6 1948.9 L420.6 1948.9 L424.6 1948.8 L428.6 1948.8 L432.7 1948.8 L436.7 1948.8 L440.7 1948.8 L444.8 1948.8 L448.8 1948.8 L452.8 1948.8 L456.9 1948.8 L460.9 1948.8 L464.9 1948.7 L469 1948.7 L469.4 1948.8 L469.8 1948.9 L470.2 1949 L470.6 1949 L471 1949.1 L471.4 1949.2 L471.8 1949.2 L472.2 1949.3 L472.6 1949.4 L473 1949.4 L473.4 1949.5 L473.8 1949.6 L474.2 1949.6 L474.6 1949.7 L475 1949.8 L475.4 1949.8 L475.8 1949.9 L476.2 1950 L476.6 1950 L477 1950.1 L477.4 1950.1 L477.9 1950.2 L478.3 1950.3 L478.7 1950.3 L479.1 1950.4 L479.5 1950.4 L479.9 1950.5 L480.3 1950.5 L480.7 1950.6 L481.1 1950.7 L481.5 1950.7 L481.9 1950.8 L482.3 1950.8 L482.7 1950.9 L483.1 1950.9 L483.5 1951 L483.9 1951 L484.3 1951.1 L484.7 1951.1 L485.1 1951.2 L486.7 1951.4 L488.3 1951.6 L490 1951.7 L491.6 1951.9 L493.2 1952.1 L494.8 1952.2 L496.4 1952.4 L498 1952.5 L499.6 1952.7 L501.2 1952.8 L502.9 1952.9 L504.5 1953.1 L506.1 1953.2 L507.7 1953.3 L509.3 1953.4 L510.9 1953.5 L512.5 1953.6 L514.1 1953.7 L515.8 1953.8 L517.4 1953.9 L519 1954 L520.6 1954.1 L522.2 1954.1 L523.8 1954.2 L525.4 1954.3 L527.1 1954.4 L528.7 1954.4 L530.3 1954.5 L534.3 1954.7 L538.3 1954.8 L542.4 1954.9 L546.4 1955 L550.4 1955.1 L554.5 1955.2 L558.5 1955.3 L562.5 1955.4 L566.6 1955.5 L570.6 1955.5 L574.6 1955.6 L578.7 1955.6 L582.7 1955.7 L586.7 1955.7 L590.8 1955.8 L594.8 1955.8 L598.8 1955.8 L602.9 1955.9 L606.9 1955.9 L610.9 1955.9 L615 1955.9 L619 1955.9 L623 1956 L627.1 1956 L630.3 1956" fill="none" stroke="#264478" stroke-width="4.5" stroke-linejoin="round" stroke-linecap="round"/>
<text x="178.3" y="1968.6" font-size="34" fill="#000">0</text>
<text x="178.7" y="1918.8" font-size="34" fill="#000">1</text>
<text x="178.7" y="1869.2" font-size="34" fill="#000">2</text>
<text x="178.5" y="1819.2" font-size="34" fill="#000">3</text>
<text x="178" y="1769.4" font-size="34" fill="#000">4</text>
<text x="178.4" y="1719.4" font-size="34" fill="#000">5</text>
<text x="218.5" y="2004.7" font-size="30.5" fill="#000">0</text>
<text x="310.7" y="2004.7" font-size="30.5" fill="#000">25</text>
<text x="411.7" y="2004.7" font-size="30.5" fill="#000">50</text>
<text x="512.4" y="2004.7" font-size="30.5" fill="#000">75</text>
<text x="604.3" y="2004.7" font-size="30.5" fill="#000">100</text>
<text x="334.7" y="2045.3" font-size="31.5" fill="#000">Time (sec)</text>
<text transform="translate(166.4,1821.9) rotate(-90)" x="-108" y="0" font-size="31.5">Response (nm)</text>
<text x="408" y="1708.4" font-size="34.5" fill="#000">K</text>
<text x="431" y="1715.9" font-size="24" fill="#000">D</text>
<text x="448.3" y="1708.4" font-size="34.5" fill="#000">=1.40±0.15μM</text>
<rect x="527.8" y="1718.7" width="23" height="38.5" fill="#00FFFF"/>
<rect x="570" y="1718.7" width="24.9" height="38.5" fill="#00FFFF"/>
<text x="477.9" y="1749.9" font-size="34.5" fill="#000">GV</text>
<text x="527.8" y="1749.9" font-size="34.5" fill="#000">K</text>
<text x="550.8" y="1749.9" font-size="34.5" fill="#000">L</text>
<text x="570" y="1749.9" font-size="34.5" fill="#000">H</text>
<text x="594.9" y="1749.9" font-size="34.5" fill="#000">YT/α</text>
<text x="545" y="1790.4" font-size="34.5" fill="#000">(pH 6.5)</text>
<line x1="867.3" y1="1702.6" x2="867.3" y2="1955.5" stroke="#000" stroke-width="4.5" stroke-linecap="butt"/>
<line x1="867.3" y1="1903.6" x2="877.5" y2="1903.6" stroke="#000" stroke-width="4.5" stroke-linecap="butt"/>
<line x1="867.3" y1="1853.9" x2="877.5" y2="1853.9" stroke="#000" stroke-width="4.5" stroke-linecap="butt"/>
<line x1="867.3" y1="1804.2" x2="877.5" y2="1804.2" stroke="#000" stroke-width="4.5" stroke-linecap="butt"/>
<line x1="867.3" y1="1754.5" x2="877.5" y2="1754.5" stroke="#000" stroke-width="4.5" stroke-linecap="butt"/>
<line x1="867.3" y1="1704.8" x2="877.5" y2="1704.8" stroke="#000" stroke-width="4.5" stroke-linecap="butt"/>
<line x1="865.1" y1="1953.3" x2="1297.3" y2="1953.3" stroke="#000" stroke-width="4.5" stroke-linecap="butt"/>
<line x1="974.3" y1="1953.3" x2="974.3" y2="1942.8" stroke="#000" stroke-width="4.5" stroke-linecap="butt"/>
<line x1="1081.3" y1="1953.3" x2="1081.3" y2="1942.8" stroke="#000" stroke-width="4.5" stroke-linecap="butt"/>
<line x1="1188.3" y1="1953.3" x2="1188.3" y2="1942.8" stroke="#000" stroke-width="4.5" stroke-linecap="butt"/>
<line x1="1295.3" y1="1953.3" x2="1295.3" y2="1942.8" stroke="#000" stroke-width="4.5" stroke-linecap="butt"/>
<path d="M867.3 1953 L868.4 1950.8 L869.4 1948.1 L870.5 1945.5 L871.6 1943.7 L872.6 1940.3 L873.7 1938.3 L874.8 1935.7 L875.9 1933.6 L876.9 1934.1 L878 1933.6 L879.1 1934.3 L880.1 1934.4 L881.2 1934.2 L882.3 1934.1 L883.3 1935.1 L884.4 1934.2 L885.5 1934.6 L886.6 1934.5 L887.6 1935 L888.7 1934.8 L889.8 1934.5 L890.8 1935 L891.9 1935.1 L893 1935.1 L894 1935.2 L895.1 1934.9 L896.2 1935 L897.3 1935.2 L898.3 1934.9 L899.4 1935.4 L900.5 1935.5 L901.5 1934.5 L902.6 1935.3 L903.7 1934.7 L904.8 1935.1 L905.8 1935.1 L906.9 1934.9 L908 1935.2 L909 1935.2 L910.1 1935 L911.2 1935 L912.2 1934.7 L913.3 1934.4 L914.4 1935.1 L915.4 1935 L916.5 1934.6 L917.6 1934.6 L918.7 1934.5 L919.7 1934.9 L920.8 1934.6 L921.9 1934.7 L922.9 1935.1 L924 1934.6 L925.1 1935.1 L926.1 1934.6 L927.2 1934.8 L928.3 1934.8 L929.4 1934.2 L930.4 1934.4 L931.5 1934.7 L932.6 1934.7 L933.6 1935 L934.7 1934.5 L935.8 1934.7 L936.8 1935.1 L937.9 1935.3 L939 1934.9 L940.1 1934.9 L941.1 1934.7 L942.2 1935.2 L943.3 1935.1 L944.3 1934.8 L945.4 1934.9 L946.5 1934.7 L947.5 1934.6 L948.6 1935.2 L949.7 1935.6 L950.8 1934.9 L951.8 1935.1 L952.9 1934.9 L954 1935.7 L955 1935 L956.1 1935 L957.2 1935.2 L958.2 1934.9 L959.3 1935 L960.4 1935 L961.5 1934.8 L962.5 1934.8 L963.6 1934.8 L964.7 1935.1 L965.7 1935.2 L966.8 1935.1 L967.9 1935.2 L968.9 1935.5 L970 1935.2 L971.1 1935.1 L972.2 1935.5 L973.2 1935.7 L974.3 1935.3 L975.4 1935.7 L976.4 1935.9 L977.5 1935.6 L978.6 1935.9 L979.6 1935.5 L980.7 1935.7 L981.8 1935.6 L982.9 1935.3 L983.9 1935.3 L985 1935.6 L986.1 1936.1 L987.1 1935.7 L988.2 1935.8 L989.3 1935.3 L990.3 1935.1 L991.4 1935.2 L992.5 1935.2 L993.6 1935.2 L994.6 1935.1 L995.7 1935.3 L996.8 1935 L997.8 1935.2 L998.9 1935.4 L1000 1935.1 L1001 1934.6 L1002.1 1935 L1003.2 1935.4 L1004.3 1934.6 L1005.3 1934.9 L1006.4 1934.8 L1007.5 1935 L1008.5 1934.8 L1009.6 1934.5 L1010.7 1935.1 L1011.8 1934.7 L1012.8 1934.8 L1013.9 1935.2 L1015 1934.9 L1016 1934.9 L1017.1 1935.3 L1018.2 1934.8 L1019.2 1935.5 L1020.3 1934.9 L1021.4 1935.1 L1022.4 1935.3 L1023.5 1935.6 L1024.6 1935.7 L1025.7 1936.1 L1026.7 1935.6 L1027.8 1935.7 L1028.9 1935.5 L1029.9 1935.5 L1031 1935.7 L1032.1 1935.9 L1033.2 1935.6 L1034.2 1935.9 L1035.3 1935.9 L1036.4 1936.2 L1037.4 1935.7 L1038.5 1936.1 L1039.6 1935.4 L1040.6 1936.1 L1041.7 1936 L1042.8 1935.9 L1043.8 1936.1 L1044.9 1936.2 L1046 1936.1 L1047.1 1936 L1048.1 1935.8 L1049.2 1935.5 L1050.3 1935.5 L1051.3 1935.6 L1052.4 1935.4 L1053.5 1936.1 L1054.5 1935.7 L1055.6 1935.6 L1056.7 1935.7 L1057.8 1935.3 L1058.8 1935.5 L1059.9 1935.6 L1061 1935.1 L1062 1935.5 L1063.1 1935.3 L1064.2 1935.6 L1065.2 1935 L1066.3 1935.2 L1067.4 1934.8 L1068.5 1934.6 L1069.5 1935 L1070.6 1935.2 L1071.7 1935.3 L1072.7 1934.7 L1073.8 1935.2 L1074.9 1934.9 L1076 1935 L1077 1936 L1078.1 1935.1 L1079.2 1935.1 L1080.2 1935 L1081.3 1935.1 L1082.4 1935 L1083.4 1935.4 L1084.5 1935 L1085.6 1935.3 L1086.7 1935.1 L1087.7 1934.7 L1088.8 1935.1 L1089.9 1935.4 L1090.9 1935.1 L1092 1935.6 L1093.1 1935.2 L1094.1 1934.9 L1095.2 1935.5 L1096.3 1935.3 L1097.3 1935.6 L1098.4 1935.3 L1099.5 1935.3 L1100.6 1935.4 L1101.6 1935.5 L1102.7 1936 L1103.8 1935.7 L1104.8 1935.7 L1105.9 1935.4 L1107 1936.1 L1108 1935.4 L1109.1 1935.9 L1110.2 1936.1 L1111.3 1935.3 L1112.3 1935.7 L1113.4 1936 L1114.5 1935.7 L1115.5 1935.6 L1116.6 1936.2 L1117.7 1935.5 L1118.8 1936 L1119.8 1935.6 L1120.9 1935.9 L1122 1936.2 L1123 1935.9 L1124.1 1935.9 L1125.2 1938.7 L1126.2 1942.1 L1127.3 1944.9 L1128.4 1947.5 L1129.5 1950.6 L1130.5 1953.6 L1131.6 1953.4 L1132.7 1953.8 L1133.7 1952.9 L1134.8 1953.6 L1135.9 1953.3 L1136.9 1953.4 L1138 1953.1 L1139.1 1953.5 L1140.2 1953.6 L1141.2 1953.3 L1142.3 1953.2 L1143.4 1953.4 L1144.4 1952.9 L1145.5 1953.2 L1146.6 1953.1 L1147.6 1953.1 L1148.7 1953.2 L1149.8 1953.6 L1150.8 1953.1 L1151.9 1953.7 L1153 1953.6 L1154.1 1953.3 L1155.1 1953.4 L1156.2 1954 L1157.3 1953.8 L1158.3 1954 L1159.4 1953.5 L1160.5 1953.9 L1161.5 1953.8 L1162.6 1954 L1163.7 1954 L1164.8 1953.7 L1165.8 1954.1 L1166.9 1953.8 L1168 1954 L1169 1953.9 L1170.1 1954.1 L1171.2 1953.5 L1172.2 1954.2 L1173.3 1954 L1174.4 1953.8 L1175.5 1953.6 L1176.5 1953.8 L1177.6 1954 L1178.7 1953.7 L1179.7 1953.8 L1180.8 1953.7 L1181.9 1953.1 L1183 1953.9 L1184 1953.4 L1185.1 1953.3 L1186.2 1953.5 L1187.2 1953.4 L1188.3 1953.1 L1189.4 1953.4 L1190.4 1953.8 L1191.5 1953.4 L1192.6 1953.3 L1193.7 1953.5 L1194.7 1953.5 L1195.8 1953.4 L1196.9 1953.6 L1197.9 1953.5 L1199 1953.4 L1200.1 1953.7 L1201.1 1954 L1202.2 1953.3 L1203.3 1953.6 L1204.3 1953.9 L1205.4 1954.1 L1206.5 1953.8 L1207.6 1953.8 L1208.6 1953.7 L1209.7 1953.8 L1210.8 1954 L1211.8 1954 L1212.9 1954.3 L1214 1954.1 L1215 1954 L1216.1 1953.6 L1217.2 1954.2 L1218.3 1953.4 L1219.3 1953.6 L1220.4 1953.9 L1221.5 1953.9 L1222.5 1953.6 L1223.6 1953.6 L1224.7 1953.4 L1225.8 1954 L1226.8 1953.6 L1227.9 1953.3 L1229 1953.2 L1230 1953.2 L1231.1 1953.3 L1232.2 1953.1 L1233.2 1953.3 L1234.3 1952.7 L1235.4 1952.8 L1236.5 1952.9 L1237.5 1953.1 L1238.6 1953 L1239.7 1952.8 L1240.7 1952.9 L1241.8 1952.5 L1242.9 1952.3 L1243.9 1952.6 L1245 1953.1 L1246.1 1952.7 L1247.2 1952.9 L1248.2 1952.8 L1249.3 1952.3 L1250.4 1953.3 L1251.4 1953.2 L1252.5 1953 L1253.6 1952.7 L1254.6 1953 L1255.7 1953.4 L1256.8 1952.9 L1257.8 1952.9 L1258.9 1952.7 L1260 1953.1 L1261.1 1952.8 L1262.1 1953.3 L1263.2 1953 L1264.3 1952.9 L1265.3 1953.3 L1266.4 1953.4 L1267.5 1953 L1268.5 1953.5 L1269.6 1953.6 L1270.7 1953.4 L1271.8 1953.3 L1272.8 1953.3 L1273.9 1953.7 L1275 1953.4 L1276 1953.8 L1277.1 1953.9 L1278.2 1953.1 L1279.2 1953.9 L1280.3 1954.1 L1281.4 1953.7 L1282.5 1953.9 L1283.5 1953.6 L1284.6 1954.4 L1285.7 1954.1 L1286.7 1953.5 L1287.8 1953.7 L1288.9 1954 L1290 1953.4 L1291 1953.5 L1292.1 1953.8 L1293.2 1953.4 L1294.2 1953.6 L1295.3 1954" fill="none" stroke="#4472C4" stroke-width="4.5" stroke-linejoin="round" stroke-linecap="round"/>
<path d="M867.3 1950.5 L868.4 1951.1 L869.4 1950.6 L870.5 1950.8 L871.6 1950.7 L872.6 1950.7 L873.7 1950.6 L874.8 1950.7 L875.9 1950.7 L876.9 1950.7 L878 1950.6 L879.1 1950.6 L880.1 1950.7 L881.2 1950.5 L882.3 1950.8 L883.3 1950.1 L884.4 1950.3 L885.5 1950.2 L886.6 1950.5 L887.6 1950.7 L888.7 1950.8 L889.8 1950.6 L890.8 1950.5 L891.9 1950.4 L893 1950.4 L894 1950.2 L895.1 1950.8 L896.2 1949.9 L897.3 1950.3 L898.3 1950.2 L899.4 1950.7 L900.5 1950.2 L901.5 1950.6 L902.6 1950.2 L903.7 1950.2 L904.8 1950.3 L905.8 1950.4 L906.9 1950.4 L908 1950.5 L909 1950.2 L910.1 1950.5 L911.2 1950.5 L912.2 1950 L913.3 1950.6 L914.4 1950.9 L915.4 1951.2 L916.5 1951.3 L917.6 1950.8 L918.7 1950.7 L919.7 1951.2 L920.8 1951.2 L921.9 1951.1 L922.9 1951 L924 1950.9 L925.1 1951.2 L926.1 1951.3 L927.2 1951 L928.3 1951.4 L929.4 1951.6 L930.4 1951.5 L931.5 1951.3 L932.6 1951.4 L933.6 1951.3 L934.7 1951.2 L935.8 1950.7 L936.8 1951.1 L937.9 1951.7 L939 1951.5 L940.1 1951.1 L941.1 1951.3 L942.2 1950.6 L943.3 1951.2 L944.3 1951.1 L945.4 1951 L946.5 1951 L947.5 1950.8 L948.6 1951 L949.7 1950.8 L950.8 1951 L951.8 1951.5 L952.9 1950.7 L954 1950.5 L955 1951 L956.1 1950.9 L957.2 1950.6 L958.2 1950.9 L959.3 1950.7 L960.4 1950.8 L961.5 1950.6 L962.5 1950.8 L963.6 1950.3 L964.7 1950.8 L965.7 1950.9 L966.8 1951.1 L967.9 1950.8 L968.9 1951 L970 1950.7 L971.1 1950.7 L972.2 1950.3 L973.2 1951 L974.3 1950.9 L975.4 1950.7 L976.4 1951.3 L977.5 1950.7 L978.6 1950.5 L979.6 1950.9 L980.7 1950.9 L981.8 1950.6 L982.9 1950.8 L983.9 1950.8 L985 1950.7 L986.1 1951 L987.1 1950.4 L988.2 1950.9 L989.3 1950.8 L990.3 1950.9 L991.4 1951.4 L992.5 1951.2 L993.6 1950.9 L994.6 1950.8 L995.7 1952 L996.8 1951.7 L997.8 1952.1 L998.9 1952.3 L1000 1952.4 L1001 1952 L1002.1 1952.4 L1003.2 1952.3 L1004.3 1952 L1005.3 1952.3 L1006.4 1952.4 L1007.5 1952.3 L1008.5 1952.7 L1009.6 1952.4 L1010.7 1952.4 L1011.8 1952.4 L1012.8 1952.6 L1013.9 1953 L1015 1952.7 L1016 1952.4 L1017.1 1952.8 L1018.2 1952.8 L1019.2 1952.5 L1020.3 1952.5 L1021.4 1952.6 L1022.4 1952.5 L1023.5 1952.5 L1024.6 1952.6 L1025.7 1952.6 L1026.7 1952.3 L1027.8 1952.9 L1028.9 1952.2 L1029.9 1952.6 L1031 1952.8 L1032.1 1952.5 L1033.2 1952.4 L1034.2 1952.8 L1035.3 1952.5 L1036.4 1952.3 L1037.4 1952.3 L1038.5 1952.4 L1039.6 1952.7 L1040.6 1952.4 L1041.7 1951.9 L1042.8 1952.5 L1043.8 1951.6 L1044.9 1952.3 L1046 1952.3 L1047.1 1952.3 L1048.1 1952.2 L1049.2 1952.1 L1050.3 1952.4 L1051.3 1951.7 L1052.4 1951.9 L1053.5 1952.1 L1054.5 1952.5 L1055.6 1952.3 L1056.7 1952.2 L1057.8 1952 L1058.8 1952.2 L1059.9 1952.5 L1061 1952.3 L1062 1952.3 L1063.1 1952.3 L1064.2 1952.1 L1065.2 1952.5 L1066.3 1952.7 L1067.4 1952.1 L1068.5 1952.2 L1069.5 1952.7 L1070.6 1952.3 L1071.7 1952.6 L1072.7 1952.3 L1073.8 1952.4 L1074.9 1952.8 L1076 1952.7 L1077 1952.6 L1078.1 1952.8 L1079.2 1952.8 L1080.2 1952.7 L1081.3 1952.5 L1082.4 1952.5 L1083.4 1952.6 L1084.5 1952.5 L1085.6 1952.1 L1086.7 1952.2 L1087.7 1952.2 L1088.8 1952.5 L1089.9 1952.4 L1090.9 1952.5 L1092 1952.4 L1093.1 1952.6 L1094.1 1952.2 L1095.2 1952.2 L1096.3 1952.2 L1097.3 1952.2 L1098.4 1952.3 L1099.5 1951.8 L1100.6 1951.8 L1101.6 1951.7 L1102.7 1951.8 L1103.8 1951.9 L1104.8 1951.7 L1105.9 1952.2 L1107 1952.2 L1108 1951.7 L1109.1 1951.8 L1110.2 1951.8 L1111.3 1951.6 L1112.3 1951.9 L1113.4 1951.9 L1114.5 1951.8 L1115.5 1952.2 L1116.6 1951.9 L1117.7 1951.8 L1118.8 1952 L1119.8 1952.2 L1120.9 1952.2 L1122 1952.5 L1123 1952.2 L1124.1 1951.7 L1125.2 1951.8 L1126.2 1952.1 L1127.3 1952.2 L1128.4 1951.8 L1129.5 1951.8 L1130.5 1951.9 L1131.6 1952.2 L1132.7 1951.9 L1133.7 1951.8 L1134.8 1952.2 L1135.9 1952.2 L1136.9 1952.1 L1138 1952 L1139.1 1952 L1140.2 1951.9 L1141.2 1952 L1142.3 1952.2 L1143.4 1952 L1144.4 1951.8 L1145.5 1952 L1146.6 1951.9 L1147.6 1952.1 L1148.7 1952.3 L1149.8 1952.2 L1150.8 1952.2 L1151.9 1952.5 L1153 1952.2 L1154.1 1952.4 L1155.1 1952.2 L1156.2 1952.1 L1157.3 1952.3 L1158.3 1952.5 L1159.4 1952.4 L1160.5 1952.7 L1161.5 1952.4 L1162.6 1952.2 L1163.7 1952.4 L1164.8 1952.2 L1165.8 1952.7 L1166.9 1953 L1168 1952.5 L1169 1952.2 L1170.1 1952.9 L1171.2 1952.3 L1172.2 1952.8 L1173.3 1952.4 L1174.4 1952.8 L1175.5 1952.8 L1176.5 1952.6 L1177.6 1953 L1178.7 1952.6 L1179.7 1952.7 L1180.8 1952.4 L1181.9 1952.5 L1183 1952.5 L1184 1952.5 L1185.1 1952 L1186.2 1952.3 L1187.2 1952.3 L1188.3 1952.8 L1189.4 1951.9 L1190.4 1952.2 L1191.5 1952.1 L1192.6 1952 L1193.7 1952.1 L1194.7 1951.7 L1195.8 1952 L1196.9 1951.9 L1197.9 1951.9 L1199 1951.8 L1200.1 1951.9 L1201.1 1951.8 L1202.2 1951.9 L1203.3 1951.9 L1204.3 1951.8 L1205.4 1952.1 L1206.5 1952.1 L1207.6 1951.9 L1208.6 1951.9 L1209.7 1951.7 L1210.8 1952.3 L1211.8 1951.7 L1212.9 1952.2 L1214 1952.3 L1215 1952.1 L1216.1 1952.1 L1217.2 1952 L1218.3 1952.7 L1219.3 1952 L1220.4 1952.2 L1221.5 1952 L1222.5 1952.4 L1223.6 1952.7 L1224.7 1952.5 L1225.8 1952.5 L1226.8 1952.3 L1227.9 1952.3 L1229 1953 L1230 1952.9 L1231.1 1952.5 L1232.2 1952.7 L1233.2 1952.3 L1234.3 1952.3 L1235.4 1952.1 L1236.5 1952.6 L1237.5 1952.3 L1238.6 1952.4 L1239.7 1952.5 L1240.7 1952.7 L1241.8 1952.3 L1242.9 1952.4 L1243.9 1952.6 L1245 1952.6 L1246.1 1953 L1247.2 1952.5 L1248.2 1952.6 L1249.3 1952.8 L1250.4 1952.3 L1251.4 1952.6 L1252.5 1952.9 L1253.6 1952.7 L1254.6 1952.9 L1255.7 1952.8 L1256.8 1953 L1257.8 1952.7 L1258.9 1953.1 L1260 1952.9 L1261.1 1952.7 L1262.1 1952.8 L1263.2 1952.7 L1264.3 1952.9 L1265.3 1952.9 L1266.4 1952.7 L1267.5 1952.8 L1268.5 1952.5 L1269.6 1952.8 L1270.7 1952.7 L1271.8 1952.8 L1272.8 1952.5 L1273.9 1952.9 L1275 1952.5 L1276 1952.4 L1277.1 1952.5 L1278.2 1952.3 L1279.2 1952.7 L1280.3 1952.9 L1281.4 1952.6 L1282.5 1952.5 L1283.5 1952.3 L1284.6 1952.4 L1285.7 1952.4 L1286.7 1952.3 L1287.8 1951.8 L1288.9 1952.3 L1290 1952.1 L1291 1952 L1292.1 1951.7 L1293.2 1952.3 L1294.2 1952.4 L1295.3 1952" fill="none" stroke="#ED7D31" stroke-width="4.5" stroke-linejoin="round" stroke-linecap="round"/>
<path d="M867.3 1951.9 L868.4 1951.8 L869.4 1952.2 L870.5 1952.2 L871.6 1952.4 L872.6 1951.9 L873.7 1951.8 L874.8 1952.3 L875.9 1952.2 L876.9 1952.4 L878 1951.7 L879.1 1952.1 L880.1 1952.4 L881.2 1952.3 L882.3 1952.2 L883.3 1952.7 L884.4 1952.4 L885.5 1952.4 L886.6 1952.6 L887.6 1952.4 L888.7 1952.3 L889.8 1952.6 L890.8 1952.7 L891.9 1952.4 L893 1952.5 L894 1952.4 L895.1 1952 L896.2 1952.3 L897.3 1952.4 L898.3 1952.6 L899.4 1952.2 L900.5 1952.1 L901.5 1952 L902.6 1951.9 L903.7 1951.8 L904.8 1951.9 L905.8 1951.8 L906.9 1951.6 L908 1951.8 L909 1951.8 L910.1 1951.7 L911.2 1951.4 L912.2 1951.8 L913.3 1951.4 L914.4 1951.3 L915.4 1951.2 L916.5 1951.4 L917.6 1951.1 L918.7 1951.1 L919.7 1951.2 L920.8 1951.1 L921.9 1951.1 L922.9 1951.3 L924 1951.1 L925.1 1951.3 L926.1 1950.7 L927.2 1951.2 L928.3 1951.3 L929.4 1951.5 L930.4 1951.2 L931.5 1951.2 L932.6 1951.3 L933.6 1951.7 L934.7 1951.7 L935.8 1951.7 L936.8 1951.5 L937.9 1951.8 L939 1951.7 L940.1 1951.3 L941.1 1952.2 L942.2 1951.9 L943.3 1951.9 L944.3 1952.3 L945.4 1951.7 L946.5 1952.1 L947.5 1952 L948.6 1951.9 L949.7 1951.8 L950.8 1952.2 L951.8 1952.2 L952.9 1952.4 L954 1952.4 L955 1951.7 L956.1 1952.2 L957.2 1952.5 L958.2 1951.9 L959.3 1951.7 L960.4 1952.3 L961.5 1952.1 L962.5 1952.3 L963.6 1952.4 L964.7 1952 L965.7 1952.2 L966.8 1952.2 L967.9 1951.9 L968.9 1951.8 L970 1951.9 L971.1 1951.5 L972.2 1951.9 L973.2 1951.8 L974.3 1951.6 L975.4 1951.2 L976.4 1951.3 L977.5 1951.5 L978.6 1951.6 L979.6 1952 L980.7 1951.3 L981.8 1951.7 L982.9 1951.1 L983.9 1951.6 L985 1952 L986.1 1951.4 L987.1 1951.6 L988.2 1951.7 L989.3 1951.6 L990.3 1951.6 L991.4 1951.5 L992.5 1952 L993.6 1951.6 L994.6 1951.5 L995.7 1951.9 L996.8 1951.3 L997.8 1951.7 L998.9 1952.1 L1000 1951.3 L1001 1951.7 L1002.1 1951.6 L1003.2 1951.7 L1004.3 1951.3 L1005.3 1951.7 L1006.4 1951.9 L1007.5 1951.9 L1008.5 1951.6 L1009.6 1951.7 L1010.7 1952 L1011.8 1951.6 L1012.8 1952 L1013.9 1951.9 L1015 1951.8 L1016 1951.9 L1017.1 1951.9 L1018.2 1952 L1019.2 1952.2 L1020.3 1952.1 L1021.4 1952.1 L1022.4 1952.4 L1023.5 1952.5 L1024.6 1952.2 L1025.7 1952.3 L1026.7 1952.3 L1027.8 1952.1 L1028.9 1952.2 L1029.9 1952.5 L1031 1952.2 L1032.1 1952.5 L1033.2 1952 L1034.2 1952.1 L1035.3 1952.3 L1036.4 1952.5 L1037.4 1952.2 L1038.5 1952.3 L1039.6 1952.4 L1040.6 1952.1 L1041.7 1952.2 L1042.8 1952 L1043.8 1952.1 L1044.9 1951.6 L1046 1951.6 L1047.1 1952.3 L1048.1 1952.3 L1049.2 1952 L1050.3 1951.4 L1051.3 1951.5 L1052.4 1951.6 L1053.5 1951.5 L1054.5 1951.8 L1055.6 1951.4 L1056.7 1951.6 L1057.8 1951.3 L1058.8 1951.4 L1059.9 1951.4 L1061 1951.3 L1062 1951.1 L1063.1 1950.8 L1064.2 1951.5 L1065.2 1951 L1066.3 1951.2 L1067.4 1950.8 L1068.5 1950.9 L1069.5 1951.4 L1070.6 1951.2 L1071.7 1950.9 L1072.7 1950.9 L1073.8 1951.4 L1074.9 1951.6 L1076 1951.3 L1077 1951.1 L1078.1 1951.3 L1079.2 1951.5 L1080.2 1951.5 L1081.3 1951.5 L1082.4 1951.7 L1083.4 1951.9 L1084.5 1951.6 L1085.6 1951.7 L1086.7 1951.7 L1087.7 1951.9 L1088.8 1952.1 L1089.9 1951.8 L1090.9 1951.8 L1092 1951.6 L1093.1 1952.3 L1094.1 1952.2 L1095.2 1952.1 L1096.3 1951.6 L1097.3 1952.6 L1098.4 1951.9 L1099.5 1952.2 L1100.6 1952.3 L1101.6 1951.8 L1102.7 1951.8 L1103.8 1952.7 L1104.8 1952.2 L1105.9 1951.9 L1107 1952 L1108 1951.6 L1109.1 1952 L1110.2 1951.9 L1111.3 1952.2 L1112.3 1951.6 L1113.4 1951.7 L1114.5 1951.5 L1115.5 1951.8 L1116.6 1951.3 L1117.7 1951.8 L1118.8 1951.3 L1119.8 1951.2 L1120.9 1951.8 L1122 1951.6 L1123 1951.8 L1124.1 1952 L1125.2 1951.5 L1126.2 1951.7 L1127.3 1951.4 L1128.4 1951.4 L1129.5 1952.1 L1130.5 1951.8 L1131.6 1951.7 L1132.7 1951.6 L1133.7 1951.8 L1134.8 1952 L1135.9 1951.9 L1136.9 1951.8 L1138 1952.2 L1139.1 1952.2 L1140.2 1952.2 L1141.2 1952.1 L1142.3 1951.7 L1143.4 1952.1 L1144.4 1951.9 L1145.5 1951.7 L1146.6 1951.8 L1147.6 1952 L1148.7 1952.1 L1149.8 1952.1 L1150.8 1952.1 L1151.9 1952.2 L1153 1952 L1154.1 1951.9 L1155.1 1952.2 L1156.2 1952.3 L1157.3 1952.1 L1158.3 1952 L1159.4 1951.9 L1160.5 1952 L1161.5 1952 L1162.6 1952.4 L1163.7 1952.1 L1164.8 1952.1 L1165.8 1952.2 L1166.9 1951.9 L1168 1952 L1169 1952.2 L1170.1 1951.9 L1171.2 1951.7 L1172.2 1951.5 L1173.3 1952 L1174.4 1952.1 L1175.5 1951.8 L1176.5 1951.6 L1177.6 1952.1 L1178.7 1951.8 L1179.7 1952 L1180.8 1951.7 L1181.9 1952 L1183 1951.9 L1184 1951.9 L1185.1 1951.8 L1186.2 1952.1 L1187.2 1951.8 L1188.3 1951.9 L1189.4 1951.3 L1190.4 1951.4 L1191.5 1951.8 L1192.6 1951.7 L1193.7 1951.5 L1194.7 1951.7 L1195.8 1951.6 L1196.9 1951.4 L1197.9 1951.2 L1199 1951.3 L1200.1 1951.1 L1201.1 1951.4 L1202.2 1951.4 L1203.3 1951.5 L1204.3 1951.5 L1205.4 1951.5 L1206.5 1951.1 L1207.6 1951.2 L1208.6 1951.4 L1209.7 1951.4 L1210.8 1951.6 L1211.8 1951.3 L1212.9 1951.5 L1214 1951.5 L1215 1951.6 L1216.1 1951.9 L1217.2 1951.7 L1218.3 1951.3 L1219.3 1951.9 L1220.4 1951.9 L1221.5 1951.8 L1222.5 1952 L1223.6 1952.1 L1224.7 1952.2 L1225.8 1952.2 L1226.8 1952 L1227.9 1952.5 L1229 1952.4 L1230 1952.4 L1231.1 1952.1 L1232.2 1952.3 L1233.2 1952.1 L1234.3 1952.3 L1235.4 1951.9 L1236.5 1952.5 L1237.5 1951.7 L1238.6 1952.4 L1239.7 1952.2 L1240.7 1952.3 L1241.8 1952.1 L1242.9 1951.7 L1243.9 1951.8 L1245 1952.1 L1246.1 1951.8 L1247.2 1951.5 L1248.2 1951.7 L1249.3 1951.9 L1250.4 1951.7 L1251.4 1951.6 L1252.5 1952.1 L1253.6 1951.8 L1254.6 1951.6 L1255.7 1951.2 L1256.8 1951.4 L1257.8 1951.5 L1258.9 1951.9 L1260 1951.6 L1261.1 1951.8 L1262.1 1951.5 L1263.2 1951.6 L1264.3 1951.3 L1265.3 1951.5 L1266.4 1951.5 L1267.5 1951.5 L1268.5 1951.4 L1269.6 1951.7 L1270.7 1951.8 L1271.8 1951.6 L1272.8 1951 L1273.9 1951.9 L1275 1952 L1276 1951.8 L1277.1 1952.2 L1278.2 1951.8 L1279.2 1952.3 L1280.3 1952.1 L1281.4 1952.2 L1282.5 1952.3 L1283.5 1952.1 L1284.6 1952.2 L1285.7 1952 L1286.7 1952.2 L1287.8 1952.4 L1288.9 1952.2 L1290 1952.2 L1291 1952.3 L1292.1 1952.3 L1293.2 1952.1 L1294.2 1952.5 L1295.3 1952.1" fill="none" stroke="#FF66FF" stroke-width="4.5" stroke-linejoin="round" stroke-linecap="round"/>
<path d="M867.3 1953.2 L868.4 1953.1 L869.4 1953.1 L870.5 1953.4 L871.6 1953.1 L872.6 1953.3 L873.7 1953.3 L874.8 1953.3 L875.9 1953.3 L876.9 1953.2 L878 1953.4 L879.1 1953.3 L880.1 1953.4 L881.2 1953.3 L882.3 1953.3 L883.3 1953.2 L884.4 1953.2 L885.5 1953.4 L886.6 1953.3 L887.6 1953.5 L888.7 1953.3 L889.8 1953.2 L890.8 1953.3 L891.9 1953 L893 1953.2 L894 1953.3 L895.1 1953.2 L896.2 1953.3 L897.3 1953.2 L898.3 1953.2 L899.4 1953.2 L900.5 1953.5 L901.5 1953.3 L902.6 1953.1 L903.7 1953.1 L904.8 1953.1 L905.8 1953.1 L906.9 1953.1 L908 1953.1 L909 1953.1 L910.1 1953 L911.2 1953 L912.2 1953.2 L913.3 1953 L914.4 1953 L915.4 1953.1 L916.5 1953.3 L917.6 1953.1 L918.7 1953 L919.7 1953.3 L920.8 1953.2 L921.9 1953.1 L922.9 1952.8 L924 1952.9 L925.1 1953 L926.1 1952.9 L927.2 1952.9 L928.3 1953.1 L929.4 1953 L930.4 1952.8 L931.5 1953 L932.6 1952.7 L933.6 1953 L934.7 1953 L935.8 1953 L936.8 1952.9 L937.9 1952.9 L939 1952.8 L940.1 1952.7 L941.1 1953 L942.2 1953.1 L943.3 1953 L944.3 1953 L945.4 1952.8 L946.5 1952.9 L947.5 1953 L948.6 1952.7 L949.7 1953.2 L950.8 1953.2 L951.8 1952.9 L952.9 1953 L954 1953.1 L955 1953.3 L956.1 1953.1 L957.2 1953.1 L958.2 1953.2 L959.3 1953.2 L960.4 1953.4 L961.5 1953.1 L962.5 1953.3 L963.6 1953.1 L964.7 1953.3 L965.7 1953.3 L966.8 1953.2 L967.9 1953.3 L968.9 1953.1 L970 1953.3 L971.1 1953.2 L972.2 1953.1 L973.2 1953.1 L974.3 1953 L975.4 1953.1 L976.4 1952.9 L977.5 1953.1 L978.6 1953.1 L979.6 1953 L980.7 1952.8 L981.8 1953.2 L982.9 1953 L983.9 1952.8 L985 1952.9 L986.1 1953.1 L987.1 1952.8 L988.2 1952.8 L989.3 1952.9 L990.3 1953 L991.4 1952.9 L992.5 1952.9 L993.6 1952.7 L994.6 1953 L995.7 1953.1 L996.8 1952.9 L997.8 1952.9 L998.9 1952.8 L1000 1953.2 L1001 1953 L1002.1 1952.9 L1003.2 1953 L1004.3 1953 L1005.3 1953.1 L1006.4 1952.9 L1007.5 1953.2 L1008.5 1953.1 L1009.6 1953.2 L1010.7 1953.2 L1011.8 1953.1 L1012.8 1953.2 L1013.9 1953.2 L1015 1953.2 L1016 1953.2 L1017.1 1953.2 L1018.2 1953.4 L1019.2 1953.1 L1020.3 1953.5 L1021.4 1953.5 L1022.4 1953.4 L1023.5 1953.4 L1024.6 1953.2 L1025.7 1953.2 L1026.7 1953.2 L1027.8 1953.2 L1028.9 1953.2 L1029.9 1952.9 L1031 1953.3 L1032.1 1953.2 L1033.2 1953.2 L1034.2 1953 L1035.3 1953.2 L1036.4 1953.2 L1037.4 1953.2 L1038.5 1953.1 L1039.6 1953.2 L1040.6 1953 L1041.7 1953 L1042.8 1953 L1043.8 1953 L1044.9 1953 L1046 1952.9 L1047.1 1953.1 L1048.1 1953.1 L1049.2 1953 L1050.3 1953 L1051.3 1952.9 L1052.4 1953 L1053.5 1953.1 L1054.5 1953 L1055.6 1952.9 L1056.7 1953.1 L1057.8 1952.9 L1058.8 1952.8 L1059.9 1953.1 L1061 1953 L1062 1953 L1063.1 1953.2 L1064.2 1953 L1065.2 1953.2 L1066.3 1953 L1067.4 1952.9 L1068.5 1952.7 L1069.5 1952.8 L1070.6 1952.9 L1071.7 1952.8 L1072.7 1952.9 L1073.8 1952.9 L1074.9 1952.7 L1076 1952.9 L1077 1952.7 L1078.1 1952.6 L1079.2 1952.8 L1080.2 1952.8 L1081.3 1952.9 L1082.4 1952.7 L1083.4 1952.7 L1084.5 1952.6 L1085.6 1952.7 L1086.7 1952.8 L1087.7 1952.7 L1088.8 1952.7 L1089.9 1952.8 L1090.9 1952.7 L1092 1952.8 L1093.1 1952.7 L1094.1 1952.7 L1095.2 1952.7 L1096.3 1953 L1097.3 1952.9 L1098.4 1952.7 L1099.5 1952.7 L1100.6 1953 L1101.6 1953.1 L1102.7 1953 L1103.8 1953 L1104.8 1953.1 L1105.9 1953.1 L1107 1952.9 L1108 1953.1 L1109.1 1953 L1110.2 1953.1 L1111.3 1953.2 L1112.3 1953 L1113.4 1953.1 L1114.5 1953.2 L1115.5 1953.1 L1116.6 1953.2 L1117.7 1953.3 L1118.8 1953.3 L1119.8 1953.3 L1120.9 1953.3 L1122 1953.2 L1123 1953.1 L1124.1 1953.1 L1125.2 1953.3 L1126.2 1953.2 L1127.3 1953.4 L1128.4 1952.9 L1129.5 1953.2 L1130.5 1953 L1131.6 1953.2 L1132.7 1953.1 L1133.7 1953.1 L1134.8 1953 L1135.9 1953 L1136.9 1953.2 L1138 1953 L1139.1 1952.9 L1140.2 1953 L1141.2 1953.1 L1142.3 1953 L1143.4 1952.9 L1144.4 1953 L1145.5 1953 L1146.6 1953.3 L1147.6 1953.1 L1148.7 1953.1 L1149.8 1953 L1150.8 1953.2 L1151.9 1953 L1153 1953.2 L1154.1 1953.1 L1155.1 1953.2 L1156.2 1953 L1157.3 1953.1 L1158.3 1953.2 L1159.4 1953.3 L1160.5 1953.3 L1161.5 1953.2 L1162.6 1953.2 L1163.7 1953.2 L1164.8 1953.3 L1165.8 1953.1 L1166.9 1953.1 L1168 1953.2 L1169 1953.2 L1170.1 1953.1 L1171.2 1953.2 L1172.2 1953.1 L1173.3 1953.1 L1174.4 1952.9 L1175.5 1953.1 L1176.5 1953.2 L1177.6 1952.8 L1178.7 1953.1 L1179.7 1953.3 L1180.8 1953.1 L1181.9 1953.2 L1183 1953.2 L1184 1953.1 L1185.1 1952.8 L1186.2 1953.1 L1187.2 1953.2 L1188.3 1953 L1189.4 1953.1 L1190.4 1953.2 L1191.5 1953.2 L1192.6 1953.3 L1193.7 1953.1 L1194.7 1953.2 L1195.8 1953.2 L1196.9 1953.3 L1197.9 1953.2 L1199 1953.3 L1200.1 1953.3 L1201.1 1953.1 L1202.2 1953.5 L1203.3 1953.3 L1204.3 1953.4 L1205.4 1953.2 L1206.5 1953.2 L1207.6 1953.4 L1208.6 1953.5 L1209.7 1953.3 L1210.8 1953 L1211.8 1953 L1212.9 1953.2 L1214 1953.3 L1215 1953.1 L1216.1 1953.1 L1217.2 1952.9 L1218.3 1952.9 L1219.3 1952.7 L1220.4 1952.9 L1221.5 1952.7 L1222.5 1952.9 L1223.6 1952.9 L1224.7 1952.6 L1225.8 1952.7 L1226.8 1952.8 L1227.9 1952.6 L1229 1952.6 L1230 1952.8 L1231.1 1952.6 L1232.2 1952.6 L1233.2 1952.7 L1234.3 1952.8 L1235.4 1952.6 L1236.5 1952.7 L1237.5 1952.9 L1238.6 1952.9 L1239.7 1952.8 L1240.7 1952.7 L1241.8 1953 L1242.9 1952.8 L1243.9 1953 L1245 1952.8 L1246.1 1953.1 L1247.2 1953.1 L1248.2 1952.9 L1249.3 1953 L1250.4 1953.2 L1251.4 1953.1 L1252.5 1953.4 L1253.6 1953.1 L1254.6 1953.1 L1255.7 1953.3 L1256.8 1953.2 L1257.8 1953.3 L1258.9 1953.1 L1260 1953.3 L1261.1 1953.3 L1262.1 1953.5 L1263.2 1953.3 L1264.3 1953.3 L1265.3 1953.1 L1266.4 1953.1 L1267.5 1953.3 L1268.5 1953.2 L1269.6 1953.3 L1270.7 1953.4 L1271.8 1953.2 L1272.8 1953 L1273.9 1953.1 L1275 1953 L1276 1953.1 L1277.1 1953 L1278.2 1953.2 L1279.2 1953.2 L1280.3 1953 L1281.4 1953 L1282.5 1952.9 L1283.5 1953.1 L1284.6 1953.1 L1285.7 1953 L1286.7 1953.1 L1287.8 1952.9 L1288.9 1953 L1290 1953.3 L1291 1953 L1292.1 1953.1 L1293.2 1953.1 L1294.2 1953.1 L1295.3 1953.2" fill="none" stroke="#264478" stroke-width="4.5" stroke-linejoin="round" stroke-linecap="round"/>
<path d="M867.3 1951.5 L868.4 1951.7 L869.4 1951.2 L870.5 1951.5 L871.6 1951.4 L872.6 1951.5 L873.7 1951.7 L874.8 1951.5 L875.9 1951.6 L876.9 1951.6 L878 1951.7 L879.1 1951.8 L880.1 1951.7 L881.2 1951.7 L882.3 1951.5 L883.3 1951.9 L884.4 1951.5 L885.5 1952.2 L886.6 1951.9 L887.6 1951.6 L888.7 1951.7 L889.8 1951.4 L890.8 1952 L891.9 1951.8 L893 1951.7 L894 1951.3 L895.1 1950.9 L896.2 1951.4 L897.3 1951.2 L898.3 1951.3 L899.4 1950.8 L900.5 1950.7 L901.5 1950.7 L902.6 1950.9 L903.7 1950.7 L904.8 1950.8 L905.8 1950.7 L906.9 1950.6 L908 1950.4 L909 1950.9 L910.1 1950.1 L911.2 1950.4 L912.2 1950 L913.3 1950.2 L914.4 1950.5 L915.4 1950.4 L916.5 1950.4 L917.6 1950.8 L918.7 1950.5 L919.7 1950.8 L920.8 1950.8 L921.9 1951.1 L922.9 1951.1 L924 1951.3 L925.1 1951.5 L926.1 1951.3 L927.2 1951.3 L928.3 1951.5 L929.4 1952 L930.4 1951.8 L931.5 1952 L932.6 1952 L933.6 1952.2 L934.7 1952.2 L935.8 1952.1 L936.8 1952.2 L937.9 1952.2 L939 1952.3 L940.1 1952.4 L941.1 1952.3 L942.2 1952.6 L943.3 1952.1 L944.3 1952.2 L945.4 1952.2 L946.5 1951.9 L947.5 1952.3 L948.6 1951.7 L949.7 1951.7 L950.8 1951.7 L951.8 1951.9 L952.9 1951.6 L954 1951.6 L955 1951.6 L956.1 1951.3 L957.2 1951.2 L958.2 1951.4 L959.3 1951.1 L960.4 1950.2 L961.5 1951.2 L962.5 1950.7 L963.6 1950.9 L964.7 1950.9 L965.7 1950.6 L966.8 1951 L967.9 1951.1 L968.9 1950.6 L970 1950.6 L971.1 1950.7 L972.2 1950.4 L973.2 1950.7 L974.3 1950.6 L975.4 1951.1 L976.4 1950.4 L977.5 1950.9 L978.6 1950.9 L979.6 1950.8 L980.7 1951.1 L981.8 1950.9 L982.9 1951.1 L983.9 1950.9 L985 1951.4 L986.1 1951.3 L987.1 1951.3 L988.2 1951.5 L989.3 1951.6 L990.3 1951.4 L991.4 1951.8 L992.5 1951.8 L993.6 1951.6 L994.6 1951.6 L995.7 1951.7 L996.8 1951.7 L997.8 1951.8 L998.9 1951.4 L1000 1951.5 L1001 1951.2 L1002.1 1951.7 L1003.2 1951.4 L1004.3 1951.6 L1005.3 1951.5 L1006.4 1951.8 L1007.5 1950.8 L1008.5 1951.2 L1009.6 1951.2 L1010.7 1951.3 L1011.8 1951.6 L1012.8 1951.6 L1013.9 1951.6 L1015 1951.2 L1016 1951.5 L1017.1 1951.3 L1018.2 1951.2 L1019.2 1951.3 L1020.3 1951.4 L1021.4 1951.4 L1022.4 1951.2 L1023.5 1951.3 L1024.6 1951.5 L1025.7 1951.1 L1026.7 1951.1 L1027.8 1951.2 L1028.9 1951.3 L1029.9 1951.5 L1031 1951 L1032.1 1951.5 L1033.2 1951.5 L1034.2 1951.6 L1035.3 1951.2 L1036.4 1951.4 L1037.4 1951.6 L1038.5 1951.5 L1039.6 1951.5 L1040.6 1951.2 L1041.7 1951.2 L1042.8 1951.5 L1043.8 1951.4 L1044.9 1951.3 L1046 1951.2 L1047.1 1951.2 L1048.1 1951.2 L1049.2 1951.2 L1050.3 1951.3 L1051.3 1951.3 L1052.4 1951 L1053.5 1950.9 L1054.5 1950.7 L1055.6 1951.1 L1056.7 1950.9 L1057.8 1951.1 L1058.8 1951 L1059.9 1951.2 L1061 1951 L1062 1951.1 L1063.1 1951 L1064.2 1950.8 L1065.2 1951.2 L1066.3 1951.1 L1067.4 1951.2 L1068.5 1950.9 L1069.5 1951 L1070.6 1951.1 L1071.7 1951.1 L1072.7 1951 L1073.8 1950.7 L1074.9 1951.3 L1076 1951.1 L1077 1951.3 L1078.1 1951.5 L1079.2 1951.7 L1080.2 1951.5 L1081.3 1951.5 L1082.4 1951.5 L1083.4 1951.6 L1084.5 1951.8 L1085.6 1951.3 L1086.7 1952.1 L1087.7 1952 L1088.8 1951.4 L1089.9 1951.6 L1090.9 1951.7 L1092 1951.8 L1093.1 1951.2 L1094.1 1951.6 L1095.2 1951.8 L1096.3 1951.6 L1097.3 1951.2 L1098.4 1951.5 L1099.5 1951.5 L1100.6 1951.5 L1101.6 1951.4 L1102.7 1951.6 L1103.8 1951.5 L1104.8 1951.3 L1105.9 1950.8 L1107 1951.6 L1108 1951.3 L1109.1 1951.5 L1110.2 1950.6 L1111.3 1951.4 L1112.3 1951.4 L1113.4 1950.9 L1114.5 1950.9 L1115.5 1951.4 L1116.6 1950.7 L1117.7 1950.9 L1118.8 1950.8 L1119.8 1951 L1120.9 1951.3 L1122 1950.4 L1123 1951.2 L1124.1 1951 L1125.2 1951.1 L1126.2 1950.7 L1127.3 1951.1 L1128.4 1951.1 L1129.5 1950.8 L1130.5 1950.8 L1131.6 1950.9 L1132.7 1950.8 L1133.7 1950.7 L1134.8 1950.8 L1135.9 1951 L1136.9 1950.9 L1138 1950.6 L1139.1 1950.6 L1140.2 1950.6 L1141.2 1950.6 L1142.3 1950.8 L1143.4 1950.8 L1144.4 1950.8 L1145.5 1951 L1146.6 1951 L1147.6 1951 L1148.7 1950.8 L1149.8 1950.9 L1150.8 1950.7 L1151.9 1950.5 L1153 1950.8 L1154.1 1950.9 L1155.1 1951 L1156.2 1951.1 L1157.3 1950.8 L1158.3 1950.9 L1159.4 1950.7 L1160.5 1951 L1161.5 1950.9 L1162.6 1951.2 L1163.7 1950.7 L1164.8 1951.2 L1165.8 1951.1 L1166.9 1950.8 L1168 1951.2 L1169 1950.7 L1170.1 1950.5 L1171.2 1951.3 L1172.2 1950.9 L1173.3 1950.6 L1174.4 1950.7 L1175.5 1951.2 L1176.5 1951.1 L1177.6 1950.9 L1178.7 1951.2 L1179.7 1951.3 L1180.8 1950.9 L1181.9 1950.8 L1183 1950.8 L1184 1950.5 L1185.1 1950.6 L1186.2 1950.5 L1187.2 1950.3 L1188.3 1950.3 L1189.4 1950.7 L1190.4 1950.5 L1191.5 1950.3 L1192.6 1950.6 L1193.7 1950.2 L1194.7 1950.1 L1195.8 1950.2 L1196.9 1949.8 L1197.9 1950 L1199 1949.4 L1200.1 1949.4 L1201.1 1949.6 L1202.2 1949.5 L1203.3 1949.4 L1204.3 1949.7 L1205.4 1949.2 L1206.5 1949.3 L1207.6 1949.1 L1208.6 1949 L1209.7 1949.6 L1210.8 1949 L1211.8 1948.9 L1212.9 1949.2 L1214 1949.3 L1215 1949.3 L1216.1 1949 L1217.2 1949.7 L1218.3 1949.6 L1219.3 1949.6 L1220.4 1948.9 L1221.5 1950.1 L1222.5 1949.7 L1223.6 1949.5 L1224.7 1949.5 L1225.8 1949.5 L1226.8 1949.8 L1227.9 1950.4 L1229 1950.1 L1230 1950.1 L1231.1 1950 L1232.2 1950.1 L1233.2 1950.1 L1234.3 1950.1 L1235.4 1950 L1236.5 1950.6 L1237.5 1950.1 L1238.6 1949.9 L1239.7 1950.2 L1240.7 1950.2 L1241.8 1951 L1242.9 1950.3 L1243.9 1950.5 L1245 1950.4 L1246.1 1950 L1247.2 1950.5 L1248.2 1949.8 L1249.3 1950.6 L1250.4 1950.2 L1251.4 1950.3 L1252.5 1950.1 L1253.6 1950 L1254.6 1950.1 L1255.7 1950 L1256.8 1950.5 L1257.8 1950.3 L1258.9 1950.1 L1260 1949.8 L1261.1 1949.6 L1262.1 1950 L1263.2 1949.8 L1264.3 1949.7 L1265.3 1949.6 L1266.4 1949.6 L1267.5 1949.8 L1268.5 1949.8 L1269.6 1949.3 L1270.7 1949.7 L1271.8 1949 L1272.8 1949.3 L1273.9 1949.4 L1275 1949.3 L1276 1949.5 L1277.1 1949.5 L1278.2 1949.3 L1279.2 1949.7 L1280.3 1949.1 L1281.4 1949.4 L1282.5 1949.3 L1283.5 1949.3 L1284.6 1949.3 L1285.7 1949.4 L1286.7 1949.8 L1287.8 1949.5 L1288.9 1949.5 L1290 1949.7 L1291 1949.9 L1292.1 1949.8 L1293.2 1949.9 L1294.2 1950.2 L1295.3 1950.1" fill="none" stroke="#70AD47" stroke-width="4.5" stroke-linejoin="round" stroke-linecap="round"/>
<text x="818.8" y="1963.9" font-size="34.5" fill="#000">0</text>
<text x="790.3" y="1914.2" font-size="34.5" fill="#000">0.1</text>
<text x="790.4" y="1864.5" font-size="34.5" fill="#000">0.2</text>
<text x="790.2" y="1814.8" font-size="34.5" fill="#000">0.3</text>
<text x="789.7" y="1765.1" font-size="34.5" fill="#000">0.4</text>
<text x="790.1" y="1715.4" font-size="34.5" fill="#000">0.5</text>
<text x="857.7" y="2005" font-size="34.5" fill="#000">0</text>
<text x="955" y="2005" font-size="34.5" fill="#000">25</text>
<text x="1062.1" y="2005" font-size="34.5" fill="#000">50</text>
<text x="1169" y="2005" font-size="34.5" fill="#000">75</text>
<text x="1265.9" y="2005" font-size="34.5" fill="#000">100</text>
<text x="952" y="2045" font-size="31.5" fill="#000">Time (sec)</text>
<text transform="translate(773.5,1806.8) rotate(-90)" x="-108" y="0" font-size="31.5">Response (nm)</text>
<rect x="1158.2" y="1703.5" width="23" height="38.5" fill="#00FFFF"/>
<rect x="1200.4" y="1703.5" width="24.9" height="38.5" fill="#00FFFF"/>
<text x="1108.4" y="1734.7" font-size="34.5" fill="#000">GV</text>
<text x="1158.2" y="1734.7" font-size="34.5" fill="#000">K</text>
<text x="1181.3" y="1734.7" font-size="34.5" fill="#000">L</text>
<text x="1200.4" y="1734.7" font-size="34.5" fill="#000">H</text>
<text x="1225.4" y="1734.7" font-size="34.5" fill="#000">YT/β’</text>
<text x="1181.9" y="1775.3" font-size="34.5" fill="#000">(pH 6.5)</text>
<line x1="153.5" y1="2108.4" x2="213.2" y2="2108.4" stroke="#4472C4" stroke-width="4.8" stroke-linecap="round"/>
<text x="219.7" y="2119.4" font-size="35" fill="#000">8μM</text>
<line x1="299.8" y1="2108.4" x2="358.9" y2="2108.4" stroke="#ED7D31" stroke-width="4.8" stroke-linecap="round"/>
<text x="365.4" y="2119.4" font-size="35" fill="#000">5μM</text>
<line x1="445.1" y1="2108.4" x2="503.6" y2="2108.4" stroke="#A5A5A5" stroke-width="4.8" stroke-linecap="round"/>
<text x="509.9" y="2119.4" font-size="35" fill="#000">2μM</text>
<line x1="590.8" y1="2108.4" x2="649.4" y2="2108.4" stroke="#FFC000" stroke-width="4.8" stroke-linecap="round"/>
<text x="656.8" y="2119.4" font-size="35" fill="#000">1μM</text>
<line x1="735.9" y1="2108.4" x2="794.5" y2="2108.4" stroke="#FF66FF" stroke-width="4.8" stroke-linecap="round"/>
<text x="801.3" y="2119.4" font-size="35" fill="#000">0.3μM</text>
<line x1="910.4" y1="2108.4" x2="969.2" y2="2108.4" stroke="#70AD47" stroke-width="4.8" stroke-linecap="round"/>
<text x="975.6" y="2119.4" font-size="35" fill="#000">0.1μM</text>
<line x1="1084.4" y1="2108.4" x2="1143.6" y2="2108.4" stroke="#2E75B6" stroke-width="4.8" stroke-linecap="round"/>
<text x="1150" y="2119.4" font-size="35" fill="#000">0.05μM</text>
</svg>
</body></html>
